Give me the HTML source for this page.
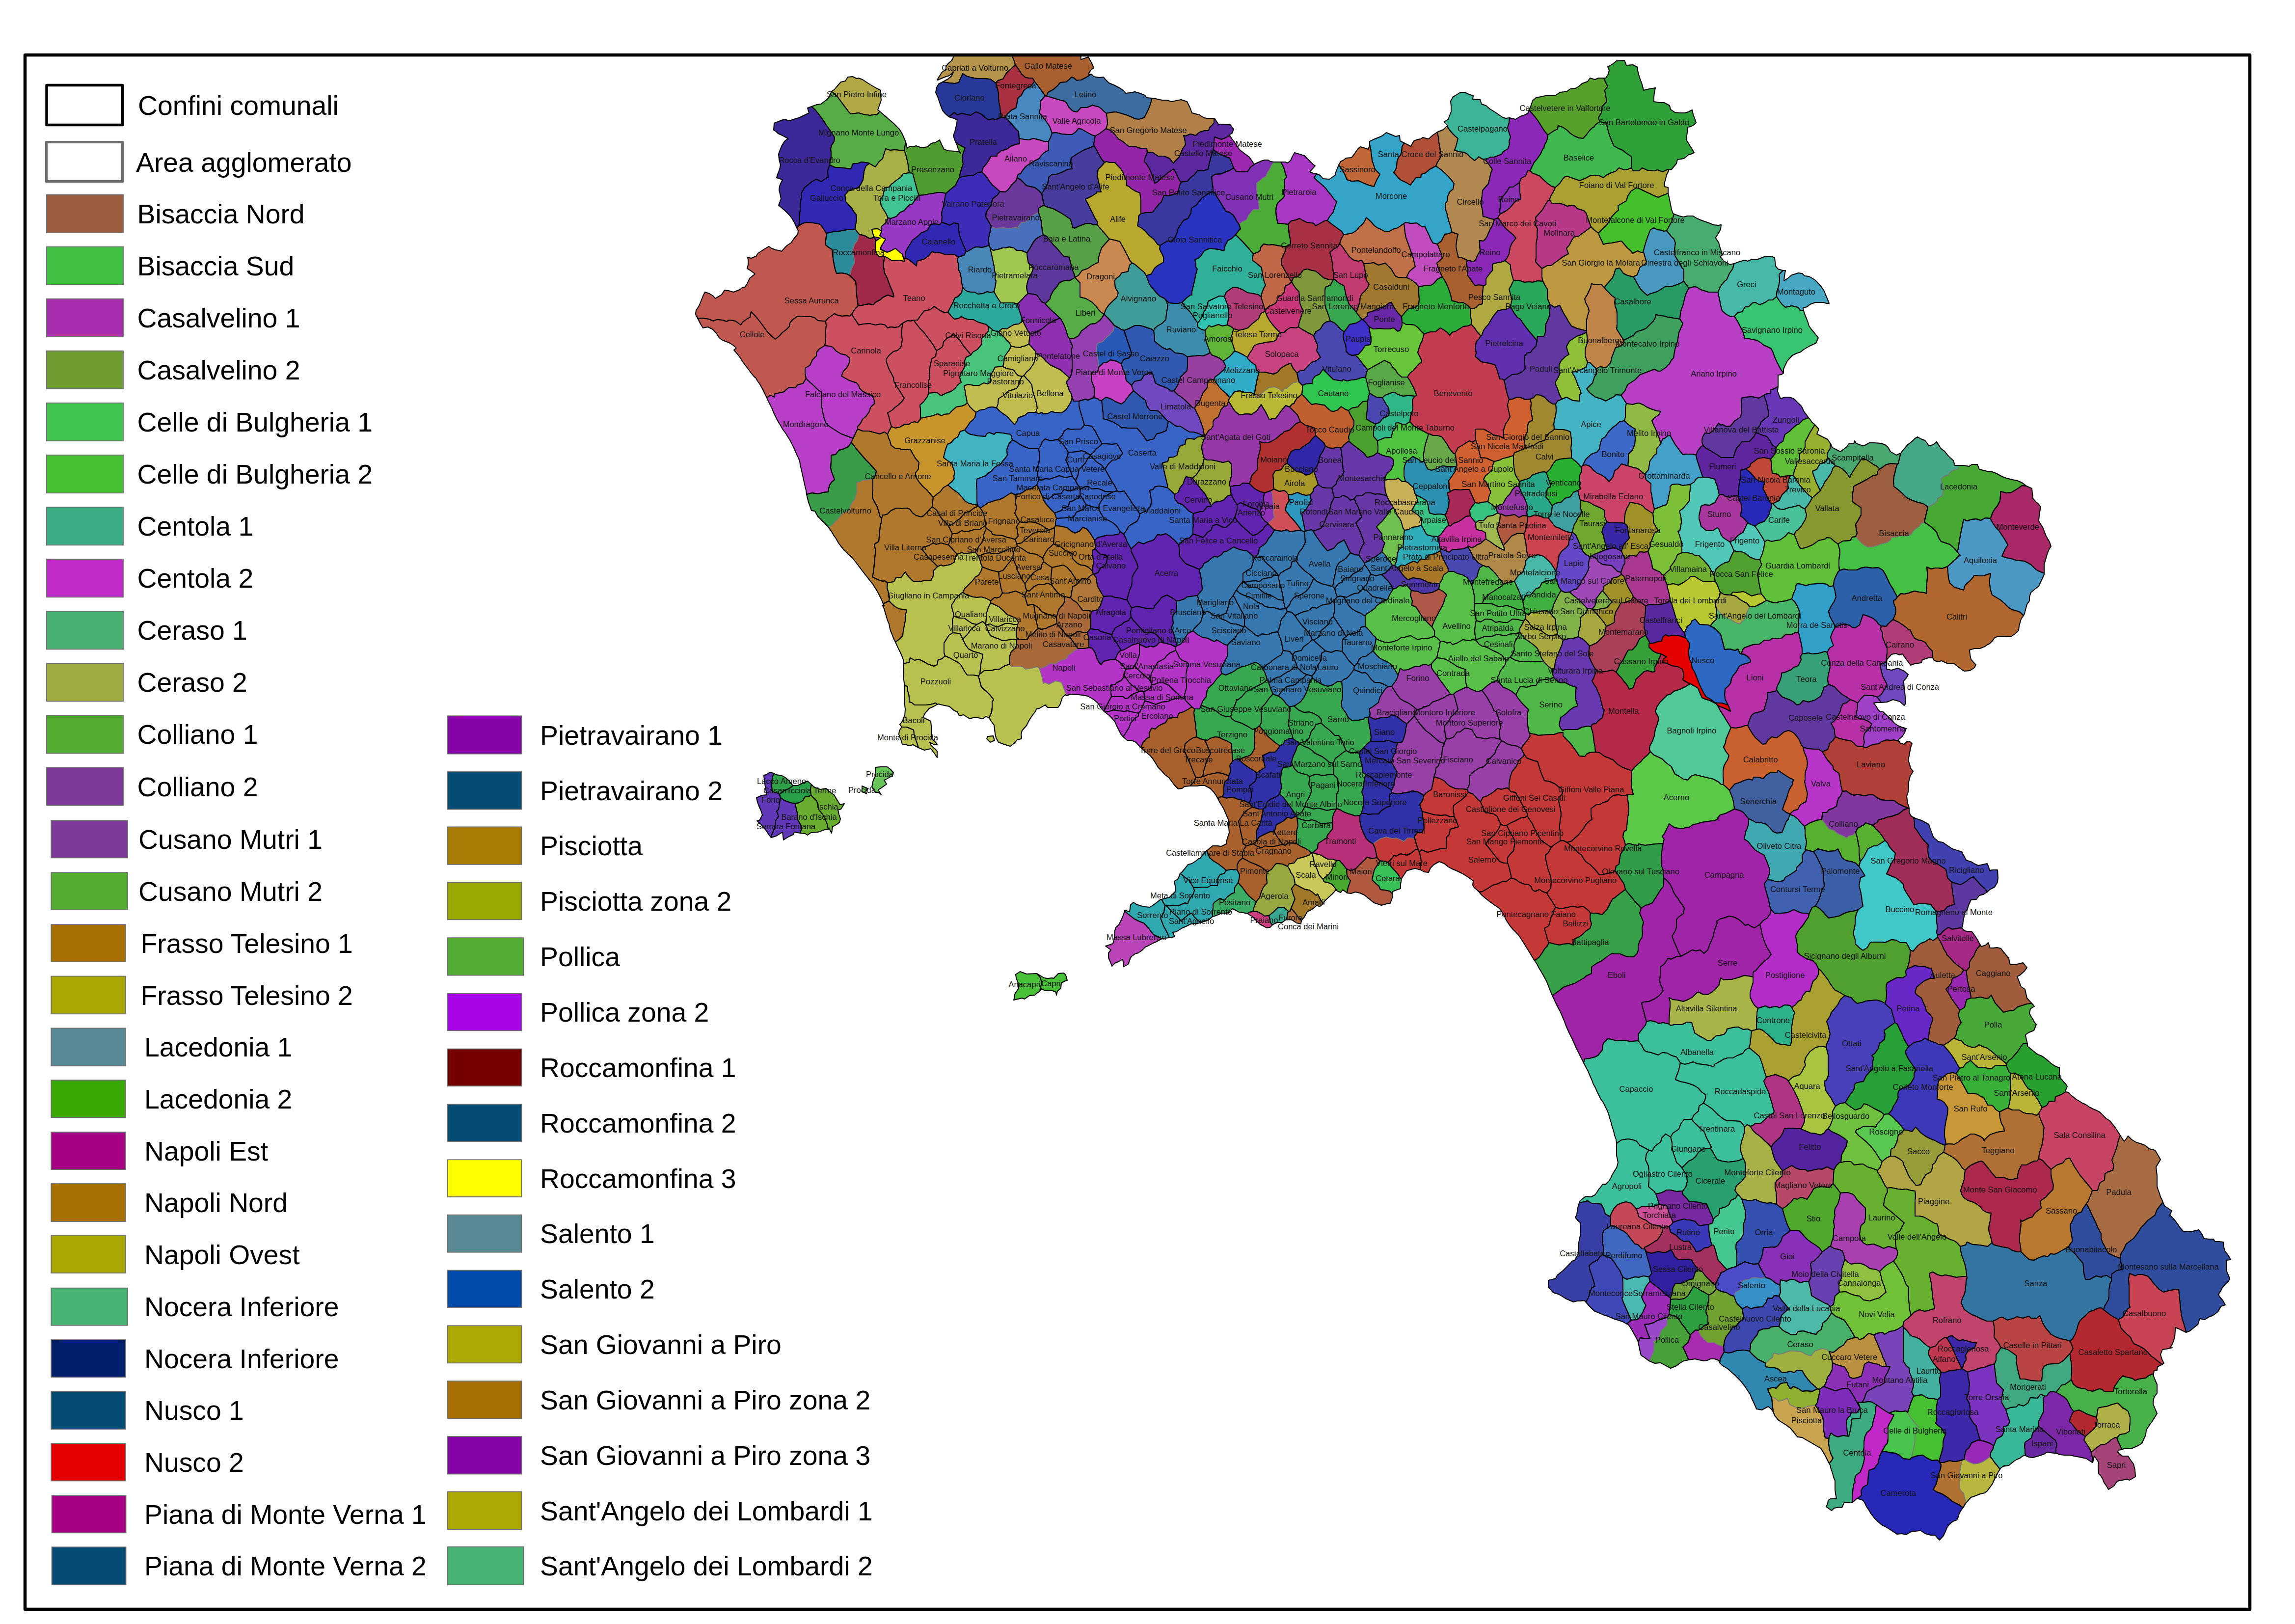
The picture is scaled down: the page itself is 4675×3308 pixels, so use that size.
<!DOCTYPE html><html><head><meta charset="utf-8"><title>Agglomerati Campania</title><style>
html,body{margin:0;padding:0;background:#fff}body{width:4675px;height:3308px;overflow:hidden}
svg{display:block}text{font-family:"Liberation Sans",sans-serif}
.lg{font-size:55.3px;fill:#000}.lb{font-size:16.5px;fill:#151515;text-anchor:middle}
.sw{stroke:#6e6e6e;stroke-width:1.8}
#map path{stroke:#000;stroke-width:2;stroke-linejoin:round}
#map .zf path{stroke:#787878;stroke-width:1.6}#map .ol path{fill:none}
</style></head><body>
<svg width="4675" height="3308" viewBox="0 0 4675 3308">
<rect width="4675" height="3308" fill="#fff"/>
<defs><clipPath id="fr"><rect x="51" y="112" width="4532" height="3166"/></clipPath></defs>
<g id="map" clip-path="url(#fr)">
<g class="zf">
<path fill="#6c389c" d="M2071,364 2069,369 2062,375 2054,386 2048,391 2037,390 2031,398 2028,400 2022,405 2018,419 2013,426 2009,432 2008,441 2013,450 2019,460 2020,463 2029,465 2044,464 2052,465 2059,465 2069,463 2076,466 2074,462 2081,453 2089,453 2098,443 2113,434 2116,434 2116,424 2124,419 2128,419 2125,411 2124,403 2122,395 2117,389 2108,382 2099,380 2091,378 2085,372 2078,365 2072,362Z"/>
<path fill="#4870bc" d="M2092,515 2099,504 2105,493 2111,486 2116,483 2125,478 2123,469 2122,460 2121,451 2119,443 2116,434 2113,434 2098,443 2089,453 2081,453 2074,462 2076,466 2069,463 2059,465 2052,465 2044,464 2029,465 2020,463 2019,460 2017,471 2014,484 2014,493 2015,500 2017,505 2023,510 2033,508 2042,505 2047,505 2056,503 2065,505 2071,510 2080,510Z"/>
<path fill="#2c8c9c" d="M1683,475 1683,481 1682,490 1682,499 1688,504 1695,508 1696,517 1697,527 1699,538 1701,548 1704,557 1715,556 1725,558 1731,561 1734,549 1738,540 1741,535 1740,527 1738,518 1737,509 1741,497 1746,491 1748,485 1750,477 1746,472 1742,467 1736,468 1725,468 1714,470 1706,472 1697,472 1689,474Z"/>
<path fill="#a02848" d="M1741,535 1738,540 1734,549 1731,561 1737,567 1743,573 1744,583 1744,592 1745,601 1746,609 1747,616 1748,623 1755,622 1770,619 1779,621 1783,616 1794,610 1798,606 1808,601 1821,605 1819,596 1815,587 1811,577 1807,566 1802,556 1800,545 1800,534 1802,523 1803,522 1791,523 1787,518 1783,512 1783,503 1783,492 1784,490 1781,483 1772,486 1761,480 1750,477 1748,485 1746,491 1741,497 1737,509 1738,518 1740,527Z"/>
<path fill="#8030b4" d="M2595,330 2588,329 2583,326 2576,326 2569,328 2565,330 2556,334 2547,341 2541,350 2527,350 2518,349 2513,342 2505,347 2497,350 2488,354 2475,355 2468,360 2469,369 2470,377 2471,384 2471,391 2475,393 2479,401 2484,409 2489,417 2493,424 2498,431 2504,432 2512,438 2517,446 2520,452 2524,457 2530,452 2539,448 2544,438 2553,427 2563,427 2565,427 2564,411 2562,403 2561,394 2560,385 2560,375 2560,373 2564,370 2572,363 2579,359 2581,353 2586,346 2590,337Z"/>
<path fill="#4cac38" d="M2595,330 2590,337 2586,346 2581,353 2579,359 2572,363 2564,370 2560,373 2560,375 2560,385 2561,394 2562,403 2564,411 2565,427 2563,427 2553,427 2544,438 2539,448 2530,452 2524,457 2527,466 2524,469 2517,478 2524,485 2532,493 2540,502 2547,510 2553,517 2562,514 2567,510 2568,504 2574,497 2584,499 2592,498 2602,500 2614,502 2620,502 2627,499 2629,496 2628,486 2626,477 2625,467 2624,457 2617,456 2609,455 2603,455 2600,442 2599,430 2600,420 2603,413 2613,404 2616,400 2615,391 2617,379 2616,366 2621,361 2618,352 2616,344 2613,337 2609,330Z"/>
<path fill="#389c48" d="M1693,927 1693,939 1692,953 1694,961 1697,969 1700,977 1694,982 1690,988 1688,995 1687,1002 1677,1003 1667,1006 1654,1004 1643,1007 1645,1015 1647,1023 1650,1031 1653,1040 1660,1041 1666,1052 1673,1059 1680,1066 1686,1072 1689,1076 1691,1073 1698,1066 1708,1056 1714,1048 1722,1042 1730,1041 1731,1033 1735,1025 1742,1015 1745,1002 1745,990 1745,982 1752,982 1757,978 1764,978 1778,976 1783,969 1785,960 1779,953 1772,945 1764,937 1757,929 1750,921 1744,914 1739,907 1734,901 1728,910 1717,915 1709,917 1702,926Z"/>
<path fill="#b0782c" d="M1745,982 1745,990 1745,1002 1742,1015 1735,1025 1731,1033 1730,1041 1722,1042 1714,1048 1708,1056 1698,1066 1691,1073 1689,1076 1694,1083 1698,1090 1703,1097 1708,1106 1714,1114 1720,1121 1727,1128 1733,1133 1736,1136 1740,1141 1744,1146 1750,1154 1756,1162 1763,1171 1770,1180 1778,1190 1783,1198 1788,1206 1792,1214 1796,1222 1799,1230 1811,1224 1812,1217 1810,1208 1807,1197 1808,1187 1802,1183 1798,1184 1789,1181 1777,1175 1779,1167 1780,1159 1781,1148 1782,1137 1783,1127 1783,1118 1781,1110 1783,1107 1787,1105 1790,1103 1791,1093 1792,1082 1793,1072 1795,1064 1796,1056 1792,1051 1790,1042 1787,1033 1783,1025 1779,1018 1777,1012 1777,1005 1778,997 1778,987 1778,976 1764,978 1757,978 1752,982Z"/>
<path fill="#2858b8" d="M2290,673 2284,671 2276,666 2270,663 2268,673 2260,682 2252,689 2246,696 2236,699 2234,705 2233,715 2235,725 2237,737 2238,748 2248,739 2255,738 2262,733 2275,736 2284,741 2289,732 2300,729 2305,720 2302,710 2299,701 2296,693 2294,686 2292,680Z"/>
<path fill="#9440b0" d="M2270,663 2265,657 2260,651 2255,646 2249,640 2245,647 2240,653 2231,659 2222,660 2216,664 2210,669 2203,674 2197,684 2188,689 2178,689 2181,697 2185,705 2182,713 2183,721 2184,730 2184,740 2184,751 2183,761 2179,770 2179,770 2172,778 2175,786 2178,795 2182,802 2184,810 2187,817 2198,817 2211,813 2216,815 2228,810 2230,800 2230,792 2227,785 2224,777 2223,768 2224,758 2236,758 2238,748 2237,737 2235,725 2233,715 2234,705 2236,699 2246,696 2252,689 2260,682 2268,673Z"/>
<path fill="#b8b834" d="M2585,789 2576,796 2570,801 2563,811 2556,804 2548,799 2538,800 2525,796 2515,798 2505,810 2503,814 2503,818 2507,824 2511,831 2516,838 2525,845 2539,843 2550,844 2560,837 2569,824 2569,824 2573,831 2578,839 2582,847 2586,855 2591,853 2598,853 2602,848 2609,838 2619,826 2627,829 2632,823 2636,822 2637,819 2642,811 2652,803 2653,794 2653,785 2646,778 2635,779 2624,788 2621,791 2617,791 2612,798 2611,797 2606,792 2597,788Z"/>
<path fill="#a07828" d="M2629,740 2621,743 2609,750 2603,758 2594,762 2585,760 2581,759 2574,758 2565,758 2562,767 2560,776 2558,787 2556,798 2556,804 2563,811 2570,801 2576,796 2585,789 2597,788 2606,792 2611,797 2612,798 2617,791 2621,791 2624,788 2635,779 2646,778 2644,769 2642,760 2634,750Z"/>
<path fill="#9030b8" d="M2590,999 2576,1004 2574,1011 2573,1024 2569,1035 2566,1043 2571,1055 2576,1061 2583,1066 2590,1060 2596,1054 2594,1046 2594,1037 2594,1028 2593,1018 2592,1009Z"/>
<path fill="#d05058" d="M2626,1020 2625,1014 2624,1007 2620,1002 2616,999 2606,1001 2595,996 2590,999 2592,1009 2593,1018 2594,1028 2594,1037 2594,1046 2596,1054 2590,1060 2583,1066 2583,1067 2589,1073 2595,1079 2603,1081 2611,1082 2621,1079 2628,1083 2641,1081 2651,1080 2645,1072 2639,1064 2633,1057 2627,1051 2623,1045 2618,1039 2621,1028Z"/>
<path fill="#44c044" d="M3920,1064 3914,1066 3909,1072 3900,1079 3895,1084 3894,1088 3883,1092 3874,1091 3866,1093 3853,1095 3851,1100 3844,1105 3831,1108 3824,1111 3814,1114 3804,1114 3797,1110 3792,1106 3787,1101 3780,1093 3773,1094 3769,1101 3754,1102 3744,1108 3747,1118 3748,1126 3747,1132 3746,1141 3746,1152 3747,1162 3756,1159 3765,1161 3771,1161 3776,1161 3782,1161 3791,1157 3801,1155 3814,1157 3826,1156 3835,1161 3840,1169 3844,1177 3847,1184 3851,1192 3856,1199 3860,1207 3865,1216 3872,1209 3879,1210 3888,1208 3896,1205 3900,1204 3910,1206 3920,1207 3925,1209 3924,1199 3925,1188 3926,1177 3926,1165 3925,1155 3934,1159 3941,1157 3948,1157 3956,1158 3967,1154 3976,1146 3984,1139 3990,1132 3993,1132 3993,1132 3987,1124 3980,1116 3972,1109 3963,1106 3954,1103 3950,1097 3947,1090 3945,1084 3940,1079 3935,1074 3928,1069Z"/>
<path fill="#9c6040" d="M3833,953 3829,955 3825,960 3824,967 3815,969 3802,977 3789,984 3779,989 3776,991 3776,995 3774,1004 3773,1017 3774,1022 3779,1026 3785,1030 3791,1034 3791,1049 3785,1060 3780,1068 3781,1077 3783,1086 3780,1093 3787,1101 3792,1106 3797,1110 3804,1114 3814,1114 3824,1111 3831,1108 3844,1105 3851,1100 3853,1095 3866,1093 3874,1091 3883,1092 3894,1088 3895,1084 3900,1079 3909,1072 3914,1066 3920,1064 3922,1054 3925,1042 3927,1032 3918,1026 3906,1023 3895,1019 3889,1016 3887,1016 3881,1011 3874,1004 3866,997 3858,991 3857,980 3858,971 3860,963 3862,954 3865,945 3851,944 3841,947Z"/>
<path fill="#48a834" d="M4028,946 4017,946 4011,950 4000,948 3990,948 3989,955 3979,958 3972,962 3969,968 3962,969 3954,975 3956,984 3958,992 3958,1000 3957,1009 3946,1016 3946,1020 3941,1025 3931,1031 3927,1032 3925,1042 3922,1054 3920,1064 3928,1069 3935,1074 3940,1079 3945,1084 3947,1090 3950,1097 3954,1103 3963,1106 3972,1109 3980,1116 3987,1124 3989,1117 3991,1104 3993,1092 3994,1086 3996,1077 3998,1067 4000,1058 4007,1061 4016,1058 4026,1057 4035,1060 4044,1055 4054,1056 4056,1053 4059,1044 4064,1036 4069,1030 4074,1020 4075,1009 4075,1001 4087,1004 4097,1003 4104,999 4112,994 4119,989 4128,990 4120,984 4114,981 4109,979 4099,977 4087,974 4079,971 4066,964 4058,961 4048,960 4044,959 4032,956Z"/>
<path fill="#44a888" d="M3921,897 3913,894 3906,890 3901,893 3895,899 3887,905 3878,915 3872,923 3872,924 3870,930 3869,935 3867,944 3865,945 3862,954 3860,963 3858,971 3857,980 3858,991 3866,997 3874,1004 3881,1011 3887,1016 3889,1016 3895,1019 3906,1023 3918,1026 3927,1032 3931,1031 3941,1025 3946,1020 3946,1016 3957,1009 3958,1000 3958,992 3956,984 3954,975 3962,969 3969,968 3972,962 3979,958 3989,955 3990,948 3982,948 3979,938 3969,929 3961,919 3953,913 3949,906 3945,900 3938,906 3929,908 3925,902Z"/>
<path fill="#b434c8" d="M2196,1321 2186,1327 2182,1331 2176,1334 2173,1341 2165,1344 2160,1345 2150,1352 2139,1351 2137,1352 2133,1356 2123,1360 2117,1361 2120,1371 2123,1381 2125,1392 2130,1391 2137,1394 2150,1387 2162,1390 2162,1390 2166,1399 2169,1408 2173,1417 2181,1414 2196,1415 2206,1416 2216,1418 2228,1425 2235,1431 2237,1433 2240,1438 2244,1444 2249,1449 2253,1440 2259,1428 2264,1419 2263,1411 2263,1403 2262,1396 2272,1394 2274,1391 2284,1386 2291,1377 2291,1369 2293,1363 2287,1355 2280,1348 2272,1343 2260,1344 2248,1347 2243,1354 2238,1348 2234,1340 2231,1330 2226,1322 2224,1320 2218,1319 2218,1319 2208,1321 2203,1321Z"/>
<path fill="#b8c050" d="M2162,1390 2150,1387 2137,1394 2130,1391 2125,1392 2123,1381 2120,1371 2117,1361 2113,1358 2101,1361 2089,1363 2083,1358 2075,1358 2067,1358 2061,1358 2056,1353 2045,1357 2036,1363 2026,1364 2018,1366 2014,1366 2005,1366 1996,1373 1993,1377 1995,1384 1997,1392 1999,1399 2004,1404 2010,1409 2017,1416 2024,1425 2021,1430 2021,1440 2020,1451 2017,1457 2015,1463 2019,1469 2025,1477 2026,1485 2027,1494 2029,1503 2034,1512 2045,1516 2058,1520 2066,1514 2072,1507 2080,1505 2081,1503 2080,1496 2082,1488 2091,1478 2096,1468 2101,1460 2104,1456 2110,1448 2111,1444 2117,1443 2129,1436 2134,1441 2142,1441 2155,1441 2159,1436 2161,1430 2164,1421 2170,1415 2173,1417 2169,1408 2166,1399 2162,1390Z"/>
<path fill="#a86838" d="M2115,1280 2111,1283 2104,1291 2095,1297 2093,1302 2086,1303 2076,1302 2072,1301 2071,1303 2071,1312 2069,1320 2060,1327 2057,1336 2057,1344 2056,1353 2061,1358 2067,1358 2075,1358 2083,1358 2089,1363 2101,1361 2113,1358 2117,1361 2123,1360 2133,1356 2137,1352 2139,1351 2150,1352 2160,1345 2165,1344 2173,1341 2176,1334 2182,1331 2186,1327 2196,1321 2192,1316 2188,1310 2183,1303 2178,1296 2171,1293 2166,1285 2159,1278 2153,1270 2142,1275 2136,1277 2131,1280 2121,1282Z"/>
<path fill="#3030a8" d="M2899,1619 2888,1613 2876,1611 2872,1613 2860,1615 2850,1617 2846,1617 2835,1615 2831,1618 2830,1626 2831,1634 2833,1642 2825,1644 2813,1652 2808,1658 2798,1658 2786,1659 2783,1657 2773,1657 2770,1661 2770,1671 2772,1682 2775,1691 2779,1700 2783,1708 2789,1714 2797,1719 2805,1713 2813,1708 2824,1705 2835,1708 2844,1707 2854,1711 2860,1714 2867,1707 2875,1707 2882,1708 2881,1704 2887,1696 2896,1696 2901,1687 2900,1675 2898,1664 2897,1653 2892,1639 2896,1633 2899,1627 2900,1621Z"/>
<path fill="#c43838" d="M2828,1757 2833,1751 2840,1742 2844,1744 2853,1739 2866,1742 2874,1738 2884,1730 2889,1731 2885,1719 2882,1708 2875,1707 2867,1707 2860,1714 2854,1711 2844,1707 2835,1708 2824,1705 2813,1708 2805,1713 2797,1719 2801,1728 2803,1737 2805,1747 2811,1754 2820,1754Z"/>
<path fill="#48b468" d="M3612,1300 3620,1301 3629,1300 3637,1293 3648,1293 3656,1289 3663,1288 3663,1282 3664,1273 3664,1262 3665,1252 3665,1244 3661,1234 3656,1226 3650,1220 3637,1224 3624,1226 3617,1228 3611,1227 3605,1225 3598,1223 3590,1228 3574,1236 3564,1236 3560,1244 3556,1253 3553,1261 3544,1271 3535,1268 3526,1262 3518,1258 3511,1254 3502,1246 3496,1239 3497,1251 3496,1262 3489,1268 3484,1275 3492,1279 3499,1286 3505,1292 3507,1300 3509,1307 3511,1315 3513,1323 3524,1322 3534,1325 3540,1322 3545,1332 3547,1332 3550,1323 3554,1319 3560,1317 3571,1313 3584,1312 3594,1304 3605,1304 3611,1300Z"/>
<path fill="#a8a840" d="M3544,1271 3553,1261 3556,1253 3560,1244 3564,1236 3559,1229 3553,1226 3544,1221 3537,1215 3532,1213 3525,1212 3512,1211 3504,1206 3503,1214 3499,1221 3494,1224 3494,1231 3496,1239 3502,1246 3511,1254 3518,1258 3526,1262 3535,1268Z"/>
<path fill="#8038a0" d="M3741,1642 3733,1647 3726,1649 3721,1655 3713,1655 3712,1661 3711,1669 3718,1678 3725,1688 3730,1690 3736,1692 3745,1699 3755,1703 3762,1707 3766,1703 3775,1701 3780,1695 3784,1687 3797,1680 3800,1676 3806,1678 3815,1681 3825,1674 3826,1670 3835,1668 3846,1664 3853,1663 3867,1658 3874,1653 3877,1650 3887,1646 3877,1642 3867,1637 3859,1631 3850,1630 3840,1630 3832,1629 3824,1625 3816,1619 3807,1619 3797,1621 3789,1619 3783,1618 3777,1620 3769,1617 3761,1611 3753,1612 3749,1622 3745,1626 3743,1632Z"/>
<path fill="#58b030" d="M3679,1731 3694,1735 3703,1729 3718,1733 3723,1734 3726,1734 3738,1733 3744,1729 3747,1735 3750,1742 3753,1748 3761,1753 3772,1755 3780,1758 3787,1765 3789,1756 3788,1746 3787,1736 3787,1726 3785,1716 3783,1705 3780,1695 3775,1701 3766,1703 3762,1707 3755,1703 3745,1699 3736,1692 3730,1690 3725,1688 3718,1678 3711,1669 3700,1671 3687,1676 3676,1683 3677,1690 3677,1698 3678,1706 3680,1714 3679,1722 3677,1730Z"/>
<path fill="#48a038" d="M3415,2682 3408,2680 3400,2677 3396,2684 3396,2688 3396,2693 3395,2700 3385,2709 3382,2715 3379,2727 3368,2733 3370,2738 3369,2741 3369,2751 3364,2763 3359,2772 3371,2777 3381,2776 3383,2776 3392,2781 3403,2787 3408,2785 3415,2782 3423,2776 3430,2772 3440,2770 3436,2761 3432,2752 3428,2744 3438,2735 3442,2726 3443,2719 3437,2712 3432,2704 3426,2697 3421,2689Z"/>
<path fill="#9848c8" d="M3396,2684 3392,2684 3385,2687 3375,2690 3369,2694 3359,2697 3350,2698 3353,2705 3355,2712 3358,2719 3361,2726 3354,2727 3341,2725 3337,2735 3339,2743 3341,2753 3343,2761 3347,2763 3351,2766 3359,2772 3364,2763 3369,2751 3369,2741 3370,2738 3368,2733 3379,2727 3382,2715 3385,2709 3395,2700 3396,2693 3396,2688Z"/>
<path fill="#70a030" d="M3496,2625 3490,2633 3481,2638 3481,2646 3479,2656 3475,2670 3476,2677 3479,2681 3479,2692 3480,2697 3474,2699 3464,2707 3459,2710 3464,2720 3471,2728 3479,2735 3492,2735 3501,2740 3511,2743 3513,2731 3516,2723 3525,2711 3529,2704 3536,2701 3545,2691 3552,2686 3551,2678 3549,2666 3545,2662 3541,2658 3537,2653 3532,2640 3525,2638 3517,2633 3508,2631 3501,2628Z"/>
<path fill="#a82cb0" d="M3443,2719 3442,2726 3438,2735 3428,2744 3432,2752 3436,2761 3440,2770 3453,2768 3461,2770 3471,2772 3478,2771 3484,2768 3493,2768 3501,2771 3503,2776 3504,2769 3508,2761 3512,2754 3511,2743 3501,2740 3492,2735 3479,2735 3471,2728 3464,2720 3459,2710 3454,2709Z"/>
<path fill="#3890c8" d="M3547,2611 3548,2622 3544,2628 3536,2632 3532,2640 3537,2653 3541,2658 3545,2662 3549,2666 3558,2661 3567,2666 3575,2663 3589,2662 3591,2661 3597,2654 3601,2644 3610,2645 3614,2639 3624,2640 3627,2632 3626,2618 3618,2614 3606,2605 3597,2602 3596,2602 3588,2604 3575,2602 3568,2603 3564,2606 3555,2607Z"/>
<path fill="#4c4cc8" d="M3596,2602 3597,2602 3593,2595 3589,2588 3585,2581 3582,2574 3572,2575 3563,2573 3554,2570 3547,2574 3537,2579 3536,2580 3525,2583 3518,2586 3512,2590 3506,2592 3503,2599 3498,2608 3494,2618 3496,2625 3501,2628 3508,2631 3517,2633 3525,2638 3532,2640 3536,2632 3544,2628 3548,2622 3547,2611 3555,2607 3564,2606 3568,2603 3575,2602 3588,2604Z"/>
<path fill="#48b068" d="M3731,2674 3728,2679 3721,2689 3713,2695 3712,2700 3710,2708 3704,2712 3699,2718 3691,2716 3683,2714 3674,2711 3663,2712 3659,2718 3649,2719 3642,2715 3637,2713 3631,2709 3624,2702 3614,2702 3607,2703 3604,2706 3591,2707 3582,2711 3580,2718 3575,2724 3570,2731 3566,2737 3566,2745 3564,2752 3565,2754 3573,2762 3581,2769 3589,2773 3597,2777 3605,2769 3611,2765 3612,2760 3614,2756 3623,2759 3631,2757 3643,2753 3645,2752 3657,2752 3665,2753 3670,2754 3679,2759 3689,2762 3697,2752 3712,2747 3721,2749 3726,2753 3734,2755 3741,2750 3745,2746 3755,2740 3763,2729 3770,2727 3779,2724 3774,2716 3769,2707 3763,2698 3757,2689 3748,2685 3739,2681Z"/>
<path fill="#a0b040" d="M3643,2753 3631,2757 3623,2759 3614,2756 3612,2760 3611,2765 3605,2769 3597,2777 3597,2784 3607,2786 3615,2786 3623,2789 3629,2795 3634,2796 3640,2795 3647,2793 3655,2796 3660,2791 3671,2792 3677,2802 3683,2810 3689,2817 3696,2823 3702,2829 3706,2830 3715,2824 3719,2818 3721,2811 3723,2805 3727,2800 3732,2790 3733,2776 3731,2768 3729,2761 3726,2753 3721,2749 3712,2747 3697,2752 3689,2762 3679,2759 3670,2754 3665,2753 3657,2752 3645,2752Z"/>
<path fill="#c8a450" d="M3616,2885 3618,2887 3623,2893 3631,2898 3639,2903 3647,2909 3652,2915 3659,2924 3662,2927 3671,2928 3681,2934 3690,2939 3700,2945 3709,2950 3714,2958 3718,2965 3722,2973 3726,2981 3731,2975 3734,2970 3730,2963 3727,2954 3725,2942 3725,2930 3718,2929 3716,2919 3714,2909 3714,2901 3714,2893 3713,2887 3713,2887 3710,2881 3706,2875 3703,2869 3698,2863 3684,2864 3677,2867 3666,2869 3660,2867 3655,2865 3646,2861 3641,2848 3629,2853 3623,2854 3616,2848 3609,2847 3610,2857 3611,2866 3612,2876Z"/>
<path fill="#90b030" d="M3609,2847 3616,2848 3623,2854 3629,2853 3641,2848 3646,2861 3655,2865 3660,2867 3666,2869 3677,2867 3684,2864 3698,2863 3702,2857 3704,2847 3707,2835 3706,2830 3702,2829 3692,2834 3679,2833 3671,2834 3664,2829 3653,2824 3647,2829 3643,2823 3640,2816 3627,2818 3618,2828 3612,2826 3601,2829 3602,2833 3605,2840Z"/>
<path fill="#48c44c" d="M3908,2907 3902,2900 3897,2894 3893,2889 3889,2883 3886,2877 3882,2874 3877,2875 3869,2875 3860,2874 3851,2877 3849,2879 3858,2882 3854,2891 3849,2899 3846,2905 3846,2912 3846,2921 3846,2931 3845,2939 3840,2945 3834,2956 3833,2957 3842,2957 3850,2959 3861,2960 3869,2964 3877,2971 3885,2972 3890,2973 3894,2969 3897,2955 3900,2943 3901,2933 3901,2924 3903,2917Z"/>
<path fill="#44c030" d="M3908,2907 3903,2917 3901,2924 3901,2933 3900,2943 3897,2955 3894,2969 3907,2965 3917,2964 3925,2970 3935,2975 3947,2974 3951,2978 3951,2979 3951,2972 3955,2959 3958,2947 3958,2939 3959,2932 3963,2922 3958,2915 3954,2908 3948,2904 3943,2899 3945,2892 3945,2886 3944,2878 3944,2867 3946,2858 3947,2851 3939,2849 3930,2849 3923,2846 3915,2841 3908,2842 3898,2844 3895,2851 3892,2858 3889,2868 3886,2877 3889,2883 3893,2889 3897,2894 3902,2900Z"/>
<path fill="#b8b840" d="M4061,3017 4066,3007 4070,2999 4074,2993 4069,2986 4063,2979 4059,2973 4054,2967 4049,2971 4038,2978 4029,2981 4020,2982 4009,2977 4002,2972 3997,2974 3994,2986 3992,2998 3993,3008 3992,3020 3991,3031 3995,3037 4000,3042 4002,3052 4005,3061 4015,3050 4024,3047 4034,3043 4043,3041 4048,3037 4054,3029 4059,3022Z"/>
<path fill="#9828b8" d="M4002,2972 4009,2977 4020,2982 4029,2981 4038,2978 4049,2971 4054,2967 4055,2959 4060,2951 4061,2945 4054,2940 4043,2936 4034,2934 4030,2933 4016,2939 4011,2949 4005,2954 4002,2965Z"/>
<path fill="#b07030" d="M3947,3012 3944,3023 3938,3034 3945,3039 3951,3041 3958,3044 3967,3050 3975,3057 3984,3062 3992,3066 3999,3071 4003,3064 4005,3061 4002,3052 4000,3042 3995,3037 3991,3031 3992,3020 3993,3008 3992,2998 3994,2986 3997,2974 3985,2977 3978,2977 3972,2975 3959,2979 3951,2979 3951,2978 3954,2984 3953,2992 3949,3002Z"/>
</g>
<path fill="#b4944a" d="M2017,161 2024,166 2028,169 2033,164 2043,161 2050,149 2060,140 2068,132 2065,121 2061,113 2059,107 2050,103 2042,103 2032,103 2020,102 2012,105 2001,106 1988,106 1981,109 1972,106 1964,105 1960,106 1944,109 1941,119 1938,124 1933,128 1927,135 1927,141 1919,147 1913,156 1909,163 1910,163 1917,160 1927,156 1934,154 1942,147 1938,155 1931,161 1920,167 1934,169 1945,170 1953,168 1956,161 1958,157 1961,150 1969,155 1979,158 1990,160 1999,160 2007,160 2015,161Z"/>
<path fill="#a86030" d="M2201,107 2191,110 2185,104 2176,103 2165,101 2154,100 2140,107 2129,108 2123,107 2115,105 2107,101 2097,103 2085,108 2075,108 2068,108 2059,107 2061,113 2065,121 2068,132 2072,137 2076,143 2081,151 2089,158 2096,159 2103,159 2107,165 2107,166 2113,173 2118,180 2124,188 2129,195 2132,196 2135,188 2146,182 2154,175 2160,168 2172,167 2178,162 2183,157 2188,159 2193,164 2198,163 2202,163 2212,158 2223,151 2217,151 2222,143 2228,138 2223,127 2217,116 2203,121 2202,121Z"/>
<path fill="#a83040" d="M2028,169 2029,170 2032,181 2034,191 2034,200 2035,209 2037,219 2038,229 2040,239 2048,239 2052,232 2061,224 2068,221 2070,219 2072,209 2074,199 2080,195 2086,184 2094,178 2101,175 2107,166 2107,165 2103,159 2096,159 2089,158 2081,151 2076,143 2072,137 2068,132 2060,140 2050,149 2043,161 2033,164Z"/>
<path fill="#283898" d="M1953,168 1945,170 1934,169 1920,167 1912,171 1908,178 1906,188 1910,197 1913,206 1916,215 1920,225 1926,232 1933,238 1944,229 1950,234 1959,231 1968,233 1977,235 1988,228 1998,232 2005,238 2013,244 2023,242 2027,244 2040,239 2038,229 2037,219 2035,209 2034,200 2034,191 2032,181 2029,170 2028,169 2024,166 2017,161 2015,161 2007,160 1999,160 1990,160 1979,158 1969,155 1961,150 1958,157 1956,161Z"/>
<path fill="#b0a844" d="M1727,157 1722,165 1713,167 1704,177 1700,182 1694,186 1701,192 1708,200 1714,208 1719,215 1724,221 1728,227 1733,232 1742,231 1749,230 1759,233 1772,235 1784,233 1786,234 1792,227 1788,224 1792,213 1795,204 1794,195 1794,184 1786,180 1779,176 1769,170 1757,162 1749,159 1745,160 1737,156Z"/>
<path fill="#58ac48" d="M1653,217 1661,224 1668,233 1674,241 1679,248 1683,255 1687,260 1691,266 1695,272 1700,280 1699,288 1694,296 1692,303 1693,312 1693,320 1691,328 1690,336 1701,341 1710,341 1725,343 1733,344 1738,333 1747,333 1755,330 1770,332 1771,333 1783,340 1791,329 1798,323 1801,313 1804,303 1813,306 1823,305 1832,306 1842,306 1845,289 1841,280 1837,271 1832,263 1826,257 1820,251 1813,245 1805,238 1798,232 1792,227 1786,234 1784,233 1772,235 1759,233 1749,230 1742,231 1733,232 1728,227 1724,221 1719,215 1714,208 1708,200 1701,192 1694,186 1689,198 1684,203 1672,212 1664,213Z"/>
<path fill="#3c2898" d="M1700,280 1695,272 1691,266 1687,260 1683,255 1679,248 1674,241 1668,233 1661,224 1653,217 1645,220 1648,230 1638,235 1627,240 1620,242 1608,246 1598,243 1592,245 1582,249 1577,251 1576,265 1581,268 1585,272 1594,276 1605,282 1598,288 1593,296 1590,303 1588,308 1586,314 1587,325 1590,336 1588,345 1584,355 1582,362 1594,366 1590,374 1588,379 1587,387 1589,395 1591,405 1586,418 1593,424 1600,430 1608,438 1614,446 1619,455 1623,464 1628,459 1629,448 1629,438 1630,427 1630,418 1631,410 1632,405 1633,401 1632,394 1639,382 1643,379 1654,370 1663,365 1673,370 1683,363 1687,361 1686,348 1690,336 1691,328 1693,320 1693,312 1692,303 1694,296 1699,288Z"/>
<path fill="#509c30" d="M1845,289 1842,306 1845,315 1847,323 1849,331 1850,338 1851,345 1852,352 1859,353 1861,360 1863,368 1865,375 1867,383 1869,390 1872,398 1884,397 1893,395 1901,394 1910,392 1918,392 1927,394 1936,386 1942,381 1945,379 1947,377 1947,376 1951,368 1954,362 1956,353 1959,342 1962,334 1961,328 1960,321 1962,312 1966,301 1956,296 1947,290 1950,297 1952,304 1957,313 1953,309 1945,308 1931,307 1923,304 1918,294 1914,285 1906,290 1897,292 1890,299 1877,301 1866,297 1860,299 1853,298 1848,302Z"/>
<path fill="#a8b048" d="M1783,340 1771,333 1764,338 1760,349 1759,358 1758,366 1753,376 1748,383 1742,384 1728,389 1721,397 1723,411 1729,418 1735,424 1739,431 1744,437 1745,448 1743,457 1742,467 1746,472 1750,477 1761,480 1772,486 1781,483 1782,482 1780,482 1778,475 1776,467 1788,466 1795,470 1796,461 1802,456 1806,452 1809,444 1805,435 1800,427 1795,419 1793,406 1799,398 1801,388 1802,383 1811,381 1817,374 1818,374 1825,368 1836,360 1840,354 1852,352 1851,345 1850,338 1849,331 1847,323 1845,315 1842,306 1832,306 1823,305 1813,306 1804,303 1801,313 1798,323 1791,329Z"/>
<path fill="#40c494" d="M1872,398 1869,390 1867,383 1865,375 1863,368 1861,360 1859,353 1852,352 1840,354 1836,360 1825,368 1818,374 1817,374 1811,381 1802,383 1801,388 1799,398 1793,406 1795,419 1800,427 1805,435 1809,444 1815,445 1826,441 1833,433 1842,429 1848,422 1853,417 1858,416 1865,406Z"/>
<path fill="#3028b4" d="M1690,336 1686,348 1687,361 1683,363 1673,370 1663,365 1654,370 1643,379 1639,382 1632,394 1633,401 1632,405 1631,410 1630,418 1630,427 1629,438 1629,448 1628,459 1638,454 1645,453 1656,454 1671,457 1678,467 1683,475 1689,474 1697,472 1706,472 1714,470 1725,468 1736,468 1742,467 1743,457 1745,448 1744,437 1739,431 1735,424 1729,418 1723,411 1721,397 1728,389 1742,384 1748,383 1753,376 1758,366 1759,358 1760,349 1764,338 1771,333 1770,332 1755,330 1747,333 1738,333 1733,344 1725,343 1710,341 1701,341Z"/>
<path fill="#9838c4" d="M1918,453 1919,442 1918,436 1919,430 1922,420 1924,409 1925,402 1927,394 1918,392 1910,392 1901,394 1893,395 1884,397 1872,398 1865,406 1858,416 1853,417 1848,422 1842,429 1833,433 1826,441 1815,445 1809,444 1806,452 1802,456 1796,461 1795,470 1796,471 1792,480 1799,485 1804,487 1798,497 1794,505 1795,508 1807,514 1815,511 1824,506 1828,510 1838,518 1841,526 1844,526 1845,513 1849,505 1853,499 1859,489 1866,484 1872,479 1877,474 1883,472 1890,468 1896,457 1904,456 1914,458ZM1782,482 1781,483 1784,490 1793,485Z"/>
<path fill="#3c2cb8" d="M1954,362 1951,368 1947,376 1947,377 1945,379 1942,381 1936,386 1927,394 1925,402 1924,409 1922,420 1919,430 1918,436 1919,442 1918,453 1925,455 1935,459 1943,454 1952,456 1952,462 1953,469 1954,477 1957,486 1960,494 1964,503 1968,512 1971,512 1983,505 1988,503 2001,504 2015,500 2014,493 2014,484 2017,471 2019,460 2013,450 2008,441 2009,432 2013,426 2018,419 2022,405 2028,400 2031,398 2037,390 2029,383 2022,377 2016,370 2011,362 2005,355 2000,350 1991,352 1981,358 1972,358 1963,359Z"/>
<path fill="#3c2898" d="M2077,293 2076,282 2075,268 2068,261 2063,255 2058,250 2054,245 2048,239 2040,239 2027,244 2023,242 2013,244 2005,238 1998,232 1988,228 1977,235 1968,233 1959,231 1950,234 1944,229 1933,238 1936,239 1943,241 1950,244 1948,256 1945,268 1942,276 1944,283 1947,290 1956,296 1966,301 1962,312 1960,321 1961,328 1962,334 1959,342 1956,353 1954,362 1963,359 1972,358 1981,358 1991,352 2000,350 2003,341 2010,333 2014,327 2019,318 2031,318 2031,314 2040,307 2051,304 2059,298 2070,294Z"/>
<path fill="#4888c0" d="M2070,219 2068,221 2061,224 2052,232 2048,239 2054,245 2058,250 2063,255 2068,261 2075,268 2076,282 2086,284 2096,285 2105,282 2117,285 2127,288 2136,288 2140,280 2143,271 2138,257 2133,250 2127,241 2118,231 2118,226 2120,217 2119,207 2124,201 2129,195 2124,188 2118,180 2113,173 2107,166 2101,175 2094,178 2086,184 2080,195 2074,199 2072,209Z"/>
<path fill="#c848c0" d="M2113,325 2117,323 2121,317 2127,311 2136,306 2136,297 2136,288 2127,288 2117,285 2105,282 2096,285 2086,284 2076,282 2077,293 2070,294 2059,298 2051,304 2040,307 2031,314 2031,318 2019,318 2014,327 2010,333 2003,341 2000,350 2005,355 2011,362 2016,370 2022,377 2029,383 2037,390 2048,391 2054,386 2062,375 2069,369 2071,364 2072,362 2074,355 2079,354 2083,347 2091,338 2100,332 2107,328Z"/>
<path fill="#c848c0" d="M2129,195 2124,201 2119,207 2120,217 2118,226 2118,231 2127,241 2133,250 2138,257 2143,271 2151,270 2163,273 2174,274 2184,274 2191,269 2197,262 2203,263 2210,267 2217,271 2224,275 2231,277 2240,272 2253,262 2256,253 2256,247 2255,240 2254,231 2248,226 2243,221 2237,217 2231,216 2226,214 2214,219 2202,219 2194,228 2185,226 2177,218 2173,210 2169,206 2160,204 2147,200 2137,197 2132,196Z"/>
<path fill="#3c6ca0" d="M2248,157 2239,158 2228,156 2223,151 2212,158 2202,163 2198,163 2193,164 2188,159 2183,157 2178,162 2172,167 2160,168 2154,175 2146,182 2135,188 2132,196 2137,197 2147,200 2160,204 2169,206 2173,210 2177,218 2185,226 2194,228 2202,219 2214,219 2226,214 2231,216 2237,217 2243,221 2248,226 2254,231 2263,229 2273,228 2284,231 2294,234 2304,238 2312,242 2320,243 2327,241 2331,239 2336,230 2341,219 2344,210 2347,200 2336,199 2332,194 2322,190 2312,187 2301,189 2293,190 2289,185 2282,180 2271,174 2259,169 2252,162Z"/>
<path fill="#3c5cb8" d="M2197,262 2191,269 2184,274 2174,274 2163,273 2151,270 2143,271 2140,280 2136,288 2136,297 2136,306 2127,311 2121,317 2117,323 2113,325 2107,328 2100,332 2091,338 2083,347 2079,354 2074,355 2072,362 2078,365 2085,372 2091,378 2099,380 2108,382 2117,389 2122,395 2128,385 2134,375 2136,367 2136,361 2142,356 2152,355 2163,351 2175,345 2184,344 2181,330 2182,323 2184,320 2195,313 2207,306 2220,301 2229,297 2228,294 2229,288 2231,277 2224,275 2217,271 2210,267 2203,263Z"/>
<path fill="#483c9c" d="M2184,320 2182,323 2181,330 2184,344 2175,345 2163,351 2152,355 2142,356 2136,361 2136,367 2134,375 2128,385 2122,395 2124,403 2125,411 2128,419 2129,420 2134,422 2145,425 2158,432 2168,438 2175,443 2180,446 2183,455 2185,463 2189,465 2197,461 2205,458 2213,455 2221,455 2227,458 2235,457 2236,452 2231,445 2227,437 2223,429 2219,421 2215,413 2211,406 2223,400 2233,394 2233,391 2243,391 2241,384 2239,375 2237,366 2235,357 2237,345 2244,338 2250,331 2244,324 2239,315 2234,306 2229,297 2220,301 2207,306 2195,313Z"/>
<path fill="#58a048" d="M2125,478 2133,482 2139,490 2145,498 2153,506 2160,514 2167,522 2178,524 2180,533 2183,543 2185,551 2188,558 2190,565 2197,561 2204,551 2216,547 2223,542 2232,537 2238,534 2238,524 2241,514 2244,505 2251,497 2260,487 2254,480 2249,474 2244,468 2239,463 2235,457 2227,458 2221,455 2213,455 2205,458 2197,461 2189,465 2185,463 2183,455 2180,446 2175,443 2168,438 2158,432 2145,425 2134,422 2129,420 2128,419 2124,419 2116,424 2116,434 2119,443 2121,451 2122,460 2123,469Z"/>
<path fill="#3028b4" d="M1968,512 1964,503 1960,494 1957,486 1954,477 1953,469 1952,462 1952,456 1943,454 1935,459 1925,455 1918,453 1914,458 1904,456 1896,457 1890,468 1883,472 1877,474 1872,479 1866,484 1859,489 1853,499 1849,505 1845,513 1844,526 1850,528 1859,535 1867,542 1868,532 1882,528 1892,521 1898,513 1908,515 1912,514 1915,515 1927,519 1938,518 1945,519 1952,524 1964,520Z"/>
<path fill="#c05850" d="M1671,457 1656,454 1645,453 1638,454 1628,459 1623,464 1626,470 1625,477 1618,485 1612,494 1602,501 1592,512 1587,510 1580,509 1572,506 1566,502 1556,508 1544,516 1540,522 1530,526 1523,524 1524,530 1524,539 1522,547 1530,552 1538,558 1527,567 1522,578 1517,585 1513,585 1507,590 1494,595 1484,592 1476,591 1470,600 1462,605 1457,608 1453,603 1445,598 1436,595 1432,603 1428,613 1424,623 1418,632 1417,639 1418,643 1422,649 1430,648 1444,650 1453,654 1460,651 1472,652 1480,655 1486,652 1498,654 1509,662 1513,656 1521,650 1528,646 1530,635 1536,641 1543,649 1550,658 1556,666 1561,673 1566,679 1572,685 1579,691 1588,684 1593,678 1601,672 1608,665 1609,658 1614,652 1623,645 1631,644 1639,645 1652,645 1659,647 1666,653 1677,654 1682,654 1687,648 1700,639 1706,642 1715,644 1726,643 1731,644 1735,640 1741,630 1748,623 1747,616 1746,609 1745,601 1744,592 1744,583 1743,573 1737,567 1731,561 1725,558 1715,556 1704,557 1701,548 1699,538 1697,527 1696,517 1695,508 1688,504 1682,499 1682,490 1683,481 1683,475 1678,467Z"/>
<path fill="#cc5060" d="M1945,519 1938,518 1927,519 1915,515 1912,514 1908,515 1898,513 1892,521 1882,528 1868,532 1867,542 1859,535 1850,528 1844,526 1841,526 1843,532 1830,530 1817,531 1803,522 1802,523 1800,534 1800,545 1802,556 1807,566 1811,577 1815,587 1819,596 1821,605 1808,601 1798,606 1794,610 1783,616 1779,621 1770,619 1755,622 1748,623 1741,630 1735,640 1739,647 1744,654 1749,662 1759,660 1771,659 1783,662 1794,660 1803,662 1808,668 1814,666 1823,667 1830,666 1839,658 1849,653 1855,654 1861,652 1869,652 1875,643 1883,633 1895,631 1903,624 1914,632 1924,637 1931,636 1935,628 1941,617 1945,607 1952,604 1959,596 1961,585 1959,576 1958,566 1956,556 1952,548 1952,537 1950,529 1952,524Z"/>
<path fill="#4888b8" d="M2015,500 2001,504 1988,503 1983,505 1971,512 1968,512 1964,520 1952,524 1950,529 1952,537 1952,548 1956,556 1958,566 1959,576 1961,585 1965,590 1971,594 1978,595 1985,595 1992,599 2002,598 2011,594 2017,596 2025,594 2028,581 2029,572 2027,568 2028,559 2026,551 2025,542 2023,533 2021,523 2019,514 2017,505Z"/>
<path fill="#a0c850" d="M2080,510 2071,510 2065,505 2056,503 2047,505 2042,505 2033,508 2023,510 2017,505 2019,514 2021,523 2023,533 2025,542 2026,551 2028,559 2027,568 2029,572 2028,581 2025,594 2029,602 2034,610 2039,617 2051,617 2064,617 2072,619 2076,616 2083,609 2087,604 2094,598 2092,591 2091,584 2094,571 2099,560 2102,555 2105,546 2104,544 2095,536 2093,526 2092,515Z"/>
<path fill="#5c389c" d="M2092,515 2093,526 2095,536 2104,544 2105,546 2102,555 2099,560 2094,571 2091,584 2092,591 2094,598 2103,599 2112,601 2117,608 2122,615 2130,618 2139,609 2140,603 2146,592 2153,584 2158,576 2169,571 2178,572 2182,570 2190,565 2190,565 2188,558 2185,551 2183,543 2180,533 2178,524 2167,522 2160,514 2153,506 2145,498 2139,490 2133,482 2125,478 2116,483 2111,486 2105,493 2099,504Z"/>
<path fill="#2ca89c" d="M1931,636 1937,643 1944,650 1952,649 1958,645 1966,649 1974,651 1983,651 1992,656 2002,659 2009,661 2013,665 2015,666 2023,673 2034,676 2042,669 2051,670 2064,662 2067,661 2075,660 2084,654 2081,646 2078,637 2075,628 2072,619 2064,617 2051,617 2039,617 2034,610 2029,602 2025,594 2017,596 2011,594 2002,598 1992,599 1985,595 1978,595 1971,594 1965,590 1961,585 1959,596 1952,604 1945,607 1941,617 1935,628Z"/>
<path fill="#8830b0" d="M2094,598 2087,604 2083,609 2076,616 2072,619 2075,628 2078,637 2081,646 2084,654 2086,659 2090,667 2094,675 2098,681 2110,677 2121,671 2124,669 2132,662 2136,659 2144,655 2159,648 2152,641 2144,634 2137,627 2130,620 2130,618 2122,615 2117,608 2112,601 2103,599Z"/>
<path fill="#58ac48" d="M2190,565 2182,570 2178,572 2169,571 2158,576 2153,584 2146,592 2140,603 2139,609 2130,618 2130,620 2137,627 2144,634 2152,641 2159,648 2161,650 2166,659 2170,668 2173,678 2176,687 2178,689 2188,689 2197,684 2203,674 2210,669 2216,664 2222,660 2231,659 2240,653 2245,647 2249,640 2249,640 2243,636 2238,631 2233,624 2224,615 2212,608 2200,605 2200,593 2200,583 2200,576 2195,571Z"/>
<path fill="#b08048" d="M2464,260 2469,255 2473,250 2473,241 2466,241 2458,241 2453,240 2443,234 2428,230 2424,219 2419,209 2418,207 2406,203 2396,205 2387,207 2376,204 2368,204 2362,203 2354,201 2347,200 2344,210 2341,219 2336,230 2331,239 2327,241 2320,243 2312,242 2304,238 2294,234 2284,231 2273,228 2263,229 2254,231 2255,240 2256,247 2256,253 2253,262 2263,266 2271,274 2279,284 2280,284 2288,289 2293,293 2299,298 2307,298 2314,299 2323,302 2335,302 2336,302 2336,303 2337,311 2348,310 2353,314 2359,318 2371,318 2383,323 2390,333 2393,329 2402,320 2404,316 2409,303 2415,295 2414,288 2413,282 2411,276 2415,277 2425,273 2436,276 2442,270 2454,266 2462,266Z"/>
<path fill="#9424a8" d="M2231,277 2229,288 2228,294 2229,297 2234,306 2239,315 2244,324 2250,331 2254,329 2260,331 2271,331 2277,338 2283,344 2287,350 2290,358 2294,367 2295,378 2300,380 2304,384 2312,389 2322,393 2323,401 2324,408 2324,416 2324,425 2324,435 2335,433 2343,433 2348,432 2355,423 2360,417 2366,411 2371,398 2381,399 2390,396 2399,394 2401,386 2403,378 2406,371 2402,366 2399,360 2396,353 2391,344 2380,351 2373,357 2366,362 2357,371 2353,373 2352,373 2350,365 2347,357 2344,349 2340,341 2335,333 2332,330 2332,323 2337,311 2336,303 2336,302 2335,302 2323,302 2314,299 2307,298 2299,298 2293,293 2288,289 2280,284 2279,284 2271,274 2263,266 2253,262 2240,272Z"/>
<path fill="#5c28a0" d="M2506,254 2493,253 2482,253 2478,247 2474,241 2473,241 2473,250 2469,255 2464,260 2462,266 2454,266 2442,270 2436,276 2425,273 2415,277 2411,276 2413,282 2414,288 2415,295 2409,303 2404,316 2402,320 2393,329 2390,333 2383,323 2371,318 2359,318 2353,314 2348,310 2337,311 2332,323 2332,330 2335,333 2340,341 2344,349 2347,357 2350,365 2352,373 2353,373 2357,371 2366,362 2373,357 2380,351 2391,344 2396,353 2399,360 2402,366 2406,371 2419,369 2425,362 2433,356 2440,347 2447,348 2454,347 2461,345 2463,335 2465,327 2468,315 2472,305 2471,305 2473,298 2473,289 2474,279 2488,284 2496,281 2505,276 2504,275 2510,271 2513,263 2510,259Z"/>
<path fill="#9c28b0" d="M2505,276 2496,281 2488,284 2474,279 2473,289 2473,298 2471,305 2472,305 2480,311 2487,315 2496,319 2505,322 2509,332 2513,342 2518,349 2527,350 2541,350 2547,341 2556,334 2554,334 2550,327 2545,320 2534,312 2524,304 2523,302 2517,293 2511,285Z"/>
<path fill="#3838a0" d="M2440,347 2433,356 2425,362 2419,369 2406,371 2403,378 2401,386 2399,394 2390,396 2381,399 2371,398 2366,411 2360,417 2355,423 2348,432 2343,433 2335,433 2324,435 2319,440 2319,449 2317,460 2326,465 2334,472 2340,479 2346,484 2350,487 2353,491 2358,498 2363,500 2378,491 2387,491 2394,483 2398,473 2398,469 2404,459 2411,449 2420,445 2426,434 2427,424 2432,421 2438,417 2443,410 2449,403 2458,397 2464,392 2471,391 2471,384 2470,377 2469,369 2468,360 2475,355 2488,354 2497,350 2505,347 2513,342 2509,332 2505,322 2496,319 2487,315 2480,311 2472,305 2468,315 2465,327 2463,335 2461,345 2454,347 2447,348Z"/>
<path fill="#a838c4" d="M2668,350 2679,338 2674,334 2669,329 2663,323 2657,317 2647,314 2637,311 2633,318 2629,327 2623,332 2618,330 2609,330 2613,337 2616,344 2618,352 2621,361 2616,366 2617,379 2615,391 2616,400 2613,404 2603,413 2600,420 2599,430 2600,442 2603,455 2609,455 2617,456 2624,457 2630,450 2640,448 2647,445 2654,449 2662,453 2671,454 2676,455 2680,460 2689,455 2698,450 2704,449 2708,442 2716,432 2719,422 2723,411 2717,405 2712,398 2706,391 2701,384 2695,378 2689,373 2683,368 2677,362 2677,362 2682,354 2675,353Z"/>
<path fill="#2834c0" d="M2458,397 2449,403 2443,410 2438,417 2432,421 2427,424 2426,434 2420,445 2411,449 2404,459 2398,469 2398,473 2394,483 2387,491 2378,491 2363,500 2362,507 2364,512 2367,517 2370,524 2370,534 2358,541 2352,546 2345,558 2336,561 2335,562 2338,570 2341,578 2345,584 2350,590 2355,596 2362,603 2372,608 2375,611 2381,617 2392,618 2401,618 2408,616 2417,607 2425,601 2428,601 2428,594 2430,586 2432,578 2434,569 2436,559 2439,548 2436,544 2436,536 2434,529 2441,526 2446,522 2447,520 2454,510 2465,506 2472,507 2482,508 2493,511 2495,508 2495,502 2501,490 2509,486 2517,478 2524,469 2527,466 2524,457 2520,452 2517,446 2512,438 2504,432 2498,431 2493,424 2489,417 2484,409 2479,401 2475,393 2471,391 2464,392Z"/>
<path fill="#b8a830" d="M2271,331 2260,331 2254,329 2250,331 2244,338 2237,345 2235,357 2237,366 2239,375 2241,384 2243,391 2233,391 2233,394 2223,400 2211,406 2215,413 2219,421 2223,429 2227,437 2231,445 2236,452 2235,457 2239,463 2244,468 2249,474 2254,480 2260,487 2270,489 2281,492 2286,501 2290,508 2294,516 2298,523 2301,530 2306,536 2311,538 2318,544 2325,550 2331,555 2335,562 2336,561 2345,558 2352,546 2358,541 2370,534 2370,524 2367,517 2364,512 2362,507 2363,500 2358,498 2353,491 2350,487 2346,484 2340,479 2334,472 2326,465 2317,460 2319,449 2319,440 2324,435 2324,425 2324,416 2324,408 2323,401 2322,393 2312,389 2304,384 2300,380 2295,378 2294,367 2290,358 2287,350 2283,344 2277,338Z"/>
<path fill="#c88850" d="M2244,505 2241,514 2238,524 2238,534 2232,537 2223,542 2216,547 2204,551 2197,561 2190,565 2190,565 2195,571 2200,576 2200,583 2200,593 2200,605 2212,608 2224,615 2233,624 2238,631 2243,636 2249,640 2252,632 2254,628 2259,621 2267,613 2275,606 2278,596 2272,586 2271,577 2271,571 2274,567 2280,563 2285,556 2298,553 2301,540 2306,536 2301,530 2298,523 2294,516 2290,508 2286,501 2281,492 2270,489 2260,487 2251,497Z"/>
<path fill="#409c98" d="M2311,538 2306,536 2301,540 2298,553 2285,556 2280,563 2274,567 2271,571 2271,577 2272,586 2278,596 2275,606 2267,613 2259,621 2254,628 2252,632 2249,640 2249,640 2255,646 2260,651 2265,657 2270,663 2276,666 2284,671 2290,673 2298,670 2312,663 2322,663 2330,665 2338,668 2345,670 2350,674 2352,669 2358,664 2367,659 2375,651 2376,640 2378,629 2378,619 2375,611 2372,608 2362,603 2355,596 2350,590 2345,584 2341,578 2338,570 2335,562 2331,555 2325,550 2318,544Z"/>
<path fill="#30b098" d="M2553,517 2547,510 2540,502 2532,493 2524,485 2517,478 2509,486 2501,490 2495,502 2495,508 2493,511 2482,508 2472,507 2465,506 2454,510 2447,520 2446,522 2441,526 2434,529 2436,536 2436,544 2439,548 2436,559 2434,569 2432,578 2430,586 2428,594 2428,601 2425,601 2417,607 2408,616 2412,622 2417,628 2423,634 2429,642 2434,650 2440,658 2448,647 2452,636 2455,632 2459,623 2461,614 2473,608 2484,603 2494,604 2498,595 2502,592 2512,585 2521,586 2531,590 2541,596 2553,598 2563,600 2569,605 2571,595 2575,586 2578,581 2575,573 2573,564 2571,554 2570,545 2564,540 2558,535 2551,530Z"/>
<path fill="#b03c78" d="M2494,604 2497,612 2500,620 2502,627 2503,634 2503,641 2502,650 2500,662 2507,665 2513,670 2518,671 2523,673 2533,671 2542,668 2548,662 2559,653 2564,649 2568,639 2577,634 2577,633 2577,632 2575,625 2573,618 2571,612 2569,605 2563,600 2553,598 2541,596 2531,590 2521,586 2512,585 2502,592 2498,595Z"/>
<path fill="#30c4b0" d="M2500,662 2502,650 2503,641 2503,634 2502,627 2500,620 2497,612 2494,604 2484,603 2473,608 2461,614 2459,623 2455,632 2452,636 2448,647 2440,658 2439,663 2440,666 2447,671 2455,673 2463,663 2468,666 2482,661 2490,664Z"/>
<path fill="#c06848" d="M2551,530 2558,535 2564,540 2570,545 2571,554 2573,564 2575,573 2578,581 2575,586 2571,595 2569,605 2571,612 2573,618 2575,625 2577,632 2579,631 2585,624 2595,620 2600,616 2604,605 2612,600 2616,595 2618,583 2626,579 2630,575 2631,574 2631,574 2626,566 2622,559 2618,552 2614,545 2610,538 2611,527 2615,518 2619,510 2620,502 2614,502 2602,500 2592,498 2584,499 2574,497 2568,504 2567,510 2562,514 2553,517Z"/>
<path fill="#a83044" d="M2629,496 2627,499 2620,502 2619,510 2615,518 2611,527 2610,538 2614,545 2618,552 2622,559 2626,566 2631,574 2635,565 2643,564 2649,558 2655,550 2663,548 2672,551 2679,552 2686,557 2696,566 2708,570 2716,570 2717,568 2717,561 2716,554 2715,545 2714,535 2712,524 2709,514 2716,508 2725,503 2729,496 2732,487 2737,478 2733,471 2726,466 2719,461 2711,455 2704,449 2698,450 2689,455 2680,460 2676,455 2671,454 2662,453 2654,449 2647,445 2640,448 2630,450 2624,457 2625,467 2626,477 2628,486Z"/>
<path fill="#80983c" d="M2631,574 2635,581 2640,588 2646,594 2647,607 2648,618 2651,626 2655,633 2651,643 2648,652 2646,659 2645,666 2654,672 2665,678 2673,682 2676,684 2680,676 2690,670 2695,661 2701,656 2710,654 2708,647 2705,639 2702,630 2701,629 2699,620 2699,611 2699,601 2699,592 2700,585 2710,581 2716,570 2708,570 2696,566 2686,557 2679,552 2672,551 2663,548 2655,550 2649,558 2643,564 2635,565 2631,574Z"/>
<path fill="#c03c70" d="M2709,514 2712,524 2714,535 2715,545 2716,554 2717,561 2717,568 2722,572 2728,577 2734,580 2738,583 2740,593 2742,602 2745,611 2748,620 2755,627 2763,636 2766,628 2770,615 2771,604 2775,598 2781,592 2786,586 2789,579 2783,570 2782,559 2780,547 2778,537 2774,530 2766,532 2756,529 2748,522 2741,512 2735,503 2729,496 2725,503 2716,508Z"/>
<path fill="#38a850" d="M2702,630 2705,639 2708,647 2710,654 2717,657 2721,660 2725,664 2730,670 2738,676 2743,670 2749,661 2763,658 2771,653 2774,650 2768,643 2763,636 2755,627 2748,620 2745,611 2742,602 2740,593 2738,583 2734,580 2728,577 2722,572 2717,568 2716,570 2710,581 2700,585 2699,592 2699,601 2699,611 2699,620 2701,629Z"/>
<path fill="#c83878" d="M2646,594 2640,588 2635,581 2631,574 2630,575 2626,579 2618,583 2616,595 2612,600 2604,605 2600,616 2595,620 2585,624 2579,631 2577,632 2577,633 2577,634 2581,644 2586,653 2592,661 2599,669 2607,677 2615,678 2621,672 2629,667 2640,668 2645,666 2646,659 2648,652 2651,643 2655,633 2651,626 2648,618 2647,607Z"/>
<path fill="#c07048" d="M2875,515 2872,506 2868,495 2864,484 2862,473 2861,463 2860,455 2850,462 2845,465 2839,466 2829,472 2820,471 2813,467 2806,464 2800,460 2795,454 2789,448 2783,443 2781,448 2777,455 2768,463 2764,469 2754,475 2742,477 2737,478 2732,487 2729,496 2735,503 2741,512 2748,522 2756,529 2766,532 2774,530 2778,537 2786,537 2798,535 2808,540 2822,536 2828,542 2834,548 2838,555 2842,562 2848,565 2855,565 2860,566 2865,565 2871,553 2878,547 2883,543 2881,535 2879,526 2875,517Z"/>
<path fill="#a07830" d="M2789,579 2786,586 2781,592 2775,598 2771,604 2770,615 2766,628 2763,636 2768,643 2774,650 2776,651 2785,644 2786,637 2799,633 2811,627 2818,626 2830,617 2834,616 2838,623 2842,630 2848,638 2855,645 2863,635 2869,629 2881,627 2889,622 2890,620 2891,610 2890,596 2890,584 2884,577 2878,572 2871,568 2865,565 2865,565 2860,566 2855,565 2848,565 2842,562 2838,555 2834,548 2828,542 2822,536 2808,540 2798,535 2786,537 2778,537 2780,547 2782,559 2783,570Z"/>
<path fill="#c04cc0" d="M2863,453 2860,455 2861,463 2862,473 2864,484 2868,495 2872,506 2875,515 2875,517 2879,526 2881,535 2883,543 2878,547 2871,553 2865,565 2865,565 2871,568 2878,572 2884,577 2890,584 2893,584 2901,582 2915,581 2920,578 2928,569 2938,564 2934,555 2930,546 2927,536 2938,526 2936,517 2932,507 2928,497 2919,495 2915,488 2911,479 2907,471 2903,462 2897,462 2886,454 2874,455Z"/>
<path fill="#a86030" d="M2938,526 2927,536 2930,546 2934,555 2938,564 2942,570 2945,575 2949,584 2952,592 2955,601 2957,611 2958,613 2964,614 2972,617 2980,616 2988,621 2995,628 3002,629 3007,626 3012,621 3020,619 3020,610 3020,599 3021,588 3022,582 3012,580 3005,582 3001,577 2995,568 2989,560 2990,550 2987,537 2989,530 2978,525 2971,524 2968,513 2966,502 2967,493 2968,486 2970,477 2958,473 2950,476 2943,477 2940,483 2936,491 2928,497 2932,507 2936,517Z"/>
<path fill="#2cac38" d="M2891,610 2890,620 2889,622 2881,627 2869,629 2863,635 2855,645 2856,656 2864,661 2872,661 2881,662 2888,667 2895,675 2901,680 2914,676 2924,676 2934,668 2941,672 2948,677 2953,683 2958,677 2965,675 2973,670 2981,665 2990,664 2997,661 2997,651 2995,640 2995,628 2988,621 2980,616 2972,617 2964,614 2958,613 2957,611 2955,601 2952,592 2949,584 2945,575 2942,570 2938,564 2928,569 2920,578 2915,581 2901,582 2893,584 2890,584 2890,596Z"/>
<path fill="#6828a8" d="M2856,656 2855,645 2848,638 2842,630 2838,623 2834,616 2830,617 2818,626 2811,627 2799,633 2786,637 2785,644 2776,651 2783,658 2789,666 2797,670 2802,670 2809,669 2820,670 2831,670 2839,668 2846,674 2847,675 2852,673 2856,663Z"/>
<path fill="#34a4c8" d="M2860,291 2852,287 2851,276 2843,278 2836,275 2824,270 2815,277 2808,280 2798,284 2790,288 2790,295 2792,303 2793,311 2794,318 2795,327 2798,336 2801,345 2811,355 2805,365 2801,374 2799,380 2788,377 2778,373 2767,368 2753,369 2744,366 2740,357 2736,349 2731,341 2727,336 2721,351 2721,356 2708,365 2695,364 2689,357 2682,354 2677,362 2677,362 2683,368 2689,373 2695,378 2701,384 2706,391 2712,398 2717,405 2723,411 2719,422 2716,432 2708,442 2704,449 2711,455 2719,461 2726,466 2733,471 2737,478 2742,477 2754,475 2764,469 2768,463 2777,455 2781,448 2783,443 2789,448 2795,454 2800,460 2806,464 2813,467 2820,471 2829,472 2839,466 2845,465 2850,462 2860,455 2863,453 2874,455 2886,454 2897,462 2903,462 2907,471 2911,479 2915,488 2919,495 2928,497 2936,491 2940,483 2943,477 2950,476 2958,473 2956,466 2954,458 2951,450 2949,441 2947,433 2944,425 2945,418 2944,415 2949,408 2949,400 2953,391 2960,385 2962,374 2957,367 2952,361 2945,354 2936,346 2925,338 2912,345 2904,352 2895,355 2894,361 2884,362 2878,370 2873,377 2863,371 2854,367 2849,363 2845,358 2839,351 2843,346 2845,339 2846,328 2849,320 2853,316 2855,310 2856,299Z"/>
<path fill="#c06838" d="M2787,304 2778,301 2771,299 2767,302 2758,315 2753,321 2742,322 2737,326 2731,329 2727,336 2731,341 2736,349 2740,357 2744,366 2753,369 2767,368 2778,373 2788,377 2799,380 2801,374 2805,365 2811,355 2801,345 2798,336 2795,327 2794,318 2793,311 2792,303 2790,295 2789,299Z"/>
<path fill="#b05038" d="M2928,269 2919,275 2910,283 2898,280 2894,283 2888,284 2880,287 2874,298 2860,291 2856,299 2855,310 2853,316 2849,320 2846,328 2845,339 2843,346 2839,351 2845,358 2849,363 2854,367 2863,371 2873,377 2878,370 2884,362 2894,361 2895,355 2904,352 2912,345 2925,338 2928,331 2933,323 2936,316 2934,308 2933,298 2931,289 2930,279Z"/>
<path fill="#b08850" d="M2945,259 2940,264 2928,269 2930,279 2931,289 2933,298 2934,308 2936,316 2933,323 2928,331 2925,338 2936,346 2945,354 2952,361 2957,367 2962,374 2960,385 2953,391 2949,400 2949,408 2944,415 2945,418 2944,425 2947,433 2949,441 2951,450 2954,458 2956,466 2958,473 2970,477 2968,486 2967,493 2966,502 2968,513 2971,524 2978,525 2989,530 3002,533 3006,529 3010,520 3015,511 3014,496 3014,490 3022,491 3028,484 3032,475 3036,466 3041,458 3044,447 3035,445 3027,442 3021,441 3020,429 3018,420 3017,413 3018,407 3019,398 3020,388 3020,388 3025,382 3032,374 3035,361 3037,352 3040,345 3033,335 3026,326 3018,323 3012,319 3011,321 3004,327 2995,320 2988,313 2982,310 2973,309 2963,306 2966,298 2968,290 2970,282 2964,277 2959,272 2953,265 2948,257Z"/>
<path fill="#3cb498" d="M3001,195 2992,192 2984,188 2975,188 2964,195 2960,197 2955,206 2956,217 2956,228 2955,230 2950,243 2942,248 2944,251 2949,256 2948,257 2953,265 2959,272 2964,277 2970,282 2968,290 2966,298 2963,306 2973,309 2982,310 2988,313 2995,320 3004,327 3011,321 3012,319 3018,323 3026,326 3036,320 3044,320 3059,314 3062,309 3072,303 3075,293 3074,288 3077,279 3074,270 3071,260 3074,250 3075,240 3067,241 3061,239 3055,235 3055,235 3045,228 3035,222 3027,215 3018,212 3015,203 3009,203 3000,202Z"/>
<path fill="#3c8cac" d="M2375,651 2367,659 2358,664 2352,669 2350,674 2351,681 2352,688 2352,695 2359,701 2368,708 2377,712 2383,710 2394,719 2404,720 2410,721 2419,727 2422,726 2435,725 2441,724 2451,725 2461,721 2465,718 2465,718 2462,709 2459,701 2456,692 2455,683 2455,673 2447,671 2440,666 2439,663 2440,658 2434,650 2429,642 2423,634 2417,628 2412,622 2408,616 2401,618 2392,618 2381,617 2375,611 2378,619 2378,629 2376,640Z"/>
<path fill="#8c28b8" d="M3087,243 3075,240 3074,250 3071,260 3074,270 3077,279 3074,288 3075,293 3072,303 3062,309 3059,314 3044,320 3036,320 3026,326 3033,335 3040,345 3037,352 3035,361 3032,374 3025,382 3020,388 3020,388 3019,398 3018,407 3017,413 3018,420 3020,429 3021,441 3027,442 3035,445 3044,447 3051,444 3053,440 3056,436 3055,430 3056,423 3056,415 3057,406 3064,397 3069,391 3075,381 3082,381 3095,372 3099,363 3108,358 3112,348 3117,348 3120,341 3125,331 3131,324 3138,314 3142,305 3143,303 3145,303 3146,296 3150,289 3152,283 3153,275 3148,269 3143,262 3138,254 3133,246 3127,238 3121,231 3115,224 3112,231 3106,234 3097,237Z"/>
<path fill="#58a02c" d="M3223,170 3216,176 3209,180 3199,181 3192,186 3186,187 3178,188 3169,194 3160,195 3148,195 3139,197 3129,199 3122,205 3119,214 3115,224 3121,231 3127,238 3133,246 3138,254 3143,262 3148,269 3153,275 3166,266 3173,263 3174,256 3183,259 3192,265 3199,272 3207,277 3216,281 3225,282 3232,274 3238,266 3244,260 3247,259 3250,254 3259,248 3256,240 3262,230 3263,218 3268,212 3273,207 3271,195 3269,184 3275,176 3271,168 3267,159 3256,159 3249,162 3239,159 3234,166Z"/>
<path fill="#30a038" d="M3313,133 3309,123 3293,124 3287,129 3281,133 3275,136 3278,143 3276,151 3271,159 3267,159 3271,168 3275,176 3269,184 3271,195 3273,207 3268,212 3263,218 3262,230 3256,240 3259,248 3272,251 3274,259 3276,267 3278,274 3281,282 3284,289 3287,297 3296,302 3305,306 3314,313 3323,319 3323,328 3323,336 3323,342 3327,348 3339,348 3345,342 3356,347 3371,348 3376,346 3387,350 3397,345 3399,346 3405,345 3415,333 3417,325 3430,323 3440,315 3442,315 3451,311 3447,304 3443,298 3439,291 3435,285 3437,269 3438,259 3444,258 3451,254 3455,250 3452,241 3449,233 3447,224 3439,228 3432,230 3422,230 3412,229 3403,223 3401,215 3390,209 3381,209 3369,207 3369,198 3370,189 3372,179 3355,182 3348,184 3345,172 3341,161 3338,152 3336,143 3336,137 3326,132Z"/>
<path fill="#40b850" d="M3272,251 3259,248 3250,254 3247,259 3244,260 3238,266 3232,274 3225,282 3216,281 3207,277 3199,272 3192,265 3183,259 3174,256 3173,263 3166,266 3153,275 3152,283 3150,289 3146,296 3145,303 3143,303 3142,305 3138,314 3131,324 3125,331 3120,341 3117,348 3122,353 3128,355 3137,359 3145,367 3153,374 3160,379 3168,382 3177,374 3183,365 3188,360 3195,360 3206,364 3218,368 3230,363 3241,357 3249,357 3250,358 3258,358 3266,362 3272,357 3282,352 3291,349 3298,342 3308,346 3316,345 3323,342 3323,336 3323,328 3323,319 3314,313 3305,306 3296,302 3287,297 3284,289 3281,282 3278,274 3276,267 3274,259Z"/>
<path fill="#a8a030" d="M3398,393 3398,382 3391,380 3391,371 3393,364 3395,356 3399,348 3399,346 3397,345 3387,350 3376,346 3371,348 3356,347 3345,342 3339,348 3327,348 3323,342 3316,345 3308,346 3298,342 3291,349 3282,352 3272,357 3266,362 3258,358 3250,358 3249,357 3241,357 3230,363 3218,368 3206,364 3195,360 3188,360 3183,365 3177,374 3168,382 3164,391 3159,399 3157,405 3157,408 3162,415 3172,414 3184,416 3192,420 3206,418 3213,425 3226,429 3231,434 3234,443 3237,452 3241,462 3247,468 3256,475 3263,468 3268,463 3274,457 3280,448 3283,442 3290,434 3297,428 3296,419 3303,415 3313,409 3316,399 3323,389 3333,383 3336,383 3341,385 3351,390 3362,395 3370,399 3378,402 3387,398 3393,396Z"/>
<path fill="#44c02c" d="M3395,470 3401,459 3406,450 3408,443 3410,436 3408,435 3405,427 3403,417 3401,407 3398,393 3393,396 3387,398 3378,402 3370,399 3362,395 3351,390 3341,385 3336,383 3333,383 3323,389 3316,399 3313,409 3303,415 3296,419 3297,428 3290,434 3283,442 3280,448 3274,457 3268,463 3263,468 3256,475 3259,483 3263,491 3266,498 3273,496 3283,495 3293,493 3303,491 3309,498 3315,505 3321,510 3326,516 3336,511 3342,514 3347,514 3349,506 3351,499 3354,489 3358,478 3362,468 3369,464 3376,468 3385,469 3389,471Z"/>
<path fill="#cc4860" d="M3099,363 3095,372 3096,382 3096,392 3097,400 3098,407 3092,407 3085,412 3076,423 3067,430 3056,436 3053,440 3051,444 3054,447 3059,455 3064,462 3070,468 3076,473 3082,478 3088,485 3080,495 3076,504 3074,517 3070,525 3066,531 3071,535 3077,540 3077,546 3078,553 3080,561 3083,571 3094,571 3105,575 3115,574 3122,575 3132,572 3143,573 3141,564 3141,556 3141,547 3134,540 3128,533 3129,525 3129,516 3129,508 3129,500 3130,491 3132,481 3131,480 3132,466 3128,459 3129,451 3128,443 3138,432 3143,426 3148,417 3154,408 3157,408 3157,405 3159,399 3164,391 3168,382 3160,379 3153,374 3145,367 3137,359 3128,355 3122,353 3117,348 3112,348 3108,358Z"/>
<path fill="#b83888" d="M3157,408 3154,408 3148,417 3143,426 3138,432 3128,443 3129,451 3128,459 3132,466 3131,480 3132,481 3130,491 3129,500 3129,508 3129,516 3129,525 3128,533 3134,540 3141,547 3152,541 3160,541 3169,534 3176,529 3184,523 3195,517 3193,511 3191,506 3197,499 3202,489 3206,483 3216,481 3222,476 3227,473 3235,467 3241,462 3237,452 3234,443 3231,434 3226,429 3213,425 3206,418 3192,420 3184,416 3172,414 3162,415Z"/>
<path fill="#8c30b8" d="M3095,372 3082,381 3075,381 3069,391 3064,397 3057,406 3056,415 3056,423 3055,430 3056,436 3067,430 3076,423 3085,412 3092,407 3098,407 3097,400 3096,392 3096,382Z"/>
<path fill="#8c28b8" d="M3054,447 3051,444 3044,447 3041,458 3036,466 3032,475 3028,484 3022,491 3014,490 3014,496 3015,511 3010,520 3006,529 3002,533 2989,530 2987,537 2990,550 2989,560 2995,568 3001,577 3005,582 3012,580 3022,582 3027,580 3027,568 3034,558 3040,551 3040,538 3051,535 3058,534 3066,531 3070,525 3074,517 3076,504 3080,495 3088,485 3082,478 3076,473 3070,468 3064,462 3059,455Z"/>
<path fill="#bc9840" d="M3241,462 3235,467 3227,473 3222,476 3216,481 3206,483 3202,489 3197,499 3191,506 3193,511 3195,517 3184,523 3176,529 3169,534 3160,541 3152,541 3141,547 3141,556 3141,564 3143,573 3147,581 3152,589 3152,600 3152,608 3157,620 3167,626 3177,622 3181,630 3185,638 3190,646 3195,655 3201,664 3212,669 3224,672 3232,674 3232,662 3232,652 3234,643 3237,634 3236,628 3233,622 3230,616 3228,609 3233,601 3240,586 3242,578 3249,580 3262,579 3268,586 3275,577 3284,567 3287,561 3291,548 3299,546 3307,557 3315,561 3327,564 3335,560 3341,544 3351,538 3354,533 3351,524 3349,516 3347,514 3342,514 3336,511 3326,516 3321,510 3315,505 3309,498 3303,491 3293,493 3283,495 3273,496 3266,498 3263,491 3259,483 3256,475 3247,468Z"/>
<path fill="#4898c0" d="M3410,487 3404,481 3400,476 3395,470 3389,471 3385,469 3376,468 3369,464 3362,468 3358,478 3354,489 3351,499 3349,506 3347,514 3349,516 3351,524 3354,533 3351,538 3341,544 3335,560 3327,564 3332,572 3337,581 3342,589 3349,596 3356,602 3360,599 3376,594 3384,589 3390,585 3397,583 3399,584 3407,583 3421,578 3430,573 3430,564 3430,555 3430,549 3426,545 3422,537 3417,529 3412,521 3411,508 3413,495Z"/>
<path fill="#48ac70" d="M3410,436 3408,443 3406,450 3401,459 3395,470 3400,476 3404,481 3410,487 3413,495 3411,508 3412,521 3417,529 3422,537 3426,545 3430,549 3430,555 3430,564 3430,573 3435,580 3440,587 3451,584 3457,585 3464,590 3474,593 3480,595 3489,595 3500,595 3503,587 3507,580 3513,573 3517,570 3519,566 3523,557 3530,547 3532,537 3524,539 3512,532 3504,523 3509,519 3506,511 3503,502 3501,494 3495,485 3495,484 3496,482 3500,476 3505,467 3506,458 3500,459 3491,458 3481,454 3472,451 3464,448 3457,445 3449,440 3437,440 3429,442 3421,440Z"/>
<path fill="#48b8a8" d="M3632,551 3622,548 3617,542 3616,534 3615,525 3608,522 3594,523 3581,528 3569,528 3560,532 3554,530 3543,533 3532,537 3530,547 3523,557 3519,566 3517,570 3513,573 3507,580 3503,587 3500,595 3501,603 3503,611 3504,618 3506,626 3508,633 3516,640 3525,645 3533,644 3540,637 3549,635 3555,625 3562,625 3570,617 3576,616 3584,621 3596,616 3603,611 3611,611 3619,604 3619,598 3620,592 3623,584 3625,574 3625,566 3624,559Z"/>
<path fill="#48a8c4" d="M3726,618 3723,610 3719,601 3716,593 3710,584 3704,577 3698,571 3692,567 3685,563 3676,562 3671,557 3663,556 3654,559 3650,560 3643,566 3634,572 3635,562 3637,551 3632,551 3624,559 3625,566 3625,574 3623,584 3620,592 3619,598 3619,604 3624,612 3630,620 3637,626 3650,623 3662,626 3667,632 3674,633 3673,627 3681,625 3687,620 3698,616 3714,616 3721,618Z"/>
<path fill="#289c64" d="M3268,586 3273,592 3278,597 3283,602 3290,607 3289,616 3290,624 3293,631 3294,640 3294,650 3294,660 3293,670 3298,678 3303,686 3308,693 3318,688 3328,683 3332,677 3336,675 3346,672 3353,669 3360,662 3368,654 3372,647 3373,641 3383,643 3391,644 3397,646 3410,648 3422,650 3423,640 3425,630 3428,623 3430,615 3432,606 3435,597 3440,587 3435,580 3430,573 3421,578 3407,583 3399,584 3397,583 3390,585 3384,589 3376,594 3360,599 3356,602 3349,596 3342,589 3337,581 3332,572 3327,564 3315,561 3307,557 3299,546 3291,548 3287,561 3284,567 3275,577Z"/>
<path fill="#c08448" d="M3290,607 3283,602 3278,597 3273,592 3268,586 3262,579 3249,580 3242,578 3240,586 3233,601 3228,609 3230,616 3233,622 3236,628 3237,634 3234,643 3232,652 3232,662 3232,674 3232,676 3232,677 3233,688 3234,697 3231,704 3229,713 3229,724 3231,731 3234,738 3239,739 3245,745 3252,751 3259,747 3272,749 3281,739 3283,729 3286,721 3289,713 3291,708 3299,706 3308,700 3308,693 3303,686 3298,678 3293,670 3294,660 3294,650 3294,640 3293,631 3290,624 3289,616Z"/>
<path fill="#28a858" d="M3080,611 3078,618 3076,626 3081,632 3085,639 3090,645 3090,646 3097,650 3102,658 3108,666 3115,675 3121,682 3126,688 3131,694 3132,685 3145,685 3148,677 3148,668 3149,660 3152,654 3156,644 3157,633 3155,623 3157,620 3152,608 3152,600 3152,589 3147,581 3143,573 3132,572 3122,575 3115,574 3105,575 3094,571 3083,571 3078,582 3074,589 3077,600Z"/>
<path fill="#b0a840" d="M3027,568 3027,580 3022,582 3021,588 3020,599 3020,610 3020,619 3012,621 3007,626 3002,629 2995,628 2995,640 2997,651 2997,661 3003,667 3009,676 3016,684 3018,684 3022,673 3027,666 3032,661 3037,652 3042,644 3046,639 3051,633 3060,631 3067,631 3076,626 3078,618 3080,611 3077,600 3074,589 3078,582 3083,571 3080,561 3078,553 3077,546 3077,540 3071,535 3066,531 3058,534 3051,535 3040,538 3040,551 3034,558Z"/>
<path fill="#b840c4" d="M3400,742 3397,744 3394,748 3382,756 3378,756 3370,752 3357,757 3352,759 3341,763 3334,770 3330,774 3316,783 3313,789 3310,796 3302,805 3308,814 3313,822 3326,824 3332,822 3339,821 3348,825 3354,829 3363,833 3375,837 3383,838 3378,846 3370,851 3365,857 3368,865 3372,873 3376,883 3380,893 3383,904 3387,894 3391,893 3397,888 3402,887 3407,896 3412,905 3418,913 3423,920 3428,926 3436,925 3447,925 3455,927 3458,919 3464,911 3469,907 3467,900 3468,891 3473,882 3482,883 3490,877 3501,862 3505,866 3509,865 3517,869 3525,868 3534,857 3545,850 3548,842 3547,830 3547,820 3548,815 3548,811 3555,809 3569,808 3583,811 3593,805 3601,801 3606,801 3607,794 3614,792 3622,787 3622,774 3622,764 3629,763 3633,760 3628,753 3623,744 3619,736 3615,727 3612,718 3608,710 3600,706 3593,703 3587,698 3579,693 3567,691 3561,689 3554,689 3552,681 3550,674 3546,667 3542,659 3538,652 3533,644 3525,645 3516,640 3508,633 3506,626 3504,618 3503,611 3501,603 3500,595 3489,595 3480,595 3474,593 3464,590 3457,585 3451,584 3440,587 3435,597 3432,606 3430,615 3428,623 3425,630 3423,640 3422,650 3428,659 3425,666 3420,677 3418,689 3417,696 3415,701 3412,711 3410,722 3409,729 3405,733Z"/>
<path fill="#38c470" d="M3685,664 3683,657 3680,649 3677,642 3674,633 3667,632 3662,626 3650,623 3637,626 3630,620 3624,612 3619,604 3611,611 3603,611 3596,616 3584,621 3576,616 3570,617 3562,625 3555,625 3549,635 3540,637 3533,644 3538,652 3542,659 3546,667 3550,674 3552,681 3554,689 3561,689 3567,691 3579,693 3587,698 3593,703 3600,706 3608,710 3612,718 3615,727 3619,736 3623,744 3628,753 3633,760 3633,752 3636,745 3641,735 3651,724 3659,720 3668,717 3668,717 3674,712 3686,705 3699,699 3704,688 3696,678 3690,671Z"/>
<path fill="#6030b0" d="M3051,633 3046,639 3042,644 3037,652 3032,661 3027,666 3022,673 3018,684 3016,684 3013,690 3007,696 3005,709 3007,719 3005,726 3013,733 3017,737 3022,738 3034,740 3045,743 3049,752 3052,762 3055,772 3060,772 3064,775 3070,770 3080,763 3091,762 3100,758 3107,751 3106,743 3105,734 3106,725 3111,719 3118,718 3121,713 3129,705 3131,694 3126,688 3121,682 3115,675 3108,666 3102,658 3097,650 3090,646 3090,645 3085,639 3081,632 3076,626 3067,631 3060,631Z"/>
<path fill="#6038a0" d="M3157,620 3155,623 3157,633 3156,644 3152,654 3149,660 3148,668 3148,677 3145,685 3132,685 3131,694 3129,705 3121,713 3118,718 3111,719 3106,725 3105,734 3106,743 3107,751 3100,758 3091,762 3080,763 3070,770 3064,775 3066,784 3068,794 3071,805 3074,814 3081,813 3090,809 3098,810 3107,814 3117,813 3124,810 3129,804 3138,805 3146,809 3155,818 3163,823 3169,823 3173,817 3182,813 3178,806 3175,799 3173,792 3170,786 3168,779 3174,769 3178,760 3176,753 3176,743 3180,735 3188,727 3196,722 3193,714 3191,706 3197,695 3206,689 3212,685 3221,682 3232,677 3232,676 3232,674 3224,672 3212,669 3201,664 3195,655 3190,646 3185,638 3181,630 3177,622 3167,626Z"/>
<path fill="#c05850" d="M1432,668 1442,666 1452,671 1460,680 1465,688 1470,692 1477,695 1485,698 1493,703 1500,709 1495,713 1502,721 1508,729 1513,737 1519,745 1525,753 1531,761 1537,768 1539,769 1543,776 1548,783 1552,790 1556,798 1560,806 1562,810 1570,805 1577,809 1577,803 1584,801 1594,799 1597,798 1607,789 1620,790 1625,784 1629,783 1636,781 1642,771 1640,760 1640,750 1650,744 1655,733 1657,731 1663,725 1663,718 1669,711 1680,704 1682,694 1681,687 1681,681 1682,673 1683,663 1682,654 1677,654 1666,653 1659,647 1652,645 1639,645 1631,644 1623,645 1614,652 1609,658 1608,665 1601,672 1593,678 1588,684 1579,691 1572,685 1566,679 1561,673 1556,666 1550,658 1543,649 1536,641 1530,635 1528,646 1521,650 1513,656 1509,662 1498,654 1486,652 1480,655 1472,652 1460,651 1453,654 1444,650 1430,648 1422,649 1418,643 1418,643 1423,652 1427,660Z"/>
<path fill="#cc5060" d="M1730,729 1731,735 1728,744 1723,751 1718,756 1714,766 1721,770 1730,775 1739,778 1745,780 1749,785 1751,791 1757,797 1767,802 1777,806 1780,813 1782,821 1773,830 1771,838 1764,848 1757,854 1753,862 1747,869 1747,874 1757,878 1769,878 1781,881 1792,884 1802,880 1808,885 1810,880 1816,869 1813,859 1811,850 1808,841 1817,836 1823,830 1830,825 1839,816 1842,811 1837,803 1832,795 1826,786 1821,777 1820,769 1816,761 1811,752 1808,744 1805,735 1805,732 1811,724 1820,716 1828,714 1835,708 1837,699 1838,692 1837,684 1837,671 1839,658 1830,666 1823,667 1814,666 1808,668 1803,662 1794,660 1783,662 1771,659 1759,660 1749,662 1744,654 1739,647 1735,640 1731,644 1726,643 1715,644 1706,642 1700,639 1687,648 1682,654 1683,663 1682,673 1681,681 1681,687 1682,694 1680,704 1689,705 1696,707 1703,715 1713,721 1723,723Z"/>
<path fill="#b840c8" d="M1663,718 1663,725 1657,731 1655,733 1650,744 1640,750 1640,760 1642,771 1648,777 1657,785 1665,793 1673,799 1673,810 1673,820 1673,830 1675,832 1676,840 1677,846 1679,853 1682,861 1686,866 1693,871 1701,876 1707,880 1714,884 1722,887 1730,890 1738,893 1743,882 1747,874 1747,869 1753,862 1757,854 1764,848 1771,838 1773,830 1782,821 1780,813 1777,806 1767,802 1757,797 1751,791 1749,785 1745,780 1739,778 1730,775 1721,770 1714,766 1718,756 1723,751 1728,744 1731,735 1730,729 1723,723 1713,721 1703,715 1696,707 1689,705 1680,704 1669,711Z"/>
<path fill="#b840c8" d="M1594,799 1584,801 1577,803 1577,809 1570,805 1562,810 1565,817 1569,825 1573,833 1576,841 1580,849 1584,857 1589,865 1594,874 1600,882 1605,890 1610,898 1614,906 1617,912 1620,919 1623,926 1626,932 1629,939 1630,947 1632,955 1634,964 1636,973 1638,982 1640,991 1642,999 1643,1007 1654,1004 1667,1006 1677,1003 1687,1002 1688,995 1690,988 1694,982 1700,977 1697,969 1694,961 1692,953 1693,939 1693,927 1702,926 1709,917 1717,915 1728,910 1734,901 1738,893 1730,890 1722,887 1714,884 1707,880 1701,876 1693,871 1686,866 1682,861 1679,853 1677,846 1676,840 1675,832 1673,830 1673,820 1673,810 1673,799 1665,793 1657,785 1648,777 1642,771 1636,781 1629,783 1625,784 1620,790 1607,789 1597,798Z"/>
<path fill="#cc5060" d="M1805,732 1805,735 1808,744 1811,752 1816,761 1820,769 1821,777 1826,786 1832,795 1837,803 1842,811 1839,816 1830,825 1823,830 1817,836 1808,841 1811,850 1813,859 1816,869 1824,872 1833,870 1844,864 1851,865 1856,861 1863,859 1869,861 1875,854 1875,852 1875,842 1875,833 1874,825 1881,819 1889,808 1892,801 1891,791 1891,781 1893,772 1894,765 1893,757 1895,745 1898,731 1906,726 1907,719 1908,714 1904,708 1900,701 1895,694 1889,686 1882,677 1874,669 1867,660 1861,652 1855,654 1849,653 1839,658 1837,671 1837,684 1838,692 1837,699 1835,708 1828,714 1820,716 1811,724Z"/>
<path fill="#cc5060" d="M1907,719 1906,726 1898,731 1895,745 1893,757 1894,765 1893,772 1891,781 1891,791 1892,801 1901,800 1909,800 1917,806 1927,801 1938,797 1945,792 1952,783 1958,779 1955,769 1958,759 1963,752 1966,745 1965,735 1968,728 1978,723 1974,718 1969,712 1963,705 1958,697 1952,690 1947,684 1942,679 1937,685 1929,689 1922,696 1920,706 1915,710 1908,714Z"/>
<path fill="#cc5060" d="M1931,636 1924,637 1914,632 1903,624 1895,631 1883,633 1875,643 1869,652 1861,652 1867,660 1874,669 1882,677 1889,686 1895,694 1900,701 1904,708 1908,714 1915,710 1920,706 1922,696 1929,689 1937,685 1942,679 1947,684 1952,690 1958,697 1963,705 1969,712 1974,718 1978,723 1982,717 1991,712 2000,701 2000,689 2006,684 2013,675 2013,665 2009,661 2002,659 1992,656 1983,651 1974,651 1966,649 1958,645 1952,649 1944,650 1937,643Z"/>
<path fill="#48c47c" d="M1982,717 1978,723 1968,728 1965,735 1966,745 1963,752 1958,759 1955,769 1958,779 1952,783 1945,792 1938,797 1927,801 1917,806 1909,800 1901,800 1892,801 1889,808 1881,819 1874,825 1875,833 1875,842 1875,852 1890,849 1900,847 1910,843 1918,847 1923,844 1934,843 1938,838 1948,829 1960,827 1967,824 1970,820 1969,812 1967,804 1966,796 1964,786 1972,783 1983,785 1995,785 2004,780 2011,782 2018,779 2018,768 2019,762 2023,756 2027,748 2035,747 2043,747 2045,738 2046,727 2050,721 2056,713 2060,705 2056,698 2051,693 2046,687 2040,682 2034,676 2023,673 2015,666 2013,665 2013,675 2006,684 2000,689 2000,701 1991,712Z"/>
<path fill="#c0bc50" d="M2084,654 2075,660 2067,661 2064,662 2051,670 2042,669 2034,676 2040,682 2046,687 2051,693 2056,698 2060,705 2068,707 2078,708 2082,706 2087,705 2096,701 2097,690 2098,681 2094,675 2090,667 2086,659Z"/>
<path fill="#c0bc50" d="M2110,716 2105,711 2101,706 2096,701 2087,705 2082,706 2078,708 2068,707 2060,705 2056,713 2050,721 2046,727 2045,738 2043,747 2051,751 2059,752 2065,754 2069,760 2074,765 2082,767 2086,765 2091,758 2098,752 2106,740 2109,730 2110,720Z"/>
<path fill="#c0bc50" d="M2043,747 2035,747 2027,748 2023,756 2019,762 2018,768 2018,779 2011,782 2004,780 1995,785 1983,785 1972,783 1964,786 1966,796 1967,804 1969,812 1970,820 1976,829 1982,835 1988,840 1997,835 2006,834 2013,830 2022,829 2030,831 2033,823 2034,812 2044,806 2053,797 2063,794 2071,791 2076,783 2077,776 2082,767 2074,765 2069,760 2065,754 2059,752 2051,751Z"/>
<path fill="#c0bc50" d="M2044,806 2034,812 2033,823 2030,831 2036,837 2041,841 2047,845 2053,850 2059,857 2067,865 2073,856 2074,851 2088,846 2095,840 2110,840 2111,837 2113,831 2111,820 2108,810 2105,801 2103,792 2102,784 2097,777 2091,771 2086,765 2082,767 2077,776 2076,783 2071,791 2063,794 2053,797Z"/>
<path fill="#c0bc50" d="M2179,770 2170,762 2160,753 2149,748 2139,743 2132,737 2125,729 2117,723 2110,720 2109,730 2106,740 2098,752 2091,758 2086,765 2091,771 2097,777 2102,784 2103,792 2105,801 2108,810 2111,820 2113,831 2111,837 2110,840 2116,843 2122,840 2125,843 2135,842 2142,838 2148,840 2163,841 2172,834 2174,831 2181,820 2184,810 2182,802 2178,795 2175,786 2172,778 2179,770Z"/>
<path fill="#9030b0" d="M2098,681 2097,690 2096,701 2101,706 2105,711 2110,716 2110,720 2117,723 2125,729 2132,737 2139,743 2149,748 2160,753 2170,762 2179,770 2183,761 2184,751 2184,740 2184,730 2183,721 2182,713 2185,705 2181,697 2178,689 2176,687 2173,678 2170,668 2166,659 2161,650 2159,648 2144,655 2136,659 2132,662 2124,669 2121,671 2110,677Z"/>
<path fill="#3864c8" d="M2198,817 2187,817 2184,810 2181,820 2174,831 2172,834 2163,841 2148,840 2142,838 2135,842 2125,843 2122,840 2116,843 2110,840 2095,840 2088,846 2074,851 2073,856 2067,865 2059,857 2053,850 2047,845 2041,841 2036,837 2030,831 2022,829 2013,830 2006,834 1997,835 1988,840 1986,850 1982,855 1976,860 1970,869 1965,876 1971,882 1977,885 1983,886 1993,888 2007,889 2010,884 2015,881 2025,885 2029,881 2042,882 2059,885 2062,896 2070,900 2077,905 2089,911 2098,914 2106,914 2116,914 2120,908 2123,900 2129,894 2137,897 2145,897 2155,895 2163,888 2168,878 2175,873 2183,875 2191,874 2202,874 2209,866 2206,855 2203,845 2200,835 2198,826Z"/>
<path fill="#c8942c" d="M1988,840 1982,835 1976,829 1970,820 1967,824 1960,827 1948,829 1938,838 1934,843 1923,844 1918,847 1910,843 1900,847 1890,849 1875,852 1875,854 1869,861 1863,859 1856,861 1851,865 1844,864 1833,870 1824,872 1816,869 1810,880 1808,885 1810,892 1813,899 1815,907 1823,913 1832,914 1839,916 1845,916 1854,915 1859,924 1865,934 1872,942 1871,949 1871,955 1865,963 1865,970 1867,974 1873,983 1880,991 1888,998 1895,1006 1901,1013 1907,1008 1909,1006 1915,1002 1922,993 1931,988 1939,981 1944,975 1943,971 1945,962 1942,954 1939,944 1930,938 1922,932 1926,916 1930,905 1937,902 1944,894 1951,890 1953,886 1956,879 1965,876 1970,869 1976,860 1982,855 1986,850Z"/>
<path fill="#40b4c0" d="M1939,944 1942,954 1945,962 1943,971 1944,975 1939,981 1931,988 1938,994 1944,999 1950,1003 1954,1007 1959,1012 1965,1020 1973,1025 1981,1027 1991,1029 1990,1019 1990,1010 1990,999 1989,987 1990,976 2000,972 2008,969 2014,963 2018,961 2024,954 2032,948 2033,947 2037,947 2042,940 2048,933 2052,927 2051,916 2055,904 2062,896 2059,885 2042,882 2029,881 2025,885 2015,881 2010,884 2007,889 1993,888 1983,886 1977,885 1971,882 1965,876 1956,879 1953,886 1951,890 1944,894 1937,902 1930,905 1926,916 1922,932 1930,938Z"/>
<path fill="#3864c8" d="M2116,945 2117,938 2117,930 2117,922 2116,914 2106,914 2098,914 2089,911 2077,905 2070,900 2062,896 2055,904 2051,916 2052,927 2048,933 2042,940 2037,947 2033,947 2032,948 2024,954 2018,961 2014,963 2008,969 2000,972 1990,976 1989,987 1990,999 1990,1010 1990,1019 1991,1029 1993,1031 1997,1035 2006,1029 2013,1024 2020,1022 2028,1019 2035,1018 2044,1014 2053,1008 2060,1004 2068,1008 2076,1006 2082,1004 2092,997 2102,995 2112,988 2116,977 2114,969 2113,961 2111,954Z"/>
<path fill="#3864c8" d="M2176,921 2170,911 2163,902 2155,895 2145,897 2137,897 2129,894 2123,900 2120,908 2116,914 2117,922 2117,930 2117,938 2116,945 2111,954 2113,961 2114,969 2116,977 2123,978 2129,975 2138,976 2147,973 2158,969 2170,973 2179,971 2185,971 2182,963 2178,954 2175,945 2171,937 2175,928Z"/>
<path fill="#3864c8" d="M2185,971 2179,971 2170,973 2158,969 2147,973 2138,976 2129,975 2123,978 2116,977 2112,988 2116,995 2120,1004 2124,1013 2135,1017 2143,1011 2149,1007 2161,1006 2168,997 2176,1000 2188,998 2193,994 2200,994 2200,993 2195,987 2191,979Z"/>
<path fill="#3864c8" d="M2200,994 2193,994 2188,998 2176,1000 2168,997 2161,1006 2149,1007 2143,1011 2135,1017 2124,1013 2125,1018 2131,1027 2139,1036 2148,1045 2162,1040 2166,1034 2176,1032 2179,1022 2184,1021 2197,1014 2201,1009 2200,1003 2201,996Z"/>
<path fill="#3864c8" d="M2203,918 2212,921 2221,927 2228,921 2232,915 2239,910 2245,904 2241,897 2236,888 2231,878 2224,868 2209,866 2202,874 2191,874 2183,875 2175,873 2168,878 2163,888 2155,895 2163,902 2170,911 2176,921 2184,921 2195,920Z"/>
<path fill="#3864c8" d="M2203,918 2195,920 2184,921 2176,921 2175,928 2171,937 2175,945 2178,954 2182,963 2185,971 2191,979 2196,968 2198,956 2204,951 2211,943 2216,934 2221,928 2221,927 2212,921Z"/>
<path fill="#3864c8" d="M2152,1056 2169,1055 2176,1054 2185,1055 2189,1050 2193,1043 2207,1038 2213,1028 2209,1022 2205,1015 2201,1009 2197,1014 2184,1021 2179,1022 2176,1032 2166,1034 2162,1040 2148,1045 2150,1050ZM2249,1057 2258,1060 2267,1065 2274,1071 2282,1083 2289,1088 2295,1080 2299,1072 2305,1068 2316,1062 2320,1055 2322,1047 2317,1039 2312,1032 2307,1026 2302,1018 2296,1009 2290,1000 2279,1002 2276,1000 2267,1002 2256,1008 2250,1011 2245,1018 2239,1027 2238,1036 2241,1043 2245,1050Z"/>
<path fill="#3864c8" d="M2207,1038 2193,1043 2189,1050 2185,1055 2176,1054 2169,1055 2152,1056 2150,1063 2150,1071 2162,1072 2174,1075 2182,1082 2190,1086 2199,1082 2206,1074 2214,1078 2220,1085 2225,1093 2230,1101 2236,1095 2248,1092 2256,1090 2268,1090 2279,1088 2282,1083 2274,1071 2267,1065 2258,1060 2249,1057 2245,1050 2241,1043 2238,1036 2235,1034 2225,1032 2213,1028Z"/>
<path fill="#b0782c" d="M1738,893 1734,901 1739,907 1744,914 1750,921 1757,929 1764,937 1772,945 1779,953 1785,960 1783,969 1778,976 1778,987 1778,997 1777,1005 1777,1012 1779,1018 1783,1025 1787,1033 1790,1042 1792,1051 1796,1056 1798,1049 1802,1049 1808,1047 1815,1040 1826,1035 1837,1036 1846,1035 1853,1037 1859,1045 1866,1050 1876,1053 1881,1051 1889,1043 1899,1032 1900,1022 1901,1013 1895,1006 1888,998 1880,991 1873,983 1867,974 1865,970 1865,963 1871,955 1871,949 1872,942 1865,934 1859,924 1854,915 1845,916 1839,916 1832,914 1823,913 1815,907 1813,899 1810,892 1808,885 1802,880 1792,884 1781,881 1769,878 1757,878 1747,874 1743,882Z"/>
<path fill="#b0782c" d="M1790,1103 1787,1105 1783,1107 1781,1110 1783,1118 1783,1127 1782,1137 1781,1148 1780,1159 1779,1167 1777,1175 1789,1181 1798,1184 1802,1183 1808,1187 1821,1185 1825,1177 1836,1176 1844,1165 1847,1170 1852,1176 1860,1184 1874,1185 1881,1183 1896,1183 1902,1171 1902,1162 1910,1154 1903,1147 1896,1140 1890,1134 1884,1126 1878,1119 1881,1115 1893,1111 1901,1106 1907,1109 1917,1106 1924,1108 1932,1110 1937,1097 1940,1087 1936,1079 1932,1071 1925,1063 1918,1056 1913,1048 1908,1039 1899,1032 1889,1043 1881,1051 1876,1053 1866,1050 1859,1045 1853,1037 1846,1035 1837,1036 1826,1035 1815,1040 1808,1047 1802,1049 1798,1049 1796,1056 1795,1064 1793,1072 1792,1082 1791,1093ZM1799,1230 1801,1234 1798,1234 1801,1240 1803,1247 1805,1254 1807,1261 1810,1269 1811,1270 1812,1277 1814,1285 1817,1292 1820,1300 1824,1308 1832,1302 1839,1295 1840,1285 1842,1275 1844,1265 1844,1254 1846,1247 1846,1242 1839,1241 1831,1240 1824,1236 1818,1231 1811,1224Z"/>
<path fill="#b0782c" d="M1931,988 1922,993 1915,1002 1909,1006 1907,1008 1901,1013 1900,1022 1899,1032 1908,1039 1913,1048 1918,1056 1925,1063 1932,1071 1941,1068 1948,1061 1955,1057 1961,1050 1967,1044 1976,1041 1984,1035 1993,1031 1991,1029 1981,1027 1973,1025 1965,1020 1959,1012 1954,1007 1950,1003 1944,999 1938,994Z"/>
<path fill="#b0782c" d="M2004,1048 2001,1041 1997,1035 1993,1031 1984,1035 1976,1041 1967,1044 1961,1050 1955,1057 1948,1061 1941,1068 1932,1071 1936,1079 1940,1087 1949,1087 1959,1081 1966,1083 1974,1082 1987,1078 1995,1079 2007,1071 2007,1063 2006,1056Z"/>
<path fill="#b0782c" d="M2068,1008 2060,1004 2053,1008 2044,1014 2035,1018 2028,1019 2020,1022 2013,1024 2006,1029 1997,1035 2001,1041 2004,1048 2006,1056 2007,1063 2007,1071 2009,1076 2019,1083 2022,1089 2029,1090 2042,1091 2053,1095 2059,1096 2068,1099 2074,1092 2073,1085 2071,1073 2077,1063 2072,1054 2067,1045 2070,1038 2070,1031 2068,1020Z"/>
<path fill="#b0782c" d="M2077,1063 2081,1064 2088,1065 2095,1063 2108,1064 2120,1069 2125,1072 2130,1076 2139,1079 2148,1075 2150,1071 2150,1063 2152,1056 2150,1050 2148,1045 2139,1036 2131,1027 2125,1018 2124,1013 2120,1004 2116,995 2112,988 2102,995 2092,997 2082,1004 2076,1006 2068,1008 2068,1020 2070,1031 2070,1038 2067,1045 2072,1054Z"/>
<path fill="#b0782c" d="M2139,1079 2130,1076 2125,1072 2120,1069 2108,1064 2095,1063 2088,1065 2081,1064 2077,1063 2071,1073 2073,1085 2074,1092 2068,1099 2071,1108 2081,1106 2083,1104 2093,1096 2102,1088 2114,1083 2127,1083 2131,1082Z"/>
<path fill="#b0782c" d="M2146,1108 2147,1097 2148,1086 2148,1075 2139,1079 2131,1082 2127,1083 2114,1083 2102,1088 2093,1096 2083,1104 2081,1106 2071,1108 2072,1112 2081,1117 2087,1121 2094,1126 2103,1128 2111,1129 2116,1132 2124,1137 2129,1127 2135,1118 2140,1114Z"/>
<path fill="#b0782c" d="M1950,1129 1961,1125 1962,1128 1971,1127 1981,1126 1987,1125 1994,1113 2002,1103 2003,1098 2004,1089 2009,1076 2007,1071 1995,1079 1987,1078 1974,1082 1966,1083 1959,1081 1949,1087 1940,1087 1937,1097 1932,1110 1938,1116 1944,1123Z"/>
<path fill="#b0782c" d="M2071,1108 2068,1099 2059,1096 2053,1095 2042,1091 2029,1090 2022,1089 2019,1083 2009,1076 2004,1089 2003,1098 2002,1103 1994,1113 1987,1125 1993,1133 2008,1127 2016,1126 2022,1128 2033,1128 2038,1126 2048,1122 2061,1116 2068,1116 2072,1112Z"/>
<path fill="#b0782c" d="M1878,1119 1884,1126 1890,1134 1896,1140 1903,1147 1910,1154 1917,1151 1921,1153 1936,1150 1944,1145 1945,1139 1950,1129 1944,1123 1938,1116 1932,1110 1924,1108 1917,1106 1907,1109 1901,1106 1893,1111 1881,1115Z"/>
<path fill="#b0782c" d="M2001,1155 2009,1158 2017,1161 2025,1163 2034,1165 2043,1162 2049,1155 2052,1150 2057,1145 2063,1135 2065,1124 2068,1116 2061,1116 2048,1122 2038,1126 2033,1128 2022,1128 2016,1126 2008,1127 1993,1133 1996,1140 1998,1148Z"/>
<path fill="#b0782c" d="M2088,1189 2097,1176 2106,1166 2114,1161 2122,1157 2122,1151 2126,1144 2124,1137 2116,1132 2111,1129 2103,1128 2094,1126 2087,1121 2081,1117 2072,1112 2068,1116 2065,1124 2063,1135 2066,1144 2070,1153 2073,1163 2078,1172 2082,1181Z"/>
<path fill="#b0782c" d="M2092,1203 2089,1197 2088,1189 2082,1181 2078,1172 2073,1163 2070,1153 2066,1144 2063,1135 2057,1145 2052,1150 2049,1155 2043,1162 2034,1165 2035,1176 2037,1187 2039,1198 2042,1208 2055,1208 2069,1204 2078,1208 2087,1213Z"/>
<path fill="#b0782c" d="M2126,1144 2122,1151 2122,1157 2114,1161 2106,1166 2097,1176 2088,1189 2089,1197 2092,1203 2097,1204 2106,1195 2116,1190 2125,1191 2134,1188 2143,1192 2142,1187 2141,1177 2142,1166 2143,1156 2134,1150Z"/>
<path fill="#b0782c" d="M2034,1165 2025,1163 2017,1161 2009,1158 2001,1155 1998,1164 1993,1172 1987,1175 1980,1184 1972,1192 1965,1199 1961,1207 1966,1210 1973,1213 1982,1216 1990,1217 1999,1216 2009,1219 2018,1224 2026,1217 2030,1218 2037,1216 2042,1208 2039,1198 2037,1187 2035,1176Z"/>
<path fill="#b0782c" d="M2143,1192 2134,1188 2125,1191 2116,1190 2106,1195 2097,1204 2092,1203 2087,1213 2089,1219 2091,1226 2093,1233 2106,1231 2106,1232 2116,1238 2121,1245 2124,1247 2133,1251 2144,1254 2152,1256 2153,1254 2157,1241 2165,1232 2169,1225 2168,1215 2163,1213 2157,1210 2152,1204 2147,1198Z"/>
<path fill="#b0782c" d="M2206,1074 2199,1082 2190,1086 2182,1082 2174,1075 2162,1072 2150,1071 2148,1075 2148,1086 2147,1097 2146,1108 2155,1111 2162,1115 2170,1121 2178,1125 2184,1128 2184,1137 2190,1143 2195,1148 2202,1151 2210,1152 2218,1156 2225,1163 2226,1156 2227,1149 2227,1139 2225,1130 2225,1121 2231,1118 2231,1110 2230,1101 2225,1093 2220,1085 2214,1078Z"/>
<path fill="#b0782c" d="M2124,1137 2126,1144 2134,1150 2143,1156 2152,1154 2166,1151 2174,1156 2181,1164 2187,1173 2192,1181 2198,1185 2205,1178 2214,1180 2221,1173 2227,1169 2225,1163 2218,1156 2210,1152 2202,1151 2195,1148 2190,1143 2184,1137 2184,1128 2178,1125 2170,1121 2162,1115 2155,1111 2146,1108 2140,1114 2135,1118 2129,1127Z"/>
<path fill="#b0782c" d="M2198,1185 2192,1181 2187,1173 2181,1164 2174,1156 2166,1151 2152,1154 2143,1156 2142,1166 2141,1177 2142,1187 2143,1192 2147,1198 2152,1204 2157,1210 2163,1213 2168,1215 2181,1218 2183,1207 2185,1195 2193,1191Z"/>
<path fill="#b8c050" d="M1910,1154 1902,1162 1902,1171 1896,1183 1881,1183 1874,1185 1860,1184 1852,1176 1847,1170 1844,1165 1836,1176 1825,1177 1821,1185 1808,1187 1807,1197 1810,1208 1812,1217 1811,1224 1818,1231 1824,1236 1831,1240 1839,1241 1846,1242 1846,1247 1844,1254 1844,1265 1842,1275 1840,1285 1839,1295 1832,1302 1824,1308 1825,1310 1829,1319 1834,1329 1838,1338 1841,1347 1841,1352 1852,1349 1854,1340 1863,1345 1872,1343 1880,1347 1891,1353 1902,1357 1909,1354 1911,1344 1919,1342 1923,1338 1925,1336 1923,1329 1923,1321 1923,1310 1933,1294 1941,1289 1941,1281 1940,1271 1940,1263 1943,1255 1942,1248 1940,1241 1938,1233 1943,1226 1946,1220 1954,1212 1959,1208 1961,1207 1961,1207 1965,1199 1972,1192 1980,1184 1987,1175 1993,1172 1998,1164 2001,1155 1998,1148 1996,1140 1993,1133 1987,1125 1981,1126 1971,1127 1962,1128 1961,1125 1950,1129 1945,1139 1944,1145 1936,1150 1921,1153 1917,1151Z"/>
<path fill="#c840c4" d="M2238,748 2236,758 2224,758 2223,768 2224,777 2227,785 2230,792 2230,800 2228,810 2236,812 2239,815 2244,816 2253,809 2264,813 2272,818 2284,823 2291,818 2295,812 2302,803 2309,796 2307,791 2305,785 2301,781 2294,775 2293,767 2291,760 2287,751 2284,741 2275,736 2262,733 2255,738 2248,739Z"/>
<path fill="#3058b0" d="M2312,663 2298,670 2290,673 2292,680 2294,686 2296,693 2299,701 2302,710 2305,720 2300,729 2289,732 2284,741 2287,751 2291,760 2293,767 2294,775 2301,781 2305,785 2311,777 2325,774 2330,765 2341,759 2348,762 2350,769 2352,774 2353,780 2358,783 2368,787 2378,791 2386,797 2391,796 2396,790 2400,782 2402,776 2405,770 2405,768 2412,761 2418,755 2419,746 2419,736 2419,727 2410,721 2404,720 2394,719 2383,710 2377,712 2368,708 2359,701 2352,695 2352,688 2351,681 2350,674 2345,670 2338,668 2330,665 2322,663Z"/>
<path fill="#60b438" d="M2465,718 2465,718 2468,723 2476,726 2485,730 2492,736 2497,732 2504,727 2509,722 2515,715 2513,706 2510,698 2507,690 2510,680 2513,670 2507,665 2500,662 2490,664 2482,661 2468,666 2463,663 2455,673 2455,683 2456,692 2459,701 2462,709Z"/>
<path fill="#b8a830" d="M2593,696 2600,692 2602,686 2607,677 2599,669 2592,661 2586,653 2581,644 2577,634 2568,639 2564,649 2559,653 2548,662 2542,668 2533,671 2523,673 2518,671 2513,670 2510,680 2507,690 2510,698 2513,706 2515,715 2523,718 2533,723 2541,728 2546,719 2551,712 2554,705 2561,701 2572,699 2580,697Z"/>
<path fill="#c84480" d="M2677,687 2676,684 2673,682 2665,678 2654,672 2645,666 2640,668 2629,667 2621,672 2615,678 2607,677 2602,686 2600,692 2593,696 2580,697 2572,699 2561,701 2554,705 2551,712 2546,719 2541,728 2542,731 2549,738 2558,744 2559,754 2565,758 2574,758 2581,759 2585,760 2594,762 2603,758 2609,750 2621,743 2629,740 2634,750 2642,760 2650,754 2656,755 2662,748 2672,738 2681,735 2690,728 2686,721 2682,714 2684,708 2684,703 2681,696Z"/>
<path fill="#30acc8" d="M2497,747 2493,753 2483,762 2475,768 2473,773 2478,780 2483,788 2490,795 2498,802 2505,810 2515,798 2525,796 2538,800 2548,799 2556,804 2556,798 2558,787 2560,776 2562,767 2565,758 2559,754 2558,744 2549,738 2542,731 2541,728 2533,723 2523,718 2515,715 2509,722 2504,727 2497,732 2492,736 2495,742Z"/>
<path fill="#9840a0" d="M2422,726 2419,727 2419,736 2419,746 2418,755 2412,761 2405,768 2405,770 2402,776 2400,782 2396,790 2391,796 2399,804 2408,810 2415,816 2422,823 2430,831 2433,831 2434,830 2439,823 2444,817 2448,807 2450,801 2459,790 2460,781 2463,774 2473,773 2475,768 2483,762 2493,753 2497,747 2495,742 2492,736 2485,730 2476,726 2468,723 2465,718 2461,721 2451,725 2441,724 2435,725Z"/>
<path fill="#c07030" d="M2450,801 2448,807 2444,817 2439,823 2434,830 2433,831 2438,841 2443,851 2447,862 2450,871 2452,880 2453,889 2454,889 2454,890 2462,877 2467,874 2471,868 2471,859 2474,854 2482,849 2487,835 2493,828 2499,827 2502,819 2503,818 2503,814 2505,810 2498,802 2490,795 2483,788 2478,780 2473,773 2463,774 2460,781 2459,790Z"/>
<path fill="#7048c0" d="M2341,759 2330,765 2325,774 2311,777 2305,785 2307,791 2309,796 2315,801 2323,808 2333,815 2335,822 2337,829 2343,836 2349,836 2359,837 2366,844 2373,852 2380,859 2383,859 2392,866 2398,869 2404,868 2413,874 2423,880 2431,880 2441,883 2453,889 2452,880 2450,871 2447,862 2443,851 2438,841 2433,831 2430,831 2422,823 2415,816 2408,810 2399,804 2391,796 2386,797 2378,791 2368,787 2358,783 2353,780 2352,774 2350,769 2348,762Z"/>
<path fill="#3058b0" d="M2333,815 2323,808 2315,801 2309,796 2302,803 2295,812 2291,818 2284,823 2272,818 2264,813 2253,809 2244,816 2245,825 2246,834 2247,843 2247,853 2255,855 2266,859 2278,866 2285,872 2287,871 2297,872 2308,872 2316,872 2323,880 2330,889 2336,898 2342,896 2348,895 2351,893 2356,884 2367,881 2376,877 2380,859 2373,852 2366,844 2359,837 2349,836 2343,836 2337,829 2335,822Z"/>
<path fill="#3864c8" d="M2245,904 2253,904 2265,905 2275,904 2279,910 2283,917 2287,923 2280,932 2272,937 2266,937 2257,946 2251,955 2255,963 2260,972 2265,981 2271,990 2276,1000 2279,1002 2290,1000 2296,1009 2302,1018 2307,1026 2312,1032 2317,1039 2322,1047 2331,1042 2337,1041 2339,1036 2344,1031 2345,1024 2345,1017 2344,1009 2342,999 2349,997 2352,992 2360,990 2368,991 2379,994 2378,987 2376,979 2374,971 2372,962 2370,953 2368,943 2379,940 2381,932 2391,931 2398,927 2400,918 2403,909 2414,905 2416,895 2423,893 2433,895 2440,890 2454,889 2453,889 2441,883 2431,880 2423,880 2413,874 2404,868 2398,869 2392,866 2383,859 2380,859 2376,877 2367,881 2356,884 2351,893 2348,895 2342,896 2336,898 2330,889 2323,880 2316,872 2308,872 2297,872 2287,871 2285,872 2278,866 2266,859 2255,855 2247,853 2247,843 2246,834 2245,825 2244,816 2239,815 2236,812 2228,810 2216,815 2211,813 2198,817 2198,826 2200,835 2203,845 2206,855 2209,866 2224,868 2231,878 2236,888 2241,897Z"/>
<path fill="#3864c8" d="M2275,904 2265,905 2253,904 2245,904 2239,910 2232,915 2228,921 2221,927 2221,928 2229,936 2235,942 2240,945 2245,948 2249,954 2251,955 2257,946 2266,937 2272,937 2280,932 2287,923 2283,917 2279,910Z"/>
<path fill="#3864c8" d="M2200,993 2200,994 2201,996 2212,991 2217,991 2224,996 2235,995 2242,997 2251,1001 2267,1002 2276,1000 2271,990 2265,981 2260,972 2255,963 2251,955 2249,954 2245,948 2240,945 2235,942 2229,936 2221,928 2216,934 2211,943 2204,951 2198,956 2196,968 2191,979 2195,987Z"/>
<path fill="#3864c8" d="M2201,1009 2205,1015 2209,1022 2213,1028 2225,1032 2235,1034 2238,1036 2239,1027 2245,1018 2250,1011 2256,1008 2267,1002 2251,1001 2242,997 2235,995 2224,996 2217,991 2212,991 2201,996 2200,1003Z"/>
<path fill="#3864c8" d="M2337,1041 2331,1042 2322,1047 2320,1055 2316,1062 2305,1068 2299,1072 2295,1080 2289,1088 2293,1096 2296,1104 2300,1111 2304,1118 2312,1111 2319,1104 2329,1108 2340,1103 2345,1102 2351,1099 2358,1089 2365,1090 2375,1087 2384,1093 2393,1101 2401,1110 2405,1106 2415,1097 2423,1096 2430,1088 2430,1077 2431,1070 2430,1064 2430,1056 2431,1046 2422,1041 2415,1034 2409,1028 2399,1024 2392,1014 2393,1007 2387,1001 2379,994 2368,991 2360,990 2352,992 2349,997 2342,999 2344,1009 2345,1017 2345,1024 2344,1031 2339,1036Z"/>
<path fill="#98a838" d="M2450,946 2453,934 2451,927 2449,919 2448,912 2449,904 2452,897 2454,890 2454,889 2440,890 2433,895 2423,893 2416,895 2414,905 2403,909 2400,918 2398,927 2391,931 2381,932 2379,940 2368,943 2370,953 2372,962 2374,971 2376,979 2378,987 2379,994 2387,1001 2393,1007 2400,1003 2404,993 2410,986 2413,977 2416,971 2429,974 2437,967 2443,958 2448,949Z"/>
<path fill="#98a838" d="M2508,945 2503,939 2491,942 2479,939 2469,937 2459,937 2453,934 2450,946 2448,949 2443,958 2437,967 2429,974 2435,982 2441,989 2446,996 2451,1002 2454,1005 2457,1011 2461,1017 2464,1024 2467,1030 2474,1023 2486,1021 2492,1019 2501,1010 2508,1008 2507,1000 2506,991 2505,990 2505,982 2507,975 2509,967 2509,957Z"/>
<path fill="#9838a8" d="M2516,838 2511,831 2507,824 2503,818 2502,819 2499,827 2493,828 2487,835 2482,849 2474,854 2471,859 2471,868 2467,874 2462,877 2454,890 2452,897 2449,904 2448,912 2449,919 2451,927 2453,934 2459,937 2469,937 2479,939 2491,942 2503,939 2508,945 2509,957 2509,967 2507,975 2505,982 2505,990 2506,991 2517,989 2525,989 2532,984 2545,985 2548,978 2549,970 2554,964 2561,957 2562,947 2562,946 2562,936 2564,927 2567,916 2567,906 2566,899 2571,902 2583,902 2590,899 2599,894 2609,885 2613,883 2616,879 2621,878 2627,876 2631,872 2640,863 2649,859 2646,852 2643,845 2634,836 2627,829 2619,826 2609,838 2602,848 2598,853 2591,853 2586,855 2582,847 2578,839 2573,831 2569,824 2569,824 2560,837 2550,844 2539,843 2525,845Z"/>
<path fill="#b03030" d="M2616,879 2613,883 2609,885 2599,894 2590,899 2583,902 2571,902 2566,899 2567,906 2567,916 2564,927 2562,936 2562,946 2562,947 2561,957 2554,964 2549,970 2548,978 2545,985 2554,994 2560,998 2566,1001 2576,1004 2590,999 2595,996 2594,990 2594,984 2594,976 2593,967 2598,959 2610,957 2616,947 2622,944 2624,932 2628,924 2630,920 2639,915 2648,915 2654,910 2668,901 2672,895 2680,887 2679,879 2678,872 2667,868 2659,866 2649,859 2640,863 2631,872 2627,876 2621,878Z"/>
<path fill="#3028a8" d="M2700,908 2697,902 2689,895 2680,887 2672,895 2668,901 2654,910 2648,915 2639,915 2630,920 2628,924 2624,932 2622,944 2629,950 2635,956 2642,961 2651,962 2660,968 2668,966 2676,960 2679,955 2682,952 2682,952 2686,941 2688,932 2689,928 2695,919Z"/>
<path fill="#6838a8" d="M2731,912 2725,911 2715,913 2706,912 2700,908 2695,919 2689,928 2688,932 2686,941 2682,952 2682,952 2679,955 2676,960 2679,968 2682,977 2685,987 2694,993 2702,994 2713,994 2722,986 2724,978 2728,973 2734,969 2738,960 2738,960 2736,957 2735,945 2734,933 2733,922Z"/>
<path fill="#a89828" d="M2622,944 2616,947 2610,957 2598,959 2593,967 2594,976 2594,984 2594,990 2595,996 2606,1001 2616,999 2620,1002 2624,1007 2630,1008 2643,1003 2652,1007 2660,1009 2669,1008 2675,1001 2676,995 2685,987 2682,977 2679,968 2676,960 2668,966 2660,968 2651,962 2642,961 2635,956 2629,950Z"/>
<path fill="#c06030" d="M2627,829 2634,836 2643,845 2646,852 2649,859 2659,866 2667,868 2678,872 2679,879 2680,887 2689,895 2697,902 2700,908 2706,912 2715,913 2725,911 2731,912 2733,912 2738,906 2744,901 2748,899 2748,896 2747,890 2751,879 2756,871 2758,865 2758,857 2754,850 2750,843 2747,836 2741,834 2732,828 2725,835 2717,838 2711,837 2704,831 2698,825 2690,824 2680,822 2672,824 2666,818 2660,811 2652,803 2642,811 2637,819 2636,822 2632,823Z"/>
<path fill="#30c450" d="M2669,781 2660,782 2653,785 2653,794 2652,803 2660,811 2666,818 2672,824 2680,822 2690,824 2698,825 2704,831 2711,837 2717,838 2725,835 2732,828 2741,834 2747,836 2754,831 2766,829 2771,823 2776,818 2786,817 2788,807 2790,800 2790,800 2787,790 2785,780 2782,769 2774,769 2762,773 2752,774 2744,776 2736,773 2734,776 2728,775 2716,773 2708,765 2701,758 2695,752 2688,762 2679,766 2673,774 2673,781Z"/>
<path fill="#4848b0" d="M2710,654 2701,656 2695,661 2690,670 2680,676 2676,684 2677,687 2681,696 2684,703 2684,708 2682,714 2686,721 2690,728 2681,735 2672,738 2662,748 2656,755 2650,754 2642,760 2644,769 2646,778 2653,785 2660,782 2669,781 2673,781 2673,774 2679,766 2688,762 2695,752 2701,758 2708,765 2716,773 2728,775 2734,776 2736,773 2744,776 2752,774 2762,773 2774,769 2782,769 2783,761 2786,753 2779,745 2773,737 2767,729 2760,723 2754,724 2747,721 2742,715 2742,709 2741,702 2738,695 2736,685 2738,676 2730,670 2725,664 2721,660 2717,657ZM2790,801 2790,800 2790,800 2788,807 2786,817 2786,826 2785,834 2784,843 2784,854 2792,859 2802,864 2811,860 2817,852 2828,847 2830,841 2829,831 2824,824 2820,817 2816,810 2804,809Z"/>
<path fill="#3c30c8" d="M2774,650 2771,653 2763,658 2749,661 2743,670 2738,676 2736,685 2738,695 2741,702 2742,709 2742,715 2747,721 2754,724 2760,723 2767,722 2775,713 2781,704 2792,702 2793,693 2792,685 2791,679 2790,673 2789,666 2783,658 2776,651Z"/>
<path fill="#68c438" d="M2789,666 2790,673 2791,679 2792,685 2793,693 2792,702 2781,704 2775,713 2767,722 2760,723 2767,729 2773,737 2779,745 2786,753 2792,750 2797,747 2810,740 2820,734 2832,740 2837,748 2843,754 2847,761 2855,768 2867,768 2873,759 2878,756 2886,746 2891,741 2895,739 2896,734 2892,726 2888,718 2890,711 2893,702 2897,694 2899,687 2901,680 2895,675 2888,667 2881,662 2872,661 2864,661 2856,656 2856,663 2852,673 2847,675 2846,674 2839,668 2831,670 2820,670 2809,669 2802,670 2797,670Z"/>
<path fill="#58a848" d="M2786,753 2783,761 2782,769 2785,780 2787,790 2790,800 2790,801 2804,809 2816,810 2822,805 2835,800 2841,799 2846,803 2858,807 2867,806 2872,806 2882,807 2886,805 2883,798 2880,790 2876,783 2872,775 2867,768 2855,768 2847,761 2843,754 2837,748 2832,740 2820,734 2810,740 2797,747 2792,750Z"/>
<path fill="#c43c50" d="M2895,739 2891,741 2886,746 2878,756 2873,759 2867,768 2872,775 2876,783 2880,790 2883,798 2886,805 2882,807 2877,814 2877,822 2878,830 2877,837 2875,842 2873,849 2872,859 2879,867 2889,873 2899,878 2910,884 2912,884 2919,887 2928,887 2937,890 2943,898 2948,905 2952,913 2957,919 2961,924 2964,924 2970,912 2979,907 2993,898 3000,901 3006,896 3005,884 3005,874 3012,874 3022,874 3033,880 3042,886 3053,888 3064,893 3063,889 3063,876 3067,863 3071,858 3076,849 3074,840 3072,832 3071,824 3074,814 3071,805 3068,794 3066,784 3064,775 3060,772 3055,772 3052,762 3049,752 3045,743 3034,740 3022,738 3017,737 3013,733 3005,726 3007,719 3005,709 3007,696 3013,690 3016,684 3009,676 3003,667 2997,661 2990,664 2981,665 2973,670 2965,675 2958,677 2953,683 2948,677 2941,672 2934,668 2924,676 2914,676 2901,680 2899,687 2897,694 2893,702 2890,711 2888,718 2892,726 2896,734Z"/>
<path fill="#30b888" d="M2816,810 2820,817 2824,824 2829,831 2830,841 2828,847 2817,852 2811,860 2802,864 2798,875 2798,889 2806,898 2820,892 2834,891 2837,879 2841,873 2844,870 2843,862 2848,861 2856,864 2864,864 2872,859 2873,849 2875,842 2877,837 2878,830 2877,822 2877,814 2882,807 2872,806 2867,806 2858,807 2846,803 2841,799 2835,800 2822,805Z"/>
<path fill="#4ca030" d="M2747,836 2750,843 2754,850 2758,857 2758,865 2756,871 2751,879 2747,890 2748,896 2748,899 2756,906 2764,912 2772,918 2779,924 2785,932 2798,928 2806,922 2807,916 2807,910 2806,898 2798,889 2798,875 2802,864 2792,859 2784,854 2784,843 2785,834 2786,826 2786,817 2776,818 2771,823 2766,829 2754,831Z"/>
<path fill="#50c440" d="M2843,862 2844,870 2841,873 2837,879 2834,891 2820,892 2806,898 2807,910 2807,916 2806,922 2815,927 2825,930 2832,931 2837,935 2839,939 2839,943 2837,950 2833,958 2826,964 2819,975 2821,978 2834,976 2844,976 2848,974 2856,981 2863,981 2860,969 2860,959 2861,950 2864,941 2878,930 2888,935 2895,940 2900,940 2900,933 2900,924 2902,912 2905,900 2908,891 2910,884 2899,878 2889,873 2879,867 2872,859 2864,864 2856,864 2848,861Z"/>
<path fill="#68a848" d="M2937,890 2928,887 2919,887 2912,884 2910,884 2908,891 2905,900 2902,912 2900,924 2900,933 2900,940 2902,942 2905,949 2909,956 2916,958 2929,954 2938,949 2947,950 2961,950 2966,950 2968,949 2967,942 2966,934 2964,924 2961,924 2957,919 2952,913 2948,905 2943,898Z"/>
<path fill="#d06030" d="M2964,924 2966,934 2967,942 2968,949 2966,950 2965,959 2958,969 2951,979 2952,991 2954,1002 2956,1000 2963,997 2975,998 2984,997 2993,997 2997,1006 3001,1015 3005,1024 3012,1025 3020,1023 3031,1022 3033,1012 3037,1002 3032,992 3027,981 3022,977 3026,969 3034,963 3041,954 3041,947 3044,940 3034,936 3028,933 3016,932 3014,923 3012,915 3009,905 3006,896 3000,901 2993,898 2979,907 2970,912Z"/>
<path fill="#2c90b0" d="M2954,1002 2952,991 2951,979 2958,969 2965,959 2966,950 2961,950 2947,950 2938,949 2929,954 2916,958 2909,956 2905,949 2902,942 2900,940 2895,940 2888,935 2878,930 2864,941 2861,950 2860,959 2860,969 2863,981 2868,983 2873,988 2879,993 2882,1005 2884,1008 2896,1014 2906,1020 2909,1029 2910,1037 2912,1045 2922,1048 2933,1047 2944,1049 2948,1041 2951,1031 2952,1019 2950,1011 2948,1004 2949,1003Z"/>
<path fill="#a82858" d="M2993,997 2984,997 2975,998 2963,997 2956,1000 2954,1002 2949,1003 2948,1004 2950,1011 2952,1019 2951,1031 2948,1041 2944,1049 2948,1060 2951,1070 2954,1072 2961,1066 2970,1063 2977,1059 2986,1052 2995,1051 2994,1039 2999,1031 3005,1024 3001,1015 2997,1006Z"/>
<path fill="#6838a8" d="M2731,912 2733,922 2734,933 2735,945 2736,957 2738,960 2738,960 2734,969 2728,973 2724,978 2722,986 2713,994 2715,1003 2718,1013 2729,1013 2736,1009 2745,1013 2751,1019 2759,1016 2763,1010 2774,1010 2782,1004 2793,1004 2801,1007 2806,1006 2815,1007 2825,1010 2822,1001 2821,989 2821,978 2819,975 2826,964 2833,958 2837,950 2839,943 2839,939 2837,935 2832,931 2825,930 2815,927 2806,922 2798,928 2785,932 2779,924 2772,918 2764,912 2756,906 2748,899 2744,901 2738,906 2733,912Z"/>
<path fill="#c8b058" d="M2821,978 2821,989 2822,1001 2825,1010 2829,1019 2830,1020 2834,1027 2838,1034 2843,1042 2846,1050 2851,1056 2854,1062 2856,1069 2858,1076 2861,1080 2869,1079 2877,1074 2886,1073 2895,1070 2896,1057 2890,1050 2883,1045 2876,1040 2882,1028 2888,1022 2887,1017 2884,1008 2882,1005 2879,993 2873,988 2868,983 2863,981 2856,981 2848,974 2844,976 2834,976Z"/>
<path fill="#38c480" d="M2884,1008 2887,1017 2888,1022 2882,1028 2876,1040 2883,1045 2890,1050 2896,1057 2895,1070 2899,1076 2902,1082 2906,1089 2916,1092 2929,1093 2935,1089 2940,1082 2946,1074 2951,1070 2948,1060 2944,1049 2933,1047 2922,1048 2912,1045 2910,1037 2909,1029 2906,1020 2896,1014ZM2995,1051 3001,1059 3006,1065 3013,1060 3022,1061 3030,1052 3041,1050 3051,1045 3047,1034 3040,1028 3031,1022 3020,1023 3012,1025 3005,1024 2999,1031 2994,1039Z"/>
<path fill="#2c98c0" d="M2671,1019 2669,1008 2660,1009 2652,1007 2643,1003 2630,1008 2624,1007 2625,1014 2626,1020 2621,1028 2618,1039 2623,1045 2627,1051 2633,1057 2639,1064 2645,1072 2651,1080 2657,1084 2659,1082 2657,1073 2655,1063 2653,1054 2652,1045 2659,1040 2665,1030Z"/>
<path fill="#6838a8" d="M2708,1043 2709,1037 2712,1025 2718,1013 2715,1003 2713,994 2702,994 2694,993 2685,987 2676,995 2675,1001 2669,1008 2671,1019 2665,1030 2659,1040 2652,1045 2653,1054 2655,1063 2657,1073 2659,1082 2671,1079 2675,1082 2691,1076 2697,1067 2700,1058 2705,1047 2707,1043Z"/>
<path fill="#6024b0" d="M2545,985 2532,984 2525,989 2517,989 2506,991 2507,1000 2508,1008 2512,1015 2515,1021 2520,1028 2527,1024 2538,1029 2548,1034 2556,1036 2561,1038 2566,1043 2569,1035 2573,1024 2574,1011 2576,1004 2566,1001 2560,998 2554,994Z"/>
<path fill="#6024b0" d="M2520,1028 2520,1038 2518,1045 2516,1052 2515,1053 2521,1062 2529,1071 2537,1078 2545,1085 2552,1091 2561,1088 2572,1079 2577,1072 2583,1067 2583,1066 2576,1061 2571,1055 2566,1043 2561,1038 2556,1036 2548,1034 2538,1029 2527,1024Z"/>
<path fill="#6024b0" d="M2409,1028 2415,1034 2422,1041 2431,1046 2445,1042 2451,1042 2459,1032 2467,1032 2467,1030 2464,1024 2461,1017 2457,1011 2454,1005 2451,1002 2446,996 2441,989 2435,982 2429,974 2416,971 2413,977 2410,986 2404,993 2400,1003 2393,1007 2392,1014 2399,1024Z"/>
<path fill="#6024b0" d="M2508,1008 2501,1010 2492,1019 2486,1021 2474,1023 2467,1030 2467,1032 2459,1032 2451,1042 2445,1042 2431,1046 2430,1056 2430,1064 2431,1070 2430,1077 2430,1088 2441,1091 2450,1095 2454,1092 2460,1084 2467,1080 2470,1071 2479,1068 2491,1074 2498,1074 2505,1068 2512,1061 2515,1053 2516,1052 2518,1045 2520,1038 2520,1028 2515,1021 2512,1015Z"/>
<path fill="#6024b0" d="M2540,1122 2548,1129 2555,1136 2557,1135 2564,1127 2565,1116 2570,1113 2579,1106 2584,1097 2590,1090 2596,1080 2595,1079 2589,1073 2583,1067 2577,1072 2572,1079 2561,1088 2552,1091 2545,1085 2537,1078 2529,1071 2521,1062 2515,1053 2512,1061 2505,1068 2498,1074 2491,1074 2479,1068 2470,1071 2467,1080 2460,1084 2454,1092 2450,1095 2441,1091 2430,1088 2423,1096 2415,1097 2405,1106 2401,1110 2402,1117 2403,1125 2403,1133 2409,1141 2415,1148 2424,1152 2432,1155 2443,1160 2449,1155 2453,1147 2460,1144 2467,1138 2474,1133 2480,1135 2488,1130 2493,1124 2499,1123 2507,1118 2513,1114 2521,1118 2532,1121Z"/>
<path fill="#6838a8" d="M2718,1013 2712,1025 2709,1037 2708,1043 2707,1043 2705,1047 2700,1058 2697,1067 2691,1076 2675,1082 2679,1089 2683,1095 2688,1102 2693,1109 2698,1115 2704,1122 2717,1117 2725,1107 2738,1100 2741,1106 2744,1112 2747,1119 2751,1126 2760,1130 2768,1131 2771,1121 2774,1114 2779,1106 2776,1097 2773,1089 2770,1081 2766,1073 2762,1065 2774,1053 2771,1046 2769,1039 2766,1031 2762,1024 2759,1016 2751,1019 2745,1013 2736,1009 2729,1013Z"/>
<path fill="#6838a8" d="M2759,1016 2762,1024 2766,1031 2769,1039 2771,1046 2774,1053 2762,1065 2766,1073 2770,1081 2773,1089 2776,1097 2779,1106 2774,1114 2771,1121 2768,1131 2773,1138 2779,1146 2786,1144 2792,1139 2804,1133 2815,1124 2818,1114 2821,1106 2814,1097 2815,1092 2815,1087 2809,1080 2804,1073 2817,1060 2825,1050 2830,1041 2838,1034 2834,1027 2830,1020 2829,1019 2825,1010 2815,1007 2806,1006 2801,1007 2793,1004 2782,1004 2774,1010 2763,1010Z"/>
<path fill="#70c050" d="M2838,1034 2830,1041 2825,1050 2817,1060 2804,1073 2809,1080 2815,1087 2815,1092 2814,1097 2821,1106 2818,1114 2815,1124 2821,1130 2826,1137 2831,1143 2836,1151 2841,1152 2845,1143 2846,1132 2847,1126 2850,1119 2858,1114 2859,1105 2859,1096 2860,1088 2861,1080 2858,1076 2856,1069 2854,1062 2851,1056 2846,1050 2843,1042Z"/>
<path fill="#30acb8" d="M2895,1070 2886,1073 2877,1074 2869,1079 2861,1080 2860,1088 2859,1096 2859,1105 2858,1114 2850,1119 2847,1126 2846,1132 2845,1143 2841,1152 2847,1157 2854,1151 2862,1152 2871,1147 2880,1143 2888,1147 2889,1144 2895,1139 2903,1140 2912,1130 2923,1128 2934,1122 2934,1118 2932,1109 2931,1101 2929,1093 2916,1092 2906,1089 2902,1082 2899,1076Z"/>
<path fill="#c830a0" d="M2954,1072 2951,1070 2946,1074 2940,1082 2935,1089 2929,1093 2931,1101 2932,1109 2934,1118 2943,1121 2952,1125 2959,1119 2968,1119 2981,1118 2990,1114 2990,1112 2998,1116 3005,1113 3008,1110 3016,1107 3027,1097 3026,1085 3019,1081 3013,1080 3007,1078 3006,1065 3001,1059 2995,1051 2986,1052 2977,1059 2970,1063 2961,1066Z"/>
<path fill="#4848b0" d="M2934,1122 2937,1132 2941,1141 2945,1149 2949,1156 2951,1164 2961,1164 2968,1168 2979,1171 2989,1177 2994,1184 2998,1191 3002,1182 3009,1175 3011,1166 3014,1157 3021,1152 3011,1146 3004,1138 2999,1130 2995,1122 2990,1114 2981,1118 2968,1119 2959,1119 2952,1125 2943,1121 2934,1118Z"/>
<path fill="#a87828" d="M2889,1144 2888,1147 2880,1143 2871,1147 2862,1152 2854,1151 2847,1157 2852,1163 2856,1169 2861,1175 2868,1181 2878,1177 2885,1178 2893,1179 2905,1184 2910,1187 2918,1188 2933,1188 2933,1188 2937,1182 2941,1171 2951,1164 2949,1156 2945,1149 2941,1141 2937,1132 2934,1122 2923,1128 2912,1130 2903,1140 2895,1139Z"/>
<path fill="#5038a8" d="M2863,1190 2869,1196 2875,1203 2889,1205 2894,1208 2902,1209 2917,1207 2923,1204 2931,1200 2933,1188 2918,1188 2910,1187 2905,1184 2893,1179 2885,1178 2878,1177 2868,1181 2861,1175 2856,1169 2852,1163 2847,1157 2841,1152 2836,1151 2830,1159 2822,1167 2814,1170 2821,1177 2828,1184 2833,1191 2838,1200 2844,1198 2850,1193 2859,1194Z"/>
<path fill="#58c048" d="M3003,1229 3003,1221 3003,1213 3002,1206 3000,1199 2998,1191 2994,1184 2989,1177 2979,1171 2968,1168 2961,1164 2951,1164 2941,1171 2937,1182 2933,1188 2933,1188 2931,1200 2940,1205 2947,1212 2943,1219 2941,1227 2938,1234 2932,1245 2926,1256 2921,1266 2918,1273 2917,1277 2922,1285 2922,1296 2928,1300 2934,1306 2942,1307 2948,1310 2954,1308 2959,1313 2968,1310 2980,1303 2992,1305 3000,1303 3006,1304 3006,1304 3007,1303 3005,1296 3004,1285 3005,1274 3007,1264 3006,1254 3004,1244 3003,1233 3003,1230Z"/>
<path fill="#3878b0" d="M2557,1135 2567,1135 2571,1134 2574,1138 2576,1143 2582,1149 2590,1156 2598,1164 2605,1173 2609,1167 2619,1161 2629,1156 2632,1144 2640,1142 2640,1140 2643,1132 2646,1125 2653,1117 2659,1105 2658,1092 2657,1084 2651,1080 2641,1081 2628,1083 2621,1079 2611,1082 2603,1081 2595,1079 2596,1080 2590,1090 2584,1097 2579,1106 2570,1113 2565,1116 2564,1127Z"/>
<path fill="#3878b0" d="M2675,1082 2671,1079 2659,1082 2657,1084 2658,1092 2659,1105 2653,1117 2646,1125 2643,1132 2640,1140 2640,1142 2646,1151 2653,1158 2659,1164 2665,1168 2671,1173 2676,1178 2682,1184 2692,1189 2704,1192 2715,1195 2717,1182 2720,1169 2722,1157 2724,1152 2728,1146 2735,1142 2742,1137 2751,1126 2747,1119 2744,1112 2741,1106 2738,1100 2725,1107 2717,1117 2704,1122 2698,1115 2693,1109 2688,1102 2683,1095 2679,1089Z"/>
<path fill="#3878b0" d="M2722,1157 2720,1169 2717,1182 2715,1195 2719,1199 2726,1189 2734,1186 2736,1181 2741,1177 2749,1177 2756,1169 2768,1163 2776,1156 2780,1150 2779,1146 2773,1138 2768,1131 2760,1130 2751,1126 2742,1137 2735,1142 2728,1146 2724,1152ZM2724,1216 2718,1222 2718,1233 2718,1246 2716,1256 2721,1263 2726,1271 2732,1279 2737,1288 2742,1297 2746,1293 2756,1291 2769,1286 2773,1277 2781,1276 2781,1266 2781,1255 2772,1249 2762,1245 2754,1240 2747,1233 2742,1223 2736,1215 2730,1214Z"/>
<path fill="#3878b0" d="M2793,1170 2803,1173 2814,1170 2822,1167 2830,1159 2836,1151 2831,1143 2826,1137 2821,1130 2815,1124 2804,1133 2792,1139 2786,1144 2779,1146 2780,1150 2787,1160Z"/>
<path fill="#3878b0" d="M2724,1216 2730,1214 2736,1215 2743,1217 2750,1213 2759,1209 2767,1208 2776,1200 2780,1194 2784,1191 2787,1182 2790,1173 2793,1170 2787,1160 2780,1150 2776,1156 2768,1163 2756,1169 2749,1177 2741,1177 2736,1181 2734,1186 2726,1189 2719,1199 2721,1208Z"/>
<path fill="#3878b0" d="M2824,1222 2827,1221 2831,1211 2838,1200 2833,1191 2828,1184 2821,1177 2814,1170 2803,1173 2793,1170 2790,1173 2787,1182 2784,1191 2780,1194 2776,1200 2784,1203 2791,1210 2796,1215 2804,1217 2814,1219Z"/>
<path fill="#3878b0" d="M2736,1215 2742,1223 2747,1233 2754,1240 2762,1245 2772,1249 2781,1255 2784,1250 2790,1247 2801,1239 2804,1234 2813,1228 2824,1222 2814,1219 2804,1217 2796,1215 2791,1210 2784,1203 2776,1200 2767,1208 2759,1209 2750,1213 2743,1217Z"/>
<path fill="#3878b0" d="M2605,1173 2598,1164 2590,1156 2582,1149 2576,1143 2574,1138 2571,1134 2567,1135 2557,1135 2555,1136 2552,1147 2549,1157 2540,1162 2532,1168 2532,1177 2532,1184 2537,1186 2545,1184 2558,1183 2565,1185 2573,1179 2584,1177 2589,1177 2595,1171 2605,1173Z"/>
<path fill="#3878b0" d="M2620,1240 2627,1232 2629,1226 2635,1218 2639,1215 2647,1213 2660,1205 2667,1197 2672,1187 2676,1178 2671,1173 2665,1168 2659,1164 2653,1158 2646,1151 2640,1142 2632,1144 2629,1156 2619,1161 2609,1167 2605,1173 2605,1173 2605,1180 2607,1189 2610,1200 2613,1212 2614,1223 2616,1231 2618,1240Z"/>
<path fill="#3878b0" d="M2605,1173 2595,1171 2589,1177 2584,1177 2573,1179 2565,1185 2558,1183 2545,1184 2537,1186 2532,1184 2531,1185 2539,1190 2545,1196 2552,1196 2560,1196 2568,1202 2575,1208 2583,1211 2593,1215 2603,1221 2614,1223 2613,1212 2610,1200 2607,1189 2605,1180Z"/>
<path fill="#3878b0" d="M2519,1203 2526,1209 2535,1213 2545,1216 2554,1221 2561,1226 2567,1229 2572,1231 2576,1235 2584,1237 2596,1238 2606,1241 2618,1240 2616,1231 2614,1223 2603,1221 2593,1215 2583,1211 2575,1208 2568,1202 2560,1196 2552,1196 2545,1196 2539,1190 2531,1185 2520,1199Z"/>
<path fill="#3878b0" d="M2638,1254 2648,1249 2656,1246 2665,1244 2674,1237 2682,1239 2692,1233 2700,1231 2709,1230 2718,1222 2724,1216 2721,1208 2719,1199 2715,1195 2704,1192 2692,1189 2682,1184 2676,1178 2672,1187 2667,1197 2660,1205 2647,1213 2639,1215 2635,1218 2629,1226 2627,1232 2620,1240 2622,1246 2631,1247Z"/>
<path fill="#3878b0" d="M2540,1122 2532,1121 2521,1118 2513,1114 2507,1118 2499,1123 2493,1124 2488,1130 2480,1135 2474,1133 2467,1138 2460,1144 2453,1147 2449,1155 2443,1160 2445,1170 2447,1180 2448,1190 2449,1201 2443,1208 2439,1213 2442,1222 2446,1231 2449,1240 2452,1249 2459,1245 2465,1248 2473,1254 2484,1255 2493,1251 2498,1249 2502,1236 2505,1226 2505,1222 2512,1213 2517,1204 2519,1203 2520,1199 2531,1185 2532,1184 2532,1177 2532,1168 2540,1162 2549,1157 2552,1147 2555,1136 2548,1129Z"/>
<path fill="#6024b0" d="M2318,1156 2316,1159 2310,1168 2306,1176 2306,1184 2305,1193 2301,1202 2298,1212 2296,1222 2300,1230 2305,1238 2318,1235 2328,1238 2341,1240 2350,1240 2352,1234 2361,1224 2366,1217 2377,1212 2388,1218 2396,1224 2401,1224 2413,1220 2418,1216 2425,1215 2439,1213 2443,1208 2449,1201 2448,1190 2447,1180 2445,1170 2443,1160 2432,1155 2424,1152 2415,1148 2409,1141 2403,1133 2403,1125 2402,1117 2401,1110 2393,1101 2384,1093 2375,1087 2365,1090 2358,1089 2351,1099 2345,1102 2340,1103 2329,1108 2319,1104 2312,1111 2304,1118 2304,1123 2308,1131 2312,1139 2316,1147Z"/>
<path fill="#6024b0" d="M2289,1088 2282,1083 2279,1088 2268,1090 2256,1090 2248,1092 2236,1095 2230,1101 2231,1110 2231,1118 2237,1125 2242,1129 2248,1130 2256,1133 2254,1146 2248,1155 2242,1156 2237,1166 2228,1170 2233,1177 2234,1186 2236,1195 2240,1202 2244,1209 2248,1215 2264,1214 2271,1217 2281,1218 2290,1221 2296,1222 2298,1212 2301,1202 2305,1193 2306,1184 2306,1176 2310,1168 2316,1159 2318,1156 2316,1147 2312,1139 2308,1131 2304,1123 2304,1118 2300,1111 2296,1104 2293,1096Z"/>
<path fill="#6024b0" d="M2256,1133 2248,1130 2242,1129 2237,1125 2231,1118 2225,1121 2225,1130 2227,1139 2227,1149 2226,1156 2225,1163 2227,1169 2228,1170 2237,1166 2242,1156 2248,1155 2254,1146Z"/>
<path fill="#b07838" d="M2228,1170 2227,1169 2221,1173 2214,1180 2205,1178 2198,1185 2193,1191 2185,1195 2183,1207 2181,1218 2186,1223 2190,1225 2194,1228 2199,1235 2205,1243 2214,1243 2223,1245 2229,1244 2236,1242 2242,1233 2244,1225 2248,1215 2244,1209 2240,1202 2236,1195 2234,1186 2233,1177Z"/>
<path fill="#58c048" d="M2875,1203 2869,1196 2863,1190 2859,1194 2850,1193 2844,1198 2838,1200 2831,1211 2827,1221 2824,1222 2813,1228 2804,1234 2801,1239 2790,1247 2784,1250 2781,1255 2781,1266 2781,1276 2788,1283 2793,1289 2797,1294 2802,1298 2803,1301 2811,1305 2820,1308 2829,1309 2838,1307 2847,1304 2854,1299 2860,1299 2867,1296 2874,1295 2888,1303 2899,1300 2908,1301 2922,1296 2922,1285 2917,1277 2912,1272 2906,1266 2900,1260 2895,1253 2890,1245 2884,1236 2876,1233 2877,1224 2875,1218 2873,1212Z"/>
<path fill="#b05848" d="M2890,1245 2895,1253 2900,1260 2906,1266 2912,1272 2917,1277 2918,1273 2921,1266 2926,1256 2932,1245 2938,1234 2941,1227 2943,1219 2947,1212 2940,1205 2931,1200 2923,1204 2917,1207 2902,1209 2894,1208 2889,1205 2875,1203 2873,1212 2875,1218 2877,1224 2876,1233 2884,1236Z"/>
<path fill="#90c038" d="M3191,706 3193,714 3196,722 3188,727 3180,735 3176,743 3176,753 3178,760 3174,769 3168,779 3170,786 3173,792 3175,799 3178,806 3182,813 3191,809 3204,816 3217,817 3217,805 3221,801 3218,792 3214,784 3211,775 3207,766 3202,758 3211,757 3222,752 3231,748 3234,738 3231,731 3229,724 3229,713 3231,704 3234,697 3233,688 3232,677 3221,682 3212,685 3206,689 3197,695Z"/>
<path fill="#40a060" d="M3422,650 3410,648 3397,646 3391,644 3383,643 3373,641 3372,647 3368,654 3360,662 3353,669 3346,672 3336,675 3332,677 3328,683 3318,688 3308,693 3308,700 3299,706 3291,708 3289,713 3286,721 3283,729 3281,739 3272,749 3259,747 3252,751 3252,762 3248,767 3244,780 3236,788 3232,792 3238,800 3250,809 3263,813 3271,817 3276,814 3288,808 3292,804 3302,805 3310,796 3313,789 3316,783 3330,774 3334,770 3341,763 3352,759 3357,757 3370,752 3378,756 3382,756 3394,748 3397,744 3400,742 3405,733 3409,729 3410,722 3412,711 3415,701 3417,696 3418,689 3420,677 3425,666 3428,659Z"/>
<path fill="#44b4c4" d="M3202,758 3207,766 3211,775 3214,784 3218,792 3221,801 3217,805 3217,817 3204,816 3191,809 3182,813 3173,817 3169,823 3170,836 3169,845 3167,853 3165,863 3166,874 3173,875 3184,875 3193,877 3199,880 3200,888 3201,896 3201,903 3200,913 3201,923 3201,933 3209,939 3216,946 3221,952 3224,948 3230,936 3235,931 3242,925 3253,921 3258,915 3260,904 3263,894 3270,890 3273,885 3277,879 3285,871 3292,866 3299,859 3309,857 3311,850 3311,841 3311,831 3313,822 3308,814 3302,805 3292,804 3288,808 3276,814 3271,817 3263,813 3250,809 3238,800 3232,792 3236,788 3244,780 3248,767 3252,762 3252,751 3245,745 3239,739 3234,738 3231,748 3222,752 3211,757Z"/>
<path fill="#90b844" d="M3309,857 3316,864 3323,869 3331,874 3330,880 3330,886 3331,892 3330,905 3325,917 3317,925 3317,938 3316,949 3326,952 3335,954 3342,959 3350,966 3358,957 3360,946 3360,941 3364,935 3370,927 3375,924 3375,914 3383,904 3380,893 3376,883 3372,873 3368,865 3365,857 3370,851 3378,846 3383,838 3375,837 3363,833 3354,829 3348,825 3339,821 3332,822 3326,824 3313,822 3311,831 3311,841 3311,850Z"/>
<path fill="#3c68c8" d="M3331,874 3323,869 3316,864 3309,857 3299,859 3292,866 3285,871 3277,879 3273,885 3270,890 3263,894 3260,904 3258,915 3253,921 3242,925 3235,931 3230,936 3224,948 3231,947 3239,950 3246,958 3253,964 3261,967 3270,973 3278,981 3286,971 3289,959 3296,954 3303,945 3316,949 3317,938 3317,925 3325,917 3330,905 3331,892 3330,886 3330,880Z"/>
<path fill="#a08830" d="M3169,823 3163,823 3155,818 3146,809 3138,805 3129,804 3124,810 3117,813 3119,821 3118,832 3120,845 3122,856 3115,859 3111,868 3112,875 3111,880 3107,887 3105,896 3106,905 3108,913 3108,913 3114,911 3125,907 3129,904 3136,900 3147,897 3149,890 3156,882 3165,876 3166,874 3165,863 3167,853 3169,845 3170,836Z"/>
<path fill="#d06030" d="M3071,824 3072,832 3074,840 3076,849 3071,858 3067,863 3063,876 3063,889 3064,893 3053,888 3042,886 3033,880 3022,874 3012,874 3005,874 3005,884 3006,896 3009,905 3012,915 3014,923 3016,932 3028,933 3034,936 3044,940 3056,937 3061,934 3070,932 3083,928 3085,922 3091,920 3103,915 3108,913 3106,905 3105,896 3107,887 3111,880 3112,875 3111,868 3115,859 3122,856 3120,845 3118,832 3119,821 3117,813 3107,814 3098,810 3090,809 3081,813 3074,814Z"/>
<path fill="#a08830" d="M3201,933 3201,923 3200,913 3201,903 3201,896 3200,888 3199,880 3193,877 3184,875 3173,875 3166,874 3165,876 3156,882 3149,890 3147,897 3136,900 3129,904 3125,907 3114,911 3108,913 3108,913 3103,915 3091,920 3085,922 3083,928 3083,935 3083,944 3084,952 3085,960 3087,968 3095,981 3103,978 3110,976 3117,973 3121,968 3129,965 3138,962 3146,961 3150,963 3158,955 3163,946 3169,938 3179,935 3188,934Z"/>
<path fill="#88c038" d="M3044,940 3041,947 3041,954 3034,963 3026,969 3022,977 3027,981 3032,992 3037,1002 3033,1012 3031,1022 3040,1028 3047,1034 3053,1029 3061,1027 3065,1020 3069,1013 3076,1006 3081,997 3087,991 3094,990 3096,986 3095,981 3087,968 3085,960 3084,952 3083,944 3083,935 3083,928 3070,932 3061,934 3056,937Z"/>
<path fill="#28a888" d="M3150,963 3146,961 3138,962 3129,965 3121,968 3117,973 3110,976 3103,978 3095,981 3096,986 3094,990 3099,1003 3104,1012 3108,1021 3111,1030 3111,1037 3110,1044 3111,1051 3111,1052 3116,1053 3126,1049 3137,1051 3145,1055 3154,1055 3160,1048 3161,1042 3162,1030 3158,1024 3154,1018 3149,1012 3151,1003 3152,995 3158,992 3158,985 3154,974Z"/>
<path fill="#28b030" d="M3201,933 3188,934 3179,935 3169,938 3163,946 3158,955 3150,963 3154,974 3158,985 3158,992 3152,995 3151,1003 3149,1012 3154,1018 3158,1024 3162,1030 3169,1025 3180,1023 3188,1015 3199,1012 3205,1003 3214,999 3219,996 3218,989 3218,979 3218,968 3222,960 3221,952 3216,946 3209,939Z"/>
<path fill="#cc4468" d="M3221,952 3222,960 3218,968 3218,979 3218,989 3219,996 3214,999 3216,1008 3219,1019 3227,1021 3233,1022 3237,1023 3247,1029 3261,1035 3269,1040 3268,1050 3270,1056 3273,1063 3281,1065 3291,1065 3301,1065 3309,1066 3309,1056 3311,1044 3314,1035 3318,1029 3320,1023 3330,1025 3340,1027 3347,1031 3351,1036 3359,1041 3367,1046 3370,1037 3368,1028 3366,1019 3365,1010 3363,1001 3363,993 3363,985 3353,977 3352,970 3350,966 3342,959 3335,954 3326,952 3316,949 3303,945 3296,954 3289,959 3286,971 3278,981 3270,973 3261,967 3253,964 3246,958 3239,950 3231,947 3224,948Z"/>
<path fill="#44a0c8" d="M3402,887 3397,888 3391,893 3387,894 3383,904 3375,914 3375,924 3370,927 3364,935 3360,941 3360,946 3358,957 3350,966 3352,970 3353,977 3363,985 3363,993 3363,1001 3365,1010 3366,1019 3368,1028 3370,1037 3378,1034 3388,1030 3395,1028 3398,1018 3400,1007 3402,999 3402,991 3406,987 3418,986 3428,989 3435,988 3443,987 3451,982 3455,976 3460,972 3469,972 3466,964 3463,955 3460,946 3457,937 3455,927 3447,925 3436,925 3428,926 3423,920 3418,913 3412,905 3407,896Z"/>
<path fill="#6038a0" d="M3517,869 3509,865 3505,866 3501,862 3490,877 3482,883 3473,882 3468,891 3467,900 3469,907 3475,913 3481,916 3489,921 3499,927 3506,932 3514,932 3531,932 3535,919 3538,912 3543,907 3548,900 3552,900 3563,900 3573,889 3577,881 3579,874 3585,867 3587,860 3593,855 3603,847 3602,837 3600,826 3597,815 3593,805 3583,811 3569,808 3555,809 3548,811 3548,815 3547,820 3547,830 3548,842 3545,850 3534,857 3525,868Z"/>
<path fill="#6838b8" d="M3654,812 3645,809 3636,809 3627,812 3624,805 3621,797 3622,787 3614,792 3607,794 3606,801 3601,801 3593,805 3597,815 3600,826 3602,837 3603,847 3593,855 3587,860 3585,867 3579,874 3577,881 3589,886 3599,889 3605,897 3610,906 3618,912 3624,904 3632,899 3636,885 3645,879 3651,873 3659,866 3664,864 3673,855 3684,851 3680,845 3675,839 3670,828 3669,827 3664,822 3659,817Z"/>
<path fill="#6024a0" d="M3548,900 3543,907 3538,912 3535,919 3531,932 3514,932 3506,932 3499,927 3489,921 3481,916 3475,913 3469,907 3464,911 3458,919 3455,927 3457,937 3460,946 3463,955 3466,964 3469,972 3482,973 3493,976 3495,983 3498,990 3500,999 3502,1008 3510,1007 3514,1011 3524,1013 3535,1009 3540,1011 3541,1010 3541,999 3543,986 3545,975 3546,967 3546,958 3556,955 3564,951 3567,944 3573,940 3581,934 3593,932 3607,935 3613,928 3617,923 3618,912 3610,906 3605,897 3599,889 3589,886 3577,881 3573,889 3563,900 3552,900Z"/>
<path fill="#60c038" d="M3687,854 3684,851 3673,855 3664,864 3659,866 3651,873 3645,879 3636,885 3632,899 3624,904 3618,912 3617,923 3613,928 3607,935 3608,942 3609,948 3609,956 3610,964 3621,966 3627,972 3634,970 3647,969 3653,969 3655,960 3659,949 3660,941 3666,937 3666,931 3666,924 3672,920 3677,911 3677,900 3681,893 3687,881 3692,873 3697,865 3691,860Z"/>
<path fill="#98b030" d="M3729,904 3723,895 3711,889 3701,884 3705,874 3697,865 3692,873 3687,881 3681,893 3677,900 3677,911 3672,920 3666,924 3666,931 3666,937 3660,941 3659,949 3655,960 3653,969 3658,975 3662,982 3666,988 3672,995 3678,1002 3685,1009 3692,1014 3702,1005 3708,1000 3708,1000 3704,991 3700,983 3697,975 3694,967 3692,960 3701,956 3707,945 3719,941 3723,932 3723,931 3722,924 3724,920 3728,914Z"/>
<path fill="#48a870" d="M3797,908 3788,906 3781,903 3778,898 3776,904 3766,904 3762,910 3749,920 3737,914 3732,911 3729,904 3728,914 3724,920 3722,924 3723,931 3723,932 3729,939 3739,949 3746,951 3754,956 3761,963 3768,973 3771,966 3778,955 3785,945 3792,935 3801,936 3809,941 3816,946 3822,949 3829,955 3833,953 3841,947 3851,944 3865,945 3867,944 3869,935 3870,930 3872,924 3872,923 3867,925 3863,927 3851,920 3846,911 3840,906 3832,903 3818,902 3808,902Z"/>
<path fill="#c04838" d="M3556,955 3565,962 3571,969 3577,976 3584,980 3595,982 3591,995 3596,1004 3600,1013 3605,1022 3609,1026 3611,1026 3617,1023 3624,1020 3630,1008 3638,1000 3643,995 3642,985 3644,976 3647,969 3634,970 3627,972 3621,966 3610,964 3609,956 3609,948 3608,942 3607,935 3593,932 3581,934 3573,940 3567,944 3564,951Z"/>
<path fill="#48b8a8" d="M3739,949 3729,939 3723,932 3719,941 3707,945 3701,956 3692,960 3694,967 3697,975 3700,983 3704,991 3708,1000 3710,995 3714,989 3717,982 3722,976 3730,964 3734,953ZM3647,969 3644,976 3642,985 3643,995 3638,1000 3630,1008 3624,1020 3617,1023 3611,1026 3621,1036 3633,1038 3644,1034 3655,1032 3665,1029 3669,1033 3675,1036 3677,1036 3682,1030 3686,1024 3692,1014 3685,1009 3678,1002 3672,995 3666,988 3662,982 3658,975 3653,969Z"/>
<path fill="#2828b8" d="M3556,955 3546,958 3546,967 3545,975 3543,986 3541,999 3541,1010 3540,1011 3544,1021 3548,1030 3548,1038 3545,1051 3550,1054 3555,1059 3560,1065 3568,1069 3575,1072 3581,1067 3594,1062 3603,1050 3606,1039 3609,1033 3609,1026 3605,1022 3600,1013 3596,1004 3591,995 3595,982 3584,980 3577,976 3571,969 3565,962Z"/>
<path fill="#48c098" d="M3609,1026 3609,1033 3606,1039 3603,1050 3594,1062 3581,1067 3575,1072 3580,1079 3585,1087 3590,1095 3595,1104 3600,1100 3609,1103 3618,1101 3626,1100 3637,1092 3643,1085 3651,1088 3655,1089 3658,1082 3663,1079 3670,1071 3677,1059 3679,1054 3680,1048 3678,1042 3677,1036 3675,1036 3669,1033 3665,1029 3655,1032 3644,1034 3633,1038 3621,1036 3611,1026Z"/>
<path fill="#889830" d="M3829,955 3822,949 3816,946 3809,941 3801,936 3792,935 3785,945 3778,955 3771,966 3768,973 3761,963 3754,956 3746,951 3739,949 3734,953 3730,964 3722,976 3717,982 3714,989 3710,995 3708,1000 3708,1000 3702,1005 3692,1014 3686,1024 3682,1030 3677,1036 3678,1042 3680,1048 3679,1054 3677,1059 3670,1071 3663,1079 3658,1082 3655,1089 3658,1096 3661,1104 3664,1112 3668,1118 3680,1115 3692,1110 3705,1101 3718,1098 3721,1095 3729,1096 3738,1104 3744,1108 3754,1102 3769,1101 3773,1094 3780,1093 3783,1086 3781,1077 3780,1068 3785,1060 3791,1049 3791,1034 3785,1030 3779,1026 3774,1022 3773,1017 3774,1004 3776,995 3776,991 3779,989 3789,984 3802,977 3815,969 3824,967 3825,960Z"/>
<path fill="#a838a0" d="M3540,1011 3535,1009 3524,1013 3514,1011 3510,1007 3502,1008 3496,1018 3494,1023 3483,1029 3472,1028 3465,1031 3463,1041 3461,1050 3461,1057 3463,1063 3465,1072 3476,1081 3489,1081 3498,1075 3501,1077 3506,1090 3510,1095 3516,1099 3524,1104 3533,1099 3540,1091 3551,1084 3556,1073 3560,1065 3555,1059 3550,1054 3545,1051 3548,1038 3548,1030 3544,1021Z"/>
<path fill="#50c8b8" d="M3482,973 3469,972 3460,972 3455,976 3451,982 3443,987 3443,995 3442,1004 3442,1012 3442,1019 3437,1025 3429,1035 3421,1041 3424,1052 3425,1064 3423,1074 3422,1081 3418,1082 3421,1090 3424,1100 3426,1110 3426,1118 3426,1126 3438,1126 3447,1128 3452,1131 3461,1132 3471,1142 3480,1152 3484,1159 3488,1166 3492,1172 3495,1160 3500,1155 3504,1152 3512,1147 3522,1144 3527,1132 3532,1122 3528,1112 3524,1104 3516,1099 3510,1095 3506,1090 3501,1077 3498,1075 3489,1081 3476,1081 3465,1072 3463,1063 3461,1057 3461,1050 3463,1041 3465,1031 3472,1028 3483,1029 3494,1023 3496,1018 3502,1008 3500,999 3498,990 3495,983 3493,976Z"/>
<path fill="#50c8b8" d="M3575,1072 3568,1069 3560,1065 3556,1073 3551,1084 3540,1091 3533,1099 3524,1104 3528,1112 3532,1122 3542,1124 3548,1124 3555,1127 3565,1135 3575,1139 3585,1140 3590,1128 3593,1117 3595,1104 3590,1095 3585,1087 3580,1079Z"/>
<path fill="#7cc038" d="M3402,991 3402,999 3400,1007 3398,1018 3395,1028 3388,1030 3378,1034 3370,1037 3367,1046 3368,1055 3368,1064 3373,1073 3378,1081 3370,1086 3366,1097 3363,1104 3362,1112 3357,1123 3360,1132 3363,1141 3365,1149 3366,1158 3374,1162 3381,1165 3385,1170 3389,1172 3395,1166 3402,1160 3403,1154 3409,1146 3414,1138 3417,1130 3426,1126 3426,1118 3426,1110 3424,1100 3421,1090 3418,1082 3422,1081 3423,1074 3425,1064 3424,1052 3421,1041 3429,1035 3437,1025 3442,1019 3442,1012 3442,1004 3443,995 3443,987 3435,988 3428,989 3418,986 3406,987Z"/>
<path fill="#a09028" d="M3319,1096 3315,1101 3311,1105 3306,1112 3303,1123 3306,1130 3310,1138 3322,1131 3333,1133 3340,1124 3350,1125 3357,1123 3362,1112 3363,1104 3366,1097 3370,1086 3378,1081 3373,1073 3368,1064 3368,1055 3367,1046 3359,1041 3351,1036 3347,1031 3340,1027 3330,1025 3320,1023 3318,1029 3314,1035 3311,1044 3309,1056 3309,1066 3314,1070 3316,1078 3317,1087ZM3308,1174 3303,1170 3296,1175 3286,1177 3280,1186 3275,1189 3267,1194 3265,1204 3270,1210 3274,1215 3278,1220 3284,1226 3279,1231 3273,1238 3261,1240 3257,1241 3245,1242 3253,1251 3261,1260 3268,1269 3272,1276 3279,1273 3288,1268 3289,1256 3291,1247 3297,1237 3302,1228 3308,1228 3322,1223 3327,1216 3326,1212 3321,1204 3316,1195 3312,1185Z"/>
<path fill="#3828a8" d="M3309,1066 3301,1065 3291,1065 3281,1065 3273,1063 3266,1073 3263,1084 3266,1090 3268,1100 3271,1110 3273,1119 3279,1118 3288,1115 3296,1119 3303,1123 3306,1112 3311,1105 3315,1101 3319,1096 3317,1087 3316,1078 3314,1070Z"/>
<path fill="#70a830" d="M3211,1062 3207,1068 3205,1074 3203,1084 3203,1084 3210,1090 3214,1099 3218,1108 3221,1116 3225,1124 3231,1130 3239,1134 3241,1133 3248,1129 3256,1126 3268,1121 3273,1119 3271,1110 3268,1100 3266,1090 3263,1084 3266,1073 3273,1063 3270,1056 3268,1050 3269,1040 3261,1035 3247,1029 3237,1023 3233,1022 3227,1021 3219,1019 3219,1031 3221,1041 3220,1048 3214,1055Z"/>
<path fill="#40a0a0" d="M3219,1019 3216,1008 3214,999 3205,1003 3199,1012 3188,1015 3180,1023 3169,1025 3162,1030 3161,1042 3160,1048 3154,1055 3161,1064 3168,1073 3177,1076 3180,1078 3186,1081 3198,1085 3203,1084 3205,1074 3207,1068 3211,1062 3214,1055 3220,1048 3221,1041 3219,1031Z"/>
<path fill="#9838a8" d="M3058,1047 3067,1051 3076,1050 3085,1048 3094,1054 3103,1050 3111,1051 3110,1044 3111,1037 3111,1030 3108,1021 3104,1012 3099,1003 3094,990 3087,991 3081,997 3076,1006 3069,1013 3065,1020 3061,1027 3053,1029 3047,1034 3051,1045 3056,1048Z"/>
<path fill="#b05840" d="M3111,1051 3103,1050 3094,1054 3085,1048 3076,1050 3067,1051 3058,1047 3056,1048 3055,1060 3052,1071 3049,1077 3052,1086 3055,1095 3059,1104 3062,1111 3071,1102 3079,1092 3090,1087 3104,1087 3106,1085 3108,1079 3111,1064 3111,1052Z"/>
<path fill="#a0b850" d="M3056,1048 3051,1045 3041,1050 3030,1052 3022,1061 3013,1060 3006,1065 3007,1078 3013,1080 3019,1081 3026,1085 3027,1097 3028,1099 3035,1103 3043,1109 3054,1116 3064,1121 3065,1118 3062,1111 3059,1104 3055,1095 3052,1086 3049,1077 3052,1071 3055,1060Z"/>
<path fill="#cc4450" d="M3111,1052 3111,1064 3108,1079 3106,1085 3104,1087 3106,1096 3108,1105 3109,1115 3110,1123 3112,1132 3114,1135 3125,1132 3133,1130 3144,1133 3152,1140 3159,1147 3164,1155 3169,1163 3170,1162 3173,1152 3174,1142 3176,1131 3182,1122 3190,1116 3195,1110 3196,1103 3198,1096 3203,1084 3203,1084 3198,1085 3186,1081 3180,1078 3177,1076 3168,1073 3161,1064 3154,1055 3145,1055 3137,1051 3126,1049 3116,1053Z"/>
<path fill="#6448c8" d="M3210,1090 3203,1084 3198,1096 3196,1103 3195,1110 3190,1116 3182,1122 3176,1131 3174,1142 3173,1152 3170,1162 3169,1163 3170,1167 3169,1173 3169,1178 3172,1186 3175,1195 3180,1203 3188,1207 3197,1206 3206,1201 3211,1200 3220,1189 3223,1181 3228,1175 3235,1162 3237,1155 3236,1152 3236,1146 3239,1134 3231,1130 3225,1124 3221,1116 3218,1108 3214,1099Z"/>
<path fill="#7840c0" d="M3241,1133 3250,1136 3257,1145 3265,1150 3275,1151 3283,1152 3289,1158 3295,1164 3302,1166 3306,1154 3310,1147 3310,1138 3306,1130 3303,1123 3296,1119 3288,1115 3279,1118 3273,1119 3268,1121 3256,1126 3248,1129Z"/>
<path fill="#a048b8" d="M3302,1166 3295,1164 3289,1158 3283,1152 3275,1151 3265,1150 3257,1145 3250,1136 3241,1133 3239,1134 3236,1146 3236,1152 3237,1155 3235,1162 3228,1175 3223,1181 3220,1189 3211,1200 3206,1201 3197,1206 3205,1213 3214,1220 3222,1228 3229,1235 3234,1241 3236,1239 3243,1241 3249,1234 3251,1227 3251,1220 3258,1211 3263,1204 3265,1204 3267,1194 3275,1189 3280,1186 3286,1177 3296,1175 3303,1170Z"/>
<path fill="#a83890" d="M3303,1170 3308,1174 3312,1185 3316,1195 3321,1204 3326,1212 3327,1216 3332,1220 3338,1225 3345,1229 3352,1234 3360,1231 3370,1232 3382,1231 3389,1230 3396,1228 3402,1223 3401,1213 3399,1205 3397,1198 3396,1191 3392,1182 3389,1172 3385,1170 3381,1165 3374,1162 3366,1158 3365,1149 3363,1141 3360,1132 3357,1123 3350,1125 3340,1124 3333,1133 3322,1131 3310,1138 3310,1147 3306,1154 3302,1166Z"/>
<path fill="#70b030" d="M3493,1185 3494,1185 3492,1172 3488,1166 3484,1159 3480,1152 3471,1142 3461,1132 3452,1131 3447,1128 3438,1126 3426,1126 3417,1130 3414,1138 3409,1146 3403,1154 3402,1160 3395,1166 3389,1172 3392,1182 3396,1191 3409,1189 3419,1192 3430,1186 3440,1179 3444,1174 3452,1174 3461,1180 3470,1185 3483,1185Z"/>
<path fill="#50a030" d="M3492,1172 3494,1185 3496,1187 3500,1196 3503,1204 3504,1206 3512,1211 3525,1212 3530,1206 3538,1207 3551,1205 3556,1207 3568,1214 3582,1210 3588,1210 3586,1201 3584,1191 3582,1180 3581,1170 3582,1163 3584,1158 3589,1150 3587,1146 3585,1140 3575,1139 3565,1135 3555,1127 3548,1124 3542,1124 3532,1122 3527,1132 3522,1144 3512,1147 3504,1152 3500,1155 3495,1160Z"/>
<path fill="#60c038" d="M3585,1140 3587,1146 3589,1150 3584,1158 3582,1163 3581,1170 3582,1180 3584,1191 3586,1201 3588,1210 3594,1217 3598,1223 3605,1225 3611,1227 3617,1228 3624,1226 3637,1224 3650,1220 3653,1210 3657,1201 3658,1194 3661,1189 3670,1190 3678,1193 3689,1190 3703,1189 3714,1189 3721,1190 3727,1195 3735,1193 3736,1183 3739,1175 3744,1165 3747,1162 3746,1152 3746,1141 3747,1132 3748,1126 3747,1118 3744,1108 3738,1104 3729,1096 3721,1095 3718,1098 3705,1101 3692,1110 3680,1115 3668,1118 3664,1112 3661,1104 3658,1096 3655,1089 3651,1088 3643,1085 3637,1092 3626,1100 3618,1101 3609,1103 3600,1100 3595,1104 3593,1117 3590,1128Z"/>
<path fill="#b8c830" d="M3401,1213 3402,1223 3405,1229 3408,1239 3411,1249 3414,1259 3417,1268 3422,1277 3427,1284 3432,1290 3432,1288 3437,1276 3444,1271 3446,1265 3453,1261 3462,1272 3480,1273 3484,1275 3489,1268 3496,1262 3497,1251 3496,1239 3494,1231 3494,1224 3499,1221 3503,1214 3504,1206 3503,1204 3500,1196 3496,1187 3494,1185 3493,1185 3483,1185 3470,1185 3461,1180 3452,1174 3444,1174 3440,1179 3430,1186 3419,1192 3409,1189 3396,1191 3397,1198 3399,1205ZM3598,1223 3594,1217 3588,1210 3582,1210 3568,1214 3556,1207 3551,1205 3538,1207 3530,1206 3525,1212 3532,1213 3537,1215 3544,1221 3553,1226 3559,1229 3564,1236 3574,1236 3590,1228Z"/>
<path fill="#b08848" d="M3104,1087 3090,1087 3079,1092 3071,1102 3062,1111 3065,1118 3064,1121 3054,1116 3043,1109 3035,1103 3028,1099 3027,1097 3016,1107 3008,1110 3005,1113 2998,1116 2990,1112 2990,1114 2995,1122 2999,1130 3004,1138 3011,1146 3021,1152 3022,1152 3028,1155 3032,1154 3039,1161 3046,1168 3052,1176 3058,1183 3062,1190 3070,1187 3085,1184 3093,1172 3102,1166 3104,1161 3105,1156 3107,1151 3108,1142 3114,1135 3112,1132 3110,1123 3109,1115 3108,1105 3106,1096Z"/>
<path fill="#48b8a8" d="M3144,1133 3133,1130 3125,1132 3114,1135 3108,1142 3107,1151 3105,1156 3104,1161 3102,1166 3093,1172 3085,1184 3089,1193 3094,1204 3098,1214 3102,1225 3108,1213 3118,1212 3125,1204 3129,1199 3136,1197 3141,1187 3149,1184 3162,1182 3169,1178 3169,1173 3170,1167 3169,1163 3164,1155 3159,1147 3152,1140Z"/>
<path fill="#40b040" d="M3169,1178 3162,1182 3149,1184 3141,1187 3136,1197 3129,1199 3125,1204 3118,1212 3108,1213 3102,1225 3104,1235 3105,1242 3106,1247 3107,1249 3114,1253 3119,1247 3126,1248 3139,1245 3150,1244 3158,1249 3163,1239 3165,1231 3168,1225 3175,1211 3180,1203 3175,1195 3172,1186Z"/>
<path fill="#40b040" d="M3085,1184 3070,1187 3062,1190 3059,1194 3053,1197 3046,1202 3035,1209 3024,1219 3019,1229 3026,1229 3039,1230 3051,1235 3059,1236 3069,1233 3080,1237 3090,1241 3098,1241 3106,1247 3105,1242 3104,1235 3102,1225 3098,1214 3094,1204 3089,1193Z"/>
<path fill="#50b848" d="M3019,1229 3024,1219 3035,1209 3046,1202 3053,1197 3059,1194 3062,1190 3058,1183 3052,1176 3046,1168 3039,1161 3032,1154 3028,1155 3022,1152 3021,1152 3014,1157 3011,1166 3009,1175 3002,1182 2998,1191 3000,1199 3002,1206 3003,1213 3003,1221 3003,1229 3008,1229 3014,1229Z"/>
<path fill="#80b048" d="M3284,1226 3278,1220 3274,1215 3270,1210 3265,1204 3263,1204 3258,1211 3251,1220 3251,1227 3249,1234 3243,1241 3245,1242 3257,1241 3261,1240 3273,1238 3279,1231Z"/>
<path fill="#30a0c8" d="M3665,1244 3665,1252 3664,1262 3664,1273 3663,1282 3663,1288 3664,1290 3666,1298 3668,1306 3670,1315 3671,1324 3671,1332 3684,1330 3691,1332 3704,1331 3718,1327 3722,1329 3727,1320 3735,1315 3733,1310 3731,1305 3729,1298 3733,1287 3739,1277 3735,1269 3731,1262 3727,1254 3725,1245 3730,1235 3733,1230 3736,1226 3740,1216 3738,1204 3735,1193 3727,1195 3721,1190 3714,1189 3703,1189 3689,1190 3678,1193 3670,1190 3661,1189 3658,1194 3657,1201 3653,1210 3650,1220 3656,1226 3661,1234Z"/>
<path fill="#2c60a8" d="M3835,1161 3826,1156 3814,1157 3801,1155 3791,1157 3782,1161 3776,1161 3771,1161 3765,1161 3756,1159 3747,1162 3744,1165 3739,1175 3736,1183 3735,1193 3738,1204 3740,1216 3736,1226 3733,1230 3730,1235 3725,1245 3727,1254 3731,1262 3735,1269 3739,1277 3747,1274 3756,1271 3768,1274 3773,1278 3779,1279 3788,1273 3791,1264 3795,1252 3805,1255 3816,1260 3823,1266 3826,1271 3832,1275 3842,1276 3847,1270 3856,1262 3860,1254 3862,1246 3861,1237 3858,1229 3857,1223 3861,1222 3865,1216 3860,1207 3856,1199 3851,1192 3847,1184 3844,1177 3840,1169Z"/>
<path fill="#a82868" d="M4156,1031 4152,1026 4147,1022 4141,1015 4140,1005 4139,995 4128,990 4119,989 4112,994 4104,999 4097,1003 4087,1004 4075,1001 4075,1009 4074,1020 4069,1030 4064,1036 4059,1044 4056,1053 4054,1056 4059,1065 4065,1074 4072,1081 4077,1089 4082,1096 4086,1103 4090,1110 4084,1119 4078,1133 4078,1133 4086,1136 4097,1138 4106,1141 4113,1142 4124,1143 4137,1150 4145,1158 4150,1162 4157,1165 4164,1168 4164,1158 4164,1149 4167,1140 4170,1129 4174,1119 4178,1113 4175,1104 4171,1097 4168,1092 4163,1079 4162,1076 4157,1068 4153,1061 4154,1050 4156,1037Z"/>
<path fill="#4c98c4" d="M3987,1124 3993,1132 3993,1132 3990,1132 3984,1139 3976,1146 3967,1154 3968,1166 3969,1178 3972,1188 3981,1196 3993,1200 4000,1202 4003,1192 4015,1181 4020,1175 4021,1172 4033,1173 4040,1173 4043,1172 4055,1168 4053,1179 4053,1189 4054,1199 4057,1209 4058,1212 4065,1216 4075,1222 4084,1230 4092,1238 4099,1242 4107,1244 4115,1247 4122,1254 4124,1250 4126,1242 4129,1231 4134,1224 4134,1216 4137,1207 4145,1200 4153,1194 4158,1183 4161,1177 4164,1170 4164,1168 4157,1165 4150,1162 4145,1158 4137,1150 4124,1143 4113,1142 4106,1141 4097,1138 4086,1136 4078,1133 4078,1133 4084,1119 4090,1110 4086,1103 4082,1096 4077,1089 4072,1081 4065,1074 4059,1065 4054,1056 4044,1055 4035,1060 4026,1057 4016,1058 4007,1061 4000,1058 3998,1067 3996,1077 3994,1086 3993,1092 3991,1104 3989,1117Z"/>
<path fill="#b06830" d="M3972,1188 3969,1178 3968,1166 3967,1154 3956,1158 3948,1157 3941,1157 3934,1159 3925,1155 3926,1165 3926,1177 3925,1188 3924,1199 3925,1209 3920,1207 3910,1206 3900,1204 3896,1205 3888,1208 3879,1210 3872,1209 3865,1216 3861,1222 3857,1223 3858,1229 3861,1237 3862,1246 3860,1254 3856,1262 3867,1267 3876,1273 3883,1278 3888,1283 3891,1283 3895,1292 3900,1300 3908,1304 3915,1305 3922,1309 3929,1319 3936,1326 3937,1334 3937,1340 3940,1345 3947,1348 3955,1346 3966,1351 3979,1352 3981,1352 3988,1358 3995,1363 4001,1367 4013,1366 4022,1360 4025,1354 4020,1349 4015,1343 4013,1334 4012,1324 4022,1321 4033,1321 4043,1317 4049,1313 4053,1311 4059,1305 4063,1299 4068,1297 4080,1296 4096,1297 4105,1291 4112,1284 4113,1275 4117,1261 4122,1254 4115,1247 4107,1244 4099,1242 4092,1238 4084,1230 4075,1222 4065,1216 4058,1212 4057,1209 4054,1199 4053,1189 4053,1179 4055,1168 4043,1172 4040,1173 4033,1173 4021,1172 4020,1175 4015,1181 4003,1192 4000,1202 3993,1200 3981,1196Z"/>
<path fill="#b8c050" d="M2018,1224 2009,1219 1999,1216 1990,1217 1982,1216 1973,1213 1966,1210 1961,1207 1961,1207 1959,1208 1954,1212 1946,1220 1943,1226 1938,1233 1940,1241 1942,1248 1943,1255 1951,1258 1957,1259 1964,1259 1971,1264 1980,1270 1990,1272 2002,1266 2008,1272 2009,1260 2010,1248 2013,1238 2018,1228Z"/>
<path fill="#b8c050" d="M1990,1272 1980,1270 1971,1264 1964,1259 1957,1259 1951,1258 1943,1255 1940,1263 1940,1271 1941,1281 1941,1289 1951,1290 1956,1291 1961,1302 1971,1292 1978,1282Z"/>
<path fill="#b8c050" d="M2075,1267 2069,1259 2060,1255 2052,1252 2044,1244 2035,1236 2027,1232 2018,1228 2013,1238 2010,1248 2009,1260 2008,1272 2008,1273 2017,1271 2024,1275 2032,1277 2048,1270 2058,1270 2064,1272 2073,1272Z"/>
<path fill="#b8c050" d="M2071,1303 2072,1301 2070,1292 2071,1282 2073,1272 2064,1272 2058,1270 2048,1270 2032,1277 2024,1275 2017,1271 2008,1273 2011,1280 2014,1288 2018,1295 2027,1299 2036,1302 2041,1305 2051,1304 2064,1302Z"/>
<path fill="#b0782c" d="M2087,1213 2078,1208 2069,1204 2055,1208 2042,1208 2037,1216 2030,1218 2026,1217 2018,1224 2018,1228 2027,1232 2035,1236 2044,1244 2052,1252 2060,1255 2069,1259 2075,1267 2073,1272 2071,1282 2070,1292 2072,1301 2076,1302 2086,1303 2093,1302 2095,1297 2104,1291 2111,1283 2115,1280 2112,1270 2110,1260 2109,1250 2107,1240 2106,1232 2106,1231 2093,1233 2091,1226 2089,1219Z"/>
<path fill="#b0782c" d="M2153,1270 2152,1256 2144,1254 2133,1251 2124,1247 2121,1245 2116,1238 2106,1232 2107,1240 2109,1250 2110,1260 2112,1270 2115,1280 2121,1282 2131,1280 2136,1277 2142,1275Z"/>
<path fill="#a86838" d="M2168,1215 2169,1225 2165,1232 2157,1241 2153,1254 2152,1256 2153,1270 2159,1278 2166,1285 2171,1293 2178,1296 2188,1292 2195,1286 2205,1288 2215,1288 2221,1281 2222,1274 2222,1265 2222,1255 2223,1245 2214,1243 2205,1243 2199,1235 2194,1228 2190,1225 2186,1223 2181,1218Z"/>
<path fill="#a86838" d="M2215,1288 2205,1288 2195,1286 2188,1292 2178,1296 2183,1303 2188,1310 2192,1316 2196,1321 2203,1321 2208,1321 2218,1319 2218,1311 2218,1304 2217,1296Z"/>
<path fill="#b8c050" d="M1961,1302 1964,1308 1967,1314 1973,1322 1983,1327 1994,1330 2002,1333 2001,1341 1999,1346 1998,1353 1997,1362 1996,1373 2005,1366 2014,1366 2018,1366 2026,1364 2036,1363 2045,1357 2056,1353 2057,1344 2057,1336 2060,1327 2069,1320 2071,1312 2071,1303 2064,1302 2051,1304 2041,1305 2036,1302 2027,1299 2018,1295 2014,1288 2011,1280 2008,1273 2008,1272 2002,1266 1990,1272 1978,1282 1971,1292Z"/>
<path fill="#b8c050" d="M1934,1340 1943,1345 1951,1349 1957,1354 1961,1361 1965,1368 1970,1375 1982,1375 1993,1377 1996,1373 1997,1362 1998,1353 1999,1346 2001,1341 2002,1333 1994,1330 1983,1327 1973,1322 1967,1314 1964,1308 1961,1302 1956,1291 1951,1290 1941,1289 1933,1294 1923,1310 1923,1321 1923,1329 1925,1336Z"/>
<path fill="#b8c050" d="M1934,1340 1925,1336 1923,1338 1919,1342 1911,1344 1909,1354 1902,1357 1891,1353 1880,1347 1872,1343 1863,1345 1854,1340 1852,1349 1841,1352 1840,1362 1840,1373 1841,1384 1842,1392 1843,1396 1849,1399 1849,1408 1851,1414 1852,1421 1852,1430 1857,1431 1863,1436 1875,1436 1886,1436 1896,1435 1906,1432 1909,1435 1912,1434 1915,1435 1924,1437 1934,1439 1943,1447 1950,1450 1954,1458 1963,1456 1970,1461 1976,1464 1982,1462 1992,1462 2002,1464 2009,1459 2015,1463 2017,1457 2020,1451 2021,1440 2021,1430 2024,1425 2017,1416 2010,1409 2004,1404 1999,1399 1997,1392 1995,1384 1993,1377 1982,1375 1970,1375 1965,1368 1961,1361 1957,1354 1951,1349 1943,1345Z"/>
<path fill="#b8c050" d="M1843,1427 1843,1436 1844,1445 1843,1458 1843,1459 1838,1469 1833,1476 1837,1481 1846,1481 1852,1483 1861,1487 1862,1496 1865,1506 1868,1514 1871,1523 1883,1528 1896,1525 1903,1534 1909,1543 1909,1537 1909,1530 1904,1525 1897,1519 1894,1512 1903,1517 1909,1516 1904,1510 1897,1504 1897,1491 1897,1479 1896,1469 1888,1465 1880,1461 1885,1452 1885,1452 1893,1443 1902,1439 1909,1435 1906,1432 1896,1435 1886,1436 1875,1436 1863,1436 1857,1431 1852,1430 1852,1421 1851,1414 1849,1408 1849,1399 1843,1396 1843,1402 1843,1409 1842,1417Z"/>
<path fill="#b8c050" d="M1837,1481 1837,1481 1832,1488 1831,1496 1835,1506 1838,1516 1845,1516 1851,1519 1860,1517 1871,1523 1868,1514 1865,1506 1862,1496 1861,1487 1852,1483 1846,1481Z"/>
<path fill="#6024b0" d="M2284,1273 2289,1268 2299,1264 2304,1256 2303,1247 2305,1238 2300,1230 2296,1222 2290,1221 2281,1218 2271,1217 2264,1214 2248,1215 2244,1225 2242,1233 2236,1242 2229,1244 2223,1245 2222,1255 2222,1265 2222,1274 2221,1281 2230,1282 2237,1282 2241,1286 2252,1289 2265,1293 2267,1287 2272,1279 2281,1274Z"/>
<path fill="#6024b0" d="M2221,1281 2215,1288 2217,1296 2218,1304 2218,1311 2218,1319 2218,1319 2224,1320 2226,1322 2231,1330 2234,1340 2238,1348 2243,1354 2248,1347 2260,1344 2272,1343 2276,1333 2280,1327 2284,1325 2278,1315 2272,1305 2265,1296 2265,1293 2252,1289 2241,1286 2237,1282 2230,1282Z"/>
<path fill="#6024b0" d="M2304,1256 2299,1264 2289,1268 2284,1273 2281,1274 2272,1279 2267,1287 2265,1293 2265,1296 2272,1305 2278,1315 2284,1325 2289,1324 2298,1319 2306,1314 2320,1310 2321,1312 2335,1319 2344,1316 2349,1318 2356,1315 2362,1308 2372,1310 2364,1302 2357,1294 2352,1290 2348,1289 2345,1288 2339,1289 2331,1288 2325,1281 2319,1275 2314,1269 2308,1263Z"/>
<path fill="#6024b0" d="M2396,1224 2388,1218 2377,1212 2366,1217 2361,1224 2352,1234 2350,1240 2341,1240 2328,1238 2318,1235 2305,1238 2303,1247 2304,1256 2308,1263 2314,1269 2319,1275 2325,1281 2331,1288 2339,1289 2345,1288 2348,1289 2352,1290 2357,1294 2364,1302 2372,1310 2385,1313 2395,1318 2398,1315 2395,1306 2393,1297 2390,1288 2386,1279 2390,1270 2389,1258 2390,1252 2396,1246 2397,1239 2397,1231Z"/>
<path fill="#b434c8" d="M2293,1363 2307,1362 2311,1356 2316,1348 2321,1333 2321,1321 2321,1312 2320,1310 2306,1314 2298,1319 2289,1324 2284,1325 2280,1327 2276,1333 2272,1343 2280,1348 2287,1355Z"/>
<path fill="#b434c8" d="M2395,1325 2395,1318 2385,1313 2372,1310 2362,1308 2356,1315 2349,1318 2344,1316 2335,1319 2321,1312 2321,1321 2321,1333 2316,1348 2311,1356 2318,1364 2326,1371 2334,1378 2341,1384 2345,1391 2344,1383 2345,1372 2350,1362 2356,1354 2358,1349 2364,1346 2373,1341 2376,1336 2383,1330Z"/>
<path fill="#b434c8" d="M2501,1314 2495,1313 2487,1308 2478,1303 2474,1307 2468,1304 2460,1300 2449,1298 2440,1293 2430,1285 2420,1290 2414,1299 2412,1303 2405,1312 2398,1315 2395,1318 2395,1325 2400,1334 2404,1342 2410,1346 2418,1349 2421,1353 2418,1362 2416,1372 2416,1380 2417,1389 2417,1400 2415,1408 2413,1414 2413,1423 2416,1428 2421,1433 2428,1440 2433,1444 2444,1444 2447,1436 2450,1428 2457,1419 2459,1406 2463,1400 2472,1392 2476,1386 2480,1381 2489,1372 2487,1366 2488,1360 2492,1352 2497,1343 2500,1337 2501,1327Z"/>
<path fill="#b434c8" d="M2330,1409 2337,1406 2343,1402 2346,1394 2345,1391 2341,1384 2334,1378 2326,1371 2318,1364 2311,1356 2307,1362 2293,1363 2291,1369 2291,1377 2295,1383 2300,1390 2306,1396 2314,1402 2322,1408Z"/>
<path fill="#b434c8" d="M2381,1396 2390,1405 2399,1413 2407,1421 2413,1423 2413,1414 2415,1408 2417,1400 2417,1389 2416,1380 2416,1372 2418,1362 2421,1353 2418,1349 2410,1346 2404,1342 2400,1334 2395,1325 2383,1330 2376,1336 2373,1341 2364,1346 2358,1349 2356,1354 2350,1362 2345,1372 2344,1383 2345,1391 2346,1394 2350,1395 2359,1391 2370,1391Z"/>
<path fill="#b434c8" d="M2346,1394 2343,1402 2337,1406 2330,1409 2331,1418 2332,1428 2341,1430 2354,1435 2362,1432 2367,1430 2379,1429 2385,1426 2393,1423 2407,1421 2399,1413 2390,1405 2381,1396 2370,1391 2359,1391 2350,1395Z"/>
<path fill="#b434c8" d="M2322,1408 2314,1402 2306,1396 2300,1390 2295,1383 2291,1377 2284,1386 2274,1391 2272,1394 2262,1396 2263,1403 2263,1411 2264,1419 2277,1419 2288,1419 2292,1423 2298,1422 2304,1416 2310,1413Z"/>
<path fill="#b434c8" d="M2250,1450 2260,1449 2268,1446 2279,1448 2290,1449 2297,1448 2305,1450 2315,1452 2319,1453 2322,1450 2327,1440 2332,1428 2331,1418 2330,1409 2322,1408 2310,1413 2304,1416 2298,1422 2292,1423 2288,1419 2277,1419 2264,1419 2259,1428 2253,1440 2249,1449Z"/>
<path fill="#b434c8" d="M2250,1450 2259,1457 2265,1463 2271,1470 2275,1479 2279,1487 2283,1495 2288,1501 2295,1490 2300,1482 2303,1473 2312,1463 2319,1459 2319,1453 2315,1452 2305,1450 2297,1448 2290,1449 2279,1448 2268,1446 2260,1449Z"/>
<path fill="#b434c8" d="M2428,1440 2421,1433 2416,1428 2413,1423 2407,1421 2393,1423 2385,1426 2379,1429 2367,1430 2362,1432 2354,1435 2341,1430 2332,1428 2327,1440 2322,1450 2319,1453 2319,1459 2312,1463 2303,1473 2300,1482 2295,1490 2288,1501 2296,1508 2305,1508 2314,1512 2324,1523 2328,1513 2336,1504 2341,1502 2341,1493 2346,1483 2353,1485 2361,1478 2374,1472 2379,1464 2389,1461 2398,1462 2401,1453 2411,1450 2420,1445Z"/>
<path fill="#3878b0" d="M2452,1249 2449,1240 2446,1231 2442,1222 2439,1213 2425,1215 2418,1216 2413,1220 2401,1224 2396,1224 2397,1231 2397,1239 2396,1246 2390,1252 2389,1258 2390,1270 2386,1279 2390,1288 2393,1297 2395,1306 2398,1315 2405,1312 2412,1303 2414,1299 2420,1290 2430,1285 2433,1280 2436,1277 2446,1267 2448,1260Z"/>
<path fill="#3878b0" d="M2534,1277 2535,1274 2535,1265 2536,1258 2532,1249 2527,1241 2523,1233 2519,1226 2516,1219 2512,1213 2505,1222 2505,1226 2502,1236 2498,1249 2493,1251 2484,1255 2486,1260 2497,1264 2507,1270 2513,1271 2518,1271 2526,1274Z"/>
<path fill="#3878b0" d="M2474,1307 2478,1303 2487,1308 2495,1313 2501,1314 2502,1312 2508,1306 2516,1299 2521,1291 2528,1286 2534,1277 2526,1274 2518,1271 2513,1271 2507,1270 2497,1264 2486,1260 2484,1255 2473,1254 2465,1248 2459,1245 2452,1249 2448,1260 2446,1267 2436,1277 2433,1280 2430,1285 2440,1293 2449,1298 2460,1300 2468,1304Z"/>
<path fill="#3878b0" d="M2534,1277 2528,1286 2521,1291 2516,1299 2508,1306 2502,1312 2501,1314 2501,1327 2500,1337 2497,1343 2492,1352 2488,1360 2487,1366 2489,1372 2497,1375 2509,1370 2516,1366 2519,1363 2530,1358 2536,1357 2544,1354 2558,1349 2565,1353 2569,1357 2572,1362 2580,1354 2589,1349 2591,1346 2603,1338 2610,1334 2614,1325 2612,1317 2611,1310 2609,1303 2606,1295 2603,1287 2593,1288 2582,1293 2571,1291 2563,1296 2557,1293 2549,1286 2541,1280 2535,1274Z"/>
<path fill="#3878b0" d="M2512,1213 2516,1219 2519,1226 2523,1233 2527,1241 2532,1249 2536,1258 2535,1265 2535,1274 2541,1280 2549,1286 2557,1293 2563,1296 2571,1291 2582,1293 2593,1288 2603,1287 2607,1277 2609,1265 2612,1259 2616,1255 2622,1246 2620,1240 2618,1240 2606,1241 2596,1238 2584,1237 2576,1235 2572,1231 2567,1229 2561,1226 2554,1221 2545,1216 2535,1213 2526,1209 2519,1203 2517,1204Z"/>
<path fill="#3878b0" d="M2676,1304 2684,1299 2691,1294 2691,1285 2698,1279 2707,1271 2710,1262 2716,1256 2718,1246 2718,1233 2718,1222 2709,1230 2700,1231 2692,1233 2682,1239 2674,1237 2665,1244 2656,1246 2648,1249 2638,1254 2643,1262 2649,1270 2655,1277 2661,1283 2666,1290 2670,1296 2673,1303Z"/>
<path fill="#3878b0" d="M2676,1304 2683,1311 2691,1318 2700,1326 2712,1329 2721,1325 2734,1327 2735,1318 2734,1307 2736,1301 2742,1297 2737,1288 2732,1279 2726,1271 2721,1263 2716,1256 2710,1262 2707,1271 2698,1279 2691,1285 2691,1294 2684,1299Z"/>
<path fill="#3878b0" d="M2673,1303 2670,1296 2666,1290 2661,1283 2655,1277 2649,1270 2643,1262 2638,1254 2631,1247 2622,1246 2616,1255 2612,1259 2609,1265 2607,1277 2603,1287 2606,1295 2609,1303 2611,1310 2612,1317 2614,1325 2627,1327 2633,1334 2638,1328 2651,1325 2655,1318 2667,1309Z"/>
<path fill="#3878b0" d="M2802,1298 2797,1294 2793,1289 2788,1283 2781,1276 2773,1277 2769,1286 2756,1291 2746,1293 2742,1297 2736,1301 2734,1307 2735,1318 2734,1327 2739,1333 2743,1339 2747,1345 2753,1351 2759,1357 2765,1351 2769,1342 2775,1338 2782,1337 2789,1332 2797,1326 2800,1317 2802,1308 2803,1301Z"/>
<path fill="#3878b0" d="M2700,1326 2691,1318 2683,1311 2676,1304 2673,1303 2667,1309 2655,1318 2651,1325 2638,1328 2633,1334 2636,1343 2640,1351 2643,1360 2649,1366 2655,1371 2662,1374 2672,1377 2677,1372 2681,1365 2685,1354 2690,1347 2691,1340 2692,1331Z"/>
<path fill="#3878b0" d="M2584,1390 2589,1388 2600,1380 2607,1379 2614,1374 2624,1368 2627,1367 2635,1360 2643,1360 2640,1351 2636,1343 2633,1334 2627,1327 2614,1325 2610,1334 2603,1338 2591,1346 2589,1349 2580,1354 2572,1362 2576,1369 2579,1377 2581,1385Z"/>
<path fill="#3878b0" d="M2733,1388 2737,1384 2743,1382 2749,1376 2758,1364 2759,1357 2753,1351 2747,1345 2743,1339 2739,1333 2734,1327 2721,1325 2712,1329 2700,1326 2692,1331 2691,1340 2690,1347 2685,1354 2681,1365 2677,1372 2672,1377 2673,1381 2680,1386 2687,1391 2695,1395 2705,1398 2715,1395 2725,1388 2730,1389Z"/>
<path fill="#3878b0" d="M2759,1357 2758,1364 2768,1368 2775,1371 2781,1370 2786,1374 2793,1384 2800,1390 2809,1390 2819,1394 2828,1399 2835,1398 2844,1386 2847,1379 2848,1375 2843,1367 2838,1358 2831,1351 2824,1347 2817,1344 2810,1340 2804,1334 2797,1326 2789,1332 2782,1337 2775,1338 2769,1342 2765,1351Z"/>
<path fill="#3878b0" d="M2584,1390 2588,1402 2593,1414 2604,1418 2610,1409 2616,1403 2622,1398 2631,1397 2639,1394 2647,1386 2655,1381 2662,1374 2655,1371 2649,1366 2643,1360 2635,1360 2627,1367 2624,1368 2614,1374 2607,1379 2600,1380 2589,1388Z"/>
<path fill="#3878b0" d="M2662,1374 2655,1381 2647,1386 2639,1394 2631,1397 2622,1398 2616,1403 2610,1409 2604,1418 2610,1422 2615,1427 2620,1434 2627,1440 2636,1438 2640,1436 2650,1429 2657,1419 2661,1411 2665,1399 2669,1387 2673,1381 2672,1377Z"/>
<path fill="#3878b0" d="M2828,1399 2819,1394 2809,1390 2800,1390 2793,1384 2786,1374 2781,1370 2775,1371 2768,1368 2758,1364 2749,1376 2743,1382 2737,1384 2733,1388 2734,1400 2735,1409 2735,1418 2733,1429 2732,1439 2737,1446 2742,1453 2746,1461 2753,1467 2767,1467 2778,1465 2780,1462 2787,1461 2790,1460 2791,1453 2789,1444 2796,1440 2808,1431 2811,1420 2816,1412 2823,1402Z"/>
<path fill="#38a850" d="M2581,1385 2579,1377 2576,1369 2572,1362 2569,1357 2565,1353 2558,1349 2544,1354 2536,1357 2530,1358 2519,1363 2516,1366 2509,1370 2497,1375 2489,1372 2480,1381 2476,1386 2472,1392 2463,1400 2459,1406 2457,1419 2450,1428 2447,1436 2453,1439 2462,1443 2469,1444 2477,1448 2487,1456 2498,1460 2507,1460 2509,1452 2512,1444 2517,1433 2519,1425 2521,1426 2530,1419 2538,1409 2544,1406 2558,1399 2564,1396 2572,1392Z"/>
<path fill="#38a850" d="M2544,1406 2538,1409 2530,1419 2521,1426 2519,1425 2517,1433 2512,1444 2509,1452 2507,1460 2510,1465 2516,1469 2523,1471 2531,1474 2542,1480 2552,1486 2557,1485 2565,1479 2566,1479 2569,1473 2570,1462 2569,1449 2571,1440 2577,1434 2582,1427 2587,1420 2593,1414 2588,1402 2584,1390 2581,1385 2572,1392 2564,1396 2558,1399Z"/>
<path fill="#38a850" d="M2447,1436 2444,1444 2433,1444 2432,1452 2433,1462 2435,1473 2436,1484 2437,1493 2437,1501 2445,1505 2453,1507 2460,1508 2465,1504 2475,1501 2483,1502 2491,1506 2501,1510 2509,1515 2509,1525 2510,1537 2511,1550 2518,1546 2524,1547 2536,1542 2546,1539 2550,1535 2556,1524 2555,1512 2555,1503 2556,1494 2557,1485 2552,1486 2542,1480 2531,1474 2523,1471 2516,1469 2510,1465 2507,1460 2498,1460 2487,1456 2477,1448 2469,1444 2462,1443 2453,1439Z"/>
<path fill="#38a850" d="M2569,1449 2570,1462 2569,1473 2566,1479 2565,1479 2572,1486 2578,1494 2584,1501 2591,1507 2598,1513 2607,1519 2615,1515 2617,1509 2627,1504 2634,1505 2632,1497 2629,1489 2626,1481 2624,1473 2626,1464 2626,1457 2626,1451 2627,1440 2620,1434 2615,1427 2610,1422 2604,1418 2593,1414 2587,1420 2582,1427 2577,1434 2571,1440Z"/>
<path fill="#38a850" d="M2624,1473 2626,1481 2629,1489 2632,1497 2634,1505 2647,1514 2662,1509 2667,1503 2671,1490 2678,1482 2680,1476 2691,1473 2692,1466 2686,1459 2676,1453 2667,1450 2656,1451 2645,1446 2636,1438 2627,1440 2626,1451 2626,1457 2626,1464Z"/>
<path fill="#38a850" d="M2636,1438 2645,1446 2656,1451 2667,1450 2676,1453 2686,1459 2692,1466 2691,1473 2700,1481 2708,1487 2714,1493 2719,1498 2727,1498 2731,1504 2735,1512 2738,1520 2742,1529 2750,1533 2758,1533 2768,1533 2773,1528 2778,1523 2784,1516 2792,1510 2793,1502 2792,1492 2790,1481 2788,1470 2787,1461 2780,1462 2778,1465 2767,1467 2753,1467 2746,1461 2742,1453 2737,1446 2732,1439 2733,1429 2735,1418 2735,1409 2734,1400 2733,1388 2730,1389 2725,1388 2715,1395 2705,1398 2695,1395 2687,1391 2680,1386 2673,1381 2669,1387 2665,1399 2661,1411 2657,1419 2650,1429 2640,1436Z"/>
<path fill="#38a850" d="M2684,1537 2693,1541 2701,1547 2708,1553 2716,1555 2720,1545 2727,1540 2733,1535 2742,1529 2738,1520 2735,1512 2731,1504 2727,1498 2719,1498 2714,1493 2708,1487 2700,1481 2691,1473 2680,1476 2678,1482 2671,1490 2667,1503 2662,1509 2647,1514 2647,1515 2656,1520 2666,1524 2673,1529 2678,1534Z"/>
<path fill="#38a850" d="M2647,1515 2642,1521 2640,1528 2634,1541 2631,1552 2633,1558 2637,1566 2644,1573 2653,1576 2662,1578 2668,1582 2668,1582 2674,1579 2683,1577 2693,1580 2706,1578 2716,1577 2717,1567 2716,1555 2708,1553 2701,1547 2693,1541 2684,1537 2678,1534 2673,1529 2666,1524 2656,1520Z"/>
<path fill="#38a850" d="M2666,1598 2669,1604 2672,1610 2668,1621 2664,1629 2660,1635 2658,1643 2667,1645 2676,1648 2685,1646 2693,1648 2703,1651 2712,1649 2722,1648 2723,1647 2723,1640 2722,1632 2722,1620 2727,1610 2727,1601 2726,1595 2725,1586 2721,1582 2716,1577 2706,1578 2693,1580 2683,1577 2674,1579 2668,1582 2667,1590Z"/>
<path fill="#38a850" d="M2716,1555 2717,1567 2716,1577 2721,1582 2725,1586 2726,1595 2727,1601 2727,1610 2722,1620 2722,1632 2723,1640 2723,1647 2731,1650 2735,1653 2745,1657 2755,1660 2761,1662 2770,1661 2773,1657 2776,1648 2777,1641 2777,1632 2777,1621 2774,1613 2777,1605 2778,1599 2779,1589 2782,1577 2775,1573 2775,1564 2774,1556 2772,1549 2770,1541 2768,1533 2758,1533 2750,1533 2742,1529 2733,1535 2727,1540 2720,1545Z"/>
<path fill="#38a850" d="M2611,1604 2608,1611 2607,1618 2614,1624 2620,1632 2625,1639 2630,1646 2635,1653 2641,1661 2646,1658 2652,1654 2658,1643 2660,1635 2664,1629 2668,1621 2672,1610 2669,1604 2666,1598 2667,1590 2668,1582 2668,1582 2662,1578 2653,1576 2644,1573 2637,1566 2633,1558 2625,1562 2614,1563 2610,1571 2609,1583 2609,1594Z"/>
<path fill="#38a850" d="M2642,1666 2653,1670 2663,1672 2673,1670 2682,1673 2689,1677 2701,1677 2714,1676 2714,1667 2717,1657 2722,1648 2712,1649 2703,1651 2693,1648 2685,1646 2676,1648 2667,1645 2658,1643 2652,1654 2646,1658 2641,1661 2641,1662Z"/>
<path fill="#38a850" d="M2642,1666 2644,1682 2641,1693 2641,1701 2641,1709 2640,1718 2650,1724 2659,1728 2665,1732 2671,1737 2672,1737 2674,1737 2684,1728 2685,1718 2693,1713 2704,1706 2703,1704 2705,1700 2714,1689 2714,1676 2701,1677 2689,1677 2682,1673 2673,1670 2663,1672 2653,1670Z"/>
<path fill="#3030a8" d="M2835,1615 2835,1609 2825,1603 2816,1597 2807,1593 2799,1589 2793,1583 2782,1577 2779,1589 2778,1599 2777,1605 2774,1613 2777,1621 2777,1632 2777,1641 2776,1648 2773,1657 2783,1657 2786,1659 2798,1658 2808,1658 2813,1652 2825,1644 2833,1642 2831,1634 2830,1626 2831,1618Z"/>
<path fill="#3030a8" d="M2857,1511 2860,1502 2863,1492 2864,1483 2866,1474 2859,1470 2855,1467 2849,1462 2841,1457 2835,1456 2828,1461 2812,1462 2802,1465 2798,1464 2790,1460 2787,1461 2788,1470 2790,1481 2792,1492 2793,1502 2792,1510 2800,1511 2808,1511 2818,1511 2826,1508 2834,1510 2841,1513 2847,1513 2854,1512Z"/>
<path fill="#3030a8" d="M2778,1523 2786,1529 2793,1537 2800,1543 2808,1545 2818,1546 2827,1552 2835,1554 2837,1543 2840,1537 2843,1533 2844,1523 2847,1513 2841,1513 2834,1510 2826,1508 2818,1511 2808,1511 2800,1511 2792,1510 2784,1516Z"/>
<path fill="#3030a8" d="M2778,1523 2773,1528 2768,1533 2770,1541 2772,1549 2774,1556 2775,1564 2775,1573 2782,1577 2793,1583 2799,1589 2807,1593 2816,1597 2825,1603 2835,1609 2840,1599 2841,1588 2844,1581 2846,1572 2842,1566 2839,1560 2835,1554 2827,1552 2818,1546 2808,1545 2800,1543 2793,1537 2786,1529Z"/>
<path fill="#3030a8" d="M2647,1515 2647,1514 2634,1505 2627,1504 2617,1509 2615,1515 2607,1519 2602,1527 2597,1532 2587,1532 2572,1539 2574,1550 2577,1563 2566,1570 2560,1574 2560,1583 2557,1591 2545,1601 2549,1614 2549,1624 2547,1630 2545,1636 2551,1644 2564,1648 2573,1648 2573,1648 2578,1644 2581,1634 2588,1628 2598,1624 2607,1618 2608,1611 2611,1604 2609,1594 2609,1583 2610,1571 2614,1563 2625,1562 2633,1558 2631,1552 2634,1541 2640,1528 2642,1521Z"/>
<path fill="#3030a8" d="M2557,1591 2560,1583 2560,1574 2553,1569 2543,1563 2532,1555 2524,1547 2518,1546 2511,1550 2505,1559 2506,1566 2506,1573 2503,1580 2501,1588 2494,1593 2493,1604 2493,1616 2490,1623 2499,1626 2503,1624 2511,1624 2522,1628 2534,1631 2545,1636 2547,1630 2549,1624 2549,1614 2545,1601Z"/>
<path fill="#3030a8" d="M2641,1662 2641,1661 2635,1653 2630,1646 2625,1639 2620,1632 2614,1624 2607,1618 2598,1624 2588,1628 2581,1634 2578,1644 2573,1648 2573,1648 2572,1655 2570,1666 2567,1676 2564,1684 2560,1691 2559,1703 2559,1714 2565,1705 2571,1702 2579,1698 2588,1694 2596,1695 2600,1680 2608,1676 2615,1672 2622,1665 2631,1667Z"/>
<path fill="#a8602c" d="M2597,1532 2602,1527 2607,1519 2598,1513 2591,1507 2584,1501 2578,1494 2572,1486 2565,1479 2557,1485 2556,1494 2555,1503 2555,1512 2556,1524 2550,1535 2546,1539 2536,1542 2524,1547 2532,1555 2543,1563 2553,1569 2560,1574 2566,1570 2577,1563 2574,1550 2572,1539 2587,1532Z"/>
<path fill="#a8602c" d="M2483,1502 2475,1501 2465,1504 2460,1508 2453,1507 2457,1514 2460,1521 2463,1528 2466,1535 2459,1547 2455,1560 2452,1570 2450,1582 2456,1580 2460,1578 2470,1576 2480,1574 2488,1575 2503,1580 2506,1573 2506,1566 2505,1559 2511,1550 2510,1537 2509,1525 2509,1515 2501,1510 2491,1506Z"/>
<path fill="#a8602c" d="M2437,1501 2430,1503 2422,1508 2414,1515 2413,1522 2412,1529 2416,1537 2420,1546 2424,1555 2428,1565 2432,1575 2436,1584 2442,1584 2450,1582 2452,1570 2455,1560 2459,1547 2466,1535 2463,1528 2460,1521 2457,1514 2453,1507 2445,1505Z"/>
<path fill="#a8602c" d="M2346,1483 2341,1493 2341,1502 2336,1504 2328,1513 2324,1523 2331,1529 2338,1535 2343,1539 2348,1545 2351,1550 2355,1556 2359,1563 2366,1570 2373,1578 2381,1584 2387,1592 2393,1600 2400,1607 2408,1606 2413,1602 2424,1601 2432,1593 2436,1584 2432,1575 2428,1565 2424,1555 2420,1546 2416,1537 2412,1529 2413,1522 2414,1515 2422,1508 2430,1503 2437,1501 2437,1493 2436,1484 2435,1473 2433,1462 2432,1452 2433,1444 2428,1440 2420,1445 2411,1450 2401,1453 2398,1462 2389,1461 2379,1464 2374,1472 2361,1478 2353,1485Z"/>
<path fill="#a8602c" d="M2503,1580 2488,1575 2480,1574 2470,1576 2460,1578 2456,1580 2450,1582 2442,1584 2436,1584 2432,1593 2424,1601 2438,1601 2445,1600 2454,1600 2465,1606 2472,1613 2477,1620 2482,1629 2483,1624 2490,1623 2493,1616 2493,1604 2494,1593 2501,1588Z"/>
<path fill="#a8602c" d="M2545,1636 2534,1631 2522,1628 2511,1624 2503,1624 2499,1626 2490,1623 2483,1624 2482,1629 2485,1635 2489,1641 2493,1648 2496,1655 2499,1662 2502,1669 2503,1677 2503,1686 2504,1696 2500,1708 2498,1716 2498,1719 2488,1724 2480,1723 2470,1723 2458,1733 2461,1740 2464,1747 2472,1754 2482,1760 2491,1767 2498,1773 2508,1771 2520,1772 2520,1762 2524,1754 2531,1748 2531,1738 2534,1730 2539,1723 2532,1719 2531,1710 2529,1701 2527,1692 2525,1682 2523,1673 2527,1667 2532,1659 2542,1649 2551,1644Z"/>
<path fill="#a8602c" d="M2573,1648 2564,1648 2551,1644 2542,1649 2532,1659 2527,1667 2523,1673 2525,1682 2527,1692 2529,1701 2531,1710 2532,1719 2539,1723 2553,1719 2559,1714 2559,1703 2560,1691 2564,1684 2567,1676 2570,1666 2572,1655Z"/>
<path fill="#a8602c" d="M2640,1718 2641,1709 2641,1701 2641,1693 2644,1682 2642,1666 2641,1662 2631,1667 2622,1665 2615,1672 2608,1676 2600,1680 2596,1695 2600,1702 2604,1708 2608,1714 2613,1720 2618,1722 2625,1717 2628,1717Z"/>
<path fill="#a8602c" d="M2613,1720 2608,1714 2604,1708 2600,1702 2596,1695 2588,1694 2579,1698 2571,1702 2565,1705 2559,1714 2553,1719 2561,1724 2570,1727 2577,1723 2582,1724 2596,1724 2604,1722Z"/>
<path fill="#a8602c" d="M2640,1718 2628,1717 2625,1717 2618,1722 2613,1720 2604,1722 2596,1724 2582,1724 2577,1723 2570,1727 2561,1724 2553,1719 2539,1723 2534,1730 2531,1738 2531,1748 2539,1752 2546,1756 2556,1760 2567,1765 2573,1769 2576,1771 2581,1776 2590,1771 2596,1763 2600,1759 2612,1760 2623,1765 2625,1760 2636,1758 2643,1749 2652,1747 2667,1742 2671,1737 2665,1732 2659,1728 2650,1724Z"/>
<path fill="#a8602c" d="M2531,1748 2524,1754 2520,1762 2520,1772 2525,1782 2524,1790 2522,1798 2531,1808 2538,1818 2544,1825 2551,1831 2559,1837 2566,1828 2569,1818 2572,1810 2576,1804 2581,1799 2581,1797 2580,1787 2581,1776 2576,1771 2573,1769 2567,1765 2556,1760 2546,1756 2539,1752Z"/>
<path fill="#30a8b0" d="M2458,1733 2451,1740 2444,1749 2442,1749 2437,1753 2428,1759 2420,1761 2413,1770 2407,1777 2404,1779 2410,1784 2416,1789 2423,1794 2427,1801 2431,1808 2440,1808 2453,1807 2459,1808 2466,1804 2480,1804 2481,1799 2480,1791 2485,1782 2494,1779 2498,1773 2491,1767 2482,1760 2472,1754 2464,1747 2461,1740Z"/>
<path fill="#c8c858" d="M2623,1765 2627,1771 2630,1778 2635,1785 2637,1794 2638,1801 2649,1807 2659,1812 2667,1813 2674,1818 2681,1824 2684,1821 2689,1831 2695,1841 2698,1836 2704,1830 2714,1821 2721,1813 2724,1815 2719,1808 2713,1801 2706,1798 2697,1796 2695,1791 2687,1782 2684,1773 2680,1764 2677,1757 2676,1750 2674,1743 2672,1737 2671,1737 2667,1742 2652,1747 2643,1749 2636,1758 2625,1760Z"/>
<path fill="#c8c858" d="M2723,1753 2715,1750 2705,1750 2697,1746 2692,1742 2684,1740 2674,1737 2672,1737 2674,1743 2676,1750 2677,1757 2680,1764 2684,1773 2687,1782 2695,1791 2703,1784 2707,1781 2712,1774 2717,1761Z"/>
<path fill="#98a840" d="M2638,1801 2637,1794 2635,1785 2630,1778 2627,1771 2623,1765 2612,1760 2600,1759 2596,1763 2590,1771 2581,1776 2580,1787 2581,1797 2581,1799 2576,1804 2572,1810 2569,1818 2566,1828 2559,1837 2555,1846 2552,1857 2561,1857 2569,1861 2576,1866 2585,1865 2595,1857 2604,1848 2615,1848 2624,1856 2628,1856 2630,1850 2633,1843 2638,1831 2634,1821 2631,1810Z"/>
<path fill="#48a830" d="M2743,1770 2736,1761 2729,1753 2723,1753 2717,1761 2712,1774 2707,1781 2703,1784 2695,1791 2697,1796 2706,1798 2713,1801 2719,1808 2724,1815 2731,1818 2735,1813 2739,1815 2744,1819 2746,1808 2751,1794 2747,1789 2744,1783Z"/>
<path fill="#b83078" d="M2723,1647 2722,1648 2717,1657 2714,1667 2714,1676 2714,1689 2705,1700 2703,1704 2704,1706 2693,1713 2685,1718 2684,1728 2674,1737 2684,1740 2692,1742 2697,1746 2705,1750 2715,1750 2723,1753 2729,1753 2736,1761 2743,1770 2752,1774 2762,1769 2770,1761 2775,1756 2785,1746 2794,1749 2805,1747 2803,1737 2801,1728 2797,1719 2789,1714 2783,1708 2779,1700 2775,1691 2772,1682 2770,1671 2770,1661 2761,1662 2755,1660 2745,1657 2735,1653 2731,1650Z"/>
<path fill="#b05840" d="M2805,1747 2794,1749 2785,1746 2775,1756 2770,1761 2762,1769 2752,1774 2743,1770 2744,1783 2747,1789 2751,1794 2746,1808 2744,1819 2752,1820 2761,1817 2770,1819 2779,1823 2789,1831 2799,1839 2814,1844 2825,1841 2832,1840 2836,1829 2836,1820 2831,1815 2821,1813 2812,1812 2809,1805 2802,1799 2795,1792 2798,1778 2800,1771 2804,1765 2811,1754Z"/>
<path fill="#38c058" d="M2828,1757 2820,1754 2811,1754 2804,1765 2800,1771 2798,1778 2795,1792 2802,1799 2809,1805 2812,1812 2821,1813 2831,1815 2836,1820 2837,1816 2844,1813 2853,1810 2853,1801 2855,1790 2852,1788 2848,1781 2843,1775 2838,1770 2833,1764Z"/>
<path fill="#c43838" d="M2889,1731 2884,1730 2874,1738 2866,1742 2853,1739 2844,1744 2840,1742 2833,1751 2828,1757 2833,1764 2838,1770 2843,1775 2848,1781 2852,1788 2855,1790 2856,1788 2860,1782 2865,1774 2874,1771 2883,1769 2894,1772 2894,1763 2895,1754 2894,1746 2891,1735Z"/>
<path fill="#c43838" d="M2971,1684 2961,1687 2954,1689 2952,1700 2947,1705 2946,1714 2946,1729 2933,1729 2919,1733 2908,1736 2896,1731 2891,1735 2894,1746 2895,1754 2894,1763 2894,1772 2901,1776 2910,1777 2914,1768 2921,1761 2932,1755 2942,1759 2949,1765 2956,1769 2970,1775 2978,1779 2983,1782 2991,1787 3001,1794 3000,1803 3003,1808 3009,1813 3013,1817 3020,1816 3032,1809 3041,1803 3052,1800 3061,1795 3068,1796 3079,1788 3077,1779 3075,1770 3072,1760 3071,1758 3064,1758 3055,1755 3049,1748 3043,1740 3037,1732 3032,1726 3026,1719 3034,1710 3042,1702 3048,1696 3054,1686 3057,1678 3053,1670 3050,1663 3043,1658 3033,1656 3024,1653 3020,1643 3016,1633 3010,1628 3005,1622 3000,1617 2991,1614 2984,1623 2976,1630 2967,1636 2961,1641 2960,1646 2961,1654 2962,1663 2967,1674Z"/>
<path fill="#c43838" d="M2991,1614 2989,1608 2980,1607 2973,1607 2964,1606 2953,1601 2947,1596 2943,1591 2934,1586 2921,1582 2919,1594 2916,1608 2905,1615 2900,1621 2899,1627 2896,1633 2892,1639 2897,1653 2905,1655 2912,1657 2923,1660 2936,1661 2945,1660 2954,1664 2962,1663 2961,1654 2960,1646 2961,1641 2967,1636 2976,1630 2984,1623Z"/>
<path fill="#c43838" d="M2971,1684 2967,1674 2962,1663 2954,1664 2945,1660 2936,1661 2923,1660 2912,1657 2905,1655 2897,1653 2898,1664 2900,1675 2901,1687 2896,1696 2887,1696 2881,1704 2882,1708 2885,1719 2889,1731 2891,1735 2896,1731 2908,1736 2919,1733 2933,1729 2946,1729 2946,1714 2947,1705 2952,1700 2954,1689 2961,1687Z"/>
<path fill="#9840a8" d="M2866,1474 2864,1483 2863,1492 2860,1502 2857,1511 2854,1512 2847,1513 2844,1523 2843,1533 2840,1537 2837,1543 2835,1554 2839,1560 2842,1566 2846,1572 2844,1581 2841,1588 2840,1599 2835,1609 2835,1615 2846,1617 2850,1617 2860,1615 2872,1613 2876,1611 2888,1613 2899,1619 2900,1621 2905,1615 2916,1608 2919,1594 2921,1582 2924,1574 2925,1565 2930,1560 2933,1551 2937,1539 2938,1527 2939,1522 2942,1515 2942,1514 2932,1511 2924,1504 2916,1497 2910,1492 2904,1488 2899,1482 2892,1474 2886,1465 2881,1458 2874,1466Z"/>
<path fill="#9840a8" d="M2946,1505 2942,1514 2942,1515 2939,1522 2938,1527 2937,1539 2933,1551 2930,1560 2925,1565 2924,1574 2921,1582 2934,1586 2943,1591 2947,1596 2953,1601 2964,1606 2973,1607 2980,1607 2989,1608 2993,1598 2994,1590 2993,1583 2995,1578 3002,1572 3008,1568 3012,1565 3022,1562 3032,1552 3031,1548 3037,1543 3045,1535 3048,1526 3053,1517 3059,1509 3056,1506 3045,1503 3035,1503 3026,1505 3017,1503 3008,1502 3003,1494 2998,1486 2991,1484 2984,1483 2974,1491 2968,1491 2960,1502 2951,1505Z"/>
<path fill="#9840a8" d="M2802,1465 2812,1462 2828,1461 2835,1456 2841,1457 2849,1462 2855,1467 2859,1470 2866,1474 2874,1466 2881,1458 2883,1451 2887,1446 2879,1439 2872,1434 2867,1431 2860,1428 2852,1423 2846,1415 2840,1406 2835,1398 2828,1399 2823,1402 2816,1412 2811,1420 2808,1431 2796,1440 2789,1444 2791,1453 2790,1460 2798,1464Z"/>
<path fill="#9840a8" d="M2901,1440 2900,1439 2898,1442 2887,1446 2883,1451 2881,1458 2886,1465 2892,1474 2899,1482 2904,1488 2910,1492 2916,1497 2924,1504 2932,1511 2942,1514 2946,1505 2944,1495 2943,1487 2943,1478 2951,1469 2956,1460 2962,1455 2970,1445 2968,1437 2966,1430 2964,1422 2961,1414 2955,1414 2947,1417 2943,1420 2930,1426 2918,1430 2911,1437Z"/>
<path fill="#9840a8" d="M2988,1399 2977,1404 2965,1410 2961,1414 2964,1422 2966,1430 2968,1437 2970,1445 2962,1455 2956,1460 2951,1469 2943,1478 2943,1487 2944,1495 2946,1505 2951,1505 2960,1502 2968,1491 2974,1491 2984,1483 2991,1484 2998,1486 3003,1494 3008,1502 3017,1503 3026,1505 3035,1503 3045,1503 3056,1506 3055,1499 3054,1490 3057,1481 3055,1471 3052,1461 3048,1450 3043,1447 3039,1437 3034,1429 3029,1420 3024,1413 3019,1406 3013,1408 3007,1408 2997,1404Z"/>
<path fill="#9840a8" d="M2916,1352 2909,1356 2905,1353 2898,1354 2890,1358 2881,1358 2868,1364 2858,1365 2852,1361 2848,1375 2847,1379 2844,1386 2835,1398 2840,1406 2846,1415 2852,1423 2860,1428 2867,1431 2872,1434 2879,1439 2887,1446 2898,1442 2900,1439 2901,1440 2911,1437 2918,1430 2930,1426 2943,1420 2947,1417 2955,1414 2950,1407 2944,1399 2938,1391 2932,1383 2927,1375 2921,1368 2916,1360Z"/>
<path fill="#58c048" d="M2829,1309 2820,1308 2811,1305 2803,1301 2802,1308 2800,1317 2797,1326 2804,1334 2810,1340 2817,1344 2824,1347 2831,1351 2838,1358 2843,1367 2848,1375 2852,1361 2858,1365 2868,1364 2881,1358 2890,1358 2898,1354 2905,1353 2909,1356 2916,1352 2922,1345 2927,1340 2929,1330 2932,1318 2934,1306 2928,1300 2922,1296 2908,1301 2899,1300 2888,1303 2874,1295 2867,1296 2860,1299 2854,1299 2847,1304 2838,1307Z"/>
<path fill="#58c048" d="M2934,1306 2932,1318 2929,1330 2927,1340 2936,1341 2945,1343 2955,1349 2963,1354 2967,1357 2974,1360 2986,1364 2985,1374 2985,1383 2986,1391 2988,1399 2997,1404 3007,1408 3013,1408 3019,1406 3027,1399 3033,1394 3040,1390 3050,1386 3051,1379 3054,1374 3056,1367 3063,1358 3067,1352 3068,1345 3064,1341 3060,1335 3052,1330 3041,1325 3032,1320 3025,1317 3019,1316 3013,1312 3006,1304 3006,1304 3000,1303 2992,1305 2980,1303 2968,1310 2959,1313 2954,1308 2948,1310 2942,1307Z"/>
<path fill="#58c048" d="M2988,1399 2986,1391 2985,1383 2985,1374 2986,1364 2974,1360 2967,1357 2963,1354 2955,1349 2945,1343 2936,1341 2927,1340 2922,1345 2916,1352 2916,1360 2921,1368 2927,1375 2932,1383 2938,1391 2944,1399 2950,1407 2955,1414 2961,1414 2965,1410 2977,1404Z"/>
<path fill="#50b848" d="M3007,1264 3016,1267 3026,1261 3038,1262 3047,1268 3054,1266 3062,1268 3071,1268 3081,1261 3092,1262 3104,1265 3107,1261 3107,1253 3107,1249 3106,1247 3098,1241 3090,1241 3080,1237 3069,1233 3059,1236 3051,1235 3039,1230 3026,1229 3019,1229 3014,1229 3008,1229 3003,1229 3003,1230 3003,1233 3004,1244 3006,1254Z"/>
<path fill="#50b848" d="M3007,1303 3013,1301 3023,1297 3038,1297 3049,1292 3060,1294 3070,1294 3073,1292 3083,1291 3095,1289 3096,1288 3096,1280 3100,1273 3104,1265 3092,1262 3081,1261 3071,1268 3062,1268 3054,1266 3047,1268 3038,1262 3026,1261 3016,1267 3007,1264 3005,1274 3004,1285 3005,1296Z"/>
<path fill="#50b848" d="M3007,1303 3006,1304 3013,1312 3019,1316 3025,1317 3032,1320 3041,1325 3052,1330 3060,1335 3064,1341 3068,1345 3076,1339 3082,1331 3085,1323 3084,1314 3087,1305 3092,1298 3095,1289 3083,1291 3073,1292 3070,1294 3060,1294 3049,1292 3038,1297 3023,1297 3013,1301Z"/>
<path fill="#50b848" d="M3076,1339 3087,1345 3095,1347 3103,1348 3113,1348 3118,1348 3126,1347 3136,1347 3145,1348 3140,1340 3136,1330 3132,1321 3128,1317 3122,1312 3114,1306 3106,1301 3101,1294 3096,1288 3095,1289 3092,1298 3087,1305 3084,1314 3085,1323 3082,1331Z"/>
<path fill="#50b848" d="M3163,1365 3154,1357 3145,1348 3136,1347 3126,1347 3118,1348 3113,1348 3103,1348 3095,1347 3087,1345 3076,1339 3068,1345 3067,1352 3063,1358 3056,1367 3054,1374 3051,1379 3050,1386 3057,1394 3062,1400 3070,1403 3079,1408 3088,1415 3092,1407 3097,1398 3109,1400 3114,1399 3121,1396 3129,1396 3135,1386 3148,1384 3158,1383 3165,1379 3163,1374 3163,1371Z"/>
<path fill="#50b848" d="M3097,1398 3092,1407 3088,1415 3090,1419 3096,1427 3102,1434 3108,1440 3113,1445 3111,1459 3112,1468 3112,1477 3113,1485 3115,1493 3122,1495 3129,1496 3133,1498 3145,1497 3159,1496 3166,1496 3174,1493 3184,1492 3184,1499 3190,1505 3196,1511 3202,1518 3207,1525 3212,1532 3217,1540 3228,1541 3232,1536 3238,1533 3250,1532 3249,1521 3247,1511 3246,1502 3245,1494 3243,1487 3241,1480 3235,1479 3223,1481 3213,1486 3203,1486 3188,1486 3183,1488 3179,1483 3176,1477 3179,1462 3190,1454 3197,1447 3205,1441 3214,1438 3211,1429 3209,1421 3209,1412 3211,1400 3199,1396 3188,1390 3183,1391 3176,1390 3166,1382 3165,1379 3158,1383 3148,1384 3135,1386 3129,1396 3121,1396 3114,1399 3109,1400Z"/>
<path fill="#80b048" d="M3197,1206 3188,1207 3180,1203 3175,1211 3168,1225 3165,1231 3163,1239 3158,1249 3164,1256 3169,1262 3169,1272 3171,1282 3173,1293 3178,1298 3184,1304 3195,1301 3206,1300 3215,1297 3216,1287 3218,1280 3220,1272 3219,1263 3221,1256 3229,1250 3234,1241 3229,1235 3222,1228 3214,1220 3205,1213Z"/>
<path fill="#a8a840" d="M3107,1249 3107,1253 3107,1261 3113,1266 3117,1273 3122,1278 3131,1281 3140,1285 3146,1290 3153,1294 3164,1294 3173,1293 3171,1282 3169,1272 3169,1262 3164,1256 3158,1249 3150,1244 3139,1245 3126,1248 3119,1247 3114,1253Z"/>
<path fill="#a8a840" d="M3268,1294 3270,1285 3272,1276 3268,1269 3261,1260 3253,1251 3245,1242 3243,1241 3236,1239 3234,1241 3229,1250 3221,1256 3219,1263 3220,1272 3218,1280 3216,1287 3215,1297 3223,1301 3229,1306 3233,1310 3238,1316 3247,1312 3253,1309 3259,1303ZM3145,1348 3154,1357 3163,1365 3167,1360 3168,1349 3171,1339 3175,1329 3179,1320 3182,1313 3184,1304 3178,1298 3173,1293 3164,1294 3153,1294 3146,1290 3140,1285 3131,1281 3122,1278 3117,1273 3113,1266 3107,1261 3104,1265 3100,1273 3096,1280 3096,1288 3101,1294 3106,1301 3114,1306 3122,1312 3128,1317 3132,1321 3136,1330 3140,1340Z"/>
<path fill="#a84058" d="M3288,1268 3279,1273 3272,1276 3270,1285 3268,1294 3259,1303 3253,1309 3247,1312 3238,1316 3237,1323 3237,1329 3237,1338 3241,1347 3246,1357 3252,1366 3261,1369 3275,1367 3285,1365 3292,1369 3297,1360 3300,1352 3306,1345 3314,1329 3317,1324 3325,1324 3334,1314 3335,1311 3340,1301 3352,1294 3352,1288 3350,1281 3349,1274 3349,1266 3351,1255 3352,1245 3352,1234 3345,1229 3338,1225 3332,1220 3327,1216 3322,1223 3308,1228 3302,1228 3297,1237 3291,1247 3289,1256Z"/>
<path fill="#5828a0" d="M3405,1229 3402,1223 3396,1228 3389,1230 3382,1231 3370,1232 3360,1231 3352,1234 3352,1245 3351,1255 3349,1266 3349,1274 3350,1281 3352,1288 3352,1294 3357,1303 3362,1312 3368,1310 3381,1306 3385,1306 3387,1298 3393,1293 3399,1296 3406,1294 3420,1295 3433,1299 3432,1290 3427,1284 3422,1277 3417,1268 3414,1259 3411,1249 3408,1239Z"/>
<path fill="#6838b0" d="M3215,1297 3206,1300 3195,1301 3184,1304 3182,1313 3179,1320 3175,1329 3171,1339 3168,1349 3167,1360 3163,1365 3163,1371 3163,1374 3165,1379 3166,1382 3176,1390 3183,1391 3188,1390 3199,1396 3211,1400 3209,1412 3209,1421 3211,1429 3214,1438 3205,1441 3197,1447 3190,1454 3179,1462 3176,1477 3179,1483 3183,1488 3188,1486 3203,1486 3213,1486 3223,1481 3235,1479 3241,1480 3244,1475 3251,1474 3255,1469 3264,1462 3266,1454 3268,1446 3265,1443 3263,1434 3261,1426 3259,1417 3255,1409 3252,1401 3247,1394 3243,1387 3246,1382 3252,1366 3246,1357 3241,1347 3237,1338 3237,1329 3237,1323 3238,1316 3233,1310 3229,1306 3223,1301Z"/>
<path fill="#38a038" d="M3384,1332 3384,1332 3375,1330 3367,1326 3359,1318 3359,1311 3362,1312 3357,1303 3352,1294 3340,1301 3335,1311 3334,1314 3325,1324 3317,1324 3314,1329 3306,1345 3300,1352 3297,1360 3292,1369 3297,1375 3303,1381 3308,1388 3314,1395 3319,1404 3327,1401 3330,1392 3333,1383 3342,1375 3349,1368 3356,1366 3366,1369 3371,1368 3371,1359 3376,1350 3380,1341Z"/>
<path fill="#b42848" d="M3428,1385 3430,1376 3429,1369 3427,1363 3418,1358 3406,1356 3395,1351 3386,1349 3389,1342 3395,1338 3384,1332 3380,1341 3376,1350 3371,1359 3371,1368 3366,1369 3356,1366 3349,1368 3342,1375 3333,1383 3330,1392 3327,1401 3319,1404 3314,1395 3308,1388 3303,1381 3297,1375 3292,1369 3285,1365 3275,1367 3261,1369 3252,1366 3246,1382 3243,1387 3247,1394 3252,1401 3255,1409 3259,1417 3261,1426 3263,1434 3265,1443 3268,1446 3266,1454 3264,1462 3255,1469 3251,1474 3244,1475 3241,1480 3243,1487 3245,1494 3246,1502 3247,1511 3249,1521 3250,1532 3258,1533 3269,1541 3280,1545 3280,1546 3285,1547 3288,1550 3295,1557 3305,1563 3315,1567 3324,1570 3329,1564 3336,1557 3343,1551 3347,1546 3356,1538 3362,1531 3360,1526 3361,1519 3366,1510 3370,1499 3371,1492 3372,1486 3376,1475 3379,1464 3377,1458 3372,1450 3375,1440 3382,1430 3390,1422 3396,1416 3403,1414 3410,1408 3420,1405 3433,1399 3443,1393 3439,1391Z"/>
<path fill="#50c898" d="M3459,1402 3451,1397 3443,1393 3433,1399 3420,1405 3410,1408 3403,1414 3396,1416 3390,1422 3382,1430 3375,1440 3372,1450 3377,1458 3379,1464 3376,1475 3372,1486 3371,1492 3370,1499 3366,1510 3361,1519 3360,1526 3362,1531 3369,1538 3378,1542 3386,1546 3392,1552 3398,1557 3404,1561 3408,1569 3412,1577 3420,1581 3429,1587 3438,1589 3445,1581 3453,1578 3465,1581 3477,1584 3490,1587 3501,1593 3506,1598 3510,1598 3511,1590 3510,1581 3510,1570 3512,1560 3515,1554 3519,1548 3522,1539 3516,1531 3511,1522 3515,1513 3516,1506 3521,1494 3526,1482 3521,1474 3516,1466 3512,1459 3507,1452 3503,1445 3499,1437 3495,1433 3483,1427 3473,1424 3467,1421 3463,1412Z"/>
<path fill="#b830a8" d="M3663,1288 3656,1289 3648,1293 3637,1293 3629,1300 3620,1301 3612,1300 3611,1300 3605,1304 3594,1304 3584,1312 3571,1313 3560,1317 3554,1319 3550,1323 3547,1332 3554,1333 3560,1337 3565,1343 3566,1348 3566,1348 3559,1351 3551,1353 3543,1357 3537,1368 3531,1375 3527,1382 3526,1390 3521,1397 3514,1403 3513,1417 3514,1424 3520,1436 3523,1443 3525,1449 3514,1443 3503,1439 3499,1437 3503,1445 3507,1452 3512,1459 3516,1466 3521,1474 3526,1482 3536,1483 3547,1481 3555,1478 3560,1478 3564,1466 3568,1457 3573,1453 3585,1450 3593,1447 3596,1437 3600,1423 3600,1411 3607,1410 3617,1408 3619,1405 3620,1398 3625,1389 3629,1377 3629,1374 3629,1371 3635,1370 3649,1364 3653,1360 3663,1356 3669,1344 3668,1337 3671,1332 3671,1324 3670,1315 3668,1306 3666,1298 3664,1290Z"/>
<path fill="#38a078" d="M3671,1332 3668,1337 3669,1344 3663,1356 3653,1360 3649,1364 3635,1370 3629,1371 3629,1374 3629,1377 3625,1389 3620,1398 3619,1405 3624,1413 3631,1420 3639,1423 3647,1426 3654,1430 3660,1436 3667,1434 3673,1427 3684,1430 3697,1426 3703,1422 3709,1418 3713,1408 3716,1399 3720,1398 3725,1394 3724,1391 3723,1384 3724,1376 3726,1368 3728,1359 3727,1348 3725,1339 3722,1329 3718,1327 3704,1331 3691,1332 3684,1330Z"/>
<path fill="#b830a8" d="M3739,1277 3733,1287 3729,1298 3731,1305 3733,1310 3735,1315 3727,1320 3722,1329 3725,1339 3727,1348 3728,1359 3726,1368 3724,1376 3723,1384 3724,1391 3725,1394 3737,1399 3745,1408 3753,1415 3762,1420 3769,1425 3777,1428 3784,1432 3791,1423 3798,1416 3806,1417 3815,1417 3824,1420 3832,1415 3839,1404 3844,1397 3843,1392 3839,1385 3835,1377 3833,1369 3831,1361 3830,1353 3842,1349 3843,1340 3844,1330 3844,1320 3841,1313 3838,1306 3835,1298 3835,1290 3831,1282 3832,1275 3826,1271 3823,1266 3816,1260 3805,1255 3795,1252 3791,1264 3788,1273 3779,1279 3773,1278 3768,1274 3756,1271 3747,1274Z"/>
<path fill="#6038a0" d="M3713,1408 3709,1418 3703,1422 3697,1426 3684,1430 3673,1427 3667,1434 3660,1436 3654,1430 3647,1426 3639,1423 3631,1420 3624,1413 3619,1405 3617,1408 3607,1410 3600,1411 3600,1423 3596,1437 3593,1447 3585,1450 3573,1453 3568,1457 3564,1466 3560,1478 3565,1487 3570,1495 3576,1503 3583,1509 3590,1516 3597,1515 3601,1508 3609,1501 3619,1503 3626,1498 3634,1491 3643,1488 3649,1490 3655,1494 3661,1501 3665,1507 3669,1517 3673,1522 3682,1525 3696,1526 3704,1526 3712,1531 3723,1527 3726,1519 3726,1515 3734,1508 3739,1501 3737,1493 3737,1486 3734,1480 3730,1474 3738,1467 3744,1458 3748,1451 3751,1440 3755,1433 3761,1432 3769,1425 3762,1420 3753,1415 3745,1408 3737,1399 3725,1394 3720,1398 3716,1399Z"/>
<path fill="#b830a8" d="M3769,1425 3761,1432 3755,1433 3751,1440 3748,1451 3744,1458 3738,1467 3730,1474 3734,1480 3737,1486 3737,1493 3739,1501 3746,1504 3758,1507 3770,1509 3776,1513 3779,1517 3783,1520 3792,1521 3795,1521 3798,1512 3796,1503 3798,1494 3808,1483 3813,1475 3806,1469 3796,1465 3787,1463 3780,1460 3782,1450 3784,1441 3784,1432 3777,1428Z"/>
<path fill="#c86030" d="M3522,1539 3519,1548 3515,1554 3512,1560 3510,1570 3510,1581 3511,1590 3510,1598 3517,1604 3523,1610 3525,1607 3534,1597 3546,1593 3552,1590 3562,1587 3570,1589 3572,1583 3581,1583 3592,1586 3598,1579 3607,1573 3620,1574 3621,1569 3622,1569 3629,1574 3638,1580 3646,1585 3653,1588 3651,1598 3645,1608 3642,1617 3639,1627 3634,1639 3631,1649 3639,1655 3646,1658 3654,1651 3662,1649 3667,1640 3673,1636 3679,1633 3682,1617 3680,1609 3678,1601 3676,1592 3677,1589 3677,1580 3678,1571 3681,1563 3682,1554 3680,1543 3675,1531 3673,1522 3669,1517 3665,1507 3661,1501 3655,1494 3649,1490 3643,1488 3634,1491 3626,1498 3619,1503 3609,1501 3601,1508 3597,1515 3590,1516 3583,1509 3576,1503 3570,1495 3565,1487 3560,1478 3555,1478 3547,1481 3536,1483 3526,1482 3521,1494 3516,1506 3515,1513 3511,1522 3516,1531Z"/>
<path fill="#b834c8" d="M3677,1589 3676,1592 3678,1601 3680,1609 3682,1617 3679,1633 3673,1636 3667,1640 3662,1649 3654,1651 3646,1658 3646,1659 3654,1662 3662,1668 3669,1677 3676,1683 3687,1676 3700,1671 3711,1669 3712,1661 3713,1655 3721,1655 3726,1649 3733,1647 3741,1642 3743,1632 3745,1626 3749,1622 3753,1612 3753,1612 3750,1599 3748,1586 3746,1575 3740,1571 3735,1567 3734,1561 3728,1554 3722,1547 3717,1539 3712,1531 3704,1526 3696,1526 3682,1525 3673,1522 3675,1531 3680,1543 3682,1554 3681,1563 3678,1571 3677,1580Z"/>
<path fill="#b04038" d="M3895,1515 3890,1510 3884,1511 3879,1516 3871,1514 3869,1510 3858,1507 3852,1508 3843,1507 3832,1511 3827,1515 3816,1516 3807,1520 3802,1523 3795,1521 3792,1521 3783,1520 3779,1517 3776,1513 3770,1509 3758,1507 3746,1504 3739,1501 3734,1508 3726,1515 3726,1519 3723,1527 3712,1531 3717,1539 3722,1547 3728,1554 3734,1561 3735,1567 3740,1571 3746,1575 3748,1586 3750,1599 3753,1612 3753,1612 3761,1611 3769,1617 3777,1620 3783,1618 3789,1619 3797,1621 3807,1619 3816,1619 3824,1625 3832,1629 3840,1630 3850,1630 3859,1631 3867,1637 3877,1642 3887,1646 3889,1647 3888,1641 3886,1637 3885,1630 3884,1622 3887,1613 3888,1603 3888,1593 3891,1581 3896,1573 3897,1571 3892,1565 3890,1557 3887,1548 3889,1539 3892,1523Z"/>
<path fill="#4060a0" d="M3621,1569 3620,1574 3607,1573 3598,1579 3592,1586 3581,1583 3572,1583 3570,1589 3562,1587 3552,1590 3546,1593 3534,1597 3525,1607 3523,1610 3526,1618 3529,1625 3531,1633 3532,1640 3533,1648 3544,1651 3550,1654 3554,1658 3558,1663 3562,1668 3569,1671 3578,1676 3588,1676 3598,1679 3606,1687 3612,1694 3619,1697 3630,1696 3634,1686 3639,1673 3643,1669 3646,1659 3646,1658 3639,1655 3631,1649 3634,1639 3639,1627 3642,1617 3645,1608 3651,1598 3653,1588 3646,1585 3638,1580 3629,1574 3622,1569Z"/>
<path fill="#5cc848" d="M3362,1531 3356,1538 3347,1546 3343,1551 3336,1557 3329,1564 3324,1570 3324,1580 3323,1590 3323,1601 3325,1611 3327,1618 3315,1619 3316,1629 3317,1639 3318,1648 3317,1658 3315,1670 3314,1682 3313,1691 3309,1693 3307,1697 3306,1705 3309,1713 3311,1721 3318,1718 3328,1721 3337,1722 3338,1719 3351,1722 3364,1720 3374,1719 3388,1718 3390,1709 3386,1704 3391,1697 3398,1683 3400,1678 3411,1686 3428,1688 3436,1685 3441,1685 3450,1679 3453,1679 3467,1675 3480,1673 3488,1672 3492,1672 3500,1668 3499,1666 3504,1660 3515,1657 3521,1654 3533,1648 3532,1640 3531,1633 3529,1625 3526,1618 3523,1610 3517,1604 3510,1598 3506,1598 3501,1593 3490,1587 3477,1584 3465,1581 3453,1578 3445,1581 3438,1589 3429,1587 3420,1581 3412,1577 3408,1569 3404,1561 3398,1557 3392,1552 3386,1546 3378,1542 3369,1538Z"/>
<path fill="#a024a8" d="M3488,1672 3480,1673 3467,1675 3453,1679 3450,1679 3441,1685 3436,1685 3428,1688 3411,1686 3400,1678 3398,1683 3391,1697 3386,1704 3390,1709 3388,1718 3386,1727 3385,1736 3384,1746 3384,1754 3384,1762 3388,1773 3388,1782 3389,1788 3395,1793 3402,1801 3406,1809 3409,1817 3413,1824 3418,1830 3422,1837 3427,1843 3431,1850 3429,1861 3419,1868 3415,1873 3415,1880 3415,1889 3412,1897 3406,1907 3410,1918 3415,1929 3419,1939 3424,1948 3424,1948 3437,1941 3447,1935 3455,1937 3463,1935 3471,1942 3479,1935 3483,1923 3487,1915 3490,1907 3492,1897 3495,1888 3498,1881 3497,1876 3504,1872 3515,1869 3522,1866 3532,1868 3542,1873 3549,1879 3555,1885 3561,1883 3567,1887 3574,1890 3585,1883 3592,1875 3600,1870 3606,1861 3608,1853 3605,1846 3604,1839 3602,1830 3599,1820 3596,1809 3594,1800 3600,1792 3603,1784 3605,1777 3605,1771 3603,1765 3600,1757 3597,1750 3594,1742 3585,1737 3575,1731 3568,1723 3561,1714 3553,1709 3555,1700 3556,1694 3559,1688 3562,1678 3562,1668 3558,1663 3554,1658 3550,1654 3544,1651 3533,1648 3521,1654 3515,1657 3504,1660 3499,1666 3500,1668 3492,1672Z"/>
<path fill="#40a8b0" d="M3676,1683 3669,1677 3662,1668 3654,1662 3646,1659 3643,1669 3639,1673 3634,1686 3630,1696 3619,1697 3612,1694 3606,1687 3598,1679 3588,1676 3578,1676 3569,1671 3562,1668 3562,1678 3559,1688 3556,1694 3555,1700 3553,1709 3561,1714 3568,1723 3575,1731 3585,1737 3594,1742 3597,1750 3600,1757 3603,1765 3605,1771 3605,1777 3603,1784 3600,1792 3611,1793 3616,1796 3621,1796 3633,1794 3637,1787 3649,1780 3659,1773 3660,1767 3666,1761 3672,1755 3671,1742 3679,1731 3677,1730 3679,1722 3680,1714 3678,1706 3677,1698 3677,1690Z"/>
<path fill="#3c60a8" d="M3694,1735 3699,1742 3703,1750 3707,1758 3711,1766 3714,1774 3714,1783 3715,1794 3716,1805 3712,1810 3710,1817 3707,1828 3703,1837 3698,1845 3707,1851 3714,1858 3719,1864 3725,1870 3736,1868 3746,1866 3752,1863 3760,1859 3768,1857 3775,1856 3785,1853 3795,1846 3793,1835 3792,1825 3790,1815 3787,1804 3790,1788 3799,1784 3795,1777 3791,1771 3787,1765 3780,1758 3772,1755 3761,1753 3753,1748 3750,1742 3747,1735 3744,1729 3738,1733 3726,1734 3723,1734 3718,1733 3703,1729Z"/>
<path fill="#4060b0" d="M3694,1735 3679,1731 3671,1742 3672,1755 3666,1761 3660,1767 3659,1773 3649,1780 3637,1787 3633,1794 3621,1796 3616,1796 3611,1793 3600,1792 3594,1800 3596,1809 3599,1820 3602,1830 3604,1839 3605,1846 3608,1853 3615,1861 3621,1860 3630,1860 3641,1859 3654,1853 3665,1858 3671,1860 3679,1860 3685,1862 3691,1849 3698,1845 3703,1837 3707,1828 3710,1817 3712,1810 3716,1805 3715,1794 3714,1783 3714,1774 3711,1766 3707,1758 3703,1750 3699,1742Z"/>
<path fill="#309c48" d="M3311,1721 3307,1730 3301,1740 3299,1751 3298,1760 3292,1764 3290,1773 3295,1780 3301,1790 3308,1800 3311,1812 3317,1820 3323,1827 3328,1833 3333,1839 3338,1844 3343,1850 3352,1844 3357,1843 3366,1839 3371,1831 3375,1825 3381,1815 3388,1806 3389,1800 3389,1788 3388,1782 3388,1773 3384,1762 3384,1754 3384,1746 3385,1736 3386,1727 3388,1718 3374,1719 3364,1720 3351,1722 3338,1719 3337,1722 3328,1721 3318,1718Z"/>
<path fill="#9840a8" d="M3088,1415 3079,1408 3070,1403 3062,1400 3057,1394 3050,1386 3040,1390 3033,1394 3027,1399 3019,1406 3024,1413 3029,1420 3034,1429 3039,1437 3043,1447 3048,1450 3052,1461 3055,1471 3057,1481 3054,1490 3055,1499 3056,1506 3059,1509 3065,1512 3069,1515 3079,1518 3091,1520 3099,1525 3103,1518 3112,1507 3117,1499 3115,1493 3113,1485 3112,1477 3112,1468 3111,1459 3113,1445 3108,1440 3102,1434 3096,1427 3090,1419Z"/>
<path fill="#9840a8" d="M3032,1552 3022,1562 3012,1565 3008,1568 3002,1572 2995,1578 2993,1583 2994,1590 2993,1598 2989,1608 2991,1614 3000,1617 3005,1622 3010,1628 3016,1633 3021,1624 3028,1622 3040,1615 3051,1606 3058,1608 3065,1606 3071,1605 3074,1608 3074,1600 3075,1591 3077,1581 3080,1572 3089,1561 3093,1551 3097,1546 3103,1541 3105,1537 3099,1525 3091,1520 3079,1518 3069,1515 3065,1512 3059,1509 3053,1517 3048,1526 3045,1535 3037,1543 3031,1548Z"/>
<path fill="#c43838" d="M3115,1493 3117,1499 3112,1507 3103,1518 3099,1525 3105,1537 3110,1544 3118,1547 3126,1550 3132,1551 3135,1561 3138,1571 3142,1581 3146,1590 3157,1592 3168,1597 3175,1603 3181,1606 3183,1616 3176,1624 3175,1632 3177,1641 3179,1650 3180,1660 3178,1671 3177,1680 3177,1688 3178,1695 3178,1703 3178,1713 3184,1712 3192,1716 3202,1713 3208,1707 3215,1701 3223,1691 3228,1684 3230,1680 3237,1673 3243,1669 3241,1659 3241,1647 3252,1639 3259,1639 3265,1635 3275,1632 3279,1626 3287,1620 3298,1619 3306,1621 3315,1619 3327,1618 3325,1611 3323,1601 3323,1590 3324,1580 3324,1570 3315,1567 3305,1563 3295,1557 3288,1550 3285,1547 3280,1546 3280,1545 3269,1541 3258,1533 3250,1532 3238,1533 3232,1536 3228,1541 3217,1540 3212,1532 3207,1525 3202,1518 3196,1511 3190,1505 3184,1499 3184,1492 3174,1493 3166,1496 3159,1496 3145,1497 3133,1498 3129,1496 3122,1495Z"/>
<path fill="#c43838" d="M3078,1613 3087,1614 3092,1623 3097,1632 3102,1641 3107,1650 3112,1659 3111,1662 3116,1670 3121,1677 3125,1686 3129,1694 3134,1703 3139,1712 3151,1720 3160,1726 3167,1720 3178,1713 3178,1703 3178,1695 3177,1688 3177,1680 3178,1671 3180,1660 3179,1650 3177,1641 3175,1632 3176,1624 3183,1616 3181,1606 3175,1603 3168,1597 3157,1592 3146,1590 3142,1581 3138,1571 3135,1561 3132,1551 3126,1550 3118,1547 3110,1544 3105,1537 3103,1541 3097,1546 3093,1551 3089,1561 3080,1572 3077,1581 3075,1591 3074,1600 3074,1608Z"/>
<path fill="#c43838" d="M3016,1633 3020,1643 3024,1653 3033,1656 3043,1658 3050,1663 3053,1670 3057,1678 3062,1682 3069,1681 3078,1676 3087,1672 3098,1666 3107,1665 3111,1662 3112,1659 3107,1650 3102,1641 3097,1632 3092,1623 3087,1614 3078,1613 3074,1608 3071,1605 3065,1606 3058,1608 3051,1606 3040,1615 3028,1622 3021,1624Z"/>
<path fill="#c43838" d="M3086,1714 3085,1722 3083,1733 3076,1740 3071,1747 3071,1758 3072,1760 3075,1770 3077,1779 3079,1788 3079,1789 3087,1791 3095,1797 3105,1801 3114,1802 3119,1806 3121,1812 3127,1816 3136,1812 3142,1816 3151,1819 3159,1809 3160,1797 3159,1786 3156,1777 3153,1769 3151,1760 3149,1751 3148,1742 3154,1737 3160,1726 3151,1720 3139,1712 3134,1703 3129,1694 3125,1686 3121,1677 3116,1670 3111,1662 3107,1665 3098,1666 3087,1672 3078,1676 3069,1681 3073,1689 3077,1697 3082,1705Z"/>
<path fill="#c43838" d="M3026,1719 3032,1726 3037,1732 3043,1740 3049,1748 3055,1755 3064,1758 3071,1758 3071,1747 3076,1740 3083,1733 3085,1722 3086,1714 3082,1705 3077,1697 3073,1689 3069,1681 3062,1682 3057,1678 3054,1686 3048,1696 3042,1702 3034,1710Z"/>
<path fill="#c43838" d="M3279,1626 3275,1632 3265,1635 3259,1639 3252,1639 3241,1647 3241,1659 3243,1669 3237,1673 3230,1680 3228,1684 3223,1691 3215,1701 3208,1707 3202,1713 3192,1716 3202,1724 3210,1732 3216,1738 3221,1741 3225,1748 3230,1755 3239,1761 3249,1771 3258,1782 3264,1782 3275,1779 3286,1777 3290,1773 3292,1764 3298,1760 3299,1751 3301,1740 3307,1730 3311,1721 3309,1713 3306,1705 3307,1697 3309,1693 3313,1691 3314,1682 3315,1670 3317,1658 3318,1648 3317,1639 3316,1629 3315,1619 3306,1621 3298,1619 3287,1620Z"/>
<path fill="#c43838" d="M3148,1742 3149,1751 3151,1760 3153,1769 3156,1777 3159,1786 3160,1797 3159,1809 3151,1819 3156,1828 3161,1835 3165,1842 3169,1848 3178,1851 3191,1849 3202,1846 3213,1848 3222,1847 3226,1847 3231,1851 3236,1855 3240,1860 3251,1860 3264,1863 3274,1852 3277,1846 3280,1840 3285,1831 3289,1829 3300,1820 3311,1812 3308,1800 3301,1790 3295,1780 3290,1773 3286,1777 3275,1779 3264,1782 3258,1782 3249,1771 3239,1761 3230,1755 3225,1748 3221,1741 3216,1738 3210,1732 3202,1724 3192,1716 3184,1712 3178,1713 3167,1720 3160,1726 3154,1737Z"/>
<path fill="#b03c78" d="M3832,1275 3831,1282 3835,1290 3835,1298 3838,1306 3841,1313 3844,1320 3844,1330 3843,1340 3842,1349 3843,1349 3844,1343 3853,1333 3862,1331 3869,1334 3875,1332 3876,1333 3883,1343 3892,1355 3900,1352 3914,1350 3916,1344 3928,1340 3937,1340 3937,1340 3937,1334 3936,1326 3929,1319 3922,1309 3915,1305 3908,1304 3900,1300 3895,1292 3891,1283 3888,1283 3883,1278 3876,1273 3867,1267 3856,1262 3847,1270 3842,1276Z"/>
<path fill="#7048c0" d="M3843,1392 3844,1397 3839,1404 3832,1415 3824,1420 3832,1431 3844,1430 3856,1425 3870,1429 3879,1437 3882,1433 3881,1425 3881,1419 3880,1410 3879,1400 3878,1390 3878,1387 3884,1380 3887,1374 3879,1367 3866,1361 3853,1365 3843,1363 3843,1357 3843,1349 3842,1349 3830,1353 3831,1361 3833,1369 3835,1377 3839,1385Z"/>
<path fill="#a040c8" d="M3836,1450 3829,1449 3826,1446 3822,1439 3817,1432 3823,1431 3832,1431 3824,1420 3815,1417 3806,1417 3798,1416 3791,1423 3784,1432 3784,1441 3782,1450 3780,1460 3787,1463 3796,1465 3806,1469 3813,1475 3808,1483 3798,1494 3796,1503 3798,1512 3795,1521 3802,1523 3807,1520 3816,1516 3827,1515 3832,1511 3843,1507 3852,1508 3858,1507 3869,1510 3867,1507 3875,1500 3880,1492 3883,1484 3873,1481 3866,1478 3859,1473 3851,1464 3842,1456Z"/>
<path fill="#58b030" d="M3815,1681 3806,1678 3800,1676 3797,1680 3784,1687 3780,1695 3783,1705 3785,1716 3787,1726 3787,1736 3788,1746 3789,1756 3797,1745 3800,1739 3805,1729 3817,1723 3823,1723 3831,1718 3840,1712 3835,1704 3829,1696 3822,1689Z"/>
<path fill="#40c8c8" d="M3845,1717 3840,1712 3831,1718 3823,1723 3817,1723 3805,1729 3800,1739 3797,1745 3789,1756 3787,1765 3791,1771 3795,1777 3799,1784 3790,1788 3787,1804 3790,1815 3792,1825 3793,1835 3795,1846 3785,1853 3781,1862 3779,1873 3779,1881 3778,1888 3776,1896 3776,1905 3779,1914 3779,1923 3784,1927 3788,1931 3795,1936 3804,1930 3809,1921 3812,1919 3826,1919 3833,1919 3840,1920 3853,1914 3862,1915 3871,1920 3883,1920 3887,1927 3891,1935 3897,1938 3906,1927 3912,1922 3922,1918 3931,1912 3938,1916 3947,1909 3947,1905 3945,1900 3946,1892 3946,1885 3945,1876 3945,1865 3946,1857 3941,1853 3937,1848 3933,1842 3923,1841 3907,1841 3899,1843 3895,1837 3891,1830 3887,1824 3882,1816 3878,1808 3877,1801 3870,1794 3862,1788 3852,1784 3843,1780 3847,1772 3852,1760 3856,1753 3859,1749 3861,1738 3855,1732 3849,1725Z"/>
<path fill="#a02c58" d="M3887,1646 3877,1650 3874,1653 3867,1658 3853,1663 3846,1664 3835,1668 3826,1670 3825,1674 3815,1681 3822,1689 3829,1696 3835,1704 3840,1712 3845,1717 3849,1725 3855,1732 3861,1738 3859,1749 3856,1753 3852,1760 3847,1772 3843,1780 3852,1784 3862,1788 3870,1794 3877,1801 3878,1808 3882,1816 3887,1824 3891,1830 3895,1837 3899,1843 3907,1841 3923,1841 3933,1842 3937,1848 3941,1853 3946,1857 3952,1856 3960,1855 3967,1847 3981,1842 3980,1831 3978,1821 3977,1812 3976,1805 3976,1797 3967,1788 3966,1780 3964,1771 3955,1765 3947,1760 3940,1757 3934,1752 3928,1745 3928,1740 3927,1732 3928,1721 3922,1715 3916,1708 3911,1701 3906,1693 3900,1685 3900,1675 3898,1665 3894,1663 3893,1662 3889,1655 3889,1647Z"/>
<path fill="#4040b0" d="M3932,1688 3929,1679 3914,1671 3902,1667 3898,1665 3900,1675 3900,1685 3906,1693 3911,1701 3916,1708 3922,1715 3928,1721 3927,1732 3928,1740 3928,1745 3934,1752 3940,1757 3947,1760 3955,1765 3964,1771 3966,1780 3967,1788 3976,1797 3986,1800 3993,1802 3996,1801 4006,1795 4013,1789 4020,1786 4027,1794 4035,1803 4043,1810 4048,1817 4053,1812 4063,1807 4069,1797 4070,1788 4069,1772 4059,1772 4053,1773 4051,1766 4048,1759 4039,1761 4030,1763 4023,1760 4017,1756 4011,1754 4005,1752 4002,1746 3998,1739 3996,1735 3986,1732 3977,1729 3968,1723 3958,1716 3948,1714 3944,1710 3940,1707 3937,1702 3935,1696Z"/>
<path fill="#30a8b0" d="M2480,1804 2466,1804 2459,1808 2453,1807 2440,1808 2431,1808 2433,1814 2431,1820 2423,1832 2419,1841 2414,1839 2400,1845 2393,1845 2388,1844 2376,1845 2383,1853 2390,1860 2397,1866 2402,1871 2406,1877 2409,1873 2420,1864 2427,1860 2433,1868 2440,1875 2447,1879 2453,1876 2462,1874 2470,1867 2470,1858 2471,1850 2471,1843 2471,1842 2474,1838 2485,1830 2495,1834 2499,1828 2508,1821 2515,1818 2515,1808 2522,1798 2524,1790 2525,1782 2520,1772 2508,1771 2498,1773 2494,1779 2485,1782 2480,1791 2481,1799Z"/>
<path fill="#30a8b0" d="M2376,1845 2388,1844 2393,1845 2400,1845 2414,1839 2419,1841 2423,1832 2431,1820 2433,1814 2431,1808 2427,1801 2423,1794 2416,1789 2410,1784 2404,1779 2402,1785 2399,1791 2392,1795 2394,1805 2394,1816 2386,1824 2382,1828 2366,1832 2373,1844Z"/>
<path fill="#30a8b0" d="M2409,1890 2416,1887 2426,1882 2439,1881 2447,1879 2440,1875 2433,1868 2427,1860 2420,1864 2409,1873 2406,1877 2402,1871 2397,1866 2390,1860 2383,1853 2376,1845 2373,1844 2372,1850 2371,1858 2364,1870 2367,1878 2370,1886 2374,1893 2378,1901 2382,1910 2393,1908 2389,1899 2396,1898 2407,1891Z"/>
<path fill="#30a8b0" d="M2334,1884 2336,1887 2340,1891 2344,1897 2350,1904 2358,1908 2367,1912 2374,1911 2382,1910 2378,1901 2374,1893 2370,1886 2367,1878 2364,1870 2371,1858 2372,1850 2373,1844 2366,1832 2364,1832 2358,1837 2347,1845 2342,1848 2342,1848 2333,1847 2323,1845 2315,1842 2309,1838 2303,1843 2301,1857 2291,1854 2291,1856 2298,1862 2303,1866 2311,1872 2321,1877 2331,1881 2332,1883Z"/>
<path fill="#b844b8" d="M2273,1889 2271,1896 2270,1904 2270,1911 2267,1922 2256,1926 2252,1927 2263,1935 2258,1941 2258,1951 2262,1960 2265,1968 2271,1962 2278,1959 2287,1954 2288,1961 2289,1969 2298,1964 2299,1963 2301,1956 2304,1949 2312,1943 2319,1941 2320,1940 2325,1937 2333,1929 2340,1926 2349,1921 2354,1919 2365,1913 2367,1912 2358,1908 2350,1904 2344,1897 2340,1891 2336,1887 2334,1884 2332,1883 2331,1881 2321,1877 2311,1872 2303,1866 2298,1862 2291,1856 2287,1867 2283,1876 2280,1882 2278,1885Z"/>
<path fill="#3cac64" d="M2552,1857 2555,1846 2559,1837 2551,1831 2544,1825 2538,1818 2531,1808 2522,1798 2515,1808 2515,1818 2508,1821 2499,1828 2495,1834 2485,1830 2474,1838 2471,1842 2471,1843 2471,1850 2470,1858 2470,1867 2474,1866 2482,1863 2488,1860 2497,1860 2504,1859 2508,1853 2510,1851 2517,1854 2524,1858 2532,1859 2541,1861 2545,1858Z"/>
<path fill="#cc4080" d="M2551,1867 2559,1875 2566,1882 2567,1883 2573,1886 2580,1890 2587,1889 2592,1884 2588,1879 2585,1865 2576,1866 2569,1861 2561,1857 2552,1857 2545,1858 2541,1861Z"/>
<path fill="#38a890" d="M2592,1884 2593,1883 2602,1879 2612,1879 2620,1873 2621,1872 2623,1861 2624,1856 2615,1848 2604,1848 2595,1857 2585,1865 2588,1879Z"/>
<path fill="#b07040" d="M2624,1856 2623,1861 2621,1872 2632,1874 2641,1880 2650,1882 2651,1875 2644,1867 2637,1858 2630,1850 2628,1856Z"/>
<path fill="#a07828" d="M2638,1831 2633,1843 2630,1850 2637,1858 2644,1867 2651,1875 2657,1868 2663,1857 2673,1852 2683,1844 2688,1847 2695,1841 2689,1831 2684,1821 2681,1824 2674,1818 2667,1813 2659,1812 2649,1807 2638,1801 2631,1810 2634,1821Z"/>
<path fill="#c43838" d="M3054,1850 3060,1858 3065,1867 3068,1874 3072,1880 3076,1886 3081,1892 3086,1897 3092,1903 3097,1910 3102,1918 3107,1926 3112,1934 3117,1942 3121,1949 3126,1957 3135,1950 3141,1942 3147,1932 3152,1927 3155,1920 3152,1912 3150,1904 3148,1898 3146,1891 3155,1886 3158,1875 3160,1867 3164,1861 3165,1854 3169,1848 3165,1842 3161,1835 3156,1828 3151,1819 3142,1816 3136,1812 3127,1816 3121,1812 3119,1806 3114,1802 3105,1801 3095,1797 3087,1791 3079,1789 3079,1788 3068,1796 3061,1795 3052,1800 3041,1803 3032,1809 3020,1816 3013,1817 3018,1823 3025,1829 3035,1837 3045,1844Z"/>
<path fill="#c43838" d="M3231,1851 3226,1847 3222,1847 3213,1848 3202,1846 3191,1849 3178,1851 3169,1848 3165,1854 3164,1861 3160,1867 3158,1875 3155,1886 3146,1891 3148,1898 3150,1904 3152,1912 3155,1920 3167,1923 3177,1925 3185,1923 3196,1922 3205,1925 3207,1913 3215,1909 3222,1905 3230,1897 3239,1891 3242,1882 3240,1875 3239,1868 3240,1860 3236,1855Z"/>
<path fill="#38a048" d="M3311,1812 3300,1820 3289,1829 3285,1831 3280,1840 3277,1846 3274,1852 3264,1863 3251,1860 3240,1860 3239,1868 3240,1875 3242,1882 3239,1891 3230,1897 3222,1905 3215,1909 3207,1913 3205,1925 3196,1922 3185,1923 3177,1925 3167,1923 3155,1920 3152,1927 3147,1932 3141,1942 3135,1950 3126,1957 3131,1964 3135,1972 3140,1980 3145,1989 3150,1998 3154,2008 3158,2018 3162,2028 3168,2024 3180,2015 3185,2011 3193,2008 3205,2004 3208,2003 3218,1997 3227,1992 3231,1988 3242,1983 3242,1977 3242,1971 3243,1969 3253,1962 3263,1957 3268,1953 3279,1945 3284,1942 3288,1943 3300,1943 3312,1948 3318,1949 3328,1949 3335,1942 3337,1936 3337,1927 3340,1917 3345,1909 3346,1901 3345,1890 3348,1879 3344,1869 3340,1860 3343,1850 3338,1844 3333,1839 3328,1833 3323,1827 3317,1820Z"/>
<path fill="#a024a8" d="M3389,1788 3389,1800 3388,1806 3381,1815 3375,1825 3371,1831 3366,1839 3357,1843 3352,1844 3343,1850 3340,1860 3344,1869 3348,1879 3345,1890 3346,1901 3345,1909 3340,1917 3337,1927 3337,1936 3335,1942 3328,1949 3318,1949 3312,1948 3300,1943 3288,1943 3284,1942 3279,1945 3268,1953 3263,1957 3253,1962 3243,1969 3242,1971 3242,1977 3242,1983 3231,1988 3227,1992 3218,1997 3208,2003 3205,2004 3193,2008 3185,2011 3180,2015 3168,2024 3162,2028 3166,2036 3170,2045 3174,2053 3178,2060 3181,2067 3184,2074 3187,2081 3189,2087 3192,2094 3195,2101 3199,2109 3203,2117 3207,2126 3211,2135 3216,2145 3221,2155 3226,2165 3228,2157 3238,2156 3249,2153 3255,2150 3264,2139 3265,2129 3267,2124 3275,2116 3283,2117 3292,2120 3308,2119 3319,2121 3325,2121 3337,2120 3338,2112 3337,2107 3344,2098 3352,2088 3354,2081 3351,2071 3349,2062 3346,2052 3344,2043 3349,2041 3359,2040 3370,2035 3380,2028 3388,2018 3385,2010 3382,2004 3381,1996 3382,1987 3382,1978 3382,1970 3391,1963 3398,1952 3404,1954 3414,1949 3424,1948 3419,1939 3415,1929 3410,1918 3406,1907 3412,1897 3415,1889 3415,1880 3415,1873 3419,1868 3429,1861 3431,1850 3427,1843 3422,1837 3418,1830 3413,1824 3409,1817 3406,1809 3402,1801 3395,1793Z"/>
<path fill="#a024a8" d="M3497,1876 3498,1881 3495,1888 3492,1897 3490,1907 3487,1915 3483,1923 3479,1935 3471,1942 3463,1935 3455,1937 3447,1935 3437,1941 3424,1948 3424,1948 3414,1949 3404,1954 3398,1952 3391,1963 3382,1970 3382,1978 3382,1987 3381,1996 3382,2004 3385,2010 3388,2018 3380,2028 3370,2035 3359,2040 3349,2041 3344,2043 3346,2052 3349,2062 3351,2071 3354,2081 3362,2079 3374,2082 3378,2085 3388,2083 3400,2086 3400,2076 3401,2063 3402,2051 3402,2040 3400,2032 3407,2036 3416,2037 3429,2040 3439,2036 3448,2031 3457,2022 3460,2021 3468,2025 3479,2026 3487,2021 3495,2014 3502,2006 3504,1996 3505,1992 3511,1996 3518,1995 3528,1995 3542,1991 3553,1987 3561,1988 3571,1990 3571,1983 3573,1978 3576,1978 3585,1967 3593,1959 3602,1952 3608,1944 3604,1937 3599,1929 3596,1922 3593,1914 3590,1905 3588,1894 3585,1883 3574,1890 3567,1887 3561,1883 3555,1885 3549,1879 3542,1873 3532,1868 3522,1866 3515,1869 3504,1872Z"/>
<path fill="#b42cc8" d="M3606,1861 3600,1870 3592,1875 3585,1883 3588,1894 3590,1905 3593,1914 3596,1922 3599,1929 3604,1937 3608,1944 3602,1952 3593,1959 3585,1967 3576,1978 3573,1978 3571,1983 3571,1990 3571,2001 3568,2011 3565,2021 3565,2031 3569,2040 3574,2048 3581,2054 3596,2049 3605,2053 3611,2051 3619,2050 3625,2053 3635,2047 3646,2048 3650,2052 3657,2047 3664,2039 3669,2037 3673,2027 3679,2020 3687,2019 3690,2009 3693,1999 3700,1993 3704,1985 3704,1973 3700,1964 3692,1956 3682,1954 3674,1949 3667,1945 3662,1940 3661,1931 3661,1923 3659,1914 3658,1906 3662,1898 3669,1889 3674,1883 3679,1875 3684,1868 3685,1862 3679,1860 3671,1860 3665,1858 3654,1853 3641,1859 3630,1860 3621,1860 3615,1861 3608,1853Z"/>
<path fill="#50a030" d="M3725,1870 3719,1864 3714,1858 3707,1851 3698,1845 3691,1849 3685,1862 3684,1868 3679,1875 3674,1883 3669,1889 3662,1898 3658,1906 3659,1914 3661,1923 3661,1931 3662,1940 3667,1945 3674,1949 3682,1954 3692,1956 3700,1964 3704,1973 3710,1978 3716,1986 3723,1995 3729,2005 3734,2012 3738,2017 3743,2019 3750,2023 3758,2028 3767,2031 3771,2032 3776,2038 3783,2044 3793,2042 3801,2039 3811,2038 3823,2037 3833,2040 3840,2044 3842,2037 3843,2029 3843,2021 3842,2012 3844,2002 3857,1995 3865,1991 3876,1992 3883,1987 3882,1978 3885,1973 3888,1964 3890,1954 3891,1943 3891,1935 3887,1927 3883,1920 3871,1920 3862,1915 3853,1914 3840,1920 3833,1919 3826,1919 3812,1919 3809,1921 3804,1930 3795,1936 3788,1931 3784,1927 3779,1923 3779,1914 3776,1905 3776,1896 3778,1888 3779,1881 3779,1873 3781,1862 3785,1853 3775,1856 3768,1857 3760,1859 3752,1863 3746,1866 3736,1868Z"/>
<path fill="#a8b448" d="M3505,1992 3504,1996 3502,2006 3495,2014 3487,2021 3479,2026 3468,2025 3460,2021 3457,2022 3448,2031 3439,2036 3429,2040 3416,2037 3407,2036 3400,2032 3402,2040 3402,2051 3401,2063 3400,2076 3400,2086 3403,2089 3411,2087 3426,2087 3433,2084 3436,2082 3446,2083 3449,2093 3452,2104 3461,2110 3469,2114 3477,2119 3486,2119 3496,2110 3504,2109 3512,2107 3517,2101 3518,2096 3530,2093 3541,2092 3551,2097 3560,2096 3568,2100 3578,2097 3578,2084 3578,2074 3579,2068 3579,2063 3581,2054 3574,2048 3569,2040 3565,2031 3565,2021 3568,2011 3571,2001 3571,1990 3561,1988 3553,1987 3542,1991 3528,1995 3518,1995 3511,1996Z"/>
<path fill="#2cb088" d="M3646,2048 3635,2047 3625,2053 3619,2050 3611,2051 3605,2053 3596,2049 3581,2054 3579,2063 3579,2068 3578,2074 3578,2084 3578,2097 3584,2096 3591,2099 3597,2104 3604,2110 3611,2117 3617,2124 3626,2127 3636,2128 3647,2130 3649,2123 3649,2114 3649,2102 3650,2091 3652,2078 3654,2068 3656,2063 3653,2058 3650,2052Z"/>
<path fill="#a8a030" d="M3687,2019 3679,2020 3673,2027 3669,2037 3664,2039 3657,2047 3650,2052 3653,2058 3656,2063 3654,2068 3652,2078 3650,2091 3649,2102 3649,2114 3649,2123 3647,2130 3636,2128 3626,2127 3617,2124 3611,2117 3604,2110 3597,2104 3591,2099 3584,2096 3578,2097 3568,2100 3567,2108 3566,2117 3565,2126 3563,2134 3570,2140 3577,2146 3584,2152 3587,2160 3590,2168 3592,2176 3595,2185 3598,2194 3612,2190 3617,2189 3622,2191 3631,2194 3639,2198 3643,2202 3652,2194 3666,2189 3670,2184 3675,2174 3678,2170 3676,2163 3679,2153 3687,2142 3698,2134 3709,2131 3720,2133 3721,2127 3725,2118 3728,2106 3726,2098 3724,2089 3721,2081 3725,2074 3729,2068 3730,2063 3736,2056 3744,2046 3749,2036 3758,2028 3750,2023 3743,2019 3738,2017 3734,2012 3729,2005 3723,1995 3716,1986 3710,1978 3704,1973 3704,1985 3700,1993 3693,1999 3690,2009Z"/>
<path fill="#4840b8" d="M3758,2028 3749,2036 3744,2046 3736,2056 3730,2063 3729,2068 3725,2074 3721,2081 3724,2089 3726,2098 3728,2106 3725,2118 3721,2127 3720,2133 3722,2141 3724,2149 3724,2157 3724,2166 3724,2177 3725,2189 3720,2201 3716,2202 3717,2210 3719,2221 3724,2229 3730,2237 3734,2245 3739,2253 3741,2252 3748,2248 3759,2246 3763,2239 3768,2231 3775,2222 3778,2215 3777,2210 3781,2206 3789,2204 3796,2203 3801,2192 3809,2183 3814,2178 3815,2172 3815,2162 3817,2155 3813,2150 3819,2146 3826,2136 3829,2125 3833,2122 3839,2117 3840,2107 3838,2099 3849,2091 3860,2083 3858,2074 3855,2065 3853,2056 3846,2050 3840,2044 3833,2040 3823,2037 3811,2038 3801,2039 3793,2042 3783,2044 3776,2038 3771,2032 3767,2031Z"/>
<path fill="#3cc09c" d="M3396,2145 3403,2149 3408,2151 3415,2153 3423,2165 3432,2168 3440,2166 3449,2163 3458,2167 3468,2168 3481,2170 3491,2173 3493,2168 3500,2164 3506,2161 3510,2158 3519,2155 3528,2155 3530,2155 3539,2150 3550,2146 3555,2139 3563,2134 3565,2126 3566,2117 3567,2108 3568,2100 3560,2096 3551,2097 3541,2092 3530,2093 3518,2096 3517,2101 3512,2107 3504,2109 3496,2110 3486,2119 3477,2119 3469,2114 3461,2110 3452,2104 3449,2093 3446,2083 3436,2082 3433,2084 3426,2087 3411,2087 3403,2089 3400,2086 3388,2083 3378,2085 3374,2082 3362,2079 3354,2081 3352,2088 3344,2098 3337,2107 3338,2112 3337,2120 3344,2129 3349,2139 3353,2142 3363,2144 3378,2149 3386,2144Z"/>
<path fill="#3cc09c" d="M3423,2165 3415,2153 3408,2151 3403,2149 3396,2145 3386,2144 3378,2149 3363,2144 3353,2142 3349,2139 3344,2129 3337,2120 3325,2121 3319,2121 3308,2119 3292,2120 3283,2117 3275,2116 3267,2124 3265,2129 3264,2139 3255,2150 3249,2153 3238,2156 3228,2157 3226,2165 3230,2173 3234,2180 3237,2187 3240,2194 3243,2201 3246,2209 3250,2216 3253,2223 3257,2231 3261,2239 3266,2246 3270,2254 3274,2262 3277,2270 3279,2278 3282,2287 3284,2295 3287,2304 3289,2313 3292,2321 3293,2329 3303,2322 3317,2320 3327,2322 3334,2325 3337,2329 3340,2333 3348,2337 3359,2343 3365,2345 3371,2335 3383,2326 3385,2318 3393,2310 3403,2316 3408,2308 3420,2300 3424,2289 3431,2280 3442,2280 3446,2280 3451,2271 3460,2263 3461,2253 3470,2247 3473,2241 3474,2237 3475,2230 3467,2225 3459,2216 3451,2211 3443,2208 3433,2205 3423,2203 3413,2199 3415,2192 3418,2185 3421,2175Z"/>
<path fill="#3cc09c" d="M3584,2152 3577,2146 3570,2140 3563,2134 3555,2139 3550,2146 3539,2150 3530,2155 3528,2155 3519,2155 3510,2158 3506,2161 3500,2164 3493,2168 3491,2173 3481,2170 3468,2168 3458,2167 3449,2163 3440,2166 3432,2168 3423,2165 3421,2175 3418,2185 3415,2192 3413,2199 3423,2203 3433,2205 3443,2208 3451,2211 3459,2216 3467,2225 3475,2230 3474,2237 3473,2241 3470,2247 3481,2254 3488,2259 3492,2263 3500,2271 3510,2279 3518,2283 3528,2283 3545,2284 3550,2290 3554,2296 3554,2296 3559,2291 3565,2294 3570,2293 3576,2288 3587,2288 3599,2277 3607,2270 3613,2268 3614,2263 3611,2254 3609,2245 3606,2237 3604,2228 3601,2221 3597,2213 3594,2205 3593,2202 3598,2194 3595,2185 3592,2176 3590,2168 3587,2160Z"/>
<path fill="#3cc09c" d="M3472,2306 3475,2315 3479,2323 3483,2330 3486,2337 3484,2339 3489,2346 3493,2354 3498,2362 3507,2365 3520,2367 3531,2366 3542,2364 3551,2360 3548,2351 3545,2342 3546,2333 3548,2324 3551,2316 3553,2308 3554,2296 3554,2296 3550,2290 3545,2284 3528,2283 3518,2283 3510,2279 3500,2271 3492,2263 3488,2259 3481,2254 3470,2247 3461,2253 3460,2263 3451,2271 3446,2280 3449,2284 3455,2290 3463,2298Z"/>
<path fill="#3cc09c" d="M3431,2280 3424,2289 3420,2300 3408,2308 3403,2316 3405,2323 3406,2329 3406,2336 3407,2342 3409,2350 3412,2358 3415,2368 3421,2373 3426,2379 3432,2373 3440,2365 3447,2362 3454,2356 3460,2347 3465,2343 3473,2339 3484,2339 3486,2337 3483,2330 3479,2323 3475,2315 3472,2306 3463,2298 3455,2290 3449,2284 3446,2280 3442,2280Z"/>
<path fill="#3cc09c" d="M3293,2329 3293,2338 3293,2346 3293,2354 3295,2362 3295,2363 3296,2368 3293,2379 3292,2380 3284,2393 3282,2398 3278,2405 3270,2413 3265,2412 3259,2420 3257,2422 3252,2430 3249,2434 3241,2438 3231,2437 3227,2439 3218,2447 3217,2450 3227,2448 3234,2446 3242,2451 3252,2451 3262,2453 3267,2463 3270,2473 3280,2478 3282,2472 3288,2461 3295,2454 3302,2451 3312,2448 3323,2451 3333,2462 3339,2461 3345,2457 3351,2457 3357,2458 3367,2458 3380,2453 3378,2447 3376,2440 3373,2432 3370,2427 3364,2422 3358,2417 3359,2406 3359,2394 3359,2385 3358,2375 3352,2362 3354,2350 3359,2343 3348,2337 3340,2333 3337,2329 3334,2325 3327,2322 3317,2320 3303,2322Z"/>
<path fill="#3cc09c" d="M3358,2375 3359,2385 3359,2394 3359,2406 3358,2417 3364,2422 3370,2427 3373,2432 3383,2430 3390,2427 3394,2424 3403,2424 3415,2427 3428,2426 3434,2418 3437,2407 3436,2393 3432,2388 3428,2382 3426,2379 3421,2373 3415,2368 3412,2358 3409,2350 3407,2342 3406,2336 3406,2329 3405,2323 3403,2316 3393,2310 3385,2318 3383,2326 3371,2335 3365,2345 3359,2343 3354,2350 3352,2362Z"/>
<path fill="#a8c440" d="M3687,2142 3679,2153 3676,2163 3678,2170 3675,2174 3670,2184 3666,2189 3652,2194 3643,2202 3647,2209 3652,2217 3656,2225 3660,2233 3664,2241 3664,2242 3667,2250 3670,2258 3673,2267 3676,2276 3676,2284 3673,2291 3669,2299 3669,2300 3679,2304 3688,2308 3698,2309 3708,2312 3716,2308 3719,2303 3724,2299 3728,2293 3731,2286 3734,2277 3733,2271 3733,2264 3739,2253 3734,2245 3730,2237 3724,2229 3719,2221 3717,2210 3716,2202 3720,2201 3725,2189 3724,2177 3724,2166 3724,2157 3724,2149 3722,2141 3720,2133 3709,2131 3698,2134Z"/>
<path fill="#b03484" d="M3593,2202 3594,2205 3597,2213 3601,2221 3604,2228 3606,2237 3609,2245 3611,2254 3614,2263 3613,2268 3607,2270 3599,2277 3587,2288 3576,2288 3570,2293 3565,2294 3571,2303 3577,2309 3583,2313 3589,2318 3595,2324 3602,2330 3608,2337 3612,2330 3617,2325 3627,2316 3632,2307 3635,2299 3644,2298 3651,2298 3658,2299 3669,2299 3673,2291 3676,2284 3676,2276 3673,2267 3670,2258 3667,2250 3664,2242 3664,2241 3660,2233 3656,2225 3652,2217 3647,2209 3643,2202 3639,2198 3631,2194 3622,2191 3617,2189 3612,2190 3598,2194Z"/>
<path fill="#70c040" d="M3821,2296 3824,2289 3829,2284 3835,2277 3838,2270 3832,2265 3824,2261 3816,2257 3806,2251 3797,2248 3791,2257 3779,2261 3772,2256 3766,2252 3759,2246 3748,2248 3741,2252 3739,2253 3733,2264 3733,2271 3734,2277 3731,2286 3728,2293 3724,2299 3731,2305 3740,2309 3748,2313 3756,2318 3763,2324 3761,2334 3758,2340 3751,2353 3750,2368 3758,2366 3770,2366 3777,2373 3784,2372 3795,2371 3804,2377 3814,2380 3825,2384 3830,2378 3834,2366 3829,2361 3825,2354 3819,2345 3812,2336 3803,2327 3794,2319 3786,2313 3780,2306 3781,2302 3790,2298 3796,2294 3807,2294Z"/>
<path fill="#5424a0" d="M3750,2368 3751,2353 3758,2340 3761,2334 3763,2324 3756,2318 3748,2313 3740,2309 3731,2305 3724,2299 3719,2303 3716,2308 3708,2312 3698,2309 3688,2308 3679,2304 3669,2300 3669,2299 3658,2299 3651,2298 3644,2298 3635,2299 3632,2307 3627,2316 3617,2325 3612,2330 3608,2337 3611,2349 3615,2362 3620,2370 3625,2377 3631,2385 3643,2378 3650,2374 3657,2379 3666,2382 3677,2382 3682,2386 3695,2383 3705,2381 3711,2382 3722,2377 3730,2381 3736,2383 3741,2374 3747,2368Z"/>
<path fill="#a8b048" d="M3554,2365 3556,2376 3555,2388 3555,2397 3548,2406 3537,2415 3534,2425 3540,2433 3544,2437 3548,2442 3559,2445 3568,2446 3575,2443 3586,2448 3599,2451 3607,2450 3611,2451 3619,2453 3619,2440 3618,2428 3616,2419 3616,2412 3619,2405 3630,2396 3630,2390 3631,2385 3625,2377 3620,2370 3615,2362 3611,2349 3608,2337 3602,2330 3595,2324 3589,2318 3583,2313 3577,2309 3571,2303 3565,2294 3559,2291 3554,2296 3553,2308 3551,2316 3548,2324 3546,2333 3545,2342 3548,2351 3551,2360Z"/>
<path fill="#28a038" d="M3838,2099 3840,2107 3839,2117 3833,2122 3829,2125 3826,2136 3819,2146 3813,2150 3817,2155 3815,2162 3815,2172 3814,2178 3809,2183 3801,2192 3796,2203 3789,2204 3781,2206 3777,2210 3778,2215 3775,2222 3768,2231 3763,2239 3759,2246 3766,2252 3772,2256 3779,2261 3791,2257 3797,2248 3806,2251 3816,2257 3824,2261 3832,2265 3838,2270 3847,2269 3854,2261 3857,2253 3862,2246 3867,2235 3866,2232 3867,2223 3872,2218 3881,2215 3886,2212 3893,2206 3899,2195 3899,2186 3903,2179 3898,2172 3893,2165 3888,2158 3884,2150 3881,2143 3884,2137 3888,2132 3883,2124 3878,2115 3874,2105 3869,2095 3865,2086 3860,2083 3849,2091Z"/>
<path fill="#5c38a0" d="M4040,1822 4048,1817 4043,1810 4035,1803 4027,1794 4020,1786 4013,1789 4006,1795 3996,1801 3993,1802 3986,1800 3976,1797 3976,1805 3977,1812 3978,1821 3980,1831 3981,1842 3967,1847 3960,1855 3952,1856 3946,1857 3945,1865 3945,1876 3946,1885 3946,1892 3945,1900 3947,1905 3953,1903 3959,1896 3969,1889 3977,1893 3986,1891 3996,1890 3998,1886 3999,1876 4003,1857 4007,1854 4010,1844 4014,1835 4015,1833 4026,1832 4032,1824Z"/>
<path fill="#a82888" d="M3965,1942 3965,1944 3973,1952 3980,1960 3987,1966 3994,1971 4000,1976 4006,1977 4012,1970 4012,1960 4016,1953 4021,1947 4024,1939 4028,1932 4034,1925 4028,1914 4021,1903 4017,1898 4007,1897 4002,1896 3996,1890 3996,1890 3986,1891 3977,1893 3969,1889 3959,1896 3953,1903 3947,1905 3947,1909 3952,1917 3956,1925 3960,1934Z"/>
<path fill="#a05c3c" d="M3885,1973 3894,1970 3900,1967 3907,1968 3921,1969 3929,1972 3934,1972 3937,1983 3940,1993 3931,1993 3920,1998 3913,2003 3904,2011 3901,2021 3903,2025 3908,2029 3914,2033 3918,2043 3922,2051 3924,2060 3931,2066 3936,2073 3936,2080 3933,2088 3930,2099 3929,2110 3928,2118 3936,2122 3943,2124 3948,2127 3959,2129 3971,2122 3976,2117 3981,2115 3985,2107 3987,2097 3990,2090 3995,2083 3992,2076 3989,2068 3992,2058 3987,2050 3981,2042 3975,2033 3970,2024 3964,2015 3970,2009 3975,2002 3977,1993 3987,1989 3995,1984 4000,1976 3994,1971 3987,1966 3980,1960 3973,1952 3965,1944 3965,1942 3960,1934 3956,1925 3952,1917 3947,1909 3938,1916 3931,1912 3922,1918 3912,1922 3906,1927 3897,1938 3891,1935 3891,1943 3890,1954 3888,1964Z"/>
<path fill="#a05c3c" d="M4109,1989 4115,1986 4124,1978 4129,1971 4125,1966 4121,1961 4109,1964 4095,1965 4093,1958 4092,1952 4087,1946 4081,1939 4076,1932 4068,1930 4060,1931 4054,1931 4050,1920 4045,1925 4036,1928 4034,1925 4028,1932 4024,1939 4021,1947 4016,1953 4012,1960 4012,1970 4006,1977 4006,1984 4007,1991 4008,1999 4010,2007 4012,2016 4014,2025 4015,2033 4023,2033 4034,2031 4046,2034 4051,2033 4056,2027 4060,2035 4064,2043 4073,2053 4081,2062 4092,2059 4102,2058 4110,2051 4123,2047 4129,2045 4139,2044 4129,2033 4127,2024 4125,2015 4117,2010 4113,1999Z"/>
<path fill="#9828b0" d="M4015,2033 4014,2025 4012,2016 4010,2007 4008,1999 4007,1991 4006,1984 4006,1977 4000,1976 3995,1984 3987,1989 3977,1993 3975,2002 3970,2009 3964,2015 3970,2024 3975,2033 3981,2042 3987,2050 3992,2058 4002,2052 4003,2048 4006,2036Z"/>
<path fill="#6828c8" d="M3883,1987 3876,1992 3865,1991 3857,1995 3844,2002 3842,2012 3843,2021 3843,2029 3842,2037 3840,2044 3846,2050 3853,2056 3855,2065 3858,2074 3860,2083 3865,2086 3869,2095 3874,2105 3878,2115 3883,2124 3888,2132 3898,2124 3905,2122 3914,2120 3921,2115 3928,2118 3929,2110 3930,2099 3933,2088 3936,2080 3936,2073 3931,2066 3924,2060 3922,2051 3918,2043 3914,2033 3908,2029 3903,2025 3901,2021 3904,2011 3913,2003 3920,1998 3931,1993 3940,1993 3937,1983 3934,1972 3929,1972 3921,1969 3907,1968 3900,1967 3894,1970 3885,1973 3882,1978Z"/>
<path fill="#48a838" d="M4015,2033 4006,2036 4003,2048 4002,2052 3992,2058 3989,2068 3992,2076 3995,2083 3990,2090 3987,2097 3985,2107 3981,2115 3990,2119 3997,2121 4000,2126 4007,2130 4019,2134 4027,2132 4031,2128 4039,2132 4048,2135 4056,2141 4063,2147 4071,2154 4079,2160 4087,2167 4092,2160 4098,2156 4104,2149 4110,2142 4116,2133 4121,2126 4130,2126 4128,2118 4126,2109 4127,2107 4133,2103 4143,2099 4148,2087 4144,2082 4141,2076 4137,2070 4134,2064 4136,2055 4144,2050 4139,2044 4129,2045 4123,2047 4110,2051 4102,2058 4092,2059 4081,2062 4073,2053 4064,2043 4060,2035 4056,2027 4051,2033 4046,2034 4034,2031 4023,2033Z"/>
<path fill="#3c38b8" d="M3888,2132 3884,2137 3881,2143 3884,2150 3888,2158 3893,2165 3898,2172 3903,2179 3899,2186 3899,2195 3893,2206 3886,2212 3881,2215 3872,2218 3867,2223 3866,2232 3867,2235 3862,2246 3857,2253 3854,2261 3847,2269 3854,2274 3861,2281 3868,2288 3874,2295 3879,2302 3884,2302 3895,2305 3902,2296 3907,2301 3912,2307 3923,2315 3933,2320 3941,2323 3950,2328 3962,2333 3964,2331 3963,2323 3961,2314 3961,2305 3962,2296 3964,2284 3967,2270 3968,2259 3967,2255 3961,2246 3954,2241 3946,2239 3947,2230 3947,2224 3946,2219 3947,2210 3950,2200 3958,2194 3967,2187 3978,2185 3985,2187 3992,2176 3987,2168 3982,2159 3977,2151 3971,2143 3965,2136 3959,2129 3948,2127 3943,2124 3936,2122 3928,2118 3921,2115 3914,2120 3905,2122 3898,2124Z"/>
<path fill="#b8b438" d="M3992,2176 3999,2174 4005,2166 4014,2160 4021,2167 4029,2174 4038,2174 4049,2176 4058,2176 4064,2171 4077,2170 4087,2170 4087,2167 4079,2160 4071,2154 4063,2147 4056,2141 4048,2135 4039,2132 4031,2128 4027,2132 4019,2134 4007,2130 4000,2126 3997,2121 3990,2119 3981,2115 3976,2117 3971,2122 3959,2129 3965,2136 3971,2143 3977,2151 3982,2159 3987,2168Z"/>
<path fill="#b8b438" d="M4116,2192 4104,2186 4096,2186 4096,2197 4096,2206 4095,2215 4095,2225 4095,2235 4094,2244 4092,2252 4090,2257 4099,2261 4113,2261 4121,2266 4127,2268 4140,2269 4149,2272 4153,2268 4160,2256 4156,2249 4152,2241 4147,2234 4142,2227 4138,2220 4132,2218 4126,2210 4121,2201Z"/>
<path fill="#38b038" d="M3992,2176 3985,2187 3990,2194 3994,2201 3998,2208 4002,2215 4005,2221 4009,2228 4019,2227 4029,2229 4035,2234 4040,2235 4045,2243 4049,2251 4056,2251 4061,2254 4065,2260 4073,2265 4083,2260 4090,2257 4092,2252 4094,2244 4095,2235 4095,2225 4095,2215 4096,2206 4096,2197 4096,2186 4092,2183 4087,2170 4077,2170 4064,2171 4058,2176 4049,2176 4038,2174 4029,2174 4021,2167 4014,2160 4005,2166 3999,2174Z"/>
<path fill="#28a030" d="M4092,2183 4096,2186 4104,2186 4116,2192 4121,2201 4126,2210 4132,2218 4138,2220 4142,2227 4147,2234 4152,2241 4156,2249 4160,2256 4169,2252 4174,2244 4186,2243 4187,2234 4198,2230 4208,2224 4207,2223 4211,2213 4208,2208 4204,2204 4200,2199 4195,2194 4195,2185 4195,2175 4187,2172 4178,2166 4169,2158 4161,2152 4157,2150 4151,2148 4141,2140 4130,2131 4130,2126 4121,2126 4116,2133 4110,2142 4104,2149 4098,2156 4092,2160 4087,2167 4087,2170Z"/>
<path fill="#c89838" d="M3950,2200 3947,2210 3946,2219 3947,2224 3947,2230 3946,2239 3954,2241 3961,2246 3967,2255 3968,2259 3967,2270 3964,2284 3962,2296 3961,2305 3961,2314 3963,2323 3964,2331 3970,2330 3981,2331 3990,2326 3995,2321 4008,2314 4014,2310 4022,2310 4032,2314 4039,2318 4042,2324 4044,2320 4054,2311 4060,2309 4069,2306 4083,2304 4082,2297 4077,2288 4074,2277 4073,2265 4065,2260 4061,2254 4056,2251 4049,2251 4045,2243 4040,2235 4035,2234 4029,2229 4019,2227 4009,2228 4005,2221 4002,2215 3998,2208 3994,2201 3990,2194 3985,2187 3978,2185 3967,2187 3958,2194Z"/>
<path fill="#b07034" d="M4042,2324 4039,2318 4032,2314 4022,2310 4014,2310 4008,2314 3995,2321 3990,2326 3981,2331 3970,2330 3964,2331 3962,2333 3961,2340 3959,2347 3970,2353 3979,2358 3986,2364 3992,2371 3997,2379 4003,2384 4010,2377 4014,2374 4024,2369 4035,2365 4040,2367 4046,2375 4052,2382 4058,2390 4066,2399 4081,2398 4093,2403 4101,2402 4110,2400 4110,2394 4112,2385 4118,2373 4128,2373 4135,2369 4144,2365 4150,2365 4153,2360 4154,2351 4156,2343 4159,2335 4161,2326 4162,2316 4163,2308 4163,2301 4164,2297 4160,2288 4156,2278 4153,2268 4149,2272 4140,2269 4127,2268 4121,2266 4113,2261 4099,2261 4090,2257 4083,2260 4073,2265 4074,2277 4077,2288 4082,2297 4083,2304 4069,2306 4060,2309 4054,2311 4044,2320Z"/>
<path fill="#c84464" d="M4298,2283 4290,2278 4283,2271 4277,2265 4271,2262 4264,2259 4256,2255 4249,2250 4242,2247 4239,2245 4229,2239 4219,2231 4213,2225 4208,2224 4198,2230 4187,2234 4186,2243 4174,2244 4169,2252 4160,2256 4153,2268 4156,2278 4160,2288 4164,2297 4163,2301 4163,2308 4162,2316 4161,2326 4159,2335 4156,2343 4154,2351 4153,2360 4161,2364 4169,2373 4178,2382 4190,2373 4202,2369 4208,2361 4216,2359 4221,2368 4226,2377 4232,2386 4237,2394 4243,2401 4248,2407 4253,2413 4258,2419 4262,2425 4273,2425 4275,2417 4278,2409 4287,2404 4288,2391 4294,2387 4304,2384 4306,2374 4302,2363 4306,2353 4310,2343 4313,2333 4315,2324 4317,2318 4319,2313 4316,2308 4311,2300 4306,2293 4300,2286Z"/>
<path fill="#58c850" d="M3879,2302 3874,2295 3868,2288 3861,2281 3854,2274 3847,2269 3838,2270 3835,2277 3829,2284 3824,2289 3821,2296 3807,2294 3796,2294 3790,2298 3781,2302 3780,2306 3786,2313 3794,2319 3803,2327 3812,2336 3819,2345 3825,2354 3829,2361 3834,2366 3844,2358 3851,2355 3852,2341 3859,2337 3864,2326 3867,2312 3873,2307Z"/>
<path fill="#989c38" d="M3876,2366 3878,2373 3881,2379 3884,2386 3887,2393 3891,2400 3897,2407 3903,2415 3913,2413 3917,2402 3923,2393 3933,2387 3937,2378 3936,2373 3942,2368 3948,2355 3959,2347 3961,2340 3962,2333 3950,2328 3941,2323 3933,2320 3923,2315 3912,2307 3907,2301 3902,2296 3895,2305 3884,2302 3879,2302 3873,2307 3867,2312 3864,2326 3859,2337 3852,2341 3851,2355 3859,2355 3870,2361Z"/>
<path fill="#a86c44" d="M4390,2343 4378,2340 4370,2333 4362,2330 4352,2327 4342,2321 4335,2314 4331,2320 4327,2325 4319,2313 4317,2318 4315,2324 4313,2333 4310,2343 4306,2353 4302,2363 4306,2374 4304,2384 4294,2387 4288,2391 4287,2404 4278,2409 4275,2417 4273,2425 4262,2425 4260,2431 4254,2446 4250,2452 4254,2459 4258,2467 4261,2474 4265,2482 4269,2490 4272,2498 4276,2506 4280,2513 4280,2523 4283,2531 4287,2538 4291,2546 4295,2553 4308,2559 4319,2563 4321,2552 4325,2547 4328,2541 4331,2534 4339,2528 4347,2522 4352,2515 4357,2508 4361,2501 4368,2494 4375,2486 4382,2481 4390,2475 4392,2469 4394,2464 4400,2456 4406,2449 4405,2446 4401,2438 4399,2431 4396,2423 4394,2416 4394,2410 4394,2403 4394,2395 4393,2386 4392,2377 4401,2362 4396,2353Z"/>
<path fill="#28a070" d="M3465,2343 3460,2347 3454,2356 3447,2362 3440,2365 3432,2373 3426,2379 3428,2382 3432,2388 3436,2393 3437,2407 3434,2418 3428,2426 3427,2432 3432,2437 3437,2442 3441,2448 3450,2448 3461,2449 3471,2452 3476,2452 3480,2460 3483,2468 3487,2476 3490,2484 3493,2480 3500,2475 3502,2472 3503,2462 3514,2459 3522,2454 3526,2445 3535,2441 3540,2433 3534,2425 3537,2415 3548,2406 3555,2397 3555,2388 3556,2376 3554,2365 3551,2360 3542,2364 3531,2366 3520,2367 3507,2365 3498,2362 3493,2354 3489,2346 3484,2339 3473,2339Z"/>
<path fill="#b84868" d="M3734,2411 3735,2400 3735,2393 3736,2383 3730,2381 3722,2377 3711,2382 3705,2381 3695,2383 3682,2386 3677,2382 3666,2382 3657,2379 3650,2374 3643,2378 3631,2385 3630,2390 3630,2396 3619,2405 3616,2412 3616,2419 3618,2428 3619,2440 3619,2453 3625,2458 3631,2462 3639,2457 3648,2449 3654,2441 3661,2443 3668,2439 3673,2440 3681,2443 3689,2431 3695,2421 3702,2418 3713,2416 3719,2418 3726,2419Z"/>
<path fill="#68b030" d="M3800,2461 3800,2471 3800,2481 3798,2490 3791,2496 3789,2506 3788,2514 3789,2520 3790,2525 3796,2532 3803,2536 3816,2534 3829,2539 3837,2543 3847,2539 3857,2542 3863,2544 3861,2531 3861,2519 3863,2511 3870,2508 3874,2500 3879,2491 3871,2484 3864,2478 3857,2472 3850,2466 3843,2461 3837,2455 3839,2442 3842,2433 3845,2428 3844,2420 3840,2415 3837,2409 3834,2403 3830,2395 3825,2388 3825,2384 3814,2380 3804,2377 3795,2371 3784,2372 3777,2373 3770,2366 3758,2366 3750,2368 3747,2368 3741,2374 3736,2383 3735,2393 3735,2400 3734,2411 3739,2417 3744,2423 3749,2430 3763,2429 3773,2432 3778,2436 3782,2443 3788,2449 3794,2455Z"/>
<path fill="#7828a0" d="M3395,2456 3398,2464 3400,2472 3404,2481 3408,2490 3419,2486 3431,2483 3435,2485 3442,2485 3453,2488 3461,2497 3467,2496 3481,2494 3489,2491 3490,2484 3487,2476 3483,2468 3480,2460 3476,2452 3471,2452 3461,2449 3450,2448 3441,2448 3437,2442 3432,2437 3427,2432 3428,2426 3415,2427 3403,2424 3394,2424 3390,2427 3383,2430 3373,2432 3376,2440 3378,2447 3380,2453 3388,2455Z"/>
<path fill="#cc5098" d="M3357,2489 3358,2490 3366,2495 3376,2496 3382,2498 3386,2501 3400,2498 3405,2494 3408,2490 3404,2481 3400,2472 3398,2464 3395,2456 3388,2455 3380,2453 3367,2458 3357,2458 3351,2457 3345,2457 3339,2461 3333,2462 3336,2470 3338,2478 3346,2483 3352,2485Z"/>
<path fill="#c44858" d="M3280,2478 3281,2487 3281,2497 3290,2498 3299,2504 3308,2508 3315,2514 3320,2521 3325,2527 3330,2534 3336,2535 3345,2544 3350,2544 3350,2541 3360,2536 3372,2528 3376,2526 3383,2516 3387,2507 3386,2501 3382,2498 3376,2496 3366,2495 3358,2490 3357,2489 3352,2485 3346,2483 3338,2478 3336,2470 3333,2462 3323,2451 3312,2448 3302,2451 3295,2454 3288,2461 3282,2472Z"/>
<path fill="#3838b8" d="M3408,2490 3405,2494 3400,2498 3403,2510 3414,2516 3422,2524 3430,2529 3440,2528 3446,2535 3451,2542 3455,2550 3464,2548 3472,2542 3480,2541 3487,2536 3484,2525 3482,2514 3481,2503 3481,2494 3467,2496 3461,2497 3453,2488 3442,2485 3435,2485 3431,2483 3419,2486Z"/>
<path fill="#a43060" d="M3351,2545 3354,2550 3364,2553 3378,2549 3386,2551 3393,2551 3404,2546 3408,2552 3411,2559 3419,2566 3430,2566 3439,2565 3447,2567 3448,2571 3453,2578 3459,2586 3468,2591 3474,2599 3480,2605 3487,2612 3494,2618 3498,2608 3503,2599 3506,2592 3512,2590 3518,2586 3512,2580 3506,2573 3500,2567 3498,2560 3496,2552 3494,2545 3491,2536 3487,2536 3480,2541 3472,2542 3464,2548 3455,2550 3451,2542 3446,2535 3440,2528 3430,2529 3422,2524 3414,2516 3403,2510 3400,2498 3386,2501 3387,2507 3383,2516 3376,2526 3372,2528 3360,2536 3350,2541 3350,2544Z"/>
<path fill="#44c890" d="M3493,2480 3490,2484 3489,2491 3481,2494 3481,2503 3482,2514 3484,2525 3487,2536 3491,2536 3494,2545 3496,2552 3498,2560 3500,2567 3506,2573 3512,2580 3518,2586 3525,2583 3536,2580 3537,2579 3538,2568 3538,2557 3537,2547 3536,2540 3537,2532 3546,2524 3551,2515 3552,2503 3552,2491 3554,2489 3555,2482 3556,2475 3555,2465 3551,2452 3548,2442 3544,2437 3540,2433 3535,2441 3526,2445 3522,2454 3514,2459 3503,2462 3502,2472 3500,2475Z"/>
<path fill="#3450b0" d="M3641,2512 3647,2506 3643,2499 3640,2492 3637,2483 3634,2473 3631,2462 3625,2458 3619,2453 3611,2451 3607,2450 3599,2451 3586,2448 3575,2443 3568,2446 3559,2445 3548,2442 3551,2452 3555,2465 3556,2475 3555,2482 3554,2489 3552,2491 3552,2503 3551,2515 3546,2524 3537,2532 3536,2540 3537,2547 3538,2557 3538,2568 3537,2579 3547,2574 3554,2570 3563,2573 3572,2575 3582,2574 3587,2565 3591,2552 3592,2541 3602,2541 3610,2540 3614,2541 3621,2538 3628,2528 3631,2519 3640,2512Z"/>
<path fill="#50a82c" d="M3749,2430 3744,2423 3739,2417 3734,2411 3726,2419 3719,2418 3713,2416 3702,2418 3695,2421 3689,2431 3681,2443 3673,2440 3668,2439 3661,2443 3654,2441 3648,2449 3639,2457 3631,2462 3634,2473 3637,2483 3640,2492 3643,2499 3647,2506 3657,2506 3665,2507 3671,2513 3676,2519 3682,2525 3690,2531 3698,2536 3706,2542 3712,2550 3722,2543 3726,2539 3729,2539 3731,2531 3734,2522 3735,2514 3735,2504 3737,2500 3735,2488 3738,2476 3737,2470 3738,2462 3744,2452 3747,2442Z"/>
<path fill="#a840b0" d="M3735,2504 3735,2514 3734,2522 3731,2531 3729,2539 3736,2543 3745,2545 3753,2548 3756,2556 3758,2565 3764,2571 3771,2575 3782,2573 3791,2574 3799,2577 3809,2584 3822,2586 3829,2590 3837,2582 3843,2577 3857,2569 3863,2562 3865,2556 3866,2549 3863,2544 3857,2542 3847,2539 3837,2543 3829,2539 3816,2534 3803,2536 3796,2532 3790,2525 3789,2520 3788,2514 3789,2506 3791,2496 3798,2490 3800,2481 3800,2471 3800,2461 3794,2455 3788,2449 3782,2443 3778,2436 3773,2432 3763,2429 3749,2430 3747,2442 3744,2452 3738,2462 3737,2470 3738,2476 3735,2488 3737,2500Z"/>
<path fill="#8830b8" d="M3647,2506 3641,2512 3640,2512 3631,2519 3628,2528 3621,2538 3614,2541 3610,2540 3602,2541 3592,2541 3591,2552 3587,2565 3582,2574 3585,2581 3589,2588 3593,2595 3597,2602 3606,2605 3618,2614 3626,2618 3627,2607 3639,2610 3647,2606 3654,2606 3667,2613 3677,2610 3684,2610 3685,2610 3689,2601 3690,2586 3688,2575 3691,2570 3695,2569 3707,2557 3712,2550 3706,2542 3698,2536 3690,2531 3682,2525 3676,2519 3671,2513 3665,2507 3657,2506Z"/>
<path fill="#6840b0" d="M3712,2550 3707,2557 3695,2569 3691,2570 3688,2575 3690,2586 3689,2601 3685,2610 3684,2610 3686,2618 3688,2625 3689,2632 3690,2639 3698,2644 3709,2650 3718,2655 3724,2657 3728,2662 3735,2657 3737,2647 3738,2640 3747,2632 3746,2624 3746,2616 3752,2601 3752,2597 3752,2590 3752,2584 3755,2575 3758,2565 3756,2556 3753,2548 3745,2545 3736,2543 3729,2539 3726,2539 3722,2543Z"/>
<path fill="#90c040" d="M3752,2601 3746,2616 3746,2624 3747,2632 3760,2631 3768,2635 3779,2639 3788,2640 3792,2644 3796,2648 3809,2650 3820,2646 3828,2644 3837,2636 3842,2632 3840,2626 3838,2619 3834,2610 3832,2600 3829,2590 3822,2586 3809,2584 3799,2577 3791,2574 3782,2573 3771,2575 3764,2571 3758,2565 3755,2575 3752,2584 3752,2590 3752,2597Z"/>
<path fill="#3840a8" d="M3212,2474 3209,2480 3214,2486 3219,2491 3219,2500 3219,2507 3219,2517 3216,2531 3216,2542 3216,2553 3211,2561 3208,2567 3202,2569 3200,2572 3193,2579 3184,2588 3174,2596 3172,2598 3169,2604 3166,2605 3154,2608 3154,2614 3154,2622 3159,2627 3164,2633 3174,2636 3183,2641 3189,2645 3196,2648 3205,2652 3213,2650 3219,2650 3227,2649 3231,2653 3231,2651 3236,2643 3239,2631 3243,2623 3249,2620 3247,2612 3245,2605 3242,2596 3239,2588 3237,2578 3244,2572 3255,2566 3259,2560 3265,2556 3265,2555 3267,2547 3266,2539 3264,2528 3264,2516 3267,2506 3274,2502 3281,2497 3281,2487 3280,2478 3270,2473 3267,2463 3262,2453 3252,2451 3242,2451 3234,2446 3227,2448 3217,2450 3214,2460Z"/>
<path fill="#4068c0" d="M3281,2563 3286,2568 3289,2572 3293,2579 3299,2587 3302,2594 3306,2602 3314,2606 3324,2603 3330,2601 3338,2602 3348,2599 3359,2601 3365,2594 3362,2584 3360,2575 3357,2565 3354,2555 3351,2545 3350,2544 3345,2544 3336,2535 3330,2534 3325,2527 3320,2521 3315,2514 3308,2508 3299,2504 3290,2498 3281,2497 3274,2502 3267,2506 3264,2516 3264,2528 3266,2539 3267,2547 3265,2555 3265,2556Z"/>
<path fill="#4048b8" d="M3281,2563 3265,2556 3259,2560 3255,2566 3244,2572 3237,2578 3239,2588 3242,2596 3245,2605 3247,2612 3249,2620 3243,2623 3239,2631 3236,2643 3231,2651 3231,2653 3238,2661 3247,2670 3249,2671 3259,2675 3268,2679 3275,2681 3282,2684 3289,2687 3296,2689 3305,2692 3314,2697 3323,2689 3319,2680 3315,2671 3311,2662 3307,2653 3304,2644 3306,2642 3306,2632 3306,2622 3306,2612 3305,2602 3306,2602 3302,2594 3299,2587 3293,2579 3289,2572 3286,2568Z"/>
<path fill="#48b8b0" d="M3306,2602 3305,2602 3306,2612 3306,2622 3306,2632 3306,2642 3304,2644 3307,2653 3311,2662 3315,2671 3319,2680 3323,2689 3336,2688 3340,2683 3346,2674 3350,2665 3353,2659 3348,2651 3344,2642 3348,2633 3350,2627 3354,2619 3361,2610 3359,2601 3348,2599 3338,2602 3330,2601 3324,2603 3314,2606Z"/>
<path fill="#3020a0" d="M3365,2594 3359,2601 3361,2610 3371,2618 3379,2624 3385,2629 3390,2634 3396,2639 3403,2644 3406,2635 3407,2630 3408,2623 3413,2614 3424,2614 3432,2612 3440,2607 3449,2605 3451,2599 3453,2592 3459,2586 3453,2578 3448,2571 3447,2567 3439,2565 3430,2566 3419,2566 3411,2559 3408,2552 3404,2546 3393,2551 3386,2551 3378,2549 3364,2553 3354,2550 3351,2545 3354,2555 3357,2565 3360,2575 3362,2584Z"/>
<path fill="#70a038" d="M3468,2591 3459,2586 3453,2592 3451,2599 3449,2605 3440,2607 3432,2612 3424,2614 3413,2614 3408,2623 3407,2630 3406,2635 3403,2644 3403,2647 3413,2646 3421,2647 3431,2645 3439,2639 3444,2630 3450,2620 3457,2624 3465,2629 3473,2633 3481,2638 3490,2633 3496,2625 3494,2618 3487,2612 3480,2605 3474,2599Z"/>
<path fill="#2ca040" d="M3431,2645 3421,2647 3413,2646 3403,2647 3402,2660 3400,2673 3400,2677 3408,2680 3415,2682 3421,2689 3426,2697 3432,2704 3437,2712 3443,2719 3454,2709 3459,2710 3464,2707 3474,2699 3480,2697 3479,2692 3479,2681 3476,2677 3475,2670 3479,2656 3481,2646 3481,2638 3473,2633 3465,2629 3457,2624 3450,2620 3444,2630 3439,2639Z"/>
<path fill="#9c2cb8" d="M3403,2644 3396,2639 3390,2634 3385,2629 3379,2624 3371,2618 3361,2610 3354,2619 3350,2627 3348,2633 3344,2642 3348,2651 3353,2659 3350,2665 3346,2674 3340,2683 3336,2688 3323,2689 3314,2697 3317,2698 3323,2707 3328,2716 3333,2725 3337,2733 3337,2735 3341,2725 3354,2727 3361,2726 3358,2719 3355,2712 3353,2705 3350,2698 3359,2697 3369,2694 3375,2690 3385,2687 3392,2684 3396,2684 3400,2677 3400,2673 3402,2660 3403,2647Z"/>
<path fill="#3c48b0" d="M3644,2666 3640,2661 3635,2655 3629,2648 3624,2640 3614,2639 3610,2645 3601,2644 3597,2654 3591,2661 3589,2662 3575,2663 3567,2666 3558,2661 3549,2666 3551,2678 3552,2686 3545,2691 3536,2701 3529,2704 3525,2711 3516,2723 3513,2731 3511,2743 3512,2754 3521,2756 3527,2755 3538,2751 3545,2751 3551,2750 3564,2752 3566,2745 3566,2737 3570,2731 3575,2724 3580,2718 3582,2711 3591,2707 3604,2706 3607,2703 3614,2702 3624,2702 3626,2695 3626,2687 3630,2678 3637,2672Z"/>
<path fill="#4cb8a8" d="M3624,2640 3629,2648 3635,2655 3640,2661 3644,2666 3637,2672 3630,2678 3626,2687 3626,2695 3624,2702 3631,2709 3637,2713 3642,2715 3649,2719 3659,2718 3663,2712 3674,2711 3683,2714 3691,2716 3699,2718 3704,2712 3710,2708 3712,2700 3713,2695 3721,2689 3728,2679 3731,2674 3728,2662 3724,2657 3718,2655 3709,2650 3698,2644 3690,2639 3689,2632 3688,2625 3686,2618 3684,2610 3677,2610 3667,2613 3654,2606 3647,2606 3639,2610 3627,2607 3626,2618 3627,2632Z"/>
<path fill="#70c038" d="M3842,2632 3837,2636 3828,2644 3820,2646 3809,2650 3796,2648 3792,2644 3788,2640 3779,2639 3768,2635 3760,2631 3747,2632 3738,2640 3737,2647 3735,2657 3728,2662 3731,2674 3739,2681 3748,2685 3757,2689 3763,2698 3769,2707 3774,2716 3779,2724 3784,2725 3788,2729 3797,2725 3806,2716 3817,2719 3827,2715 3835,2714 3839,2718 3849,2712 3857,2711 3865,2708 3876,2701 3878,2696 3878,2692 3887,2685 3893,2679 3890,2668 3889,2657 3888,2646 3888,2636 3888,2628 3888,2622 3883,2617 3880,2609 3877,2601 3873,2593 3868,2585 3863,2577 3857,2569 3843,2577 3837,2582 3829,2590 3832,2600 3834,2610 3838,2619 3840,2626Z"/>
<path fill="#b89040" d="M3843,2783 3840,2774 3836,2766 3833,2757 3829,2748 3825,2738 3821,2729 3817,2719 3806,2716 3797,2725 3788,2729 3784,2725 3779,2724 3770,2727 3763,2729 3755,2740 3745,2746 3741,2750 3734,2755 3726,2753 3729,2761 3731,2768 3733,2776 3739,2779 3748,2782 3757,2784 3761,2790 3765,2797 3767,2805 3775,2808 3784,2806 3792,2803 3795,2792 3798,2779 3806,2774 3815,2777 3826,2779 3833,2783Z"/>
<path fill="#3088b0" d="M3527,2795 3534,2801 3540,2807 3546,2813 3547,2815 3553,2822 3559,2831 3565,2840 3568,2848 3572,2856 3575,2863 3578,2870 3589,2872 3602,2865 3608,2870 3612,2876 3611,2866 3610,2857 3609,2847 3605,2840 3602,2833 3601,2829 3612,2826 3618,2828 3627,2818 3640,2816 3643,2823 3647,2829 3653,2824 3664,2829 3671,2834 3679,2833 3692,2834 3702,2829 3696,2823 3689,2817 3683,2810 3677,2802 3671,2792 3660,2791 3655,2796 3647,2793 3640,2795 3634,2796 3629,2795 3623,2789 3615,2786 3607,2786 3597,2784 3597,2777 3589,2773 3581,2769 3573,2762 3565,2754 3564,2752 3551,2750 3545,2751 3538,2751 3527,2755 3521,2756 3512,2754 3508,2761 3504,2769 3503,2776 3509,2782 3518,2787 3526,2794Z"/>
<path fill="#8c30b8" d="M3733,2776 3732,2790 3727,2800 3723,2805 3721,2811 3719,2818 3715,2824 3722,2827 3728,2829 3738,2833 3746,2831 3754,2828 3765,2828 3771,2836 3776,2844 3780,2852 3784,2859 3788,2866 3785,2856 3793,2857 3798,2848 3801,2839 3803,2835 3811,2830 3824,2823 3829,2823 3840,2816 3839,2809 3840,2804 3845,2796 3850,2784 3843,2783 3833,2783 3826,2779 3815,2777 3806,2774 3798,2779 3795,2792 3792,2803 3784,2806 3775,2808 3767,2805 3765,2797 3761,2790 3757,2784 3748,2782 3739,2779Z"/>
<path fill="#7c2cb8" d="M3707,2835 3704,2847 3702,2857 3698,2863 3703,2869 3706,2875 3710,2881 3713,2887 3713,2887 3714,2893 3714,2901 3714,2909 3716,2919 3718,2929 3725,2930 3730,2919 3736,2924 3744,2927 3753,2924 3763,2925 3763,2917 3762,2905 3761,2895 3764,2888 3769,2884 3771,2878 3782,2878 3789,2869 3788,2866 3784,2859 3780,2852 3776,2844 3771,2836 3765,2828 3754,2828 3746,2831 3738,2833 3728,2829 3722,2827 3715,2824 3706,2830Z"/>
<path fill="#3cb090" d="M3764,2888 3761,2895 3762,2905 3763,2917 3763,2925 3766,2926 3768,2918 3770,2911 3771,2901 3771,2891 3777,2890 3789,2889 3791,2881 3789,2869 3782,2878 3771,2878 3769,2884Z"/>
<path fill="#b0a444" d="M3825,2388 3830,2395 3834,2403 3837,2409 3840,2415 3844,2420 3852,2419 3866,2422 3875,2423 3883,2422 3893,2425 3901,2426 3902,2436 3901,2445 3901,2455 3901,2467 3901,2477 3909,2477 3919,2479 3931,2486 3941,2492 3946,2493 3948,2500 3949,2508 3950,2515 3951,2515 3961,2519 3973,2525 3980,2527 3986,2531 3993,2539 4004,2536 4007,2530 4018,2535 4032,2536 4038,2537 4049,2539 4058,2531 4055,2519 4052,2510 4051,2503 4052,2495 4054,2487 4055,2479 4056,2471 4048,2470 4039,2465 4034,2458 4026,2452 4018,2448 4008,2445 4000,2439 3996,2433 3994,2425 3997,2415 4001,2403 4002,2392 4003,2384 3997,2379 3992,2371 3986,2364 3979,2358 3970,2353 3959,2347 3948,2355 3942,2368 3936,2373 3937,2378 3933,2387 3923,2393 3917,2402 3913,2413 3903,2415 3897,2407 3891,2400 3887,2393 3884,2386 3881,2379 3878,2373 3876,2366 3870,2361 3859,2355 3851,2355 3844,2358 3834,2366 3830,2378 3825,2384Z"/>
<path fill="#ac284c" d="M4182,2423 4183,2414 4181,2407 4179,2399 4178,2391 4178,2382 4169,2373 4161,2364 4153,2360 4150,2365 4144,2365 4135,2369 4128,2373 4118,2373 4112,2385 4110,2394 4110,2400 4101,2402 4093,2403 4081,2398 4066,2399 4058,2390 4052,2382 4046,2375 4040,2367 4035,2365 4024,2369 4014,2374 4010,2377 4003,2384 4002,2392 4001,2403 3997,2415 3994,2425 3996,2433 4000,2439 4008,2445 4018,2448 4026,2452 4034,2458 4039,2465 4048,2470 4056,2471 4055,2479 4054,2487 4052,2495 4051,2503 4052,2510 4055,2519 4058,2531 4060,2535 4066,2537 4079,2540 4091,2542 4099,2547 4109,2550 4117,2550 4116,2539 4114,2529 4114,2517 4116,2503 4117,2492 4116,2485 4119,2488 4133,2481 4140,2479 4146,2470 4158,2461 4158,2458 4156,2453 4157,2446 4168,2438 4173,2432Z"/>
<path fill="#b87830" d="M4262,2425 4258,2419 4253,2413 4248,2407 4243,2401 4237,2394 4232,2386 4226,2377 4221,2368 4216,2359 4208,2361 4202,2369 4190,2373 4178,2382 4178,2391 4179,2399 4181,2407 4183,2414 4182,2423 4173,2432 4168,2438 4157,2446 4156,2453 4158,2458 4158,2461 4146,2470 4140,2479 4133,2481 4119,2488 4116,2485 4117,2492 4116,2503 4114,2517 4114,2529 4116,2539 4117,2550 4122,2555 4128,2561 4134,2566 4143,2567 4153,2562 4164,2558 4171,2560 4177,2554 4185,2555 4192,2552 4204,2545 4213,2541 4217,2534 4221,2529 4221,2523 4220,2516 4218,2506 4217,2495 4222,2486 4225,2478 4233,2471 4240,2469 4243,2462 4250,2452 4254,2446 4260,2431Z"/>
<path fill="#304c9c" d="M4280,2513 4276,2506 4272,2498 4269,2490 4265,2482 4261,2474 4258,2467 4254,2459 4250,2452 4243,2462 4240,2469 4233,2471 4225,2478 4222,2486 4217,2495 4218,2506 4220,2516 4221,2523 4221,2529 4217,2534 4213,2541 4219,2547 4227,2554 4235,2564 4243,2573 4244,2581 4244,2590 4246,2598 4248,2606 4257,2606 4270,2599 4281,2602 4282,2600 4291,2598 4301,2604 4302,2595 4312,2588 4323,2586 4321,2575 4319,2563 4308,2559 4295,2553 4291,2546 4287,2538 4283,2531 4280,2523Z"/>
<path fill="#304c9c" d="M4409,2456 4406,2449 4400,2456 4394,2464 4392,2469 4390,2475 4382,2481 4375,2486 4368,2494 4361,2501 4357,2508 4352,2515 4347,2522 4339,2528 4331,2534 4328,2541 4325,2547 4321,2552 4319,2563 4321,2575 4323,2586 4312,2588 4302,2595 4301,2604 4301,2609 4298,2615 4296,2627 4296,2639 4295,2647 4291,2654 4287,2661 4285,2668 4293,2674 4301,2680 4308,2684 4315,2688 4324,2683 4329,2675 4334,2666 4339,2663 4337,2655 4337,2647 4337,2640 4337,2631 4337,2619 4336,2605 4338,2594 4350,2599 4355,2596 4364,2596 4376,2600 4381,2606 4386,2613 4392,2620 4399,2627 4407,2632 4418,2629 4428,2627 4438,2626 4439,2637 4440,2647 4441,2657 4442,2667 4443,2676 4445,2686 4448,2695 4451,2705 4453,2714 4461,2711 4467,2706 4477,2698 4481,2686 4491,2688 4501,2682 4507,2680 4518,2672 4524,2661 4533,2658 4528,2649 4522,2642 4519,2637 4524,2629 4527,2623 4532,2617 4540,2609 4542,2604 4539,2597 4536,2590 4535,2589 4535,2577 4535,2567 4544,2566 4539,2557 4532,2548 4530,2540 4529,2530 4520,2529 4512,2529 4509,2524 4500,2524 4491,2523 4489,2522 4485,2513 4479,2505 4463,2509 4447,2508 4442,2502 4437,2495 4432,2488 4427,2482 4420,2475 4424,2466 4416,2461Z"/>
<path fill="#3474a0" d="M4243,2573 4235,2564 4227,2554 4219,2547 4213,2541 4204,2545 4192,2552 4185,2555 4177,2554 4171,2560 4164,2558 4153,2562 4143,2567 4134,2566 4128,2561 4122,2555 4117,2550 4109,2550 4099,2547 4091,2542 4079,2540 4066,2537 4060,2535 4058,2531 4049,2539 4038,2537 4032,2536 4018,2535 4007,2530 4004,2536 3993,2539 3994,2548 3996,2557 3999,2565 4002,2574 4004,2582 4005,2589 4006,2595 4006,2600 4007,2602 4005,2609 4004,2622 4002,2635 3997,2645 3995,2654 3998,2661 4001,2667 4009,2673 4017,2678 4025,2681 4035,2686 4047,2691 4055,2691 4060,2691 4067,2688 4073,2684 4079,2683 4089,2689 4103,2685 4108,2682 4121,2685 4133,2681 4137,2685 4148,2686 4155,2680 4158,2687 4161,2695 4164,2700 4167,2705 4172,2711 4178,2718 4187,2723 4197,2727 4208,2729 4217,2732 4222,2727 4227,2718 4231,2707 4233,2699 4236,2692 4240,2687 4247,2681 4256,2672 4265,2669 4273,2665 4280,2664 4285,2668 4287,2661 4291,2654 4295,2647 4296,2639 4296,2627 4298,2615 4301,2609 4301,2604 4291,2598 4282,2600 4281,2602 4270,2599 4257,2606 4248,2606 4246,2598 4244,2590 4244,2581Z"/>
<path fill="#68b030" d="M3844,2420 3845,2428 3842,2433 3839,2442 3837,2455 3843,2461 3850,2466 3857,2472 3864,2478 3871,2484 3879,2491 3874,2500 3870,2508 3863,2511 3861,2519 3861,2531 3863,2544 3866,2549 3865,2556 3863,2562 3857,2569 3863,2577 3868,2585 3873,2593 3877,2601 3880,2609 3883,2617 3888,2622 3888,2628 3888,2636 3888,2646 3889,2657 3890,2668 3893,2679 3899,2673 3910,2668 3920,2671 3927,2670 3935,2667 3941,2666 3939,2655 3937,2643 3936,2632 3935,2622 3934,2613 3932,2604 3930,2594 3937,2591 3948,2597 3956,2599 3962,2597 3973,2599 3985,2602 3992,2601 3999,2600 4006,2600 4006,2595 4005,2589 4004,2582 4002,2574 3999,2565 3996,2557 3994,2548 3993,2539 3986,2531 3980,2527 3973,2525 3961,2519 3951,2515 3950,2515 3949,2508 3948,2500 3946,2493 3941,2492 3931,2486 3919,2479 3909,2477 3901,2477 3901,2467 3901,2455 3901,2445 3902,2436 3901,2426 3893,2425 3883,2422 3875,2423 3866,2422 3852,2419Z"/>
<path fill="#c0446c" d="M3941,2666 3935,2667 3927,2670 3920,2671 3910,2668 3899,2673 3893,2679 3887,2685 3878,2692 3878,2696 3876,2701 3878,2704 3885,2711 3890,2718 3895,2722 3903,2724 3911,2728 3918,2735 3925,2741 3932,2745 3943,2742 3950,2732 3962,2724 3966,2726 3970,2722 3977,2721 3987,2729 3992,2731 3998,2729 4009,2732 4020,2735 4026,2735 4022,2746 4010,2750 4004,2760 4005,2770 4001,2776 3997,2788 4002,2791 4008,2795 4016,2792 4022,2791 4032,2787 4043,2785 4053,2781 4063,2778 4066,2771 4066,2760 4071,2753 4076,2745 4072,2737 4067,2730 4062,2724 4063,2713 4062,2701 4060,2691 4055,2691 4047,2691 4035,2686 4025,2681 4017,2678 4009,2673 4001,2667 3998,2661 3995,2654 3997,2645 4002,2635 4004,2622 4005,2609 4007,2602 4006,2600 3999,2600 3992,2601 3985,2602 3973,2599 3962,2597 3956,2599 3948,2597 3937,2591 3930,2594 3932,2604 3934,2613 3935,2622 3936,2632 3937,2643 3939,2655Z"/>
<path fill="#b84444" d="M4062,2724 4067,2730 4072,2737 4076,2745 4090,2749 4100,2756 4108,2762 4107,2771 4108,2779 4110,2789 4112,2798 4115,2809 4124,2809 4137,2812 4150,2813 4159,2813 4160,2803 4160,2791 4164,2783 4172,2779 4183,2778 4193,2778 4204,2771 4211,2763 4217,2757 4223,2747 4220,2739 4217,2732 4208,2729 4197,2727 4187,2723 4178,2718 4172,2711 4167,2705 4164,2700 4161,2695 4158,2687 4155,2680 4148,2686 4137,2685 4133,2681 4121,2685 4108,2682 4103,2685 4089,2689 4079,2683 4073,2684 4067,2688 4060,2691 4062,2701 4063,2713Z"/>
<path fill="#b42830" d="M4285,2668 4280,2664 4273,2665 4265,2669 4256,2672 4247,2681 4240,2687 4236,2692 4233,2699 4231,2707 4227,2718 4222,2727 4217,2732 4220,2739 4223,2747 4217,2757 4217,2765 4219,2775 4220,2786 4220,2796 4219,2805 4219,2810 4223,2819 4230,2825 4239,2828 4248,2829 4254,2833 4258,2833 4263,2834 4276,2829 4282,2830 4286,2834 4297,2834 4305,2834 4307,2825 4317,2810 4325,2802 4326,2804 4332,2805 4344,2808 4349,2812 4357,2809 4371,2807 4377,2802 4387,2798 4388,2792 4394,2791 4395,2784 4405,2779 4396,2773 4388,2766 4383,2763 4380,2760 4375,2754 4367,2747 4356,2741 4347,2737 4343,2731 4340,2724 4333,2718 4326,2711 4320,2704 4318,2696 4315,2688 4308,2684 4301,2680 4293,2674ZM4271,2889 4271,2887 4262,2884 4253,2881 4245,2877 4235,2872 4224,2875 4220,2882 4217,2890 4215,2895 4221,2901 4226,2908 4232,2915 4240,2921 4248,2926 4257,2918 4264,2912 4271,2904 4272,2892Z"/>
<path fill="#c84454" d="M4339,2663 4334,2666 4329,2675 4324,2683 4315,2688 4318,2696 4320,2704 4326,2711 4333,2718 4340,2724 4343,2731 4347,2737 4356,2741 4367,2747 4375,2754 4380,2760 4383,2763 4388,2766 4396,2773 4405,2779 4408,2777 4404,2769 4401,2759 4405,2749 4417,2747 4425,2745 4420,2746 4424,2740 4427,2733 4430,2724 4431,2710 4431,2704 4439,2707 4453,2714 4451,2705 4448,2695 4445,2686 4443,2676 4442,2667 4441,2657 4440,2647 4439,2637 4438,2626 4428,2627 4418,2629 4407,2632 4399,2627 4392,2620 4386,2613 4381,2606 4376,2600 4364,2596 4355,2596 4350,2599 4338,2594 4336,2605 4337,2619 4337,2631 4337,2640 4337,2647 4337,2655Z"/>
<path fill="#48b048" d="M4200,2821 4188,2836 4197,2841 4205,2846 4210,2851 4214,2858 4218,2867 4224,2875 4235,2872 4245,2877 4253,2881 4262,2884 4271,2887 4272,2879 4274,2868 4283,2866 4291,2865 4302,2861 4314,2858 4319,2863 4324,2868 4330,2871 4335,2875 4336,2878 4339,2887 4339,2896 4338,2906 4338,2915 4330,2920 4318,2922 4312,2929 4315,2937 4319,2945 4322,2953 4326,2951 4331,2951 4341,2951 4355,2945 4363,2940 4371,2923 4371,2922 4372,2913 4379,2902 4383,2897 4386,2892 4390,2886 4394,2879 4390,2870 4386,2860 4386,2856 4388,2846 4394,2838 4394,2829 4394,2820 4390,2811 4387,2803 4387,2798 4377,2802 4371,2807 4357,2809 4349,2812 4344,2808 4332,2805 4326,2804 4325,2802 4317,2810 4307,2825 4305,2834 4297,2834 4286,2834 4282,2830 4276,2829 4263,2834 4258,2833 4254,2833 4248,2829 4239,2828 4230,2825 4223,2819 4219,2810 4215,2814 4206,2820Z"/>
<path fill="#40a880" d="M4063,2778 4063,2785 4064,2793 4065,2801 4066,2809 4067,2817 4073,2823 4081,2831 4079,2838 4078,2847 4078,2858 4082,2865 4086,2871 4096,2867 4107,2866 4112,2861 4122,2864 4131,2858 4136,2847 4150,2848 4157,2840 4165,2844 4170,2843 4173,2838 4178,2834 4188,2836 4200,2821 4206,2820 4215,2814 4219,2810 4219,2805 4220,2796 4220,2786 4219,2775 4217,2765 4217,2757 4211,2763 4204,2771 4193,2778 4183,2778 4172,2779 4164,2783 4160,2791 4160,2803 4159,2813 4150,2813 4137,2812 4124,2809 4115,2809 4112,2798 4110,2789 4108,2779 4107,2771 4108,2762 4100,2756 4090,2749 4076,2745 4071,2753 4066,2760 4066,2771Z"/>
<path fill="#7c34c0" d="M4006,2849 4009,2854 4012,2860 4013,2869 4013,2878 4012,2886 4015,2891 4020,2899 4026,2905 4028,2915 4031,2925 4034,2934 4043,2936 4054,2940 4061,2945 4062,2944 4067,2931 4078,2925 4081,2919 4081,2906 4090,2904 4094,2896 4090,2884 4086,2871 4082,2865 4078,2858 4078,2847 4079,2838 4081,2831 4073,2823 4067,2817 4066,2809 4065,2801 4064,2793 4063,2785 4063,2778 4053,2781 4043,2785 4032,2787 4022,2791 4016,2792 4008,2795 4009,2805 4011,2813 4012,2820 4011,2826 4011,2833Z"/>
<path fill="#3c28a8" d="M3996,2788 3988,2790 3971,2792 3963,2795 3954,2795 3951,2807 3951,2815 3953,2824 3953,2835 3953,2845 3947,2851 3946,2858 3944,2867 3944,2878 3945,2886 3945,2892 3943,2899 3948,2904 3954,2908 3958,2915 3963,2922 3959,2932 3958,2939 3958,2947 3955,2959 3951,2972 3951,2979 3959,2979 3972,2975 3978,2977 3985,2977 3997,2974 4002,2972 4002,2965 4005,2954 4011,2949 4016,2939 4030,2933 4034,2934 4031,2925 4028,2915 4026,2905 4020,2899 4015,2891 4012,2886 4013,2878 4013,2869 4012,2860 4009,2854 4006,2849 4011,2833 4011,2826 4012,2820 4011,2813 4009,2805 4008,2795 4002,2791 3997,2788 4001,2776 4005,2770 4004,2760 4010,2750 4022,2746 4026,2735 4020,2735 4009,2732 3998,2729 3992,2731 3987,2729 3977,2721 3970,2722 3966,2726 3971,2734 3976,2743 3980,2753 3984,2762 3988,2771 3992,2779Z"/>
<path fill="#c03850" d="M3962,2724 3950,2732 3943,2742 3932,2745 3929,2751 3928,2758 3932,2766 3936,2773 3941,2780 3947,2787 3954,2795 3963,2795 3971,2792 3988,2790 3996,2788 3992,2779 3988,2771 3984,2762 3980,2753 3976,2743 3971,2734 3966,2726Z"/>
<path fill="#44b0a0" d="M3932,2745 3925,2741 3918,2735 3911,2728 3903,2724 3895,2722 3890,2718 3885,2711 3878,2704 3877,2715 3877,2727 3877,2738 3877,2747 3877,2754 3877,2761 3877,2767 3878,2774 3883,2782 3889,2787 3890,2796 3894,2806 3897,2813 3898,2823 3894,2835 3898,2844 3908,2842 3915,2841 3923,2846 3930,2849 3939,2849 3947,2851 3953,2845 3953,2835 3953,2824 3951,2815 3951,2807 3954,2795 3947,2787 3941,2780 3936,2773 3932,2766 3928,2758 3929,2751Z"/>
<path fill="#7844b8" d="M3876,2701 3865,2708 3857,2711 3849,2712 3839,2718 3835,2714 3827,2715 3817,2719 3821,2729 3825,2738 3829,2748 3833,2757 3836,2766 3840,2774 3843,2783 3850,2784 3845,2796 3840,2804 3839,2809 3840,2816 3829,2823 3824,2823 3811,2830 3803,2835 3801,2839 3798,2848 3793,2857 3805,2855 3813,2856 3823,2862 3833,2869 3842,2875 3849,2879 3851,2877 3860,2874 3869,2875 3877,2875 3882,2874 3886,2877 3889,2868 3892,2858 3895,2851 3898,2844 3894,2835 3898,2823 3897,2813 3894,2806 3890,2796 3889,2787 3883,2782 3878,2774 3877,2767 3877,2761 3877,2754 3877,2747 3877,2738 3877,2727 3877,2715 3878,2704Z"/>
<path fill="#38b898" d="M4153,2895 4157,2887 4163,2875 4163,2859 4162,2848 4165,2844 4157,2840 4150,2848 4136,2847 4131,2858 4122,2864 4112,2861 4107,2866 4096,2867 4086,2871 4090,2884 4094,2896 4090,2904 4081,2906 4081,2919 4078,2925 4067,2931 4062,2944 4061,2945 4060,2951 4055,2959 4054,2967 4059,2973 4063,2979 4069,2986 4074,2993 4076,2990 4084,2985 4080,2987 4092,2985 4103,2976 4108,2973 4115,2970 4120,2966 4126,2964 4125,2958 4125,2953 4124,2946 4125,2938 4138,2929 4141,2918 4149,2911 4153,2904 4153,2904Z"/>
<path fill="#7c28a8" d="M4188,2836 4178,2834 4173,2838 4170,2843 4165,2844 4162,2848 4163,2859 4163,2875 4157,2887 4153,2895 4153,2904 4156,2908 4162,2913 4170,2920 4178,2927 4187,2934 4190,2942 4188,2950 4188,2960 4196,2963 4205,2964 4216,2964 4225,2966 4236,2968 4250,2971 4262,2979 4262,2968 4260,2958 4257,2951 4253,2945 4249,2939 4245,2933 4247,2929 4248,2926 4240,2921 4232,2915 4226,2908 4221,2901 4215,2895 4217,2890 4220,2882 4224,2875 4218,2867 4214,2858 4210,2851 4205,2846 4197,2841Z"/>
<path fill="#b0b048" d="M4314,2858 4302,2861 4291,2865 4283,2866 4274,2868 4272,2879 4271,2887 4271,2889 4272,2892 4271,2904 4264,2912 4257,2918 4248,2926 4247,2929 4245,2933 4249,2939 4253,2945 4257,2951 4260,2958 4266,2953 4272,2948 4279,2943 4288,2942 4295,2938 4300,2933 4307,2929 4309,2928 4312,2929 4318,2922 4330,2920 4338,2915 4338,2906 4339,2896 4339,2887 4336,2878 4335,2875 4330,2871 4324,2868 4319,2863Z"/>
<path fill="#2828b8" d="M3947,3012 3949,3002 3953,2992 3954,2984 3951,2978 3947,2974 3935,2975 3925,2970 3917,2964 3907,2965 3894,2969 3890,2973 3885,2972 3877,2971 3869,2964 3861,2960 3850,2959 3842,2957 3833,2957 3829,2966 3827,2974 3826,2980 3823,2984 3818,2991 3807,2995 3806,3007 3805,3020 3804,3024 3795,3029 3791,3036 3792,3046 3784,3052 3783,3052 3795,3056 3799,3062 3802,3069 3807,3076 3811,3083 3818,3092 3826,3100 3833,3106 3839,3109 3846,3113 3855,3119 3863,3124 3864,3125 3874,3124 3883,3126 3891,3121 3895,3119 3901,3119 3910,3118 3913,3118 3922,3124 3933,3127 3942,3127 3946,3132 3951,3137 3959,3128 3964,3117 3966,3112 3971,3105 3978,3099 3986,3096 3989,3090 3991,3083 3995,3076 3999,3071 3992,3066 3984,3062 3975,3057 3967,3050 3958,3044 3951,3041 3945,3039 3938,3034 3944,3023Z"/>
<path fill="#6828a0" d="M4187,2960 4188,2960 4188,2950 4190,2942 4187,2934 4178,2927 4170,2920 4162,2913 4156,2908 4153,2904 4153,2904 4149,2911 4141,2918 4138,2929 4125,2938 4124,2946 4125,2953 4125,2958 4126,2964 4126,2965 4133,2968 4141,2969 4155,2965 4164,2962 4170,2958 4176,2959 4185,2960Z"/>
<path fill="#a44478" d="M4260,2958 4262,2968 4262,2979 4263,2979 4266,2966 4270,2971 4275,2979 4274,2986 4274,2988 4275,3002 4279,3006 4283,3012 4286,3020 4291,3027 4295,3034 4306,3027 4313,3017 4318,3016 4333,3013 4338,3015 4350,3008 4349,2994 4346,2982 4340,2974 4335,2966 4323,2966 4317,2961 4314,2958 4315,2954 4322,2953 4319,2945 4315,2937 4312,2929 4309,2928 4307,2929 4300,2933 4295,2938 4288,2942 4279,2943 4272,2948 4266,2953Z"/>
<path fill="#ffff00" d="M1780,482 1793,485 1783,492 1783,503 1783,512 1787,518 1791,523 1799,521 1808,525 1817,531 1830,530 1843,532 1840,525 1838,518 1832,513 1824,506 1815,511 1807,514 1793,508 1795,501 1798,497 1804,487 1799,485 1792,480 1796,471 1788,466 1776,467 1778,475Z"/>
<path fill="#3cac80" d="M3776,3023 3779,3020 3778,3013 3781,3005 3789,2999 3793,2990 3796,2980 3798,2971 3797,2964 3796,2956 3797,2948 3797,2937 3799,2926 3803,2918 3809,2913 3814,2905 3816,2894 3818,2887 3820,2880 3821,2872 3821,2866 3823,2862 3813,2856 3806,2855 3794,2857 3785,2856 3789,2867 3791,2880 3789,2889 3777,2890 3771,2891 3771,2901 3770,2911 3768,2918 3766,2926 3755,2924 3744,2927 3736,2924 3730,2919 3726,2927 3725,2940 3727,2954 3730,2963 3734,2970 3731,2975 3726,2981 3728,2984 3730,2993 3733,3001 3735,3009 3738,3016 3738,3025 3738,3034 3739,3043 3741,3052 3737,3053 3729,3053 3724,3056 3723,3063 3720,3069 3731,3077 3736,3072 3747,3070 3752,3071 3757,3060 3769,3061 3774,3060 3774,3049 3774,3038 3775,3030Z"/>
<path fill="#c028c8" d="M3804,3024 3805,3014 3806,3004 3807,2995 3818,2991 3823,2984 3826,2980 3827,2974 3829,2965 3834,2956 3840,2945 3845,2939 3846,2929 3846,2917 3846,2907 3848,2901 3853,2892 3858,2882 3849,2879 3842,2875 3833,2869 3823,2862 3821,2866 3821,2872 3820,2880 3818,2887 3816,2894 3814,2905 3809,2913 3803,2918 3799,2926 3797,2937 3797,2948 3796,2956 3797,2964 3798,2971 3796,2980 3793,2990 3789,2999 3781,3005 3778,3013 3779,3020 3776,3023 3775,3030 3774,3039 3773,3050 3773,3061 3783,3052 3784,3052 3792,3046 3791,3036 3795,3029Z"/>
<path fill="#2c68c4" d="M3433,1299 3437,1304 3441,1310 3441,1317 3440,1324 3440,1333 3441,1342 3445,1350 3447,1361 3452,1369 3456,1379 3459,1387 3462,1395 3466,1403 3470,1411 3475,1419 3484,1424 3493,1431 3498,1432 3507,1432 3520,1436 3514,1424 3513,1414 3514,1403 3520,1398 3525,1392 3527,1382 3531,1375 3537,1368 3543,1357 3551,1353 3559,1351 3566,1348 3565,1343 3559,1337 3552,1333 3545,1332 3540,1322 3534,1325 3524,1322 3513,1323 3511,1315 3509,1307 3507,1300 3505,1292 3498,1285 3489,1278 3480,1273 3462,1272 3453,1261 3446,1265 3444,1271 3437,1276 3432,1288Z"/>
<path fill="#e40000" d="M3359,1318 3367,1326 3375,1330 3384,1332 3395,1338 3389,1342 3386,1349 3395,1351 3406,1356 3418,1358 3427,1363 3429,1369 3430,1376 3428,1385 3439,1391 3446,1394 3453,1398 3459,1402 3463,1412 3467,1421 3474,1424 3484,1427 3495,1433 3499,1437 3503,1439 3514,1443 3525,1449 3523,1443 3520,1436 3507,1432 3498,1432 3493,1431 3484,1424 3475,1419 3470,1411 3466,1403 3462,1395 3459,1387 3456,1379 3452,1369 3447,1361 3445,1350 3441,1342 3440,1333 3440,1324 3441,1317 3441,1310 3437,1304 3433,1299 3420,1295 3406,1294 3399,1296 3393,1293 3387,1298 3385,1306 3381,1306 3368,1310 3359,1311Z"/>
<path fill="#6038b8" d="M1568,1573 1561,1578 1556,1579 1557,1590 1559,1603 1561,1614 1562,1619 1552,1620 1541,1625 1543,1634 1546,1642 1550,1651 1553,1660 1547,1671 1542,1672 1550,1679 1557,1687 1562,1694 1566,1700 1570,1705 1575,1694 1578,1686 1580,1672 1586,1663 1584,1657 1582,1652 1586,1649 1588,1636 1590,1625 1588,1618 1583,1615 1578,1614 1573,1612 1572,1600 1573,1586 1576,1575Z"/>
<path fill="#30a048" d="M1573,1612 1578,1614 1583,1615 1588,1618 1597,1611 1608,1606 1616,1600 1613,1598 1607,1590 1600,1584 1593,1580 1581,1578 1576,1575 1573,1586 1572,1600Z"/>
<path fill="#28a048" d="M1652,1620 1651,1607 1653,1598 1645,1591 1635,1595 1631,1597 1625,1600 1616,1600 1608,1606 1597,1611 1588,1618 1590,1625 1599,1631 1610,1635 1620,1637 1628,1635 1635,1631 1640,1623 1646,1623Z"/>
<path fill="#68ac30" d="M1664,1632 1667,1648 1675,1658 1681,1668 1681,1669 1685,1679 1687,1689 1689,1688 1692,1693 1694,1697 1696,1684 1705,1679 1710,1675 1712,1668 1709,1659 1707,1650 1713,1648 1720,1637 1711,1639 1705,1629 1699,1619 1690,1613 1683,1606 1671,1608 1658,1603 1653,1598 1651,1607 1652,1620 1658,1626Z"/>
<path fill="#68ac30" d="M1664,1632 1658,1626 1652,1620 1646,1623 1640,1623 1635,1631 1628,1635 1620,1637 1622,1648 1625,1660 1625,1670 1629,1677 1633,1684 1632,1690 1630,1697 1640,1698 1645,1701 1652,1696 1665,1695 1670,1694 1676,1691 1687,1689 1685,1679 1681,1669 1681,1668 1675,1658 1667,1648Z"/>
<path fill="#6038b8" d="M1620,1637 1610,1635 1599,1631 1590,1625 1588,1636 1586,1649 1582,1652 1584,1657 1586,1663 1580,1672 1578,1686 1575,1694 1570,1705 1571,1706 1581,1703 1586,1700 1594,1695 1595,1703 1596,1711 1607,1704 1616,1700 1618,1695 1630,1697 1632,1690 1633,1684 1629,1677 1625,1670 1625,1660 1622,1648Z"/>
<path fill="#68c458" d="M1794,1562 1800,1562 1807,1562 1814,1567 1820,1574 1818,1580 1804,1588 1801,1589 1806,1597 1798,1603 1789,1609 1795,1619 1791,1615 1782,1613 1776,1603 1778,1593 1779,1589 1783,1581 1783,1572 1783,1563Z"/>
<path fill="#68c458" d="M1756,1601 1767,1606 1764,1612 1765,1617 1756,1612Z"/>
<path fill="#b8c050" d="M2012,1500 2023,1499 2026,1508 2017,1512 2010,1505Z"/>
<path fill="#48c038" d="M2069,1985 2078,1979 2083,1981 2091,1984 2112,1983 2119,1991 2122,2001 2120,2010 2118,2019 2111,2024 2108,2027 2097,2028 2087,2035 2082,2033 2065,2037 2067,2030 2067,2025 2075,2013 2075,2006 2073,2000 2070,1992Z"/>
<path fill="#48c038" d="M2112,1983 2122,1989 2127,1992 2134,1993 2143,1992 2146,1993 2156,1983 2167,1982 2171,1986 2174,1997 2170,1998 2162,2002 2161,2013 2154,2019 2152,2027 2151,2021 2144,2018 2137,2017 2129,2018 2122,2014 2118,2019 2120,2010 2122,2001 2119,1991Z"/>
<g class="ol">
<path d="M2048,391 2037,390 2031,398 2028,400 2022,405 2018,419 2013,426 2009,432 2008,441 2013,450 2019,460 2017,471 2014,484 2014,493 2015,500 2017,505 2023,510 2033,508 2042,505 2047,505 2056,503 2065,505 2071,510 2080,510 2092,515 2099,504 2105,493 2111,486 2116,483 2125,478 2123,469 2122,460 2121,451 2119,443 2116,434 2116,424 2124,419 2128,419 2125,411 2124,403 2122,395 2117,389 2108,382 2099,380 2091,378 2085,372 2078,365 2072,362 2071,364 2069,369 2062,375 2054,386Z"/>
<path d="M1695,508 1696,517 1697,527 1699,538 1701,548 1704,557 1715,556 1725,558 1731,561 1737,567 1743,573 1744,583 1744,592 1745,601 1746,609 1747,616 1748,623 1755,622 1770,619 1779,621 1783,616 1794,610 1798,606 1808,601 1821,605 1819,596 1815,587 1811,577 1807,566 1802,556 1800,545 1800,534 1802,523 1803,522 1791,523 1787,518 1783,512 1783,503 1783,492 1784,490 1781,483 1772,486 1761,480 1750,477 1746,472 1742,467 1736,468 1725,468 1714,470 1706,472 1697,472 1689,474 1683,475 1683,481 1682,490 1682,499 1688,504Z"/>
<path d="M2588,329 2583,326 2576,326 2569,328 2565,330 2556,334 2547,341 2541,350 2527,350 2518,349 2513,342 2505,347 2497,350 2488,354 2475,355 2468,360 2469,369 2470,377 2471,384 2471,391 2475,393 2479,401 2484,409 2489,417 2493,424 2498,431 2504,432 2512,438 2517,446 2520,452 2524,457 2527,466 2524,469 2517,478 2524,485 2532,493 2540,502 2547,510 2553,517 2562,514 2567,510 2568,504 2574,497 2584,499 2592,498 2602,500 2614,502 2620,502 2627,499 2629,496 2628,486 2626,477 2625,467 2624,457 2617,456 2609,455 2603,455 2600,442 2599,430 2600,420 2603,413 2613,404 2616,400 2615,391 2617,379 2616,366 2621,361 2618,352 2616,344 2613,337 2609,330 2595,330Z"/>
<path d="M1692,953 1694,961 1697,969 1700,977 1694,982 1690,988 1688,995 1687,1002 1677,1003 1667,1006 1654,1004 1643,1007 1645,1015 1647,1023 1650,1031 1653,1040 1660,1041 1666,1052 1673,1059 1680,1066 1686,1072 1689,1076 1694,1083 1698,1090 1703,1097 1708,1106 1714,1114 1720,1121 1727,1128 1733,1133 1736,1136 1740,1141 1744,1146 1750,1154 1756,1162 1763,1171 1770,1180 1778,1190 1783,1198 1788,1206 1792,1214 1796,1222 1799,1230 1811,1224 1812,1217 1810,1208 1807,1197 1808,1187 1802,1183 1798,1184 1789,1181 1777,1175 1779,1167 1780,1159 1781,1148 1782,1137 1783,1127 1783,1118 1781,1110 1783,1107 1787,1105 1790,1103 1791,1093 1792,1082 1793,1072 1795,1064 1796,1056 1792,1051 1790,1042 1787,1033 1783,1025 1779,1018 1777,1012 1777,1005 1778,997 1778,987 1778,976 1783,969 1785,960 1779,953 1772,945 1764,937 1757,929 1750,921 1744,914 1739,907 1734,901 1728,910 1717,915 1709,917 1702,926 1693,927 1693,939Z"/>
<path d="M2270,663 2265,657 2260,651 2255,646 2249,640 2245,647 2240,653 2231,659 2222,660 2216,664 2210,669 2203,674 2197,684 2188,689 2178,689 2181,697 2185,705 2182,713 2183,721 2184,730 2184,740 2184,751 2183,761 2179,770 2179,770 2172,778 2175,786 2178,795 2182,802 2184,810 2187,817 2198,817 2211,813 2216,815 2228,810 2230,800 2230,792 2227,785 2224,777 2223,768 2224,758 2236,758 2238,748 2248,739 2255,738 2262,733 2275,736 2284,741 2289,732 2300,729 2305,720 2302,710 2299,701 2296,693 2294,686 2292,680 2290,673 2284,671 2276,666Z"/>
<path d="M2609,750 2603,758 2594,762 2585,760 2581,759 2574,758 2565,758 2562,767 2560,776 2558,787 2556,798 2556,804 2548,799 2538,800 2525,796 2515,798 2505,810 2503,814 2503,818 2507,824 2511,831 2516,838 2525,845 2539,843 2550,844 2560,837 2569,824 2569,824 2573,831 2578,839 2582,847 2586,855 2591,853 2598,853 2602,848 2609,838 2619,826 2627,829 2632,823 2636,822 2637,819 2642,811 2652,803 2653,794 2653,785 2646,778 2644,769 2642,760 2634,750 2629,740 2621,743Z"/>
<path d="M2576,1004 2574,1011 2573,1024 2569,1035 2566,1043 2571,1055 2576,1061 2583,1066 2583,1067 2589,1073 2595,1079 2603,1081 2611,1082 2621,1079 2628,1083 2641,1081 2651,1080 2645,1072 2639,1064 2633,1057 2627,1051 2623,1045 2618,1039 2621,1028 2626,1020 2625,1014 2624,1007 2620,1002 2616,999 2606,1001 2595,996 2590,999Z"/>
<path d="M3829,955 3825,960 3824,967 3815,969 3802,977 3789,984 3779,989 3776,991 3776,995 3774,1004 3773,1017 3774,1022 3779,1026 3785,1030 3791,1034 3791,1049 3785,1060 3780,1068 3781,1077 3783,1086 3780,1093 3773,1094 3769,1101 3754,1102 3744,1108 3747,1118 3748,1126 3747,1132 3746,1141 3746,1152 3747,1162 3756,1159 3765,1161 3771,1161 3776,1161 3782,1161 3791,1157 3801,1155 3814,1157 3826,1156 3835,1161 3840,1169 3844,1177 3847,1184 3851,1192 3856,1199 3860,1207 3865,1216 3872,1209 3879,1210 3888,1208 3896,1205 3900,1204 3910,1206 3920,1207 3925,1209 3924,1199 3925,1188 3926,1177 3926,1165 3925,1155 3934,1159 3941,1157 3948,1157 3956,1158 3967,1154 3976,1146 3984,1139 3990,1132 3993,1132 3993,1132 3987,1124 3980,1116 3972,1109 3963,1106 3954,1103 3950,1097 3947,1090 3945,1084 3940,1079 3935,1074 3928,1069 3920,1064 3922,1054 3925,1042 3927,1032 3918,1026 3906,1023 3895,1019 3889,1016 3887,1016 3881,1011 3874,1004 3866,997 3858,991 3857,980 3858,971 3860,963 3862,954 3865,945 3851,944 3841,947 3833,953Z"/>
<path d="M3906,890 3901,893 3895,899 3887,905 3878,915 3872,923 3872,924 3870,930 3869,935 3867,944 3865,945 3862,954 3860,963 3858,971 3857,980 3858,991 3866,997 3874,1004 3881,1011 3887,1016 3889,1016 3895,1019 3906,1023 3918,1026 3927,1032 3925,1042 3922,1054 3920,1064 3928,1069 3935,1074 3940,1079 3945,1084 3947,1090 3950,1097 3954,1103 3963,1106 3972,1109 3980,1116 3987,1124 3989,1117 3991,1104 3993,1092 3994,1086 3996,1077 3998,1067 4000,1058 4007,1061 4016,1058 4026,1057 4035,1060 4044,1055 4054,1056 4056,1053 4059,1044 4064,1036 4069,1030 4074,1020 4075,1009 4075,1001 4087,1004 4097,1003 4104,999 4112,994 4119,989 4128,990 4120,984 4114,981 4109,979 4099,977 4087,974 4079,971 4066,964 4058,961 4048,960 4044,959 4032,956 4028,946 4017,946 4011,950 4000,948 3990,948 3982,948 3979,938 3969,929 3961,919 3953,913 3949,906 3945,900 3938,906 3929,908 3925,902 3921,897 3913,894Z"/>
<path d="M2111,1283 2104,1291 2095,1297 2093,1302 2086,1303 2076,1302 2072,1301 2071,1303 2071,1312 2069,1320 2060,1327 2057,1336 2057,1344 2056,1353 2045,1357 2036,1363 2026,1364 2018,1366 2014,1366 2005,1366 1996,1373 1993,1377 1995,1384 1997,1392 1999,1399 2004,1404 2010,1409 2017,1416 2024,1425 2021,1430 2021,1440 2020,1451 2017,1457 2015,1463 2019,1469 2025,1477 2026,1485 2027,1494 2029,1503 2034,1512 2045,1516 2058,1520 2066,1514 2072,1507 2080,1505 2081,1503 2080,1496 2082,1488 2091,1478 2096,1468 2101,1460 2104,1456 2110,1448 2111,1444 2117,1443 2129,1436 2134,1441 2142,1441 2155,1441 2159,1436 2161,1430 2164,1421 2170,1415 2173,1417 2181,1414 2196,1415 2206,1416 2216,1418 2228,1425 2235,1431 2237,1433 2240,1438 2244,1444 2249,1449 2253,1440 2259,1428 2264,1419 2263,1411 2263,1403 2262,1396 2272,1394 2274,1391 2284,1386 2291,1377 2291,1369 2293,1363 2287,1355 2280,1348 2272,1343 2260,1344 2248,1347 2243,1354 2238,1348 2234,1340 2231,1330 2226,1322 2224,1320 2218,1319 2218,1319 2208,1321 2203,1321 2196,1321 2192,1316 2188,1310 2183,1303 2178,1296 2171,1293 2166,1285 2159,1278 2153,1270 2142,1275 2136,1277 2131,1280 2121,1282 2115,1280Z"/>
<path d="M2835,1615 2831,1618 2830,1626 2831,1634 2833,1642 2825,1644 2813,1652 2808,1658 2798,1658 2786,1659 2783,1657 2773,1657 2770,1661 2770,1671 2772,1682 2775,1691 2779,1700 2783,1708 2789,1714 2797,1719 2801,1728 2803,1737 2805,1747 2811,1754 2820,1754 2828,1757 2833,1751 2840,1742 2844,1744 2853,1739 2866,1742 2874,1738 2884,1730 2889,1731 2885,1719 2882,1708 2881,1704 2887,1696 2896,1696 2901,1687 2900,1675 2898,1664 2897,1653 2892,1639 2896,1633 2899,1627 2900,1621 2899,1619 2888,1613 2876,1611 2872,1613 2860,1615 2850,1617 2846,1617Z"/>
<path d="M3525,1212 3512,1211 3504,1206 3503,1214 3499,1221 3494,1224 3494,1231 3496,1239 3497,1251 3496,1262 3489,1268 3484,1275 3492,1279 3499,1286 3505,1292 3507,1300 3509,1307 3511,1315 3513,1323 3524,1322 3534,1325 3540,1322 3545,1332 3547,1332 3550,1323 3554,1319 3560,1317 3571,1313 3584,1312 3594,1304 3605,1304 3611,1300 3612,1300 3620,1301 3629,1300 3637,1293 3648,1293 3656,1289 3663,1288 3663,1282 3664,1273 3664,1262 3665,1252 3665,1244 3661,1234 3656,1226 3650,1220 3637,1224 3624,1226 3617,1228 3611,1227 3605,1225 3598,1223 3590,1228 3574,1236 3564,1236 3559,1229 3553,1226 3544,1221 3537,1215 3532,1213Z"/>
<path d="M3713,1655 3712,1661 3711,1669 3700,1671 3687,1676 3676,1683 3677,1690 3677,1698 3678,1706 3680,1714 3679,1722 3677,1730 3679,1731 3694,1735 3703,1729 3718,1733 3723,1734 3726,1734 3738,1733 3744,1729 3747,1735 3750,1742 3753,1748 3761,1753 3772,1755 3780,1758 3787,1765 3789,1756 3788,1746 3787,1736 3787,1726 3785,1716 3783,1705 3780,1695 3784,1687 3797,1680 3800,1676 3806,1678 3815,1681 3825,1674 3826,1670 3835,1668 3846,1664 3853,1663 3867,1658 3874,1653 3877,1650 3887,1646 3877,1642 3867,1637 3859,1631 3850,1630 3840,1630 3832,1629 3824,1625 3816,1619 3807,1619 3797,1621 3789,1619 3783,1618 3777,1620 3769,1617 3761,1611 3753,1612 3749,1622 3745,1626 3743,1632 3741,1642 3733,1647 3726,1649 3721,1655Z"/>
<path d="M3350,2698 3353,2705 3355,2712 3358,2719 3361,2726 3354,2727 3341,2725 3337,2735 3339,2743 3341,2753 3343,2761 3347,2763 3351,2766 3359,2772 3371,2777 3381,2776 3383,2776 3392,2781 3403,2787 3408,2785 3415,2782 3423,2776 3430,2772 3440,2770 3436,2761 3432,2752 3428,2744 3438,2735 3442,2726 3443,2719 3437,2712 3432,2704 3426,2697 3421,2689 3415,2682 3408,2680 3400,2677 3396,2684 3392,2684 3385,2687 3375,2690 3369,2694 3359,2697Z"/>
<path d="M3481,2638 3481,2646 3479,2656 3475,2670 3476,2677 3479,2681 3479,2692 3480,2697 3474,2699 3464,2707 3459,2710 3454,2709 3443,2719 3442,2726 3438,2735 3428,2744 3432,2752 3436,2761 3440,2770 3453,2768 3461,2770 3471,2772 3478,2771 3484,2768 3493,2768 3501,2771 3503,2776 3504,2769 3508,2761 3512,2754 3511,2743 3513,2731 3516,2723 3525,2711 3529,2704 3536,2701 3545,2691 3552,2686 3551,2678 3549,2666 3545,2662 3541,2658 3537,2653 3532,2640 3525,2638 3517,2633 3508,2631 3501,2628 3496,2625 3490,2633Z"/>
<path d="M3582,2574 3572,2575 3563,2573 3554,2570 3547,2574 3537,2579 3536,2580 3525,2583 3518,2586 3512,2590 3506,2592 3503,2599 3498,2608 3494,2618 3496,2625 3501,2628 3508,2631 3517,2633 3525,2638 3532,2640 3537,2653 3541,2658 3545,2662 3549,2666 3558,2661 3567,2666 3575,2663 3589,2662 3591,2661 3597,2654 3601,2644 3610,2645 3614,2639 3624,2640 3627,2632 3626,2618 3618,2614 3606,2605 3597,2602 3593,2595 3589,2588 3585,2581Z"/>
<path d="M3699,2718 3691,2716 3683,2714 3674,2711 3663,2712 3659,2718 3649,2719 3642,2715 3637,2713 3631,2709 3624,2702 3614,2702 3607,2703 3604,2706 3591,2707 3582,2711 3580,2718 3575,2724 3570,2731 3566,2737 3566,2745 3564,2752 3565,2754 3573,2762 3581,2769 3589,2773 3597,2777 3597,2784 3607,2786 3615,2786 3623,2789 3629,2795 3634,2796 3640,2795 3647,2793 3655,2796 3660,2791 3671,2792 3677,2802 3683,2810 3689,2817 3696,2823 3702,2829 3706,2830 3715,2824 3719,2818 3721,2811 3723,2805 3727,2800 3732,2790 3733,2776 3731,2768 3729,2761 3726,2753 3734,2755 3741,2750 3745,2746 3755,2740 3763,2729 3770,2727 3779,2724 3774,2716 3769,2707 3763,2698 3757,2689 3748,2685 3739,2681 3731,2674 3728,2679 3721,2689 3713,2695 3712,2700 3710,2708 3704,2712Z"/>
<path d="M3707,2835 3706,2830 3702,2829 3692,2834 3679,2833 3671,2834 3664,2829 3653,2824 3647,2829 3643,2823 3640,2816 3627,2818 3618,2828 3612,2826 3601,2829 3602,2833 3605,2840 3609,2847 3610,2857 3611,2866 3612,2876 3616,2885 3618,2887 3623,2893 3631,2898 3639,2903 3647,2909 3652,2915 3659,2924 3662,2927 3671,2928 3681,2934 3690,2939 3700,2945 3709,2950 3714,2958 3718,2965 3722,2973 3726,2981 3731,2975 3734,2970 3730,2963 3727,2954 3725,2942 3725,2930 3718,2929 3716,2919 3714,2909 3714,2901 3714,2893 3713,2887 3713,2887 3710,2881 3706,2875 3703,2869 3698,2863 3702,2857 3704,2847Z"/>
<path d="M3951,2978 3951,2979 3951,2972 3955,2959 3958,2947 3958,2939 3959,2932 3963,2922 3958,2915 3954,2908 3948,2904 3943,2899 3945,2892 3945,2886 3944,2878 3944,2867 3946,2858 3947,2851 3939,2849 3930,2849 3923,2846 3915,2841 3908,2842 3898,2844 3895,2851 3892,2858 3889,2868 3886,2877 3882,2874 3877,2875 3869,2875 3860,2874 3851,2877 3849,2879 3858,2882 3854,2891 3849,2899 3846,2905 3846,2912 3846,2921 3846,2931 3845,2939 3840,2945 3834,2956 3833,2957 3842,2957 3850,2959 3861,2960 3869,2964 3877,2971 3885,2972 3890,2973 3894,2969 3907,2965 3917,2964 3925,2970 3935,2975 3947,2974Z"/>
<path d="M4061,2945 4054,2940 4043,2936 4034,2934 4030,2933 4016,2939 4011,2949 4005,2954 4002,2965 4002,2972 3997,2974 3985,2977 3978,2977 3972,2975 3959,2979 3951,2979 3951,2978 3954,2984 3953,2992 3949,3002 3947,3012 3944,3023 3938,3034 3945,3039 3951,3041 3958,3044 3967,3050 3975,3057 3984,3062 3992,3066 3999,3071 4003,3064 4005,3061 4015,3050 4024,3047 4034,3043 4043,3041 4048,3037 4054,3029 4059,3022 4061,3017 4066,3007 4070,2999 4074,2993 4069,2986 4063,2979 4059,2973 4054,2967 4055,2959 4060,2951Z"/>
</g>
</g>
<g class="lb">
<text x="3783" y="2965">Centola</text>
<text x="3469" y="1351">Nusco</text>
<text x="1570" y="1635">Forio</text>
<text x="1592" y="1597">Lacco Ameno</text>
<text x="1629" y="1616">Casamicciola Terme</text>
<text x="1686" y="1649">Ischia</text>
<text x="1648" y="1670">Barano d'Ischia</text>
<text x="1601" y="1689">Serrara Fontana</text>
<text x="1792" y="1583">Procida</text>
<text x="1756" y="1615">Procida</text>
<text x="2087" y="2011">Anacapri</text>
<text x="2141" y="2009">Capri</text>
<text x="1986" y="144">Capriati a Volturno</text>
<text x="2135" y="140">Gallo Matese</text>
<text x="2069" y="180">Fontegreca</text>
<text x="1975" y="205">Ciorlano</text>
<text x="1745" y="198">San Pietro Infine</text>
<text x="1749" y="276">Mignano Monte Lungo</text>
<text x="1649" y="332">Rocca d'Evandro</text>
<text x="1900" y="351">Presenzano</text>
<text x="1775" y="389">Conca della Campania</text>
<text x="1827" y="409">Tora e Piccilli</text>
<text x="1684" y="409">Galluccio</text>
<text x="1857" y="458">Marzano Appio</text>
<text x="1982" y="421">Vairano Patenora</text>
<text x="2003" y="295">Pratella</text>
<text x="2083" y="243">Prata Sannita</text>
<text x="2069" y="329">Ailano</text>
<text x="2193" y="252">Valle Agricola</text>
<text x="2211" y="198">Letino</text>
<text x="2141" y="339">Raviscanina</text>
<text x="2191" y="386">Sant'Angelo d'Alife</text>
<text x="2069" y="449">Pietravairano</text>
<text x="2173" y="492">Baia e Latina</text>
<text x="1912" y="498">Caianello</text>
<text x="1749" y="520">Roccamonfina</text>
<text x="1653" y="618">Sessa Aurunca</text>
<text x="1862" y="613">Teano</text>
<text x="1996" y="555">Riardo</text>
<text x="2067" y="567">Pietramelara</text>
<text x="2146" y="550">Roccaromana</text>
<text x="2010" y="628">Rocchetta e Croce</text>
<text x="2115" y="658">Formicola</text>
<text x="2211" y="643">Liberi</text>
<text x="2339" y="271">San Gregorio Matese</text>
<text x="2322" y="367">Piedimonte Matese</text>
<text x="2500" y="299">Piedimonte Matese</text>
<text x="2451" y="318">Castello Matese</text>
<text x="2421" y="398">San Potito Sannitico</text>
<text x="2545" y="407">Cusano Mutri</text>
<text x="2646" y="397">Pietraroia</text>
<text x="2434" y="494">Gioia Sannitica</text>
<text x="2277" y="452">Alife</text>
<text x="2242" y="569">Dragoni</text>
<text x="2319" y="614">Alvignano</text>
<text x="2500" y="553">Faicchio</text>
<text x="2489" y="630">San Salvatore Telesino</text>
<text x="2470" y="648">Puglianello</text>
<text x="2597" y="566">San Lorenzello</text>
<text x="2667" y="506">Cerreto Sannita</text>
<text x="2678" y="613">Guardia Sanframondi</text>
<text x="2751" y="566">San Lupo</text>
<text x="2756" y="630">San Lorenzo Maggiore</text>
<text x="2623" y="639">Castelvenere</text>
<text x="2803" y="515">Pontelandolfo</text>
<text x="2834" y="590">Casalduni</text>
<text x="2904" y="524">Campolattaro</text>
<text x="2960" y="553">Fragneto l'Abate</text>
<text x="2925" y="630">Fragneto Monforte</text>
<text x="2820" y="656">Ponte</text>
<text x="2834" y="405">Morcone</text>
<text x="2765" y="351">Sassinoro</text>
<text x="2894" y="320">Santa Croce del Sannio</text>
<text x="2995" y="417">Circello</text>
<text x="3020" y="268">Castelpagano</text>
<text x="3070" y="334">Colle Sannita</text>
<text x="3188" y="226">Castelvetere in Valfortore</text>
<text x="3349" y="255">San Bartolomeo in Galdo</text>
<text x="3216" y="327">Baselice</text>
<text x="3293" y="383">Foiano di Val Fortore</text>
<text x="3331" y="454">Montefalcone di Val Fortore</text>
<text x="3091" y="461">San Marco dei Cavoti</text>
<text x="3176" y="480">Molinara</text>
<text x="3073" y="412">Reino</text>
<text x="3035" y="520">Reino</text>
<text x="3261" y="541">San Giorgio la Molara</text>
<text x="3432" y="541">Ginestra degli Schiavoni</text>
<text x="3457" y="520">Castelfranco in Miscano</text>
<text x="3558" y="585">Greci</text>
<text x="3659" y="600">Montaguto</text>
<text x="3326" y="620">Casalbore</text>
<text x="3113" y="630">Pago Veiano</text>
<text x="3044" y="611">Pesco Sannita</text>
<text x="1532" y="687">Cellole</text>
<text x="1764" y="720">Carinola</text>
<text x="1717" y="809">Falciano del Massico</text>
<text x="1641" y="870">Mondragone</text>
<text x="1860" y="790">Francolise</text>
<text x="1939" y="746">Sparanise</text>
<text x="1972" y="689">Calvi Risorta</text>
<text x="1993" y="766">Pignataro Maggiore</text>
<text x="2069" y="684">Giano Vetusto</text>
<text x="2073" y="736">Camigliano</text>
<text x="2048" y="783">Pastorano</text>
<text x="2073" y="811">Vitulazio</text>
<text x="2139" y="807">Bellona</text>
<text x="2156" y="731">Pontelatone</text>
<text x="2094" y="888">Capua</text>
<text x="1884" y="903">Grazzanise</text>
<text x="1986" y="950">Santa Maria la Fossa</text>
<text x="2073" y="980">San Tammaro</text>
<text x="2153" y="961">Santa Maria Capua Vetere</text>
<text x="2145" y="999">Macerata Campania</text>
<text x="2134" y="1017">Portico di Caserta</text>
<text x="2197" y="905">San Prisco</text>
<text x="2191" y="942">Curti</text>
<text x="2247" y="1041">San Marco Evangelista</text>
<text x="2215" y="1062">Marcianise</text>
<text x="1829" y="976">Cancello e Arnone</text>
<text x="1722" y="1046">Castelvolturno</text>
<text x="1844" y="1121">Villa Literno</text>
<text x="1949" y="1051">Casal di Principe</text>
<text x="1961" y="1071">Villa di Briano</text>
<text x="2045" y="1067">Frignano</text>
<text x="2113" y="1064">Casaluce</text>
<text x="2108" y="1086">Teverola</text>
<text x="2116" y="1104">Carinaro</text>
<text x="1968" y="1105">San Cipriano d'Aversa</text>
<text x="2024" y="1125">San Marcellino</text>
<text x="1912" y="1140">Casapesenna</text>
<text x="2027" y="1142">Trentola Ducenta</text>
<text x="2095" y="1161">Aversa</text>
<text x="2066" y="1179">Lusciano</text>
<text x="2118" y="1182">Cesa</text>
<text x="2010" y="1191">Parete</text>
<text x="2125" y="1217">Sant'Antimo</text>
<text x="2222" y="1114">Gricignano d'Aversa</text>
<text x="2165" y="1132">Succivo</text>
<text x="2180" y="1189">Sant'Arpino</text>
<text x="1891" y="1219">Giugliano in Campania</text>
<text x="2263" y="726">Castel di Sasso</text>
<text x="2270" y="764">Piana di Monte Verna</text>
<text x="2352" y="736">Caiazzo</text>
<text x="2406" y="677">Ruviano</text>
<text x="2482" y="696">Amorosi</text>
<text x="2562" y="687">Telese Terme</text>
<text x="2611" y="727">Solopaca</text>
<text x="2529" y="760">Melizzano</text>
<text x="2441" y="780">Castel Campagnano</text>
<text x="2585" y="811">Frasso Telesino</text>
<text x="2465" y="827">Dugenta</text>
<text x="2395" y="834">Limatola</text>
<text x="2312" y="854">Castel Morrone</text>
<text x="2327" y="928">Caserta</text>
<text x="2245" y="935">Casagiove</text>
<text x="2240" y="989">Recale</text>
<text x="2235" y="1017">Capodrise</text>
<text x="2367" y="1046">Maddaloni</text>
<text x="2409" y="956">Valle di Maddaloni</text>
<text x="2458" y="987">Durazzano</text>
<text x="2517" y="896">Sant'Agata dei Goti</text>
<text x="2594" y="942">Moiano</text>
<text x="2651" y="961">Bucciano</text>
<text x="2709" y="943">Bonea</text>
<text x="2637" y="990">Airola</text>
<text x="2709" y="881">Tocco Caudio</text>
<text x="2716" y="807">Cautano</text>
<text x="2723" y="757">Vitulano</text>
<text x="2768" y="696">Paupisi</text>
<text x="2834" y="717">Torrecuso</text>
<text x="2824" y="785">Foglianise</text>
<text x="2960" y="807">Benevento</text>
<text x="2850" y="848">Castelpoto</text>
<text x="2862" y="877">Campoli del Monte Taburno</text>
<text x="2855" y="924">Apollosa</text>
<text x="2939" y="943">San Leucio del Sannio</text>
<text x="2915" y="996">Ceppaloni</text>
<text x="2775" y="980">Montesarchio</text>
<text x="2862" y="1029">Roccabascerana</text>
<text x="2918" y="1065">Arpaise</text>
<text x="2650" y="1029">Paolisi</text>
<text x="2676" y="1048">Rotondi</text>
<text x="2559" y="1032">Forchia</text>
<text x="2549" y="1050">Arienzo</text>
<text x="2583" y="1037">Arpaia</text>
<text x="2441" y="1024">Cervino</text>
<text x="2451" y="1065">Santa Maria a Vico</text>
<text x="2482" y="1107">San Felice a Cancello</text>
<text x="2723" y="1074">Cervinara</text>
<text x="2803" y="1048">San Martino Valle Caudina</text>
<text x="2838" y="1100">Pannarano</text>
<text x="2897" y="1121">Pietrastornina</text>
<text x="2967" y="1104">Altavilla Irpina</text>
<text x="2945" y="1140">Prata di Principato Ultra</text>
<text x="2866" y="1163">Sant'Angelo a Scala</text>
<text x="2894" y="1196">Summonte</text>
<text x="2597" y="1142">Roccarainola</text>
<text x="2688" y="1154">Avella</text>
<text x="2751" y="1165">Baiano</text>
<text x="2813" y="1144">Sperone</text>
<text x="2765" y="1184">Sirignano</text>
<text x="2800" y="1203">Quadrelle</text>
<text x="2786" y="1229">Mugnano del Cardinale</text>
<text x="2569" y="1173">Cicciano</text>
<text x="2643" y="1194">Tufino</text>
<text x="2573" y="1198">Camposano</text>
<text x="2564" y="1219">Cimitile</text>
<text x="2667" y="1219">Sperone</text>
<text x="2475" y="1233">Marigliano</text>
<text x="2376" y="1173">Acerra</text>
<text x="2263" y="1158">Caivano</text>
<text x="2242" y="1140">Orta d'Atella</text>
<text x="2221" y="1226">Cardito</text>
<text x="3064" y="705">Pietrelcina</text>
<text x="3139" y="757">Paduli</text>
<text x="3254" y="760">Sant'Arcangelo Trimonte</text>
<text x="3261" y="699">Buonalbergo</text>
<text x="3356" y="706">Montecalvo Irpino</text>
<text x="3491" y="767">Ariano Irpino</text>
<text x="3610" y="678">Savignano Irpino</text>
<text x="3241" y="870">Apice</text>
<text x="3359" y="888">Melito Irpino</text>
<text x="3286" y="931">Bonito</text>
<text x="3112" y="896">San Giorgio del Sannio</text>
<text x="3070" y="915">San Nicola Manfredi</text>
<text x="3146" y="936">Calvi</text>
<text x="3003" y="961">Sant'Angelo a Cupolo</text>
<text x="3052" y="992">San Martino Sannita</text>
<text x="3129" y="1011">Pietradefusi</text>
<text x="3185" y="989">Venticano</text>
<text x="3286" y="1017">Mirabella Eclano</text>
<text x="3390" y="975">Grottaminarda</text>
<text x="3547" y="881">Villanova del Battista</text>
<text x="3638" y="861">Zungoli</text>
<text x="3509" y="956">Flumeri</text>
<text x="3645" y="924">San Sossio Baronia</text>
<text x="3687" y="945">Vallesaccarda</text>
<text x="3774" y="938">Scampitella</text>
<text x="3617" y="983">San Nicola Baronia</text>
<text x="3662" y="1003">Trevico</text>
<text x="3572" y="1020">Castel Baronia</text>
<text x="3624" y="1065">Carife</text>
<text x="3722" y="1041">Vallata</text>
<text x="3502" y="1053">Sturno</text>
<text x="3483" y="1114">Frigento</text>
<text x="3554" y="1107">Frigento</text>
<text x="3394" y="1114">Gesualdo</text>
<text x="3336" y="1086">Fontanarosa</text>
<text x="3281" y="1118">Sant'Angelo all' Esca</text>
<text x="3244" y="1072">Taurasi</text>
<text x="3181" y="1053">Torre le Nocelle</text>
<text x="3080" y="1039">Montefusco</text>
<text x="3098" y="1076">Santa Paolina</text>
<text x="3028" y="1076">Tufo</text>
<text x="3159" y="1100">Montemiletto</text>
<text x="3206" y="1153">Lapio</text>
<text x="3279" y="1139">Luogosano</text>
<text x="3227" y="1189">San Mango sul Calore</text>
<text x="3352" y="1184">Paternopoli</text>
<text x="3439" y="1165">Villamaina</text>
<text x="3547" y="1175">Rocca San Felice</text>
<text x="3662" y="1158">Guardia Lombardi</text>
<text x="3443" y="1229">Torella dei Lombardi</text>
<text x="3080" y="1137">Pratola Serra</text>
<text x="3127" y="1172">Montefalcione</text>
<text x="3139" y="1217">Candida</text>
<text x="3063" y="1222">Manocalzati</text>
<text x="3031" y="1191">Montefredane</text>
<text x="3272" y="1229">Castelvetere sul Calore</text>
<text x="3990" y="997">Lacedonia</text>
<text x="3858" y="1092">Bisaccia</text>
<text x="4110" y="1079">Monteverde</text>
<text x="4034" y="1147">Aquilonia</text>
<text x="3803" y="1224">Andretta</text>
<text x="1978" y="1257">Qualiano</text>
<text x="1964" y="1285">Villaricca</text>
<text x="2047" y="1267">Villaricca</text>
<text x="2047" y="1286">Calvizzano</text>
<text x="2152" y="1260">Mugnano di Napoli</text>
<text x="2145" y="1298">Melito di Napoli</text>
<text x="2178" y="1278">Arzano</text>
<text x="2166" y="1318">Casavatore</text>
<text x="2040" y="1321">Marano di Napoli</text>
<text x="1967" y="1340">Quarto</text>
<text x="1906" y="1394">Pozzuoli</text>
<text x="1861" y="1473">Bacoli</text>
<text x="1849" y="1508">Monte di Procida</text>
<text x="2167" y="1366">Napoli</text>
<text x="2263" y="1253">Afragola</text>
<text x="2235" y="1304">Casoria</text>
<text x="2360" y="1290">Pomigliano d'Arco</text>
<text x="2345" y="1309">Casalnuovo di Napoli</text>
<text x="2298" y="1340">Volla</text>
<text x="2336" y="1363">Sant'Anastasia</text>
<text x="2458" y="1359">Somma Vesuviana</text>
<text x="2315" y="1382">Cercola</text>
<text x="2406" y="1391">Pollena Trocchia</text>
<text x="2367" y="1426">Massa di Somma</text>
<text x="2270" y="1407">San Sebastiano al Vesuvio</text>
<text x="2287" y="1445">San Giorgio a Cremano</text>
<text x="2292" y="1469">Portici</text>
<text x="2357" y="1464">Ercolano</text>
<text x="2420" y="1253">Brusciano</text>
<text x="2514" y="1260">San Vitaliano</text>
<text x="2503" y="1290">Scisciano</text>
<text x="2538" y="1314">Saviano</text>
<text x="2549" y="1241">Nola</text>
<text x="2684" y="1272">Visciano</text>
<text x="2716" y="1295">Marzano di Nola</text>
<text x="2636" y="1307">Liveri</text>
<text x="2765" y="1314">Taurano</text>
<text x="2667" y="1346">Domicella</text>
<text x="2615" y="1365">Carbonara di Nola</text>
<text x="2705" y="1365">Lauro</text>
<text x="2806" y="1363">Moschiano</text>
<text x="2629" y="1391">Palma Campania</text>
<text x="2643" y="1410">San Gennaro Vesuviano</text>
<text x="2786" y="1412">Quindici</text>
<text x="2517" y="1407">Ottaviano</text>
<text x="2538" y="1450">San Giuseppe Vesuviano</text>
<text x="2510" y="1502">Terzigno</text>
<text x="2604" y="1495">Poggiomarino</text>
<text x="2650" y="1478">Striano</text>
<text x="2726" y="1471">Sarno</text>
<text x="2688" y="1518">San Valentino Torio</text>
<text x="2688" y="1562">San Marzano sul Sarno</text>
<text x="2695" y="1605">Pagani</text>
<text x="2782" y="1602">Nocera Inferiore</text>
<text x="2639" y="1624">Angri</text>
<text x="2629" y="1644">Sant'Egidio del Monte Albino</text>
<text x="2681" y="1687">Corbara</text>
<text x="2801" y="1640">Nocera Superiore</text>
<text x="2820" y="1497">Siano</text>
<text x="2817" y="1536">Castel San Giorgio</text>
<text x="2819" y="1584">Roccapiemonte</text>
<text x="2845" y="1698">Cava dei Tirreni</text>
<text x="2583" y="1584">Scafati</text>
<text x="2526" y="1614">Pompei</text>
<text x="2601" y="1663">Sant'Antonio Abate</text>
<text x="2559" y="1551">Boscoreale</text>
<text x="2486" y="1534">Boscotrecase</text>
<text x="2441" y="1553">Trecase</text>
<text x="2378" y="1534">Torre del Greco</text>
<text x="2470" y="1597">Torre Annunziata</text>
<text x="2465" y="1743">Castellammare di Stabia</text>
<text x="2512" y="1682">Santa Maria La Carità</text>
<text x="2618" y="1701">Lettere</text>
<text x="2590" y="1720">Casola di Napoli</text>
<text x="2594" y="1739">Gragnano</text>
<text x="2556" y="1780">Pimonte</text>
<text x="2461" y="1799">Vico Equense</text>
<text x="2660" y="1788">Scala</text>
<text x="2695" y="1766">Ravello</text>
<text x="2723" y="1792">Minori</text>
<text x="2730" y="1719">Tramonti</text>
<text x="2772" y="1781">Maiori</text>
<text x="2827" y="1795">Cetara</text>
<text x="2855" y="1764">Vietri sul Mare</text>
<text x="2953" y="1624">Baronissi</text>
<text x="2928" y="1677">Pellezzano</text>
<text x="2862" y="1555">Mercato San Severino</text>
<text x="2970" y="1553">Fisciano</text>
<text x="2845" y="1457">Bracigliano</text>
<text x="2942" y="1457">Montoro Inferiore</text>
<text x="2993" y="1478">Montoro Superiore</text>
<text x="2888" y="1387">Forino</text>
<text x="2880" y="1265">Mercogliano</text>
<text x="2855" y="1325">Monteforte Irpino</text>
<text x="2967" y="1281">Avellino</text>
<text x="3012" y="1347">Aiello del Sabato</text>
<text x="2960" y="1377">Contrada</text>
<text x="3052" y="1255">San Potito Ultra</text>
<text x="3051" y="1285">Atripalda</text>
<text x="3052" y="1318">Cesinali</text>
<text x="3162" y="1337">Santo Stefano del Sole</text>
<text x="3115" y="1391">Santa Lucia di Serino</text>
<text x="3159" y="1441">Serino</text>
<text x="3195" y="1251">Chiusano San Domenico</text>
<text x="3148" y="1283">Salza Irpina</text>
<text x="3138" y="1302">Sorbo Serpico</text>
<text x="3307" y="1293">Montemarano</text>
<text x="3383" y="1269">Castelfranci</text>
<text x="3575" y="1260">Sant'Angelo dei Lombardi</text>
<text x="3701" y="1279">Morra de Sanctis</text>
<text x="3209" y="1372">Volturara Irpina</text>
<text x="3343" y="1353">Cassano Irpino</text>
<text x="3307" y="1454">Montella</text>
<text x="3446" y="1494">Bagnoli Irpino</text>
<text x="3575" y="1386">Lioni</text>
<text x="3680" y="1389">Teora</text>
<text x="3793" y="1356">Conza della Campania</text>
<text x="3678" y="1468">Caposele</text>
<text x="3800" y="1466">Castelnuovo di Conza</text>
<text x="3586" y="1553">Calabritto</text>
<text x="3709" y="1602">Valva</text>
<text x="3811" y="1563">Laviano</text>
<text x="3755" y="1684">Colliano</text>
<text x="3582" y="1638">Senerchia</text>
<text x="3415" y="1630">Acerno</text>
<text x="3512" y="1788">Campagna</text>
<text x="3624" y="1729">Oliveto Citra</text>
<text x="3749" y="1780">Palomonte</text>
<text x="3342" y="1781">Olevano sul Tusciano</text>
<text x="3073" y="1457">Solofra</text>
<text x="3063" y="1556">Calvanico</text>
<text x="3241" y="1614">Giffoni Valle Piana</text>
<text x="3125" y="1631">Giffoni Sei Casali</text>
<text x="3077" y="1654">Castiglione dei Genovesi</text>
<text x="3101" y="1703">San Cipriano Picentino</text>
<text x="3066" y="1720">San Mango Piemonte</text>
<text x="3019" y="1757">Salerno</text>
<text x="3265" y="1734">Montecorvino Rovella</text>
<text x="3209" y="1799">Montecorvino Pugliano</text>
<text x="3986" y="1262">Calitri</text>
<text x="3870" y="1319">Cairano</text>
<text x="3870" y="1405">Sant'Andrea di Conza</text>
<text x="3835" y="1490">Santomenna</text>
<text x="3887" y="1759">San Gregorio Magno</text>
<text x="4006" y="1778">Ricigliano</text>
<text x="2404" y="1830">Meta di Sorrento</text>
<text x="2446" y="1863">Piano di Sorrento</text>
<text x="2427" y="1882">Sant'Agnello</text>
<text x="2348" y="1870">Sorrento</text>
<text x="2315" y="1915">Massa Lubrense</text>
<text x="2515" y="1844">Positano</text>
<text x="2596" y="1831">Agerola</text>
<text x="2575" y="1880">Praiano</text>
<text x="2629" y="1875">Furore</text>
<text x="2665" y="1893">Conca dei Marini</text>
<text x="2676" y="1844">Amalfi</text>
<text x="3129" y="1868">Pontecagnano Faiano</text>
<text x="3209" y="1887">Bellizzi</text>
<text x="3239" y="1925">Battipaglia</text>
<text x="3293" y="1992">Eboli</text>
<text x="3519" y="1967">Serre</text>
<text x="3636" y="1992">Postiglione</text>
<text x="3662" y="1817">Contursi Terme</text>
<text x="3758" y="1953">Sicignano degli Alburni</text>
<text x="3476" y="2060">Altavilla Silentina</text>
<text x="3612" y="2084">Controne</text>
<text x="3678" y="2114">Castelcivita</text>
<text x="3772" y="2131">Ottati</text>
<text x="3457" y="2149">Albanella</text>
<text x="3333" y="2224">Capaccio</text>
<text x="3545" y="2229">Roccadaspide</text>
<text x="3497" y="2305">Trentinara</text>
<text x="3439" y="2346">Giungano</text>
<text x="3681" y="2218">Aquara</text>
<text x="3645" y="2278">Castel San Lorenzo</text>
<text x="3760" y="2279">Bellosguardo</text>
<text x="3687" y="2342">Felitto</text>
<text x="3870" y="1858">Buccino</text>
<text x="3980" y="1864">Romagnano al Monte</text>
<text x="3988" y="1917">Salvitelle</text>
<text x="3957" y="1992">Auletta</text>
<text x="4060" y="1988">Caggiano</text>
<text x="3995" y="2020">Pertosa</text>
<text x="3887" y="2060">Petina</text>
<text x="4060" y="2093">Polla</text>
<text x="3849" y="2182">Sant'Angelo a Fasanella</text>
<text x="3917" y="2220">Corleto Monforte</text>
<text x="4042" y="2159">Sant'Arsenio</text>
<text x="4108" y="2232">Sant'Arsenio</text>
<text x="4016" y="2201">San Pietro al Tanagro</text>
<text x="4149" y="2199">Atena Lucana</text>
<text x="4014" y="2264">San Rufo</text>
<text x="4070" y="2349">Teggiano</text>
<text x="4236" y="2318">Sala Consilina</text>
<text x="3842" y="2311">Roscigno</text>
<text x="3908" y="2351">Sacco</text>
<text x="3314" y="2422">Agropoli</text>
<text x="3387" y="2397">Ogliastro Cilento</text>
<text x="3484" y="2411">Cicerale</text>
<text x="3580" y="2394">Monteforte Cilento</text>
<text x="3673" y="2420">Magliano Vetere</text>
<text x="3418" y="2462">Prignano Cilento</text>
<text x="3380" y="2481">Torchiara</text>
<text x="3335" y="2504">Laureana Cilento</text>
<text x="3439" y="2516">Rutino</text>
<text x="3423" y="2546">Lustra</text>
<text x="3512" y="2514">Perito</text>
<text x="3593" y="2516">Orria</text>
<text x="3694" y="2488">Stio</text>
<text x="3767" y="2528">Campora</text>
<text x="3641" y="2565">Gioi</text>
<text x="3718" y="2601">Moio della Civitella</text>
<text x="3787" y="2619">Cannalonga</text>
<text x="3223" y="2559">Castellabate</text>
<text x="3308" y="2563">Perdifumo</text>
<text x="3281" y="2640">Montecorice</text>
<text x="3380" y="2640">Serramezzana</text>
<text x="3418" y="2591">Sessa Cilento</text>
<text x="3464" y="2620">Omignano</text>
<text x="3443" y="2668">Stella Cilento</text>
<text x="3359" y="2687">San Mauro Cilento</text>
<text x="3396" y="2735">Pollica</text>
<text x="3502" y="2709">Casalvelino</text>
<text x="3568" y="2624">Salento</text>
<text x="3575" y="2692">Castelnuovo Cilento</text>
<text x="3680" y="2671">Vallo della Lucania</text>
<text x="3823" y="2683">Novi Velia</text>
<text x="3667" y="2744">Ceraso</text>
<text x="3767" y="2770">Cuccaro Vetere</text>
<text x="3617" y="2814">Ascea</text>
<text x="3784" y="2826">Futani</text>
<text x="3732" y="2878">San Mauro la Bruca</text>
<text x="3680" y="2899">Pisciotta</text>
<text x="3939" y="2453">Piaggine</text>
<text x="4074" y="2429">Monte San Giacomo</text>
<text x="4199" y="2472">Sassano</text>
<text x="4316" y="2434">Padula</text>
<text x="4260" y="2551">Buonabitacolo</text>
<text x="4417" y="2586">Montesano sulla Marcellana</text>
<text x="4147" y="2620">Sanza</text>
<text x="3833" y="2486">Laurino</text>
<text x="3905" y="2525">Valle dell'Angelo</text>
<text x="3966" y="2695">Rofrano</text>
<text x="4140" y="2746">Caselle in Pittari</text>
<text x="4304" y="2760">Casaletto Spartano</text>
<text x="4368" y="2681">Casalbuono</text>
<text x="4340" y="2840">Tortorella</text>
<text x="4131" y="2831">Morigerati</text>
<text x="4047" y="2852">Torre Orsaia</text>
<text x="3978" y="2882">Roccagloriosa</text>
<text x="3999" y="2753">Roccagloriosa</text>
<text x="3960" y="2774">Alfano</text>
<text x="3929" y="2798">Laurito</text>
<text x="3870" y="2817">Montano Antilia</text>
<text x="4114" y="2917">Santa Marina</text>
<text x="4218" y="2922">Vibonati</text>
<text x="4291" y="2908">Torraca</text>
<text x="3901" y="2920">Celle di Bulgheria</text>
<text x="3867" y="3047">Camerota</text>
<text x="4006" y="3011">San Giovanni a Piro</text>
<text x="4160" y="2946">Ispani</text>
<text x="4311" y="2990">Sapri</text>
</g>
<rect x="51" y="112" width="4532" height="3166" fill="none" stroke="#000" stroke-width="6.5" stroke-linejoin="round"/>
<g id="legend">
<rect x="95" y="173.5" width="154.5" height="81" fill="#fff" stroke="#000" stroke-width="5.5" stroke-linejoin="round"/>
<text class="lg" x="281.0" y="233.6">Confini comunali</text>
<rect x="94.5" y="289.5" width="155" height="80" fill="#fff" stroke="#6e6e6e" stroke-width="5" stroke-linejoin="round"/>
<text class="lg" x="277.0" y="349.6">Area agglomerato</text>
<rect class="sw" x="95.0" y="396.6" width="156.0" height="77.3" fill="#9c5e3e"/>
<text class="lg" x="279.5" y="454.8">Bisaccia Nord</text>
<rect class="sw" x="95.0" y="502.7" width="156.0" height="77.3" fill="#40c040"/>
<text class="lg" x="279.5" y="560.9">Bisaccia Sud</text>
<rect class="sw" x="95.0" y="608.7" width="156.0" height="77.3" fill="#a82eb0"/>
<text class="lg" x="279.5" y="666.9">Casalvelino 1</text>
<rect class="sw" x="95.0" y="714.8" width="156.0" height="77.3" fill="#6e9c30"/>
<text class="lg" x="279.5" y="773.0">Casalvelino 2</text>
<rect class="sw" x="95.0" y="820.8" width="156.0" height="77.3" fill="#40c450"/>
<text class="lg" x="279.5" y="879.0">Celle di Bulgheria 1</text>
<rect class="sw" x="95.0" y="926.9" width="156.0" height="77.3" fill="#44c030"/>
<text class="lg" x="279.5" y="985.1">Celle di Bulgheria 2</text>
<rect class="sw" x="95.0" y="1033.0" width="156.0" height="77.3" fill="#3aaa82"/>
<text class="lg" x="279.5" y="1091.2">Centola 1</text>
<rect class="sw" x="95.0" y="1139.0" width="156.0" height="77.3" fill="#c02ac8"/>
<text class="lg" x="279.5" y="1197.2">Centola 2</text>
<rect class="sw" x="95.0" y="1245.1" width="156.0" height="77.3" fill="#48b070"/>
<text class="lg" x="279.5" y="1303.3">Ceraso 1</text>
<rect class="sw" x="95.0" y="1351.1" width="156.0" height="77.3" fill="#a0ac40"/>
<text class="lg" x="279.5" y="1409.3">Ceraso 2</text>
<rect class="sw" x="95.0" y="1457.2" width="156.0" height="77.3" fill="#52ac30"/>
<text class="lg" x="279.5" y="1515.4">Colliano 1</text>
<rect class="sw" x="95.0" y="1563.3" width="156.0" height="77.3" fill="#7e3a9a"/>
<text class="lg" x="279.5" y="1621.5">Colliano 2</text>
<rect class="sw" x="104.3" y="1671.4" width="155.7" height="76.0" fill="#7e3a9a"/>
<text class="lg" x="282.0" y="1729.0">Cusano Mutri 1</text>
<rect class="sw" x="104.3" y="1777.3" width="155.7" height="75.9" fill="#52ac30"/>
<text class="lg" x="282.0" y="1834.8">Cusano Mutri 2</text>
<rect class="sw" x="104.3" y="1883.1" width="151.3" height="76.0" fill="#a87004"/>
<text class="lg" x="286.5" y="1940.7">Frasso Telesino 1</text>
<rect class="sw" x="104.3" y="1988.5" width="151.3" height="76.8" fill="#a8a804"/>
<text class="lg" x="286.5" y="2046.5">Frasso Telesino 2</text>
<rect class="sw" x="104.3" y="2094.4" width="151.3" height="76.8" fill="#5a8a94"/>
<text class="lg" x="294.0" y="2152.4">Lacedonia 1</text>
<rect class="sw" x="104.3" y="2200.2" width="151.3" height="76.0" fill="#38a804"/>
<text class="lg" x="294.0" y="2257.8">Lacedonia 2</text>
<rect class="sw" x="104.3" y="2306.1" width="151.3" height="76.0" fill="#a80084"/>
<text class="lg" x="294.0" y="2363.7">Napoli Est</text>
<rect class="sw" x="104.3" y="2411.1" width="151.3" height="76.9" fill="#a87004"/>
<text class="lg" x="294.0" y="2469.2">Napoli Nord</text>
<rect class="sw" x="104.3" y="2517.0" width="151.3" height="76.0" fill="#a8a804"/>
<text class="lg" x="294.0" y="2574.6">Napoli Ovest</text>
<rect class="sw" x="104.3" y="2623.7" width="155.7" height="76.0" fill="#48b474"/>
<text class="lg" x="294.0" y="2681.3">Nocera Inferiore</text>
<rect class="sw" x="104.3" y="2729.1" width="151.3" height="76.0" fill="#00206c"/>
<text class="lg" x="294.0" y="2786.7">Nocera Inferiore</text>
<rect class="sw" x="104.3" y="2834.6" width="151.3" height="76.4" fill="#044c74"/>
<text class="lg" x="294.0" y="2892.4">Nusco 1</text>
<rect class="sw" x="104.3" y="2940.4" width="151.3" height="76.0" fill="#e40000"/>
<text class="lg" x="294.0" y="2998.0">Nusco 2</text>
<rect class="sw" x="105.6" y="3046.3" width="150.9" height="76.0" fill="#a80084"/>
<text class="lg" x="294.0" y="3103.9">Piana di Monte Verna 1</text>
<rect class="sw" x="105.6" y="3151.3" width="150.9" height="76.9" fill="#044c74"/>
<text class="lg" x="294.0" y="3209.3">Piana di Monte Verna 2</text>
<rect class="sw" x="911.6" y="1458.3" width="150.9" height="77.3" fill="#8404a8"/>
<text class="lg" x="1100.0" y="1516.5">Pietravairano 1</text>
<rect class="sw" x="911.6" y="1572.0" width="150.9" height="76.5" fill="#044c74"/>
<text class="lg" x="1100.0" y="1629.8">Pietravairano 2</text>
<rect class="sw" x="911.6" y="1684.4" width="150.9" height="76.5" fill="#a87c04"/>
<text class="lg" x="1100.0" y="1742.2">Pisciotta</text>
<rect class="sw" x="911.6" y="1797.3" width="150.9" height="76.0" fill="#9ca804"/>
<text class="lg" x="1100.0" y="1854.9">Pisciotta zona 2</text>
<rect class="sw" x="911.6" y="1910.2" width="154.8" height="76.4" fill="#52ac34"/>
<text class="lg" x="1100.0" y="1968.0">Pollica</text>
<rect class="sw" x="911.6" y="2023.8" width="150.9" height="75.5" fill="#a804e8"/>
<text class="lg" x="1100.0" y="2081.2">Pollica zona 2</text>
<rect class="sw" x="911.6" y="2136.6" width="150.9" height="75.6" fill="#740000"/>
<text class="lg" x="1100.0" y="2194.0">Roccamonfina 1</text>
<rect class="sw" x="911.6" y="2249.5" width="150.9" height="75.5" fill="#044c74"/>
<text class="lg" x="1100.0" y="2306.8">Roccamonfina 2</text>
<rect class="sw" x="911.6" y="2362.3" width="150.9" height="75.6" fill="#ffff00"/>
<text class="lg" x="1100.0" y="2419.7">Roccamonfina 3</text>
<rect class="sw" x="911.6" y="2474.7" width="150.9" height="76.0" fill="#5a8a94"/>
<text class="lg" x="1100.0" y="2532.3">Salento 1</text>
<rect class="sw" x="911.6" y="2587.6" width="150.9" height="75.4" fill="#044cac"/>
<text class="lg" x="1100.0" y="2644.9">Salento 2</text>
<rect class="sw" x="911.6" y="2700.3" width="150.9" height="76.0" fill="#aca804"/>
<text class="lg" x="1100.0" y="2757.9">San Giovanni a Piro</text>
<rect class="sw" x="911.6" y="2813.2" width="150.9" height="76.0" fill="#a87004"/>
<text class="lg" x="1100.0" y="2870.8">San Giovanni a Piro zona 2</text>
<rect class="sw" x="911.6" y="2926.0" width="150.9" height="76.5" fill="#8404a8"/>
<text class="lg" x="1100.0" y="2983.8">San Giovanni a Piro zona 3</text>
<rect class="sw" x="911.6" y="3038.5" width="150.9" height="76.8" fill="#aca804"/>
<text class="lg" x="1100.0" y="3096.5">Sant'Angelo dei Lombardi 1</text>
<rect class="sw" x="911.6" y="3150.9" width="154.8" height="77.3" fill="#48b474"/>
<text class="lg" x="1100.0" y="3209.2">Sant'Angelo dei Lombardi 2</text>
</g></svg></body></html>
